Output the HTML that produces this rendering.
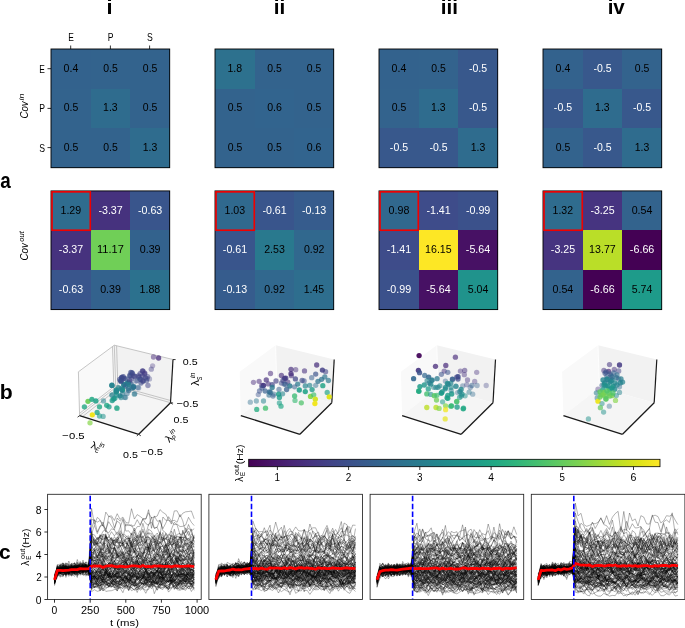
<!DOCTYPE html>
<html><head><meta charset="utf-8"><style>
html,body{margin:0;padding:0;background:#fff;}
body{width:685px;height:628px;overflow:hidden;}
svg{display:block;font-family:"Liberation Sans", sans-serif;will-change:transform;}
</style></head><body>
<svg width="685" height="628" viewBox="0 0 685 628">
<text x="106.47" y="14.40" font-size="20.00" font-weight="bold" textLength="6.06" lengthAdjust="spacingAndGlyphs">i</text>
<text x="273.75" y="14.40" font-size="20.00" font-weight="bold" textLength="11.52" lengthAdjust="spacingAndGlyphs">ii</text>
<text x="440.85" y="14.40" font-size="20.00" font-weight="bold" textLength="17.21" lengthAdjust="spacingAndGlyphs">iii</text>
<text x="607.66" y="14.40" font-size="20.00" font-weight="bold" textLength="17.12" lengthAdjust="spacingAndGlyphs">iv</text>
<text x="0.13" y="188.29" font-size="21.19" font-weight="bold" textLength="10.50" lengthAdjust="spacingAndGlyphs">a</text>
<text x="-0.18" y="398.90" font-size="20.41" font-weight="bold" textLength="12.94" lengthAdjust="spacingAndGlyphs">b</text>
<text x="-1.04" y="559.40" font-size="20.09" font-weight="bold" textLength="11.64" lengthAdjust="spacingAndGlyphs">c</text>
<rect x="51.00" y="49.00" width="40.17" height="40.17" fill="#33628d" shape-rendering="crispEdges"/>
<rect x="90.57" y="49.00" width="40.17" height="40.17" fill="#33638d" shape-rendering="crispEdges"/>
<rect x="130.13" y="49.00" width="40.17" height="40.17" fill="#33638d" shape-rendering="crispEdges"/>
<rect x="51.00" y="88.57" width="40.17" height="40.17" fill="#33638d" shape-rendering="crispEdges"/>
<rect x="90.57" y="88.57" width="40.17" height="40.17" fill="#2f6c8e" shape-rendering="crispEdges"/>
<rect x="130.13" y="88.57" width="40.17" height="40.17" fill="#33638d" shape-rendering="crispEdges"/>
<rect x="51.00" y="128.13" width="40.17" height="40.17" fill="#33638d" shape-rendering="crispEdges"/>
<rect x="90.57" y="128.13" width="40.17" height="40.17" fill="#33638d" shape-rendering="crispEdges"/>
<rect x="130.13" y="128.13" width="40.17" height="40.17" fill="#2f6c8e" shape-rendering="crispEdges"/>
<text x="63.58" y="71.78" font-size="10.17" textLength="14.68" lengthAdjust="spacingAndGlyphs">0.4</text>
<text x="103.29" y="71.78" font-size="10.17" textLength="14.52" lengthAdjust="spacingAndGlyphs">0.5</text>
<text x="142.86" y="71.78" font-size="10.17" textLength="14.52" lengthAdjust="spacingAndGlyphs">0.5</text>
<text x="63.73" y="111.35" font-size="10.17" textLength="14.52" lengthAdjust="spacingAndGlyphs">0.5</text>
<text x="103.12" y="111.35" font-size="10.17" textLength="14.53" lengthAdjust="spacingAndGlyphs">1.3</text>
<text x="142.86" y="111.35" font-size="10.17" textLength="14.52" lengthAdjust="spacingAndGlyphs">0.5</text>
<text x="63.73" y="150.91" font-size="10.17" textLength="14.52" lengthAdjust="spacingAndGlyphs">0.5</text>
<text x="103.29" y="150.91" font-size="10.17" textLength="14.52" lengthAdjust="spacingAndGlyphs">0.5</text>
<text x="142.68" y="150.91" font-size="10.17" textLength="14.53" lengthAdjust="spacingAndGlyphs">1.3</text>
<rect x="51.00" y="49.00" width="118.70" height="118.70" fill="none" stroke="#000" stroke-width="0.9"/>
<rect x="51.00" y="190.90" width="40.17" height="40.17" fill="#2f6c8e" shape-rendering="crispEdges"/>
<rect x="90.57" y="190.90" width="40.17" height="40.17" fill="#46327e" shape-rendering="crispEdges"/>
<rect x="130.13" y="190.90" width="40.17" height="40.17" fill="#39558c" shape-rendering="crispEdges"/>
<rect x="51.00" y="230.47" width="40.17" height="40.17" fill="#46327e" shape-rendering="crispEdges"/>
<rect x="90.57" y="230.47" width="40.17" height="40.17" fill="#70cf57" shape-rendering="crispEdges"/>
<rect x="130.13" y="230.47" width="40.17" height="40.17" fill="#33628d" shape-rendering="crispEdges"/>
<rect x="51.00" y="270.03" width="40.17" height="40.17" fill="#39558c" shape-rendering="crispEdges"/>
<rect x="90.57" y="270.03" width="40.17" height="40.17" fill="#33628d" shape-rendering="crispEdges"/>
<rect x="130.13" y="270.03" width="40.17" height="40.17" fill="#2c718e" shape-rendering="crispEdges"/>
<text x="60.47" y="213.68" font-size="10.17" textLength="20.72" lengthAdjust="spacingAndGlyphs">1.29</text>
<text x="98.42" y="213.68" font-size="10.17" fill="#fff" textLength="24.33" lengthAdjust="spacingAndGlyphs">-3.37</text>
<text x="137.96" y="213.68" font-size="10.17" fill="#fff" textLength="24.30" lengthAdjust="spacingAndGlyphs">-0.63</text>
<text x="58.85" y="253.25" font-size="10.17" fill="#fff" textLength="24.33" lengthAdjust="spacingAndGlyphs">-3.37</text>
<text x="97.05" y="253.22" font-size="10.09" textLength="26.73" lengthAdjust="spacingAndGlyphs">11.17</text>
<text x="139.76" y="253.25" font-size="10.17" textLength="20.78" lengthAdjust="spacingAndGlyphs">0.39</text>
<text x="58.83" y="292.81" font-size="10.17" fill="#fff" textLength="24.30" lengthAdjust="spacingAndGlyphs">-0.63</text>
<text x="100.20" y="292.81" font-size="10.17" textLength="20.78" lengthAdjust="spacingAndGlyphs">0.39</text>
<text x="139.59" y="292.81" font-size="10.17" textLength="20.72" lengthAdjust="spacingAndGlyphs">1.88</text>
<rect x="51.00" y="190.90" width="118.70" height="118.70" fill="none" stroke="#000" stroke-width="0.9"/>
<rect x="52.00" y="191.85" width="38.27" height="38.37" fill="none" stroke="#f00000" stroke-width="1.65"/>
<rect x="215.00" y="49.00" width="40.17" height="40.17" fill="#2d718e" shape-rendering="crispEdges"/>
<rect x="254.57" y="49.00" width="40.17" height="40.17" fill="#33638d" shape-rendering="crispEdges"/>
<rect x="294.13" y="49.00" width="40.17" height="40.17" fill="#33638d" shape-rendering="crispEdges"/>
<rect x="215.00" y="88.57" width="40.17" height="40.17" fill="#33638d" shape-rendering="crispEdges"/>
<rect x="254.57" y="88.57" width="40.17" height="40.17" fill="#32648e" shape-rendering="crispEdges"/>
<rect x="294.13" y="88.57" width="40.17" height="40.17" fill="#33638d" shape-rendering="crispEdges"/>
<rect x="215.00" y="128.13" width="40.17" height="40.17" fill="#33638d" shape-rendering="crispEdges"/>
<rect x="254.57" y="128.13" width="40.17" height="40.17" fill="#33638d" shape-rendering="crispEdges"/>
<rect x="294.13" y="128.13" width="40.17" height="40.17" fill="#32648e" shape-rendering="crispEdges"/>
<text x="227.48" y="71.78" font-size="10.17" textLength="14.66" lengthAdjust="spacingAndGlyphs">1.8</text>
<text x="267.29" y="71.78" font-size="10.17" textLength="14.52" lengthAdjust="spacingAndGlyphs">0.5</text>
<text x="306.86" y="71.78" font-size="10.17" textLength="14.52" lengthAdjust="spacingAndGlyphs">0.5</text>
<text x="227.73" y="111.35" font-size="10.17" textLength="14.52" lengthAdjust="spacingAndGlyphs">0.5</text>
<text x="267.18" y="111.35" font-size="10.17" textLength="14.77" lengthAdjust="spacingAndGlyphs">0.6</text>
<text x="306.86" y="111.35" font-size="10.17" textLength="14.52" lengthAdjust="spacingAndGlyphs">0.5</text>
<text x="227.73" y="150.91" font-size="10.17" textLength="14.52" lengthAdjust="spacingAndGlyphs">0.5</text>
<text x="267.29" y="150.91" font-size="10.17" textLength="14.52" lengthAdjust="spacingAndGlyphs">0.5</text>
<text x="306.74" y="150.91" font-size="10.17" textLength="14.77" lengthAdjust="spacingAndGlyphs">0.6</text>
<rect x="215.00" y="49.00" width="118.70" height="118.70" fill="none" stroke="#000" stroke-width="0.9"/>
<rect x="215.00" y="190.90" width="40.17" height="40.17" fill="#30698e" shape-rendering="crispEdges"/>
<rect x="254.57" y="190.90" width="40.17" height="40.17" fill="#39558c" shape-rendering="crispEdges"/>
<rect x="294.13" y="190.90" width="40.17" height="40.17" fill="#365c8d" shape-rendering="crispEdges"/>
<rect x="215.00" y="230.47" width="40.17" height="40.17" fill="#39558c" shape-rendering="crispEdges"/>
<rect x="254.57" y="230.47" width="40.17" height="40.17" fill="#29798e" shape-rendering="crispEdges"/>
<rect x="294.13" y="230.47" width="40.17" height="40.17" fill="#31688e" shape-rendering="crispEdges"/>
<rect x="215.00" y="270.03" width="40.17" height="40.17" fill="#365c8d" shape-rendering="crispEdges"/>
<rect x="254.57" y="270.03" width="40.17" height="40.17" fill="#31688e" shape-rendering="crispEdges"/>
<rect x="294.13" y="270.03" width="40.17" height="40.17" fill="#2e6e8e" shape-rendering="crispEdges"/>
<text x="224.52" y="213.68" font-size="10.17" textLength="20.59" lengthAdjust="spacingAndGlyphs">1.03</text>
<text x="262.45" y="213.68" font-size="10.17" fill="#fff" textLength="24.26" lengthAdjust="spacingAndGlyphs">-0.61</text>
<text x="301.96" y="213.68" font-size="10.17" fill="#fff" textLength="24.30" lengthAdjust="spacingAndGlyphs">-0.13</text>
<text x="222.88" y="253.25" font-size="10.17" fill="#fff" textLength="24.26" lengthAdjust="spacingAndGlyphs">-0.61</text>
<text x="264.17" y="253.25" font-size="10.17" textLength="20.69" lengthAdjust="spacingAndGlyphs">2.53</text>
<text x="303.91" y="253.25" font-size="10.17" textLength="20.53" lengthAdjust="spacingAndGlyphs">0.92</text>
<text x="222.83" y="292.81" font-size="10.17" fill="#fff" textLength="24.30" lengthAdjust="spacingAndGlyphs">-0.13</text>
<text x="264.34" y="292.81" font-size="10.17" textLength="20.53" lengthAdjust="spacingAndGlyphs">0.92</text>
<text x="303.68" y="292.75" font-size="10.15" textLength="20.51" lengthAdjust="spacingAndGlyphs">1.45</text>
<rect x="215.00" y="190.90" width="118.70" height="118.70" fill="none" stroke="#000" stroke-width="0.9"/>
<rect x="216.00" y="191.85" width="38.27" height="38.37" fill="none" stroke="#f00000" stroke-width="1.65"/>
<rect x="379.00" y="49.00" width="40.17" height="40.17" fill="#33628d" shape-rendering="crispEdges"/>
<rect x="418.57" y="49.00" width="40.17" height="40.17" fill="#33638d" shape-rendering="crispEdges"/>
<rect x="458.13" y="49.00" width="40.17" height="40.17" fill="#38588c" shape-rendering="crispEdges"/>
<rect x="379.00" y="88.57" width="40.17" height="40.17" fill="#33638d" shape-rendering="crispEdges"/>
<rect x="418.57" y="88.57" width="40.17" height="40.17" fill="#2f6c8e" shape-rendering="crispEdges"/>
<rect x="458.13" y="88.57" width="40.17" height="40.17" fill="#38588c" shape-rendering="crispEdges"/>
<rect x="379.00" y="128.13" width="40.17" height="40.17" fill="#38588c" shape-rendering="crispEdges"/>
<rect x="418.57" y="128.13" width="40.17" height="40.17" fill="#38588c" shape-rendering="crispEdges"/>
<rect x="458.13" y="128.13" width="40.17" height="40.17" fill="#2f6c8e" shape-rendering="crispEdges"/>
<text x="391.58" y="71.78" font-size="10.17" textLength="14.68" lengthAdjust="spacingAndGlyphs">0.4</text>
<text x="431.29" y="71.78" font-size="10.17" textLength="14.52" lengthAdjust="spacingAndGlyphs">0.5</text>
<text x="469.02" y="71.78" font-size="10.17" fill="#fff" textLength="18.14" lengthAdjust="spacingAndGlyphs">-0.5</text>
<text x="391.73" y="111.35" font-size="10.17" textLength="14.52" lengthAdjust="spacingAndGlyphs">0.5</text>
<text x="431.12" y="111.35" font-size="10.17" textLength="14.53" lengthAdjust="spacingAndGlyphs">1.3</text>
<text x="469.02" y="111.35" font-size="10.17" fill="#fff" textLength="18.14" lengthAdjust="spacingAndGlyphs">-0.5</text>
<text x="389.89" y="150.91" font-size="10.17" fill="#fff" textLength="18.14" lengthAdjust="spacingAndGlyphs">-0.5</text>
<text x="429.45" y="150.91" font-size="10.17" fill="#fff" textLength="18.14" lengthAdjust="spacingAndGlyphs">-0.5</text>
<text x="470.68" y="150.91" font-size="10.17" textLength="14.53" lengthAdjust="spacingAndGlyphs">1.3</text>
<rect x="379.00" y="49.00" width="118.70" height="118.70" fill="none" stroke="#000" stroke-width="0.9"/>
<rect x="379.00" y="190.90" width="40.17" height="40.17" fill="#31688e" shape-rendering="crispEdges"/>
<rect x="418.57" y="190.90" width="40.17" height="40.17" fill="#3e4c8a" shape-rendering="crispEdges"/>
<rect x="458.13" y="190.90" width="40.17" height="40.17" fill="#3b518b" shape-rendering="crispEdges"/>
<rect x="379.00" y="230.47" width="40.17" height="40.17" fill="#3e4c8a" shape-rendering="crispEdges"/>
<rect x="418.57" y="230.47" width="40.17" height="40.17" fill="#fde725" shape-rendering="crispEdges"/>
<rect x="458.13" y="230.47" width="40.17" height="40.17" fill="#471164" shape-rendering="crispEdges"/>
<rect x="379.00" y="270.03" width="40.17" height="40.17" fill="#3b518b" shape-rendering="crispEdges"/>
<rect x="418.57" y="270.03" width="40.17" height="40.17" fill="#471164" shape-rendering="crispEdges"/>
<rect x="458.13" y="270.03" width="40.17" height="40.17" fill="#20938c" shape-rendering="crispEdges"/>
<text x="388.62" y="213.68" font-size="10.17" textLength="20.77" lengthAdjust="spacingAndGlyphs">0.98</text>
<text x="426.45" y="213.65" font-size="10.09" fill="#fff" textLength="24.26" lengthAdjust="spacingAndGlyphs">-1.41</text>
<text x="465.91" y="213.68" font-size="10.17" fill="#fff" textLength="24.43" lengthAdjust="spacingAndGlyphs">-0.99</text>
<text x="386.88" y="253.22" font-size="10.09" fill="#fff" textLength="24.26" lengthAdjust="spacingAndGlyphs">-1.41</text>
<text x="425.08" y="253.25" font-size="10.17" textLength="26.56" lengthAdjust="spacingAndGlyphs">16.15</text>
<text x="465.84" y="253.25" font-size="10.17" fill="#fff" textLength="24.38" lengthAdjust="spacingAndGlyphs">-5.64</text>
<text x="386.78" y="292.81" font-size="10.17" fill="#fff" textLength="24.43" lengthAdjust="spacingAndGlyphs">-0.99</text>
<text x="426.28" y="292.81" font-size="10.17" fill="#fff" textLength="24.38" lengthAdjust="spacingAndGlyphs">-5.64</text>
<text x="467.75" y="292.81" font-size="10.17" textLength="20.61" lengthAdjust="spacingAndGlyphs">5.04</text>
<rect x="379.00" y="190.90" width="118.70" height="118.70" fill="none" stroke="#000" stroke-width="0.9"/>
<rect x="380.00" y="191.85" width="38.27" height="38.37" fill="none" stroke="#f00000" stroke-width="1.65"/>
<rect x="543.00" y="49.00" width="40.17" height="40.17" fill="#33628d" shape-rendering="crispEdges"/>
<rect x="582.57" y="49.00" width="40.17" height="40.17" fill="#38588c" shape-rendering="crispEdges"/>
<rect x="622.13" y="49.00" width="40.17" height="40.17" fill="#33638d" shape-rendering="crispEdges"/>
<rect x="543.00" y="88.57" width="40.17" height="40.17" fill="#38588c" shape-rendering="crispEdges"/>
<rect x="582.57" y="88.57" width="40.17" height="40.17" fill="#2f6c8e" shape-rendering="crispEdges"/>
<rect x="622.13" y="88.57" width="40.17" height="40.17" fill="#38588c" shape-rendering="crispEdges"/>
<rect x="543.00" y="128.13" width="40.17" height="40.17" fill="#33638d" shape-rendering="crispEdges"/>
<rect x="582.57" y="128.13" width="40.17" height="40.17" fill="#38588c" shape-rendering="crispEdges"/>
<rect x="622.13" y="128.13" width="40.17" height="40.17" fill="#2f6c8e" shape-rendering="crispEdges"/>
<text x="555.58" y="71.78" font-size="10.17" textLength="14.68" lengthAdjust="spacingAndGlyphs">0.4</text>
<text x="593.45" y="71.78" font-size="10.17" fill="#fff" textLength="18.14" lengthAdjust="spacingAndGlyphs">-0.5</text>
<text x="634.86" y="71.78" font-size="10.17" textLength="14.52" lengthAdjust="spacingAndGlyphs">0.5</text>
<text x="553.89" y="111.35" font-size="10.17" fill="#fff" textLength="18.14" lengthAdjust="spacingAndGlyphs">-0.5</text>
<text x="595.12" y="111.35" font-size="10.17" textLength="14.53" lengthAdjust="spacingAndGlyphs">1.3</text>
<text x="633.02" y="111.35" font-size="10.17" fill="#fff" textLength="18.14" lengthAdjust="spacingAndGlyphs">-0.5</text>
<text x="555.73" y="150.91" font-size="10.17" textLength="14.52" lengthAdjust="spacingAndGlyphs">0.5</text>
<text x="593.45" y="150.91" font-size="10.17" fill="#fff" textLength="18.14" lengthAdjust="spacingAndGlyphs">-0.5</text>
<text x="634.68" y="150.91" font-size="10.17" textLength="14.53" lengthAdjust="spacingAndGlyphs">1.3</text>
<rect x="543.00" y="49.00" width="118.70" height="118.70" fill="none" stroke="#000" stroke-width="0.9"/>
<rect x="543.00" y="190.90" width="40.17" height="40.17" fill="#2f6c8e" shape-rendering="crispEdges"/>
<rect x="582.57" y="190.90" width="40.17" height="40.17" fill="#463480" shape-rendering="crispEdges"/>
<rect x="622.13" y="190.90" width="40.17" height="40.17" fill="#33638d" shape-rendering="crispEdges"/>
<rect x="543.00" y="230.47" width="40.17" height="40.17" fill="#463480" shape-rendering="crispEdges"/>
<rect x="582.57" y="230.47" width="40.17" height="40.17" fill="#bade28" shape-rendering="crispEdges"/>
<rect x="622.13" y="230.47" width="40.17" height="40.17" fill="#440154" shape-rendering="crispEdges"/>
<rect x="543.00" y="270.03" width="40.17" height="40.17" fill="#33638d" shape-rendering="crispEdges"/>
<rect x="582.57" y="270.03" width="40.17" height="40.17" fill="#440154" shape-rendering="crispEdges"/>
<rect x="622.13" y="270.03" width="40.17" height="40.17" fill="#1e9b8a" shape-rendering="crispEdges"/>
<text x="552.62" y="213.68" font-size="10.17" textLength="20.47" lengthAdjust="spacingAndGlyphs">1.32</text>
<text x="590.42" y="213.68" font-size="10.17" fill="#fff" textLength="24.22" lengthAdjust="spacingAndGlyphs">-3.25</text>
<text x="631.69" y="213.68" font-size="10.17" textLength="20.73" lengthAdjust="spacingAndGlyphs">0.54</text>
<text x="550.86" y="253.25" font-size="10.17" fill="#fff" textLength="24.22" lengthAdjust="spacingAndGlyphs">-3.25</text>
<text x="589.08" y="253.25" font-size="10.17" textLength="26.67" lengthAdjust="spacingAndGlyphs">13.77</text>
<text x="629.88" y="253.25" font-size="10.17" fill="#fff" textLength="24.47" lengthAdjust="spacingAndGlyphs">-6.66</text>
<text x="552.56" y="292.81" font-size="10.17" textLength="20.73" lengthAdjust="spacingAndGlyphs">0.54</text>
<text x="590.31" y="292.81" font-size="10.17" fill="#fff" textLength="24.47" lengthAdjust="spacingAndGlyphs">-6.66</text>
<text x="631.75" y="292.75" font-size="10.15" textLength="20.61" lengthAdjust="spacingAndGlyphs">5.74</text>
<rect x="543.00" y="190.90" width="118.70" height="118.70" fill="none" stroke="#000" stroke-width="0.9"/>
<rect x="544.00" y="191.85" width="38.27" height="38.37" fill="none" stroke="#f00000" stroke-width="1.65"/>
<line x1="70.70" y1="49" x2="70.70" y2="45.5" stroke="#000" stroke-width="0.8"/>
<text x="68.23" y="41.10" font-size="10.30" textLength="5.61" lengthAdjust="spacingAndGlyphs">E</text>
<line x1="51" y1="68.70" x2="47.5" y2="68.70" stroke="#000" stroke-width="0.8"/>
<text x="39.35" y="73.04" font-size="10.30" textLength="5.61" lengthAdjust="spacingAndGlyphs">E</text>
<line x1="110.40" y1="49" x2="110.40" y2="45.5" stroke="#000" stroke-width="0.8"/>
<text x="107.75" y="41.10" font-size="10.30" textLength="5.74" lengthAdjust="spacingAndGlyphs">P</text>
<line x1="51" y1="108.40" x2="47.5" y2="108.40" stroke="#000" stroke-width="0.8"/>
<text x="39.31" y="112.44" font-size="10.30" textLength="5.74" lengthAdjust="spacingAndGlyphs">P</text>
<line x1="149.60" y1="49" x2="149.60" y2="45.5" stroke="#000" stroke-width="0.8"/>
<text x="146.91" y="41.00" font-size="10.39" textLength="5.79" lengthAdjust="spacingAndGlyphs">S</text>
<line x1="51" y1="147.60" x2="47.5" y2="147.60" stroke="#000" stroke-width="0.8"/>
<text x="39.21" y="152.02" font-size="10.39" textLength="5.79" lengthAdjust="spacingAndGlyphs">S</text>
<g transform="translate(27.70 118.10) rotate(-90)">
<text x="-0.53" y="0.00" font-size="10.70" font-style="italic" textLength="17.28" lengthAdjust="spacingAndGlyphs">Cov</text>
<text x="17.54" y="-3.70" font-size="7.40" font-style="italic" textLength="6.97" lengthAdjust="spacingAndGlyphs">in</text>
</g>
<g transform="translate(27.50 259.90) rotate(-90)">
<text x="-0.54" y="0.00" font-size="10.70" font-style="italic" textLength="17.38" lengthAdjust="spacingAndGlyphs">Cov</text>
<text x="18.26" y="-3.70" font-size="7.20" font-style="italic" textLength="10.38" lengthAdjust="spacingAndGlyphs">out</text>
</g>
<polygon points="79.6,415.6 78.4,371.8 114.3,345.2 115.7,387.5" fill="#f9f9f9" stroke="none" stroke-width="0.8"/>
<polygon points="115.7,387.5 114.3,345.2 173.0,359.5 170.5,402.7" fill="#f2f2f2" stroke="none" stroke-width="0.8"/>
<polygon points="79.6,415.6 115.7,387.5 170.5,402.7 138.7,434.3" fill="#f5f5f5" stroke="none" stroke-width="0.8"/>
<line x1="78.4" y1="371.8" x2="114.3" y2="345.2" stroke="#b8b8b8" stroke-width="0.8"/>
<line x1="114.3" y1="345.2" x2="173.0" y2="359.5" stroke="#b8b8b8" stroke-width="0.8"/>
<line x1="78.4" y1="371.8" x2="79.6" y2="415.6" stroke="#b8b8b8" stroke-width="0.8"/>
<line x1="114.3" y1="345.2" x2="115.7" y2="387.5" stroke="#b8b8b8" stroke-width="0.8"/>
<line x1="112.5" y1="346.5" x2="113.9" y2="388.9" stroke="#b8b8b8" stroke-width="0.8"/>
<line x1="116.6" y1="345.8" x2="117.9" y2="388.1" stroke="#b8b8b8" stroke-width="0.8"/>
<line x1="79.6" y1="415.6" x2="115.7" y2="387.5" stroke="#b8b8b8" stroke-width="0.8"/>
<line x1="82.6" y1="416.5" x2="118.4" y2="388.3" stroke="#b8b8b8" stroke-width="0.8"/>
<line x1="115.7" y1="387.5" x2="170.5" y2="402.7" stroke="#b8b8b8" stroke-width="0.8"/>
<line x1="115.6" y1="385.4" x2="170.6" y2="400.5" stroke="#b8b8b8" stroke-width="0.8"/>
<line x1="79.5" y1="413.4" x2="115.6" y2="385.4" stroke="#b8b8b8" stroke-width="0.8"/>
<line x1="79.6" y1="415.6" x2="138.7" y2="434.3" stroke="#1a1a1a" stroke-width="1.3"/>
<line x1="138.7" y1="434.3" x2="170.5" y2="402.7" stroke="#1a1a1a" stroke-width="1.3"/>
<line x1="170.5" y1="402.7" x2="173.0" y2="359.5" stroke="#1a1a1a" stroke-width="1.2"/>
<polygon points="240.8,415.6 239.7,371.8 275.6,345.2 276.9,387.5" fill="#f9f9f9" stroke="none" stroke-width="0.8"/>
<polygon points="276.9,387.5 275.6,345.2 334.2,359.5 331.8,402.7" fill="#f2f2f2" stroke="none" stroke-width="0.8"/>
<polygon points="240.8,415.6 276.9,387.5 331.8,402.7 299.9,434.3" fill="#f5f5f5" stroke="none" stroke-width="0.8"/>
<line x1="275.6" y1="345.2" x2="276.9" y2="387.5" stroke="#ffffff" stroke-width="0.8"/>
<line x1="240.8" y1="415.6" x2="299.9" y2="434.3" stroke="#1a1a1a" stroke-width="1.3"/>
<line x1="299.9" y1="434.3" x2="331.8" y2="402.7" stroke="#1a1a1a" stroke-width="1.3"/>
<line x1="331.8" y1="402.7" x2="334.2" y2="359.5" stroke="#1a1a1a" stroke-width="1.2"/>
<polygon points="402.1,415.6 400.9,371.8 436.8,345.2 438.2,387.5" fill="#f9f9f9" stroke="none" stroke-width="0.8"/>
<polygon points="438.2,387.5 436.8,345.2 495.5,359.5 493.0,402.7" fill="#f2f2f2" stroke="none" stroke-width="0.8"/>
<polygon points="402.1,415.6 438.2,387.5 493.0,402.7 461.2,434.3" fill="#f5f5f5" stroke="none" stroke-width="0.8"/>
<line x1="436.8" y1="345.2" x2="438.2" y2="387.5" stroke="#ffffff" stroke-width="0.8"/>
<line x1="402.1" y1="415.6" x2="461.2" y2="434.3" stroke="#1a1a1a" stroke-width="1.3"/>
<line x1="461.2" y1="434.3" x2="493.0" y2="402.7" stroke="#1a1a1a" stroke-width="1.3"/>
<line x1="493.0" y1="402.7" x2="495.5" y2="359.5" stroke="#1a1a1a" stroke-width="1.2"/>
<polygon points="563.4,415.6 562.1,371.8 598.0,345.2 599.5,387.5" fill="#f9f9f9" stroke="none" stroke-width="0.8"/>
<polygon points="599.5,387.5 598.0,345.2 656.8,359.5 654.2,402.7" fill="#f2f2f2" stroke="none" stroke-width="0.8"/>
<polygon points="563.4,415.6 599.5,387.5 654.2,402.7 622.5,434.3" fill="#f5f5f5" stroke="none" stroke-width="0.8"/>
<line x1="598.0" y1="345.2" x2="599.5" y2="387.5" stroke="#ffffff" stroke-width="0.8"/>
<line x1="563.4" y1="415.6" x2="622.5" y2="434.3" stroke="#1a1a1a" stroke-width="1.3"/>
<line x1="622.5" y1="434.3" x2="654.2" y2="402.7" stroke="#1a1a1a" stroke-width="1.3"/>
<line x1="654.2" y1="402.7" x2="656.8" y2="359.5" stroke="#1a1a1a" stroke-width="1.2"/>
<line x1="173.0" y1="359.5" x2="175.6" y2="359.6" stroke="#222" stroke-width="0.9"/>
<line x1="170.5" y1="402.7" x2="173.1" y2="403.0" stroke="#222" stroke-width="0.9"/>
<line x1="79.6" y1="415.6" x2="77.6" y2="417.2" stroke="#222" stroke-width="0.9"/>
<line x1="138.7" y1="434.3" x2="136.8" y2="436.0" stroke="#222" stroke-width="0.9"/>
<line x1="138.7" y1="434.3" x2="140.8" y2="435.8" stroke="#222" stroke-width="0.9"/>
<line x1="170.5" y1="402.7" x2="172.6" y2="404.2" stroke="#222" stroke-width="0.9"/>
<text x="182.77" y="365.40" font-size="9.89" textLength="14.86" lengthAdjust="spacingAndGlyphs">0.5</text>
<text x="176.65" y="407.20" font-size="9.89" textLength="21.81" lengthAdjust="spacingAndGlyphs">−0.5</text>
<text x="173.57" y="422.70" font-size="9.89" textLength="14.86" lengthAdjust="spacingAndGlyphs">0.5</text>
<text x="140.84" y="455.00" font-size="9.89" textLength="22.23" lengthAdjust="spacingAndGlyphs">−0.5</text>
<text x="123.07" y="458.20" font-size="9.89" textLength="14.86" lengthAdjust="spacingAndGlyphs">0.5</text>
<text x="62.33" y="438.60" font-size="9.89" textLength="22.34" lengthAdjust="spacingAndGlyphs">−0.5</text>
<g transform="translate(199.00 385.60) rotate(-90)">
<text x="-0.09" y="0.00" font-size="10.30" textLength="5.80" lengthAdjust="spacingAndGlyphs">λ</text>
<text x="5.45" y="2.60" font-size="7.60" font-style="italic" textLength="3.61" lengthAdjust="spacingAndGlyphs">S</text>
<text x="7.68" y="-3.90" font-size="7.20" font-style="italic" textLength="5.23" lengthAdjust="spacingAndGlyphs">in</text>
</g>
<g transform="translate(169.40 442.90) rotate(-45)">
<text x="-0.09" y="0.00" font-size="10.30" textLength="5.80" lengthAdjust="spacingAndGlyphs">λ</text>
<text x="5.44" y="2.60" font-size="7.60" font-style="italic" textLength="3.60" lengthAdjust="spacingAndGlyphs">P</text>
<text x="7.68" y="-3.90" font-size="7.20" font-style="italic" textLength="5.23" lengthAdjust="spacingAndGlyphs">in</text>
</g>
<g transform="translate(90.40 447.90) rotate(17.6)">
<text x="-0.09" y="0.00" font-size="10.30" textLength="5.80" lengthAdjust="spacingAndGlyphs">λ</text>
<text x="5.44" y="2.60" font-size="7.60" font-style="italic" textLength="3.52" lengthAdjust="spacingAndGlyphs">E</text>
<text x="7.68" y="-3.90" font-size="7.20" font-style="italic" textLength="5.23" lengthAdjust="spacingAndGlyphs">in</text>
</g>
<circle cx="153.5" cy="357.0" r="2.65" fill="#472a7a" fill-opacity="0.50"/>
<circle cx="158.6" cy="358.0" r="2.65" fill="#472a7a" fill-opacity="0.75"/>
<circle cx="152.6" cy="365.8" r="2.65" fill="#463480" fill-opacity="0.35"/>
<circle cx="151.3" cy="369.2" r="2.65" fill="#433e85" fill-opacity="0.42"/>
<circle cx="148.1" cy="385.3" r="2.65" fill="#414487" fill-opacity="0.30"/>
<circle cx="143.0" cy="371.1" r="2.65" fill="#443a83" fill-opacity="0.64"/>
<circle cx="144.6" cy="373.9" r="2.65" fill="#433e85" fill-opacity="0.59"/>
<circle cx="131.9" cy="372.7" r="2.65" fill="#3e4c8a" fill-opacity="0.68"/>
<circle cx="130.3" cy="375.9" r="2.65" fill="#3e4c8a" fill-opacity="0.68"/>
<circle cx="138.3" cy="375.9" r="2.65" fill="#414487" fill-opacity="0.59"/>
<circle cx="139.9" cy="379.1" r="2.65" fill="#3e4989" fill-opacity="0.59"/>
<circle cx="147.0" cy="378.7" r="2.65" fill="#414487" fill-opacity="0.50"/>
<circle cx="135.9" cy="381.1" r="2.65" fill="#3b528b" fill-opacity="0.45"/>
<circle cx="143.0" cy="380.7" r="2.65" fill="#414487" fill-opacity="0.60"/>
<circle cx="147.8" cy="385.5" r="2.65" fill="#414487" fill-opacity="0.30"/>
<circle cx="138.7" cy="387.9" r="2.65" fill="#3b528b" fill-opacity="0.35"/>
<circle cx="121.6" cy="377.5" r="2.65" fill="#3e4989" fill-opacity="0.80"/>
<circle cx="120.8" cy="380.7" r="2.65" fill="#3e4989" fill-opacity="0.80"/>
<circle cx="127.9" cy="383.1" r="2.65" fill="#2c738e" fill-opacity="0.80"/>
<circle cx="123.9" cy="384.7" r="2.65" fill="#287d8e" fill-opacity="0.85"/>
<circle cx="133.5" cy="387.1" r="2.65" fill="#2e6f8e" fill-opacity="0.80"/>
<circle cx="131.1" cy="383.9" r="2.65" fill="#355f8d" fill-opacity="0.70"/>
<circle cx="122.4" cy="390.3" r="2.65" fill="#1f958b" fill-opacity="0.90"/>
<circle cx="116.4" cy="391.8" r="2.65" fill="#1f958b" fill-opacity="0.85"/>
<circle cx="120.0" cy="395.8" r="2.65" fill="#25848e" fill-opacity="0.85"/>
<circle cx="127.1" cy="393.4" r="2.65" fill="#2f6c8e" fill-opacity="0.50"/>
<circle cx="134.3" cy="394.2" r="2.65" fill="#25848e" fill-opacity="0.50"/>
<circle cx="113.6" cy="399.0" r="2.65" fill="#1e9c89" fill-opacity="0.85"/>
<circle cx="124.7" cy="397.4" r="2.65" fill="#2c738e" fill-opacity="0.50"/>
<circle cx="116.8" cy="407.8" r="2.65" fill="#1e9c89" fill-opacity="0.60"/>
<circle cx="112.0" cy="385.4" r="2.65" fill="#287d8e" fill-opacity="0.90"/>
<circle cx="88.0" cy="401.3" r="2.65" fill="#6ece58" fill-opacity="0.95"/>
<circle cx="91.9" cy="399.3" r="2.65" fill="#22a884" fill-opacity="0.85"/>
<circle cx="95.9" cy="400.9" r="2.65" fill="#1fa188" fill-opacity="0.85"/>
<circle cx="84.4" cy="406.8" r="2.65" fill="#22a884" fill-opacity="0.80"/>
<circle cx="99.5" cy="406.8" r="2.65" fill="#22a884" fill-opacity="0.80"/>
<circle cx="103.5" cy="400.9" r="2.65" fill="#25848e" fill-opacity="0.55"/>
<circle cx="106.7" cy="405.3" r="2.65" fill="#22a884" fill-opacity="0.80"/>
<circle cx="109.0" cy="406.8" r="2.65" fill="#1e9c89" fill-opacity="0.75"/>
<circle cx="117.0" cy="408.4" r="2.65" fill="#22a884" fill-opacity="0.60"/>
<circle cx="97.1" cy="412.4" r="2.65" fill="#22a884" fill-opacity="0.80"/>
<circle cx="92.3" cy="414.8" r="2.65" fill="#f1e51d" fill-opacity="1.00"/>
<circle cx="99.5" cy="416.0" r="2.65" fill="#1e9c89" fill-opacity="0.60"/>
<circle cx="103.1" cy="416.4" r="2.65" fill="#21918c" fill-opacity="0.55"/>
<circle cx="90.0" cy="422.8" r="2.65" fill="#86d549" fill-opacity="0.70"/>
<circle cx="112.2" cy="394.9" r="2.65" fill="#287d8e" fill-opacity="0.50"/>
<circle cx="112.2" cy="400.5" r="2.65" fill="#1e9c89" fill-opacity="0.80"/>
<circle cx="116.2" cy="391.7" r="2.65" fill="#1f958b" fill-opacity="0.85"/>
<circle cx="135.0" cy="376.5" r="2.65" fill="#404688" fill-opacity="0.64"/>
<circle cx="141.0" cy="383.0" r="2.65" fill="#3e4989" fill-opacity="0.60"/>
<circle cx="126.0" cy="379.0" r="2.65" fill="#3b528b" fill-opacity="0.70"/>
<circle cx="128.5" cy="388.5" r="2.65" fill="#2a788e" fill-opacity="0.75"/>
<circle cx="122.0" cy="377.8" r="2.65" fill="#3e4989" fill-opacity="0.75"/>
<circle cx="121.4" cy="380.7" r="2.65" fill="#3c4f8a" fill-opacity="0.70"/>
<circle cx="119.7" cy="379.5" r="2.65" fill="#3e4989" fill-opacity="0.60"/>
<circle cx="123.2" cy="376.6" r="2.65" fill="#3e4989" fill-opacity="0.70"/>
<circle cx="126.7" cy="383.6" r="2.65" fill="#287d8e" fill-opacity="0.80"/>
<circle cx="123.8" cy="384.8" r="2.65" fill="#287d8e" fill-opacity="0.80"/>
<circle cx="128.4" cy="382.4" r="2.65" fill="#2a788e" fill-opacity="0.75"/>
<circle cx="133.7" cy="386.5" r="2.65" fill="#2c738e" fill-opacity="0.70"/>
<circle cx="131.9" cy="388.3" r="2.65" fill="#2e6f8e" fill-opacity="0.60"/>
<circle cx="122.6" cy="389.4" r="2.65" fill="#1f958b" fill-opacity="0.85"/>
<circle cx="118.5" cy="387.7" r="2.65" fill="#25848e" fill-opacity="0.70"/>
<circle cx="116.2" cy="390.0" r="2.65" fill="#21918c" fill-opacity="0.80"/>
<circle cx="130.8" cy="372.5" r="2.65" fill="#3e4989" fill-opacity="0.64"/>
<circle cx="132.5" cy="373.7" r="2.65" fill="#3e4989" fill-opacity="0.64"/>
<circle cx="129.6" cy="375.4" r="2.65" fill="#3e4c8a" fill-opacity="0.59"/>
<circle cx="133.7" cy="376.0" r="2.65" fill="#414487" fill-opacity="0.59"/>
<circle cx="131.4" cy="379.0" r="2.65" fill="#404688" fill-opacity="0.59"/>
<circle cx="129.6" cy="380.7" r="2.65" fill="#414487" fill-opacity="0.60"/>
<circle cx="142.4" cy="370.8" r="2.65" fill="#433e85" fill-opacity="0.64"/>
<circle cx="144.8" cy="373.1" r="2.65" fill="#443a83" fill-opacity="0.59"/>
<circle cx="140.1" cy="373.7" r="2.65" fill="#424086" fill-opacity="0.59"/>
<circle cx="142.4" cy="376.0" r="2.65" fill="#424086" fill-opacity="0.64"/>
<circle cx="139.0" cy="377.2" r="2.65" fill="#404688" fill-opacity="0.59"/>
<circle cx="140.7" cy="379.5" r="2.65" fill="#3e4c8a" fill-opacity="0.55"/>
<circle cx="145.4" cy="377.8" r="2.65" fill="#414487" fill-opacity="0.60"/>
<circle cx="147.7" cy="376.6" r="2.65" fill="#414487" fill-opacity="0.50"/>
<circle cx="149.5" cy="378.9" r="2.65" fill="#414487" fill-opacity="0.35"/>
<circle cx="137.2" cy="380.7" r="2.65" fill="#3b528b" fill-opacity="0.40"/>
<circle cx="143.0" cy="381.3" r="2.65" fill="#414487" fill-opacity="0.60"/>
<circle cx="146.5" cy="380.7" r="2.65" fill="#3e4989" fill-opacity="0.50"/>
<circle cx="111.8" cy="385.2" r="2.65" fill="#25848e" fill-opacity="0.80"/>
<circle cx="116.4" cy="390.6" r="2.65" fill="#25848e" fill-opacity="0.80"/>
<circle cx="121.0" cy="389.0" r="2.65" fill="#25848e" fill-opacity="0.80"/>
<circle cx="122.5" cy="393.7" r="2.65" fill="#2a788e" fill-opacity="0.60"/>
<circle cx="116.4" cy="395.2" r="2.65" fill="#228b8d" fill-opacity="0.75"/>
<circle cx="111.8" cy="395.2" r="2.65" fill="#25848e" fill-opacity="0.50"/>
<circle cx="114.9" cy="398.3" r="2.65" fill="#1f958b" fill-opacity="0.75"/>
<circle cx="125.6" cy="386.0" r="2.65" fill="#31678e" fill-opacity="0.70"/>
<circle cx="128.7" cy="390.6" r="2.65" fill="#2f6c8e" fill-opacity="0.65"/>
<circle cx="133.3" cy="387.5" r="2.65" fill="#2c738e" fill-opacity="0.70"/>
<circle cx="134.8" cy="393.7" r="2.65" fill="#2f6c8e" fill-opacity="0.45"/>
<circle cx="121.0" cy="397.5" r="2.65" fill="#25848e" fill-opacity="0.60"/>
<circle cx="125.6" cy="397.5" r="2.65" fill="#2c738e" fill-opacity="0.45"/>
<circle cx="128.7" cy="384.5" r="2.65" fill="#287d8e" fill-opacity="0.75"/>
<circle cx="137.9" cy="387.5" r="2.65" fill="#31678e" fill-opacity="0.45"/>
<circle cx="121.0" cy="381.4" r="2.65" fill="#3b528b" fill-opacity="0.70"/>
<circle cx="124.0" cy="378.3" r="2.65" fill="#3e4989" fill-opacity="0.70"/>
<circle cx="270.5" cy="373.5" r="2.65" fill="#472a7a" fill-opacity="0.53"/>
<circle cx="253.5" cy="382.3" r="2.65" fill="#472a7a" fill-opacity="0.48"/>
<circle cx="259.1" cy="381.3" r="2.65" fill="#472a7a" fill-opacity="0.53"/>
<circle cx="266.3" cy="379.9" r="2.65" fill="#472e7c" fill-opacity="0.68"/>
<circle cx="261.9" cy="385.5" r="2.65" fill="#46307e" fill-opacity="0.68"/>
<circle cx="263.5" cy="385.5" r="2.65" fill="#453781" fill-opacity="0.88"/>
<circle cx="268.3" cy="383.9" r="2.65" fill="#46307e" fill-opacity="0.58"/>
<circle cx="272.2" cy="384.7" r="2.65" fill="#414487" fill-opacity="0.68"/>
<circle cx="272.2" cy="387.5" r="2.65" fill="#2a788e" fill-opacity="0.78"/>
<circle cx="259.5" cy="391.0" r="2.65" fill="#3b528b" fill-opacity="0.53"/>
<circle cx="258.3" cy="394.6" r="2.65" fill="#3b528b" fill-opacity="0.43"/>
<circle cx="265.1" cy="391.0" r="2.65" fill="#355f8d" fill-opacity="0.68"/>
<circle cx="269.4" cy="391.8" r="2.65" fill="#31678e" fill-opacity="0.78"/>
<circle cx="269.0" cy="395.0" r="2.65" fill="#2f6c8e" fill-opacity="0.58"/>
<circle cx="273.8" cy="394.2" r="2.65" fill="#2f6c8e" fill-opacity="0.48"/>
<circle cx="250.3" cy="402.2" r="2.65" fill="#2f6c8e" fill-opacity="0.43"/>
<circle cx="256.3" cy="401.0" r="2.65" fill="#2a788e" fill-opacity="0.48"/>
<circle cx="263.5" cy="401.0" r="2.65" fill="#25848e" fill-opacity="0.53"/>
<circle cx="265.5" cy="408.2" r="2.65" fill="#44bf70" fill-opacity="0.78"/>
<circle cx="256.7" cy="409.4" r="2.65" fill="#26ad81" fill-opacity="0.78"/>
<circle cx="281.4" cy="375.5" r="2.65" fill="#472e7c" fill-opacity="0.63"/>
<circle cx="284.6" cy="378.3" r="2.65" fill="#453781" fill-opacity="0.83"/>
<circle cx="281.4" cy="383.1" r="2.65" fill="#3e4989" fill-opacity="0.53"/>
<circle cx="284.2" cy="383.9" r="2.65" fill="#3b528b" fill-opacity="0.58"/>
<circle cx="279.0" cy="389.5" r="2.65" fill="#355f8d" fill-opacity="0.53"/>
<circle cx="278.6" cy="394.2" r="2.65" fill="#1e9c89" fill-opacity="0.83"/>
<circle cx="279.4" cy="397.4" r="2.65" fill="#1e9c89" fill-opacity="0.78"/>
<circle cx="282.6" cy="393.8" r="2.65" fill="#25848e" fill-opacity="0.58"/>
<circle cx="279.4" cy="403.0" r="2.65" fill="#1e9c89" fill-opacity="0.58"/>
<circle cx="281.0" cy="406.2" r="2.65" fill="#22a884" fill-opacity="0.68"/>
<circle cx="286.6" cy="389.5" r="2.65" fill="#355f8d" fill-opacity="0.48"/>
<circle cx="316.7" cy="365.0" r="2.65" fill="#472e7c" fill-opacity="0.73"/>
<circle cx="291.0" cy="369.3" r="2.65" fill="#472e7c" fill-opacity="0.68"/>
<circle cx="295.7" cy="369.7" r="2.65" fill="#472e7c" fill-opacity="0.48"/>
<circle cx="304.5" cy="370.9" r="2.65" fill="#46307e" fill-opacity="0.58"/>
<circle cx="322.4" cy="370.1" r="2.65" fill="#433e85" fill-opacity="0.83"/>
<circle cx="325.6" cy="371.7" r="2.65" fill="#414487" fill-opacity="0.58"/>
<circle cx="291.0" cy="373.7" r="2.65" fill="#472e7c" fill-opacity="0.78"/>
<circle cx="291.4" cy="375.7" r="2.65" fill="#46307e" fill-opacity="0.58"/>
<circle cx="315.7" cy="374.1" r="2.65" fill="#3b528b" fill-opacity="0.68"/>
<circle cx="311.7" cy="377.7" r="2.65" fill="#355f8d" fill-opacity="0.53"/>
<circle cx="285.8" cy="378.1" r="2.65" fill="#443a83" fill-opacity="0.78"/>
<circle cx="295.4" cy="378.9" r="2.65" fill="#414487" fill-opacity="0.73"/>
<circle cx="302.1" cy="380.5" r="2.65" fill="#3e4989" fill-opacity="0.63"/>
<circle cx="304.1" cy="380.9" r="2.65" fill="#3b528b" fill-opacity="0.53"/>
<circle cx="287.8" cy="382.1" r="2.65" fill="#463480" fill-opacity="0.58"/>
<circle cx="318.0" cy="381.3" r="2.65" fill="#2c738e" fill-opacity="0.73"/>
<circle cx="321.6" cy="379.3" r="2.65" fill="#2c738e" fill-opacity="0.73"/>
<circle cx="324.8" cy="376.9" r="2.65" fill="#2c738e" fill-opacity="0.68"/>
<circle cx="328.4" cy="380.5" r="2.65" fill="#2a788e" fill-opacity="0.68"/>
<circle cx="289.8" cy="386.0" r="2.65" fill="#2a788e" fill-opacity="0.83"/>
<circle cx="297.7" cy="384.1" r="2.65" fill="#2a788e" fill-opacity="0.73"/>
<circle cx="294.6" cy="386.8" r="2.65" fill="#355f8d" fill-opacity="0.53"/>
<circle cx="305.3" cy="386.0" r="2.65" fill="#25848e" fill-opacity="0.68"/>
<circle cx="309.7" cy="385.3" r="2.65" fill="#25848e" fill-opacity="0.63"/>
<circle cx="315.7" cy="385.3" r="2.65" fill="#2f6c8e" fill-opacity="0.48"/>
<circle cx="322.8" cy="385.7" r="2.65" fill="#20a386" fill-opacity="0.83"/>
<circle cx="299.3" cy="390.0" r="2.65" fill="#1e9c89" fill-opacity="0.88"/>
<circle cx="305.3" cy="391.6" r="2.65" fill="#20a386" fill-opacity="0.88"/>
<circle cx="312.1" cy="389.6" r="2.65" fill="#1e9c89" fill-opacity="0.78"/>
<circle cx="286.6" cy="389.6" r="2.65" fill="#355f8d" fill-opacity="0.48"/>
<circle cx="327.2" cy="392.4" r="2.65" fill="#20a386" fill-opacity="0.68"/>
<circle cx="294.6" cy="396.0" r="2.65" fill="#3bbb75" fill-opacity="0.78"/>
<circle cx="295.0" cy="400.4" r="2.65" fill="#3bbb75" fill-opacity="0.63"/>
<circle cx="301.3" cy="402.8" r="2.65" fill="#4ec36b" fill-opacity="0.73"/>
<circle cx="310.5" cy="396.4" r="2.65" fill="#86d549" fill-opacity="0.93"/>
<circle cx="313.7" cy="394.8" r="2.65" fill="#44bf70" fill-opacity="0.68"/>
<circle cx="315.3" cy="399.2" r="2.65" fill="#d2e21b" fill-opacity="0.93"/>
<circle cx="314.9" cy="403.6" r="2.65" fill="#f1e51d" fill-opacity="0.98"/>
<circle cx="329.2" cy="396.8" r="2.65" fill="#dfe318" fill-opacity="0.98"/>
<circle cx="283.0" cy="380.5" r="2.65" fill="#414487" fill-opacity="0.63"/>
<circle cx="285.5" cy="384.5" r="2.65" fill="#355f8d" fill-opacity="0.58"/>
<circle cx="270.5" cy="392.5" r="2.65" fill="#2f6c8e" fill-opacity="0.63"/>
<circle cx="273.0" cy="396.0" r="2.65" fill="#355f8d" fill-opacity="0.53"/>
<circle cx="262.0" cy="388.0" r="2.65" fill="#3b528b" fill-opacity="0.58"/>
<circle cx="276.0" cy="381.0" r="2.65" fill="#433e85" fill-opacity="0.63"/>
<circle cx="419.1" cy="355.6" r="2.65" fill="#46085c" fill-opacity="0.95"/>
<circle cx="455.4" cy="357.2" r="2.65" fill="#472a7a" fill-opacity="0.65"/>
<circle cx="435.5" cy="366.3" r="2.65" fill="#472a7a" fill-opacity="0.75"/>
<circle cx="445.8" cy="365.5" r="2.65" fill="#472a7a" fill-opacity="0.70"/>
<circle cx="418.4" cy="370.3" r="2.65" fill="#463480" fill-opacity="0.90"/>
<circle cx="419.5" cy="372.7" r="2.65" fill="#3b528b" fill-opacity="0.85"/>
<circle cx="444.2" cy="371.1" r="2.65" fill="#46307e" fill-opacity="0.50"/>
<circle cx="447.8" cy="372.3" r="2.65" fill="#3b528b" fill-opacity="0.55"/>
<circle cx="441.4" cy="374.3" r="2.65" fill="#3b528b" fill-opacity="0.55"/>
<circle cx="413.6" cy="378.7" r="2.65" fill="#31678e" fill-opacity="0.90"/>
<circle cx="424.7" cy="375.5" r="2.65" fill="#31678e" fill-opacity="0.70"/>
<circle cx="428.7" cy="377.1" r="2.65" fill="#31678e" fill-opacity="0.85"/>
<circle cx="437.1" cy="378.7" r="2.65" fill="#2a788e" fill-opacity="0.75"/>
<circle cx="431.9" cy="380.3" r="2.65" fill="#25848e" fill-opacity="0.80"/>
<circle cx="427.1" cy="380.7" r="2.65" fill="#25848e" fill-opacity="0.60"/>
<circle cx="445.4" cy="381.1" r="2.65" fill="#355f8d" fill-opacity="0.40"/>
<circle cx="452.6" cy="379.5" r="2.65" fill="#375a8c" fill-opacity="0.60"/>
<circle cx="456.6" cy="377.1" r="2.65" fill="#414487" fill-opacity="0.60"/>
<circle cx="424.3" cy="385.0" r="2.65" fill="#1f958b" fill-opacity="0.80"/>
<circle cx="419.9" cy="386.6" r="2.65" fill="#1e9c89" fill-opacity="0.85"/>
<circle cx="430.7" cy="384.2" r="2.65" fill="#228b8d" fill-opacity="0.80"/>
<circle cx="435.9" cy="387.4" r="2.65" fill="#228b8d" fill-opacity="0.60"/>
<circle cx="439.8" cy="385.8" r="2.65" fill="#228b8d" fill-opacity="0.60"/>
<circle cx="447.4" cy="383.4" r="2.65" fill="#21918c" fill-opacity="0.80"/>
<circle cx="428.3" cy="389.0" r="2.65" fill="#1e9c89" fill-opacity="0.75"/>
<circle cx="418.7" cy="391.0" r="2.65" fill="#2fb47c" fill-opacity="0.85"/>
<circle cx="441.4" cy="393.0" r="2.65" fill="#20a386" fill-opacity="0.80"/>
<circle cx="447.0" cy="397.8" r="2.65" fill="#20a386" fill-opacity="0.80"/>
<circle cx="451.8" cy="393.4" r="2.65" fill="#21918c" fill-opacity="0.50"/>
<circle cx="445.4" cy="387.4" r="2.65" fill="#228b8d" fill-opacity="0.70"/>
<circle cx="451.0" cy="387.4" r="2.65" fill="#228b8d" fill-opacity="0.60"/>
<circle cx="455.8" cy="386.2" r="2.65" fill="#25848e" fill-opacity="0.50"/>
<circle cx="460.4" cy="371.1" r="2.65" fill="#46307e" fill-opacity="0.45"/>
<circle cx="464.7" cy="370.4" r="2.65" fill="#46307e" fill-opacity="0.50"/>
<circle cx="464.3" cy="374.7" r="2.65" fill="#46307e" fill-opacity="0.45"/>
<circle cx="476.7" cy="372.3" r="2.65" fill="#46307e" fill-opacity="0.40"/>
<circle cx="458.0" cy="376.7" r="2.65" fill="#3e4989" fill-opacity="0.85"/>
<circle cx="458.0" cy="379.1" r="2.65" fill="#3e4989" fill-opacity="0.70"/>
<circle cx="452.4" cy="379.1" r="2.65" fill="#355f8d" fill-opacity="0.75"/>
<circle cx="467.5" cy="379.9" r="2.65" fill="#463480" fill-opacity="0.45"/>
<circle cx="474.7" cy="381.5" r="2.65" fill="#463480" fill-opacity="0.40"/>
<circle cx="486.2" cy="385.5" r="2.65" fill="#414487" fill-opacity="0.35"/>
<circle cx="462.7" cy="385.9" r="2.65" fill="#355f8d" fill-opacity="0.40"/>
<circle cx="466.7" cy="384.7" r="2.65" fill="#414487" fill-opacity="0.40"/>
<circle cx="471.9" cy="385.5" r="2.65" fill="#355f8d" fill-opacity="0.50"/>
<circle cx="477.1" cy="385.5" r="2.65" fill="#355f8d" fill-opacity="0.40"/>
<circle cx="470.3" cy="387.5" r="2.65" fill="#355f8d" fill-opacity="0.40"/>
<circle cx="456.0" cy="386.3" r="2.65" fill="#25848e" fill-opacity="0.60"/>
<circle cx="450.8" cy="383.1" r="2.65" fill="#25848e" fill-opacity="0.70"/>
<circle cx="461.1" cy="389.5" r="2.65" fill="#228b8d" fill-opacity="0.80"/>
<circle cx="469.1" cy="392.2" r="2.65" fill="#2a788e" fill-opacity="0.45"/>
<circle cx="472.7" cy="394.2" r="2.65" fill="#2f6c8e" fill-opacity="0.40"/>
<circle cx="457.6" cy="392.6" r="2.65" fill="#2f6c8e" fill-opacity="0.40"/>
<circle cx="462.0" cy="394.2" r="2.65" fill="#21918c" fill-opacity="0.75"/>
<circle cx="465.1" cy="395.8" r="2.65" fill="#21918c" fill-opacity="0.50"/>
<circle cx="451.6" cy="394.2" r="2.65" fill="#1e9c89" fill-opacity="0.70"/>
<circle cx="459.6" cy="397.4" r="2.65" fill="#1e9c89" fill-opacity="0.60"/>
<circle cx="456.8" cy="401.4" r="2.65" fill="#4ec36b" fill-opacity="0.80"/>
<circle cx="451.6" cy="405.8" r="2.65" fill="#2fb47c" fill-opacity="0.80"/>
<circle cx="457.2" cy="407.0" r="2.65" fill="#1e9c89" fill-opacity="0.50"/>
<circle cx="463.5" cy="408.2" r="2.65" fill="#22a884" fill-opacity="0.75"/>
<circle cx="418.9" cy="391.3" r="2.65" fill="#22a884" fill-opacity="0.85"/>
<circle cx="426.8" cy="393.9" r="2.65" fill="#44bf70" fill-opacity="0.80"/>
<circle cx="430.8" cy="394.4" r="2.65" fill="#21918c" fill-opacity="0.60"/>
<circle cx="434.3" cy="395.7" r="2.65" fill="#5ec962" fill-opacity="0.85"/>
<circle cx="436.9" cy="395.3" r="2.65" fill="#44bf70" fill-opacity="0.70"/>
<circle cx="436.5" cy="400.1" r="2.65" fill="#6ece58" fill-opacity="0.75"/>
<circle cx="441.3" cy="393.1" r="2.65" fill="#1e9c89" fill-opacity="0.80"/>
<circle cx="447.8" cy="398.3" r="2.65" fill="#20a386" fill-opacity="0.85"/>
<circle cx="447.8" cy="395.3" r="2.65" fill="#1e9c89" fill-opacity="0.80"/>
<circle cx="442.6" cy="401.8" r="2.65" fill="#1e9c89" fill-opacity="0.55"/>
<circle cx="445.6" cy="405.8" r="2.65" fill="#86d549" fill-opacity="0.70"/>
<circle cx="450.9" cy="406.2" r="2.65" fill="#3bbb75" fill-opacity="0.85"/>
<circle cx="456.6" cy="401.8" r="2.65" fill="#44bf70" fill-opacity="0.60"/>
<circle cx="457.0" cy="407.1" r="2.65" fill="#1e9c89" fill-opacity="0.55"/>
<circle cx="463.2" cy="408.8" r="2.65" fill="#22a884" fill-opacity="0.80"/>
<circle cx="426.8" cy="407.5" r="2.65" fill="#bddf26" fill-opacity="0.80"/>
<circle cx="436.0" cy="407.5" r="2.65" fill="#bddf26" fill-opacity="0.80"/>
<circle cx="439.1" cy="408.4" r="2.65" fill="#86d549" fill-opacity="0.70"/>
<circle cx="445.6" cy="409.7" r="2.65" fill="#f1e51d" fill-opacity="0.75"/>
<circle cx="445.2" cy="418.9" r="2.65" fill="#e5e419" fill-opacity="0.70"/>
<circle cx="448.2" cy="384.4" r="2.65" fill="#25848e" fill-opacity="0.75"/>
<circle cx="445.3" cy="388.8" r="2.65" fill="#228b8d" fill-opacity="0.75"/>
<circle cx="451.1" cy="390.3" r="2.65" fill="#25848e" fill-opacity="0.50"/>
<circle cx="442.3" cy="391.7" r="2.65" fill="#1f958b" fill-opacity="0.70"/>
<circle cx="438.0" cy="387.3" r="2.65" fill="#25848e" fill-opacity="0.65"/>
<circle cx="433.6" cy="387.3" r="2.65" fill="#25848e" fill-opacity="0.50"/>
<circle cx="459.9" cy="391.7" r="2.65" fill="#25848e" fill-opacity="0.70"/>
<circle cx="461.3" cy="396.1" r="2.65" fill="#228b8d" fill-opacity="0.60"/>
<circle cx="429.2" cy="383.0" r="2.65" fill="#287d8e" fill-opacity="0.65"/>
<circle cx="432.1" cy="380.0" r="2.65" fill="#2a788e" fill-opacity="0.60"/>
<circle cx="609.5" cy="364.6" r="2.65" fill="#463480" fill-opacity="0.55"/>
<circle cx="619.5" cy="365.0" r="2.65" fill="#443a83" fill-opacity="0.85"/>
<circle cx="603.9" cy="370.5" r="2.65" fill="#46307e" fill-opacity="0.50"/>
<circle cx="608.7" cy="371.3" r="2.65" fill="#482475" fill-opacity="0.65"/>
<circle cx="614.3" cy="369.3" r="2.65" fill="#46307e" fill-opacity="0.50"/>
<circle cx="618.7" cy="370.9" r="2.65" fill="#414487" fill-opacity="0.50"/>
<circle cx="605.1" cy="373.3" r="2.65" fill="#3b528b" fill-opacity="0.60"/>
<circle cx="606.7" cy="376.9" r="2.65" fill="#375a8c" fill-opacity="0.50"/>
<circle cx="611.1" cy="375.7" r="2.65" fill="#3b528b" fill-opacity="0.60"/>
<circle cx="616.3" cy="377.7" r="2.65" fill="#2c738e" fill-opacity="0.70"/>
<circle cx="618.7" cy="378.9" r="2.65" fill="#355f8d" fill-opacity="0.50"/>
<circle cx="622.6" cy="382.1" r="2.65" fill="#25848e" fill-opacity="0.70"/>
<circle cx="620.3" cy="382.9" r="2.65" fill="#25848e" fill-opacity="0.80"/>
<circle cx="604.7" cy="382.9" r="2.65" fill="#25848e" fill-opacity="0.85"/>
<circle cx="609.9" cy="382.1" r="2.65" fill="#25848e" fill-opacity="0.85"/>
<circle cx="602.0" cy="385.3" r="2.65" fill="#355f8d" fill-opacity="0.50"/>
<circle cx="605.9" cy="386.1" r="2.65" fill="#228b8d" fill-opacity="0.80"/>
<circle cx="613.1" cy="386.1" r="2.65" fill="#1f958b" fill-opacity="0.85"/>
<circle cx="614.7" cy="389.2" r="2.65" fill="#228b8d" fill-opacity="0.80"/>
<circle cx="619.5" cy="386.8" r="2.65" fill="#2f6c8e" fill-opacity="0.45"/>
<circle cx="598.0" cy="389.2" r="2.65" fill="#463480" fill-opacity="0.40"/>
<circle cx="602.7" cy="390.0" r="2.65" fill="#20a386" fill-opacity="0.80"/>
<circle cx="609.9" cy="389.2" r="2.65" fill="#20a386" fill-opacity="0.85"/>
<circle cx="596.4" cy="392.8" r="2.65" fill="#287d8e" fill-opacity="0.55"/>
<circle cx="604.3" cy="392.4" r="2.65" fill="#75d054" fill-opacity="0.90"/>
<circle cx="609.1" cy="393.2" r="2.65" fill="#5ec962" fill-opacity="0.85"/>
<circle cx="601.1" cy="394.8" r="2.65" fill="#75d054" fill-opacity="0.85"/>
<circle cx="605.9" cy="396.4" r="2.65" fill="#69cd5b" fill-opacity="0.85"/>
<circle cx="612.3" cy="395.6" r="2.65" fill="#86d549" fill-opacity="0.80"/>
<circle cx="619.5" cy="392.4" r="2.65" fill="#25848e" fill-opacity="0.50"/>
<circle cx="616.3" cy="395.6" r="2.65" fill="#228b8d" fill-opacity="0.50"/>
<circle cx="597.2" cy="398.0" r="2.65" fill="#2c738e" fill-opacity="0.50"/>
<circle cx="598.0" cy="401.2" r="2.65" fill="#ece51b" fill-opacity="0.95"/>
<circle cx="605.9" cy="398.8" r="2.65" fill="#4ec36b" fill-opacity="0.75"/>
<circle cx="615.5" cy="400.4" r="2.65" fill="#86d549" fill-opacity="0.65"/>
<circle cx="602.0" cy="403.6" r="2.65" fill="#21918c" fill-opacity="0.50"/>
<circle cx="600.4" cy="407.7" r="2.65" fill="#5ec962" fill-opacity="0.70"/>
<circle cx="603.6" cy="412.1" r="2.65" fill="#21918c" fill-opacity="0.50"/>
<circle cx="609.3" cy="406.2" r="2.65" fill="#2f6c8e" fill-opacity="0.40"/>
<circle cx="588.4" cy="418.9" r="2.65" fill="#21918c" fill-opacity="0.50"/>
<circle cx="607.5" cy="379.5" r="2.65" fill="#2a788e" fill-opacity="0.70"/>
<circle cx="612.0" cy="380.0" r="2.65" fill="#287d8e" fill-opacity="0.75"/>
<circle cx="603.0" cy="380.0" r="2.65" fill="#25848e" fill-opacity="0.80"/>
<circle cx="607.0" cy="379.0" r="2.65" fill="#25848e" fill-opacity="0.80"/>
<circle cx="611.0" cy="381.0" r="2.65" fill="#23898e" fill-opacity="0.80"/>
<circle cx="615.0" cy="383.0" r="2.65" fill="#23898e" fill-opacity="0.75"/>
<circle cx="604.0" cy="385.0" r="2.65" fill="#21918c" fill-opacity="0.80"/>
<circle cx="608.0" cy="386.0" r="2.65" fill="#21918c" fill-opacity="0.85"/>
<circle cx="612.0" cy="388.0" r="2.65" fill="#1f958b" fill-opacity="0.80"/>
<circle cx="617.0" cy="385.0" r="2.65" fill="#25848e" fill-opacity="0.70"/>
<circle cx="621.0" cy="379.0" r="2.65" fill="#287d8e" fill-opacity="0.70"/>
<circle cx="600.0" cy="392.0" r="2.65" fill="#5ec962" fill-opacity="0.85"/>
<circle cx="603.0" cy="395.0" r="2.65" fill="#75d054" fill-opacity="0.90"/>
<circle cx="607.0" cy="391.0" r="2.65" fill="#52c569" fill-opacity="0.85"/>
<circle cx="610.0" cy="396.0" r="2.65" fill="#69cd5b" fill-opacity="0.85"/>
<circle cx="613.0" cy="393.0" r="2.65" fill="#4ec36b" fill-opacity="0.80"/>
<circle cx="606.0" cy="399.0" r="2.65" fill="#5ec962" fill-opacity="0.80"/>
<circle cx="600.0" cy="397.0" r="2.65" fill="#69cd5b" fill-opacity="0.80"/>
<circle cx="606.0" cy="372.0" r="2.65" fill="#3b528b" fill-opacity="0.65"/>
<circle cx="610.0" cy="374.0" r="2.65" fill="#375a8c" fill-opacity="0.60"/>
<circle cx="614.0" cy="373.0" r="2.65" fill="#355f8d" fill-opacity="0.60"/>
<circle cx="617.0" cy="375.0" r="2.65" fill="#2f6c8e" fill-opacity="0.60"/>
<circle cx="612.0" cy="377.0" r="2.65" fill="#2f6c8e" fill-opacity="0.70"/>
<defs><linearGradient id="vir" x1="0" x2="1" y1="0" y2="0"><stop offset="0.00" stop-color="#440154"/><stop offset="0.05" stop-color="#471365"/><stop offset="0.10" stop-color="#482475"/><stop offset="0.15" stop-color="#463480"/><stop offset="0.20" stop-color="#414487"/><stop offset="0.25" stop-color="#3b528b"/><stop offset="0.30" stop-color="#355f8d"/><stop offset="0.35" stop-color="#2f6c8e"/><stop offset="0.40" stop-color="#2a788e"/><stop offset="0.45" stop-color="#25848e"/><stop offset="0.50" stop-color="#21918c"/><stop offset="0.55" stop-color="#1e9c89"/><stop offset="0.60" stop-color="#22a884"/><stop offset="0.65" stop-color="#2fb47c"/><stop offset="0.70" stop-color="#44bf70"/><stop offset="0.75" stop-color="#5ec962"/><stop offset="0.80" stop-color="#7ad151"/><stop offset="0.85" stop-color="#9bd93c"/><stop offset="0.90" stop-color="#bddf26"/><stop offset="0.95" stop-color="#dfe318"/><stop offset="1.00" stop-color="#fde725"/></linearGradient></defs>
<rect x="248.7" y="459.3" width="411.3" height="7.4" fill="url(#vir)" stroke="#000" stroke-width="0.8"/>
<line x1="277.4" y1="466.7" x2="277.4" y2="470.0" stroke="#000" stroke-width="0.8"/>
<text x="274.53" y="480.95" font-size="10.41" textLength="5.48" lengthAdjust="spacingAndGlyphs">1</text>
<line x1="348.6" y1="466.7" x2="348.6" y2="470.0" stroke="#000" stroke-width="0.8"/>
<text x="345.86" y="481.08" font-size="10.43" textLength="5.54" lengthAdjust="spacingAndGlyphs">2</text>
<line x1="419.8" y1="466.7" x2="419.8" y2="470.0" stroke="#000" stroke-width="0.8"/>
<text x="417.12" y="481.12" font-size="10.49" textLength="5.51" lengthAdjust="spacingAndGlyphs">3</text>
<line x1="491.1" y1="466.7" x2="491.1" y2="470.0" stroke="#000" stroke-width="0.8"/>
<text x="488.24" y="480.95" font-size="10.41" textLength="5.72" lengthAdjust="spacingAndGlyphs">4</text>
<line x1="562.3" y1="466.7" x2="562.3" y2="470.0" stroke="#000" stroke-width="0.8"/>
<text x="559.58" y="481.00" font-size="10.47" textLength="5.42" lengthAdjust="spacingAndGlyphs">5</text>
<line x1="633.5" y1="466.7" x2="633.5" y2="470.0" stroke="#000" stroke-width="0.8"/>
<text x="630.51" y="481.12" font-size="10.49" textLength="5.92" lengthAdjust="spacingAndGlyphs">6</text>
<g transform="translate(242.50 481.70) rotate(-90)">
<text x="-0.08" y="0.00" font-size="10.30" textLength="5.08" lengthAdjust="spacingAndGlyphs">λ</text>
<text x="5.80" y="2.50" font-size="7.40" textLength="4.06" lengthAdjust="spacingAndGlyphs">E</text>
<text x="6.69" y="-3.50" font-size="6.60" textLength="10.17" lengthAdjust="spacingAndGlyphs">out</text>
<text x="17.55" y="0.00" font-size="9.90" textLength="19.50" lengthAdjust="spacingAndGlyphs">(Hz)</text>
</g>
<clipPath id="cp0"><rect x="47.6" y="494.3" width="153.6" height="105.2"/></clipPath>
<g clip-path="url(#cp0)" fill="none" stroke="#000" stroke-opacity="0.3" stroke-width="1.0" stroke-linejoin="round">
<polyline points="54.5,578.5 57.4,571.6 60.2,570.0 63.1,570.3 65.9,568.7 68.8,569.5 71.6,569.1 74.5,571.6 77.3,570.0 80.2,563.7 83.0,569.3 85.9,570.1 88.7,566.4 91.6,508.3 94.4,524.5 97.3,517.4 100.1,519.8 103.0,526.2 105.8,512.1 108.7,516.4 111.5,515.8 114.4,520.5 117.2,513.7 120.1,519.3 122.9,517.1 125.8,522.5 128.7,523.1 131.5,508.7 134.4,519.1 137.2,514.6 140.1,516.4 142.9,518.7 145.8,519.1 148.6,512.7 151.5,518.0 154.3,517.1 157.2,516.1 160.0,509.6 162.9,512.4 165.7,514.1 168.6,519.4 171.4,524.1 174.3,510.9 177.1,510.8 180.0,517.0 182.8,513.2 185.7,511.8 188.5,511.5 191.4,511.0 194.2,518.8"/>
<polyline points="54.5,579.4 57.4,571.6 60.2,570.0 63.1,567.3 65.9,568.1 68.8,574.4 71.6,575.5 74.5,569.2 77.3,573.5 80.2,570.8 83.0,568.5 85.9,574.5 88.7,575.5 91.6,519.3 94.4,520.5 97.3,522.1 100.1,520.5 103.0,525.4 105.8,529.0 108.7,521.7 111.5,526.1 114.4,529.7 117.2,518.0 120.1,521.1 122.9,518.5 125.8,526.1 128.7,524.3 131.5,526.2 134.4,525.6 137.2,519.7 140.1,525.0 142.9,518.8 145.8,518.9 148.6,509.7 151.5,528.3 154.3,515.9 157.2,521.2 160.0,520.8 162.9,528.7 165.7,523.3 168.6,516.7 171.4,521.2 174.3,520.3 177.1,522.3 180.0,514.5 182.8,520.9 185.7,532.8 188.5,524.5 191.4,531.5 194.2,538.5"/>
<polyline points="54.5,577.9 57.4,572.2 60.2,571.0 63.1,565.7 65.9,567.9 68.8,568.0 71.6,568.0 74.5,567.6 77.3,565.5 80.2,566.0 83.0,566.6 85.9,569.5 88.7,565.5 91.6,528.8 94.4,519.5 97.3,531.9 100.1,526.0 103.0,525.3 105.8,532.2 108.7,516.2 111.5,517.6 114.4,527.7 117.2,521.2 120.1,523.3 122.9,539.0 125.8,523.9 128.7,525.6 131.5,524.8 134.4,530.9 137.2,526.7 140.1,526.2 142.9,519.0 145.8,523.5 148.6,525.3 151.5,517.2 154.3,528.2 157.2,527.3 160.0,534.8 162.9,517.0 165.7,520.2 168.6,520.4 171.4,521.7 174.3,524.7 177.1,524.1 180.0,526.6 182.8,526.3 185.7,525.0 188.5,517.3 191.4,522.3 194.2,525.6"/>
<polyline points="54.5,576.7 57.4,570.7 60.2,571.2 63.1,572.0 65.9,573.7 68.8,570.9 71.6,568.4 74.5,571.3 77.3,570.7 80.2,570.5 83.0,569.5 85.9,573.5 88.7,570.0 91.6,534.1 94.4,525.3 97.3,533.6 100.1,526.8 103.0,522.0 105.8,531.3 108.7,532.8 111.5,528.8 114.4,529.8 117.2,534.8 120.1,527.4 122.9,519.6 125.8,531.1 128.7,530.8 131.5,535.0 134.4,528.1 137.2,536.0 140.1,535.3 142.9,523.3 145.8,534.3 148.6,524.3 151.5,522.1 154.3,528.4 157.2,527.0 160.0,519.9 162.9,530.7 165.7,532.7 168.6,536.6 171.4,529.5 174.3,522.3 177.1,524.9 180.0,534.5 182.8,534.1 185.7,532.3 188.5,528.3 191.4,530.8 194.2,528.7"/>
<polyline points="54.5,580.3 57.4,571.0 60.2,571.1 63.1,569.4 65.9,565.8 68.8,568.8 71.6,570.0 74.5,574.1 77.3,568.8 80.2,574.3 83.0,572.8 85.9,567.0 88.7,567.2 91.6,578.8 94.4,583.3 97.3,579.5 100.1,580.3 103.0,576.6 105.8,571.9 108.7,577.8 111.5,580.6 114.4,581.7 117.2,578.6 120.1,578.9 122.9,581.7 125.8,578.1 128.7,581.7 131.5,575.2 134.4,575.3 137.2,575.3 140.1,579.7 142.9,576.9 145.8,578.8 148.6,579.5 151.5,579.4 154.3,582.1 157.2,582.5 160.0,576.1 162.9,578.9 165.7,577.8 168.6,575.5 171.4,583.4 174.3,580.6 177.1,577.9 180.0,577.3 182.8,579.5 185.7,575.4 188.5,577.8 191.4,581.9 194.2,581.1"/>
<polyline points="54.5,583.9 57.4,567.2 60.2,568.4 63.1,566.3 65.9,570.4 68.8,570.0 71.6,571.8 74.5,562.6 77.3,569.1 80.2,564.6 83.0,569.9 85.9,567.7 88.7,572.1 91.6,583.0 94.4,579.4 97.3,585.4 100.1,579.1 103.0,581.1 105.8,584.8 108.7,583.4 111.5,583.2 114.4,582.1 117.2,583.5 120.1,584.2 122.9,582.8 125.8,584.8 128.7,585.5 131.5,582.1 134.4,579.6 137.2,586.1 140.1,582.0 142.9,583.8 145.8,584.6 148.6,579.7 151.5,583.4 154.3,578.0 157.2,584.1 160.0,581.0 162.9,582.6 165.7,584.0 168.6,580.4 171.4,582.4 174.3,580.4 177.1,582.1 180.0,584.9 182.8,582.3 185.7,581.9 188.5,579.4 191.4,584.5 194.2,582.1"/>
<polyline points="54.5,581.6 57.4,574.7 60.2,569.7 63.1,566.6 65.9,573.0 68.8,571.7 71.6,570.6 74.5,571.4 77.3,567.5 80.2,570.2 83.0,569.8 85.9,566.4 88.7,569.6 91.6,572.9 94.4,577.2 97.3,577.9 100.1,579.8 103.0,568.5 105.8,575.2 108.7,573.5 111.5,574.3 114.4,573.7 117.2,574.1 120.1,568.4 122.9,577.4 125.8,579.0 128.7,577.3 131.5,578.3 134.4,571.9 137.2,571.7 140.1,577.2 142.9,578.5 145.8,575.3 148.6,570.0 151.5,582.8 154.3,572.6 157.2,577.5 160.0,571.1 162.9,577.5 165.7,575.1 168.6,578.8 171.4,577.2 174.3,570.0 177.1,571.7 180.0,575.4 182.8,576.9 185.7,580.0 188.5,575.4 191.4,574.3 194.2,574.5"/>
<polyline points="54.5,581.5 57.4,572.8 60.2,568.8 63.1,567.1 65.9,571.9 68.8,573.3 71.6,571.4 74.5,572.5 77.3,572.7 80.2,570.8 83.0,573.0 85.9,568.8 88.7,570.3 91.6,559.0 94.4,560.6 97.3,562.6 100.1,563.4 103.0,560.8 105.8,562.0 108.7,559.1 111.5,560.0 114.4,565.0 117.2,559.7 120.1,564.9 122.9,562.2 125.8,561.0 128.7,567.6 131.5,559.6 134.4,559.4 137.2,560.5 140.1,561.5 142.9,561.3 145.8,563.5 148.6,560.9 151.5,562.0 154.3,559.6 157.2,564.4 160.0,559.1 162.9,559.4 165.7,560.5 168.6,561.6 171.4,557.9 174.3,566.1 177.1,558.2 180.0,559.0 182.8,558.9 185.7,558.5 188.5,562.4 191.4,560.9 194.2,557.6"/>
<polyline points="54.5,583.3 57.4,569.5 60.2,567.3 63.1,567.5 65.9,569.2 68.8,573.5 71.6,567.1 74.5,569.6 77.3,575.3 80.2,567.9 83.0,572.4 85.9,571.7 88.7,569.9 91.6,575.0 94.4,579.7 97.3,577.9 100.1,573.7 103.0,574.1 105.8,579.0 108.7,579.4 111.5,582.3 114.4,580.6 117.2,577.5 120.1,577.5 122.9,578.4 125.8,575.8 128.7,580.9 131.5,578.8 134.4,576.6 137.2,577.0 140.1,575.6 142.9,577.5 145.8,579.5 148.6,577.6 151.5,581.5 154.3,583.3 157.2,577.0 160.0,578.8 162.9,577.8 165.7,583.5 168.6,579.7 171.4,580.4 174.3,581.1 177.1,585.1 180.0,579.6 182.8,576.1 185.7,577.6 188.5,580.4 191.4,578.7 194.2,576.5"/>
<polyline points="54.5,578.6 57.4,569.6 60.2,566.4 63.1,567.6 65.9,569.5 68.8,569.3 71.6,567.9 74.5,571.0 77.3,569.6 80.2,567.1 83.0,564.3 85.9,569.3 88.7,568.9 91.6,579.0 94.4,575.8 97.3,579.7 100.1,575.5 103.0,582.3 105.8,580.1 108.7,580.1 111.5,577.4 114.4,576.6 117.2,583.8 120.1,582.2 122.9,578.6 125.8,581.4 128.7,583.9 131.5,576.7 134.4,578.2 137.2,578.2 140.1,580.9 142.9,576.7 145.8,580.3 148.6,576.5 151.5,582.1 154.3,582.0 157.2,579.0 160.0,581.6 162.9,577.7 165.7,578.9 168.6,582.2 171.4,579.4 174.3,580.6 177.1,577.0 180.0,581.4 182.8,580.8 185.7,576.2 188.5,573.3 191.4,574.0 194.2,579.4"/>
<polyline points="54.5,578.1 57.4,571.5 60.2,568.1 63.1,567.1 65.9,570.0 68.8,571.9 71.6,571.2 74.5,565.8 77.3,569.1 80.2,567.4 83.0,566.3 85.9,565.1 88.7,567.3 91.6,568.5 94.4,573.0 97.3,571.3 100.1,573.4 103.0,566.5 105.8,570.2 108.7,572.5 111.5,571.3 114.4,570.8 117.2,567.9 120.1,575.3 122.9,573.5 125.8,571.3 128.7,561.9 131.5,567.0 134.4,570.5 137.2,567.8 140.1,563.5 142.9,570.9 145.8,571.3 148.6,566.2 151.5,568.5 154.3,567.9 157.2,571.8 160.0,563.9 162.9,564.6 165.7,568.3 168.6,567.9 171.4,576.7 174.3,568.1 177.1,570.7 180.0,568.7 182.8,567.9 185.7,571.2 188.5,575.6 191.4,568.9 194.2,572.5"/>
<polyline points="54.5,581.5 57.4,577.7 60.2,568.3 63.1,570.4 65.9,568.1 68.8,565.8 71.6,570.4 74.5,574.8 77.3,572.3 80.2,572.9 83.0,571.0 85.9,569.4 88.7,574.3 91.6,570.4 94.4,576.3 97.3,570.5 100.1,571.8 103.0,572.5 105.8,571.7 108.7,573.2 111.5,573.4 114.4,576.8 117.2,571.6 120.1,565.6 122.9,565.2 125.8,567.3 128.7,569.2 131.5,573.6 134.4,566.9 137.2,571.6 140.1,571.7 142.9,572.4 145.8,571.2 148.6,572.8 151.5,571.7 154.3,574.9 157.2,572.6 160.0,564.2 162.9,571.7 165.7,572.2 168.6,569.8 171.4,569.2 174.3,575.0 177.1,572.1 180.0,568.5 182.8,570.6 185.7,571.1 188.5,566.5 191.4,573.6 194.2,571.2"/>
<polyline points="54.5,582.6 57.4,570.8 60.2,569.8 63.1,566.6 65.9,566.6 68.8,564.4 71.6,571.6 74.5,565.6 77.3,568.0 80.2,568.8 83.0,565.6 85.9,569.0 88.7,571.7 91.6,575.0 94.4,578.4 97.3,575.8 100.1,572.7 103.0,572.9 105.8,569.0 108.7,574.4 111.5,578.5 114.4,576.1 117.2,576.6 120.1,577.6 122.9,572.5 125.8,575.8 128.7,579.9 131.5,571.7 134.4,574.2 137.2,572.7 140.1,573.5 142.9,571.9 145.8,573.7 148.6,570.0 151.5,572.5 154.3,572.6 157.2,572.6 160.0,578.3 162.9,574.3 165.7,574.6 168.6,573.2 171.4,578.0 174.3,568.8 177.1,573.5 180.0,577.5 182.8,579.1 185.7,574.7 188.5,574.1 191.4,576.0 194.2,573.5"/>
<polyline points="54.5,580.9 57.4,570.5 60.2,567.3 63.1,563.1 65.9,571.8 68.8,570.3 71.6,571.0 74.5,566.8 77.3,571.4 80.2,569.6 83.0,568.3 85.9,570.4 88.7,570.2 91.6,582.9 94.4,587.3 97.3,585.6 100.1,582.8 103.0,581.2 105.8,582.1 108.7,586.4 111.5,582.9 114.4,579.5 117.2,580.1 120.1,581.8 122.9,584.0 125.8,579.9 128.7,583.2 131.5,584.8 134.4,583.8 137.2,577.7 140.1,581.0 142.9,578.5 145.8,582.9 148.6,579.1 151.5,583.3 154.3,582.1 157.2,574.9 160.0,579.5 162.9,583.0 165.7,581.9 168.6,580.7 171.4,578.3 174.3,583.0 177.1,586.4 180.0,582.4 182.8,581.6 185.7,581.3 188.5,578.1 191.4,580.8 194.2,579.4"/>
<polyline points="54.5,573.5 57.4,568.1 60.2,568.7 63.1,568.7 65.9,564.5 68.8,571.0 71.6,568.8 74.5,567.2 77.3,566.3 80.2,569.0 83.0,567.0 85.9,568.3 88.7,567.1 91.6,575.4 94.4,578.4 97.3,575.1 100.1,572.4 103.0,577.9 105.8,575.7 108.7,573.0 111.5,578.2 114.4,574.5 117.2,578.2 120.1,571.6 122.9,568.0 125.8,568.9 128.7,575.7 131.5,572.8 134.4,574.6 137.2,574.7 140.1,570.3 142.9,579.0 145.8,571.8 148.6,575.1 151.5,570.8 154.3,574.4 157.2,577.0 160.0,574.2 162.9,572.8 165.7,574.9 168.6,573.5 171.4,576.6 174.3,581.4 177.1,572.3 180.0,572.9 182.8,574.6 185.7,574.8 188.5,571.9 191.4,576.4 194.2,577.1"/>
<polyline points="54.5,579.9 57.4,567.8 60.2,573.5 63.1,566.9 65.9,571.2 68.8,572.2 71.6,566.2 74.5,569.3 77.3,572.1 80.2,569.6 83.0,566.2 85.9,565.4 88.7,569.2 91.6,566.6 94.4,565.6 97.3,570.1 100.1,566.7 103.0,568.0 105.8,569.7 108.7,569.6 111.5,567.7 114.4,567.8 117.2,569.8 120.1,569.4 122.9,564.2 125.8,567.2 128.7,565.0 131.5,563.9 134.4,566.0 137.2,560.4 140.1,570.7 142.9,565.2 145.8,569.0 148.6,561.7 151.5,562.3 154.3,574.4 157.2,571.2 160.0,565.7 162.9,565.3 165.7,565.5 168.6,568.2 171.4,566.4 174.3,565.8 177.1,568.2 180.0,564.5 182.8,575.5 185.7,565.8 188.5,571.4 191.4,564.7 194.2,568.7"/>
<polyline points="54.5,581.6 57.4,572.9 60.2,573.8 63.1,569.8 65.9,568.3 68.8,566.8 71.6,569.5 74.5,566.4 77.3,568.8 80.2,568.9 83.0,567.0 85.9,565.6 88.7,568.9 91.6,584.7 94.4,584.5 97.3,583.8 100.1,586.4 103.0,581.4 105.8,585.1 108.7,582.8 111.5,586.2 114.4,583.1 117.2,583.0 120.1,585.1 122.9,578.8 125.8,583.1 128.7,579.4 131.5,581.5 134.4,585.8 137.2,585.0 140.1,582.9 142.9,583.9 145.8,583.9 148.6,584.8 151.5,588.8 154.3,584.6 157.2,589.8 160.0,583.1 162.9,585.9 165.7,585.9 168.6,584.6 171.4,583.3 174.3,587.8 177.1,588.6 180.0,586.8 182.8,589.4 185.7,586.6 188.5,579.9 191.4,586.8 194.2,582.3"/>
<polyline points="54.5,580.2 57.4,570.9 60.2,568.7 63.1,565.5 65.9,569.2 68.8,569.2 71.6,571.7 74.5,567.7 77.3,569.5 80.2,566.7 83.0,568.6 85.9,564.0 88.7,573.1 91.6,579.3 94.4,575.9 97.3,579.4 100.1,580.7 103.0,579.2 105.8,582.4 108.7,578.1 111.5,571.4 114.4,575.1 117.2,581.6 120.1,580.9 122.9,579.6 125.8,575.5 128.7,580.8 131.5,580.4 134.4,575.9 137.2,575.9 140.1,579.5 142.9,581.6 145.8,582.8 148.6,580.4 151.5,584.8 154.3,576.3 157.2,580.2 160.0,577.0 162.9,573.1 165.7,575.1 168.6,581.7 171.4,575.9 174.3,575.1 177.1,580.5 180.0,581.1 182.8,578.7 185.7,583.0 188.5,574.2 191.4,585.3 194.2,581.6"/>
<polyline points="54.5,579.7 57.4,570.8 60.2,571.3 63.1,567.7 65.9,575.7 68.8,570.2 71.6,571.8 74.5,569.5 77.3,569.1 80.2,571.7 83.0,570.8 85.9,567.1 88.7,568.0 91.6,588.5 94.4,581.7 97.3,581.0 100.1,590.4 103.0,586.0 105.8,580.5 108.7,584.8 111.5,586.2 114.4,587.3 117.2,588.1 120.1,587.3 122.9,588.1 125.8,584.9 128.7,587.8 131.5,587.9 134.4,589.8 137.2,586.9 140.1,589.0 142.9,587.2 145.8,584.2 148.6,585.9 151.5,585.5 154.3,585.9 157.2,586.6 160.0,587.1 162.9,587.5 165.7,584.9 168.6,589.5 171.4,583.4 174.3,586.7 177.1,588.6 180.0,588.0 182.8,588.5 185.7,586.4 188.5,588.6 191.4,583.9 194.2,588.7"/>
<polyline points="54.5,585.8 57.4,572.2 60.2,568.8 63.1,569.6 65.9,574.4 68.8,572.7 71.6,566.3 74.5,569.7 77.3,570.3 80.2,567.5 83.0,563.9 85.9,566.5 88.7,569.2 91.6,582.8 94.4,582.1 97.3,585.3 100.1,586.5 103.0,583.6 105.8,586.2 108.7,583.9 111.5,583.5 114.4,577.6 117.2,586.0 120.1,584.1 122.9,584.2 125.8,582.6 128.7,581.0 131.5,585.0 134.4,585.9 137.2,588.0 140.1,586.2 142.9,582.3 145.8,583.6 148.6,586.4 151.5,584.7 154.3,583.7 157.2,582.4 160.0,585.3 162.9,584.4 165.7,588.5 168.6,586.8 171.4,579.5 174.3,589.5 177.1,584.6 180.0,583.2 182.8,584.7 185.7,585.9 188.5,583.9 191.4,583.8 194.2,584.0"/>
<polyline points="54.5,582.1 57.4,572.7 60.2,570.1 63.1,568.9 65.9,568.0 68.8,571.3 71.6,567.6 74.5,566.8 77.3,566.7 80.2,565.9 83.0,569.5 85.9,569.4 88.7,566.7 91.6,589.9 94.4,586.0 97.3,587.8 100.1,587.4 103.0,590.9 105.8,588.7 108.7,586.6 111.5,584.3 114.4,584.0 117.2,586.7 120.1,587.0 122.9,588.6 125.8,585.5 128.7,587.1 131.5,585.0 134.4,582.1 137.2,586.6 140.1,590.2 142.9,588.7 145.8,590.2 148.6,589.5 151.5,583.3 154.3,585.9 157.2,590.3 160.0,584.9 162.9,583.4 165.7,587.4 168.6,588.2 171.4,587.4 174.3,585.8 177.1,584.9 180.0,583.6 182.8,583.5 185.7,583.5 188.5,583.1 191.4,584.9 194.2,590.3"/>
<polyline points="54.5,580.3 57.4,568.5 60.2,570.9 63.1,572.1 65.9,566.1 68.8,567.8 71.6,568.7 74.5,566.8 77.3,566.3 80.2,567.9 83.0,574.6 85.9,570.0 88.7,569.3 91.6,579.6 94.4,576.1 97.3,573.2 100.1,578.1 103.0,580.0 105.8,570.7 108.7,578.0 111.5,580.3 114.4,576.0 117.2,575.5 120.1,578.8 122.9,574.4 125.8,578.1 128.7,579.4 131.5,576.2 134.4,574.4 137.2,578.6 140.1,575.7 142.9,577.0 145.8,568.4 148.6,578.8 151.5,572.6 154.3,576.9 157.2,577.1 160.0,574.6 162.9,574.1 165.7,573.0 168.6,575.7 171.4,578.5 174.3,578.3 177.1,575.2 180.0,575.0 182.8,572.6 185.7,575.5 188.5,573.6 191.4,572.2 194.2,576.2"/>
<polyline points="54.5,585.0 57.4,568.8 60.2,574.2 63.1,568.8 65.9,570.2 68.8,567.2 71.6,568.8 74.5,571.3 77.3,571.4 80.2,570.5 83.0,570.1 85.9,571.7 88.7,570.2 91.6,579.4 94.4,588.1 97.3,582.9 100.1,586.0 103.0,583.1 105.8,581.4 108.7,583.8 111.5,581.6 114.4,587.8 117.2,580.7 120.1,585.2 122.9,582.0 125.8,583.1 128.7,590.4 131.5,585.6 134.4,583.0 137.2,579.5 140.1,582.9 142.9,582.9 145.8,587.3 148.6,579.9 151.5,578.9 154.3,583.5 157.2,584.2 160.0,587.9 162.9,581.3 165.7,576.5 168.6,581.7 171.4,580.3 174.3,582.2 177.1,586.2 180.0,580.1 182.8,586.9 185.7,584.2 188.5,582.9 191.4,581.3 194.2,582.5"/>
<polyline points="54.5,584.0 57.4,572.0 60.2,573.3 63.1,574.5 65.9,574.2 68.8,572.1 71.6,575.3 74.5,573.9 77.3,574.4 80.2,569.7 83.0,569.0 85.9,564.8 88.7,573.3 91.6,574.4 94.4,569.4 97.3,573.0 100.1,573.3 103.0,566.9 105.8,573.3 108.7,575.9 111.5,576.4 114.4,571.2 117.2,571.3 120.1,576.6 122.9,575.4 125.8,570.6 128.7,570.5 131.5,574.3 134.4,570.3 137.2,570.5 140.1,577.9 142.9,573.3 145.8,571.0 148.6,574.1 151.5,579.0 154.3,573.2 157.2,569.9 160.0,567.3 162.9,579.2 165.7,564.1 168.6,575.8 171.4,569.3 174.3,568.4 177.1,569.2 180.0,571.8 182.8,575.9 185.7,570.3 188.5,574.5 191.4,580.2 194.2,563.4"/>
<polyline points="54.5,579.6 57.4,565.1 60.2,564.1 63.1,563.9 65.9,567.7 68.8,570.4 71.6,567.7 74.5,572.5 77.3,571.1 80.2,566.4 83.0,568.9 85.9,566.7 88.7,566.4 91.6,567.4 94.4,569.3 97.3,573.5 100.1,569.6 103.0,575.8 105.8,574.4 108.7,570.5 111.5,577.2 114.4,574.2 117.2,577.4 120.1,573.0 122.9,568.3 125.8,575.7 128.7,572.7 131.5,576.1 134.4,576.9 137.2,577.2 140.1,568.9 142.9,566.1 145.8,571.9 148.6,575.6 151.5,571.2 154.3,574.4 157.2,570.9 160.0,572.5 162.9,572.5 165.7,571.5 168.6,575.1 171.4,574.6 174.3,578.7 177.1,574.7 180.0,577.7 182.8,573.8 185.7,576.3 188.5,573.0 191.4,572.0 194.2,577.7"/>
<polyline points="54.5,579.2 57.4,568.2 60.2,569.6 63.1,572.4 65.9,567.7 68.8,574.9 71.6,567.3 74.5,572.4 77.3,577.5 80.2,563.8 83.0,566.3 85.9,572.6 88.7,569.4 91.6,577.0 94.4,576.0 97.3,580.7 100.1,578.3 103.0,574.9 105.8,575.7 108.7,572.8 111.5,576.1 114.4,569.4 117.2,578.4 120.1,575.6 122.9,582.0 125.8,580.0 128.7,572.4 131.5,579.1 134.4,574.7 137.2,576.5 140.1,579.4 142.9,577.3 145.8,577.8 148.6,577.8 151.5,574.1 154.3,574.4 157.2,578.0 160.0,579.0 162.9,575.5 165.7,576.6 168.6,573.3 171.4,568.5 174.3,573.8 177.1,576.4 180.0,576.8 182.8,578.8 185.7,579.0 188.5,579.3 191.4,577.5 194.2,577.6"/>
<polyline points="54.5,580.8 57.4,574.7 60.2,566.9 63.1,569.5 65.9,566.2 68.8,568.4 71.6,566.5 74.5,570.7 77.3,568.1 80.2,563.0 83.0,572.5 85.9,566.4 88.7,564.9 91.6,588.2 94.4,587.4 97.3,586.2 100.1,590.8 103.0,588.3 105.8,591.4 108.7,590.9 111.5,590.7 114.4,589.6 117.2,588.9 120.1,588.1 122.9,592.7 125.8,584.4 128.7,586.4 131.5,587.5 134.4,590.1 137.2,589.5 140.1,587.9 142.9,588.2 145.8,593.3 148.6,587.4 151.5,582.1 154.3,593.7 157.2,586.8 160.0,588.3 162.9,589.5 165.7,585.9 168.6,592.1 171.4,588.8 174.3,585.7 177.1,589.7 180.0,590.3 182.8,589.0 185.7,590.3 188.5,585.5 191.4,591.5 194.2,587.1"/>
<polyline points="54.5,579.2 57.4,576.8 60.2,569.6 63.1,572.0 65.9,570.3 68.8,565.0 71.6,571.6 74.5,571.3 77.3,564.7 80.2,567.9 83.0,564.1 85.9,567.0 88.7,569.9 91.6,579.2 94.4,575.4 97.3,576.3 100.1,579.0 103.0,578.9 105.8,579.3 108.7,580.7 111.5,573.4 114.4,579.0 117.2,582.3 120.1,580.4 122.9,576.9 125.8,577.1 128.7,579.4 131.5,581.0 134.4,578.9 137.2,583.9 140.1,582.8 142.9,576.7 145.8,580.4 148.6,577.9 151.5,575.5 154.3,577.1 157.2,578.9 160.0,572.8 162.9,577.1 165.7,580.0 168.6,576.9 171.4,577.8 174.3,581.5 177.1,578.8 180.0,579.5 182.8,584.7 185.7,579.5 188.5,579.8 191.4,580.3 194.2,583.8"/>
<polyline points="54.5,579.6 57.4,574.1 60.2,568.9 63.1,573.4 65.9,570.7 68.8,566.6 71.6,571.5 74.5,570.9 77.3,566.6 80.2,570.2 83.0,569.7 85.9,568.2 88.7,565.9 91.6,582.0 94.4,577.7 97.3,578.3 100.1,578.5 103.0,577.8 105.8,577.8 108.7,574.2 111.5,577.9 114.4,574.8 117.2,573.9 120.1,577.4 122.9,574.8 125.8,570.1 128.7,574.2 131.5,577.1 134.4,575.4 137.2,578.0 140.1,574.3 142.9,572.5 145.8,577.7 148.6,575.8 151.5,571.7 154.3,576.7 157.2,574.6 160.0,578.3 162.9,577.7 165.7,576.7 168.6,568.6 171.4,576.4 174.3,576.8 177.1,576.9 180.0,575.7 182.8,573.2 185.7,574.6 188.5,569.0 191.4,574.5 194.2,570.8"/>
<polyline points="54.5,582.6 57.4,570.6 60.2,569.8 63.1,570.0 65.9,574.6 68.8,566.9 71.6,569.8 74.5,569.8 77.3,569.1 80.2,568.9 83.0,567.1 85.9,571.1 88.7,570.0 91.6,572.9 94.4,573.3 97.3,574.9 100.1,575.5 103.0,576.3 105.8,573.9 108.7,570.1 111.5,577.0 114.4,569.1 117.2,571.2 120.1,575.1 122.9,571.3 125.8,578.3 128.7,579.1 131.5,577.7 134.4,575.0 137.2,574.7 140.1,575.3 142.9,573.4 145.8,580.3 148.6,572.2 151.5,578.1 154.3,575.8 157.2,575.0 160.0,577.3 162.9,578.0 165.7,576.8 168.6,573.8 171.4,571.9 174.3,572.0 177.1,576.8 180.0,576.2 182.8,576.6 185.7,572.4 188.5,580.0 191.4,569.9 194.2,575.2"/>
<polyline points="54.5,576.8 57.4,569.8 60.2,567.4 63.1,569.5 65.9,566.6 68.8,566.3 71.6,569.5 74.5,565.5 77.3,568.4 80.2,568.5 83.0,570.8 85.9,569.0 88.7,566.2 91.6,588.4 94.4,583.3 97.3,584.1 100.1,584.3 103.0,590.7 105.8,585.3 108.7,583.4 111.5,587.0 114.4,584.8 117.2,591.1 120.1,583.3 122.9,586.7 125.8,582.8 128.7,589.7 131.5,583.2 134.4,585.6 137.2,582.9 140.1,587.4 142.9,586.6 145.8,579.3 148.6,587.1 151.5,586.8 154.3,585.7 157.2,587.6 160.0,582.0 162.9,580.6 165.7,586.8 168.6,589.4 171.4,582.0 174.3,582.2 177.1,582.9 180.0,582.0 182.8,587.2 185.7,585.4 188.5,588.6 191.4,588.6 194.2,582.5"/>
<polyline points="54.5,576.6 57.4,569.6 60.2,565.4 63.1,562.7 65.9,565.8 68.8,569.8 71.6,565.7 74.5,563.0 77.3,567.5 80.2,568.0 83.0,563.3 85.9,565.3 88.7,568.2 91.6,579.6 94.4,580.7 97.3,577.7 100.1,578.2 103.0,575.3 105.8,576.5 108.7,583.0 111.5,577.4 114.4,576.0 117.2,577.3 120.1,575.6 122.9,580.1 125.8,581.3 128.7,575.9 131.5,581.6 134.4,584.7 137.2,575.6 140.1,580.6 142.9,579.4 145.8,582.6 148.6,582.3 151.5,581.9 154.3,579.6 157.2,577.5 160.0,585.1 162.9,576.4 165.7,581.9 168.6,581.6 171.4,576.6 174.3,578.8 177.1,582.9 180.0,573.3 182.8,581.0 185.7,577.9 188.5,578.0 191.4,574.5 194.2,579.9"/>
<polyline points="54.5,578.0 57.4,574.0 60.2,572.4 63.1,566.6 65.9,570.3 68.8,570.6 71.6,565.1 74.5,569.6 77.3,572.3 80.2,568.3 83.0,572.9 85.9,567.0 88.7,566.6 91.6,583.5 94.4,583.6 97.3,581.5 100.1,581.9 103.0,584.6 105.8,580.4 108.7,587.4 111.5,583.1 114.4,583.0 117.2,582.7 120.1,581.1 122.9,585.2 125.8,580.3 128.7,582.4 131.5,583.7 134.4,585.6 137.2,585.1 140.1,581.0 142.9,584.5 145.8,581.8 148.6,579.1 151.5,579.1 154.3,577.7 157.2,582.7 160.0,584.9 162.9,579.2 165.7,581.1 168.6,578.9 171.4,581.9 174.3,578.7 177.1,579.6 180.0,580.0 182.8,580.6 185.7,580.9 188.5,581.3 191.4,581.3 194.2,579.3"/>
<polyline points="54.5,577.7 57.4,566.4 60.2,568.3 63.1,568.5 65.9,562.7 68.8,568.3 71.6,570.5 74.5,568.9 77.3,567.8 80.2,561.4 83.0,566.1 85.9,564.1 88.7,568.7 91.6,579.9 94.4,579.0 97.3,575.9 100.1,582.8 103.0,579.2 105.8,580.0 108.7,583.7 111.5,580.9 114.4,581.6 117.2,587.3 120.1,579.2 122.9,579.4 125.8,582.1 128.7,584.5 131.5,576.8 134.4,580.1 137.2,578.1 140.1,577.0 142.9,582.3 145.8,578.6 148.6,581.5 151.5,581.0 154.3,581.1 157.2,580.9 160.0,577.8 162.9,580.5 165.7,581.3 168.6,581.6 171.4,579.9 174.3,583.3 177.1,582.2 180.0,581.0 182.8,582.4 185.7,581.2 188.5,582.5 191.4,575.3 194.2,577.2"/>
<polyline points="54.5,574.5 57.4,570.4 60.2,570.8 63.1,569.6 65.9,569.4 68.8,566.5 71.6,569.8 74.5,564.4 77.3,571.6 80.2,567.5 83.0,571.5 85.9,564.3 88.7,569.5 91.6,563.8 94.4,560.4 97.3,559.2 100.1,567.5 103.0,564.8 105.8,568.5 108.7,563.1 111.5,564.0 114.4,564.9 117.2,566.0 120.1,565.0 122.9,566.3 125.8,561.8 128.7,558.3 131.5,570.4 134.4,564.0 137.2,565.1 140.1,561.9 142.9,567.0 145.8,564.1 148.6,567.3 151.5,561.2 154.3,563.3 157.2,564.2 160.0,562.3 162.9,564.5 165.7,569.1 168.6,561.5 171.4,562.6 174.3,564.2 177.1,560.1 180.0,559.3 182.8,567.5 185.7,566.4 188.5,558.2 191.4,558.6 194.2,566.2"/>
<polyline points="54.5,581.9 57.4,575.9 60.2,571.3 63.1,574.3 65.9,573.9 68.8,568.5 71.6,572.2 74.5,570.5 77.3,568.6 80.2,568.0 83.0,570.6 85.9,569.5 88.7,571.5 91.6,576.0 94.4,579.1 97.3,583.9 100.1,580.8 103.0,578.9 105.8,579.5 108.7,575.8 111.5,577.1 114.4,582.3 117.2,581.1 120.1,584.4 122.9,580.2 125.8,580.4 128.7,573.4 131.5,580.6 134.4,586.6 137.2,582.7 140.1,580.5 142.9,584.3 145.8,583.2 148.6,581.8 151.5,579.9 154.3,581.3 157.2,583.3 160.0,578.7 162.9,582.3 165.7,582.2 168.6,584.6 171.4,583.0 174.3,579.0 177.1,585.3 180.0,581.0 182.8,578.9 185.7,581.9 188.5,580.2 191.4,583.9 194.2,577.2"/>
<polyline points="54.5,583.8 57.4,573.4 60.2,567.7 63.1,565.7 65.9,569.0 68.8,566.5 71.6,570.9 74.5,569.7 77.3,569.0 80.2,567.8 83.0,572.4 85.9,566.1 88.7,565.0 91.6,578.5 94.4,579.1 97.3,574.0 100.1,577.0 103.0,582.2 105.8,572.6 108.7,574.6 111.5,576.5 114.4,568.7 117.2,574.6 120.1,577.3 122.9,574.7 125.8,578.2 128.7,577.3 131.5,573.9 134.4,576.7 137.2,576.4 140.1,570.0 142.9,572.4 145.8,572.6 148.6,573.4 151.5,573.6 154.3,570.6 157.2,575.1 160.0,569.4 162.9,577.9 165.7,575.8 168.6,579.2 171.4,576.1 174.3,573.5 177.1,570.7 180.0,577.0 182.8,575.0 185.7,576.1 188.5,577.3 191.4,578.6 194.2,574.8"/>
<polyline points="54.5,579.6 57.4,572.6 60.2,572.8 63.1,573.5 65.9,565.3 68.8,573.0 71.6,565.7 74.5,567.9 77.3,570.1 80.2,571.8 83.0,566.2 85.9,564.3 88.7,570.7 91.6,566.8 94.4,562.2 97.3,564.6 100.1,558.9 103.0,567.7 105.8,563.9 108.7,570.1 111.5,558.6 114.4,568.3 117.2,573.3 120.1,566.2 122.9,566.2 125.8,559.2 128.7,566.9 131.5,565.8 134.4,563.7 137.2,560.3 140.1,566.0 142.9,562.2 145.8,564.0 148.6,566.8 151.5,565.5 154.3,565.7 157.2,568.9 160.0,561.6 162.9,570.5 165.7,561.8 168.6,562.5 171.4,566.1 174.3,568.4 177.1,566.5 180.0,564.1 182.8,563.2 185.7,564.8 188.5,562.4 191.4,567.7 194.2,565.0"/>
<polyline points="54.5,578.4 57.4,571.1 60.2,566.6 63.1,567.5 65.9,576.0 68.8,568.7 71.6,572.3 74.5,565.8 77.3,562.1 80.2,569.4 83.0,567.7 85.9,568.3 88.7,566.7 91.6,577.5 94.4,575.7 97.3,582.1 100.1,574.9 103.0,581.9 105.8,578.5 108.7,576.1 111.5,577.3 114.4,582.0 117.2,581.3 120.1,580.6 122.9,579.5 125.8,576.1 128.7,583.0 131.5,578.0 134.4,577.6 137.2,577.7 140.1,578.0 142.9,575.0 145.8,577.9 148.6,576.9 151.5,577.7 154.3,574.3 157.2,584.7 160.0,575.7 162.9,580.1 165.7,580.1 168.6,582.1 171.4,584.6 174.3,580.4 177.1,581.3 180.0,577.9 182.8,583.5 185.7,575.3 188.5,578.6 191.4,580.0 194.2,581.3"/>
<polyline points="54.5,582.7 57.4,572.7 60.2,572.4 63.1,575.3 65.9,572.2 68.8,573.6 71.6,570.8 74.5,566.4 77.3,569.3 80.2,571.4 83.0,574.5 85.9,573.8 88.7,574.3 91.6,573.5 94.4,578.0 97.3,575.5 100.1,577.6 103.0,575.4 105.8,571.5 108.7,577.7 111.5,576.7 114.4,578.1 117.2,573.1 120.1,578.8 122.9,579.1 125.8,579.8 128.7,579.9 131.5,574.3 134.4,568.0 137.2,578.7 140.1,572.9 142.9,574.9 145.8,579.0 148.6,576.5 151.5,576.4 154.3,577.8 157.2,569.9 160.0,581.4 162.9,574.6 165.7,574.7 168.6,577.4 171.4,575.3 174.3,573.1 177.1,575.2 180.0,574.5 182.8,573.6 185.7,581.8 188.5,571.3 191.4,568.9 194.2,572.8"/>
<polyline points="54.5,582.0 57.4,575.1 60.2,573.8 63.1,569.8 65.9,574.0 68.8,572.1 71.6,576.3 74.5,571.8 77.3,571.0 80.2,572.8 83.0,572.6 85.9,566.0 88.7,573.5 91.6,577.0 94.4,576.3 97.3,570.1 100.1,567.3 103.0,572.8 105.8,576.0 108.7,575.1 111.5,570.5 114.4,576.6 117.2,569.3 120.1,569.4 122.9,573.6 125.8,571.8 128.7,571.5 131.5,569.0 134.4,577.0 137.2,570.1 140.1,574.9 142.9,576.1 145.8,573.5 148.6,574.4 151.5,576.8 154.3,578.7 157.2,576.7 160.0,569.3 162.9,567.7 165.7,571.8 168.6,570.1 171.4,575.4 174.3,574.0 177.1,572.9 180.0,577.1 182.8,576.8 185.7,573.5 188.5,574.8 191.4,577.0 194.2,572.6"/>
<polyline points="54.5,578.4 57.4,570.5 60.2,568.8 63.1,569.3 65.9,570.3 68.8,569.5 71.6,566.5 74.5,566.5 77.3,564.8 80.2,571.9 83.0,568.5 85.9,568.4 88.7,566.8 91.6,575.6 94.4,575.8 97.3,571.8 100.1,573.6 103.0,577.8 105.8,570.1 108.7,571.1 111.5,575.9 114.4,571.7 117.2,576.4 120.1,570.8 122.9,574.9 125.8,576.6 128.7,575.3 131.5,576.5 134.4,573.6 137.2,573.7 140.1,574.1 142.9,575.9 145.8,585.4 148.6,573.9 151.5,580.0 154.3,573.4 157.2,570.7 160.0,573.4 162.9,575.4 165.7,574.7 168.6,574.6 171.4,575.9 174.3,576.0 177.1,577.0 180.0,570.6 182.8,574.2 185.7,571.3 188.5,575.0 191.4,574.0 194.2,574.7"/>
<polyline points="54.5,578.1 57.4,571.7 60.2,571.3 63.1,565.0 65.9,569.6 68.8,569.5 71.6,564.9 74.5,565.7 77.3,566.9 80.2,569.0 83.0,562.0 85.9,566.7 88.7,566.1 91.6,583.8 94.4,587.1 97.3,586.9 100.1,582.3 103.0,582.3 105.8,584.0 108.7,586.5 111.5,587.2 114.4,584.2 117.2,587.2 120.1,581.0 122.9,580.3 125.8,575.9 128.7,581.1 131.5,584.9 134.4,585.7 137.2,592.5 140.1,584.9 142.9,583.8 145.8,580.8 148.6,581.8 151.5,581.8 154.3,582.8 157.2,581.6 160.0,579.6 162.9,586.2 165.7,584.6 168.6,587.0 171.4,579.1 174.3,580.0 177.1,581.4 180.0,586.5 182.8,582.9 185.7,584.0 188.5,583.2 191.4,583.9 194.2,582.0"/>
<polyline points="54.5,578.1 57.4,570.7 60.2,569.6 63.1,570.2 65.9,566.9 68.8,569.4 71.6,567.8 74.5,569.3 77.3,571.8 80.2,565.7 83.0,570.4 85.9,565.9 88.7,566.4 91.6,579.1 94.4,577.0 97.3,575.7 100.1,576.6 103.0,577.7 105.8,571.8 108.7,574.8 111.5,572.9 114.4,575.4 117.2,573.1 120.1,576.4 122.9,574.2 125.8,572.3 128.7,573.9 131.5,575.5 134.4,577.4 137.2,573.6 140.1,573.0 142.9,574.9 145.8,576.4 148.6,572.4 151.5,566.5 154.3,575.0 157.2,573.1 160.0,572.9 162.9,581.9 165.7,573.7 168.6,576.2 171.4,569.8 174.3,574.9 177.1,576.5 180.0,574.7 182.8,573.6 185.7,575.8 188.5,574.2 191.4,578.2 194.2,574.8"/>
<polyline points="54.5,575.4 57.4,567.8 60.2,564.9 63.1,565.1 65.9,563.3 68.8,564.5 71.6,567.3 74.5,566.2 77.3,566.2 80.2,565.7 83.0,565.8 85.9,568.0 88.7,571.1 91.6,562.2 94.4,567.2 97.3,559.4 100.1,559.7 103.0,565.9 105.8,557.1 108.7,556.5 111.5,559.3 114.4,553.5 117.2,552.7 120.1,564.1 122.9,555.8 125.8,558.0 128.7,558.1 131.5,556.2 134.4,562.3 137.2,561.9 140.1,562.7 142.9,562.5 145.8,560.0 148.6,565.1 151.5,563.6 154.3,557.5 157.2,559.9 160.0,558.3 162.9,566.7 165.7,562.6 168.6,561.7 171.4,559.6 174.3,561.9 177.1,556.2 180.0,559.9 182.8,559.6 185.7,559.6 188.5,557.1 191.4,561.4 194.2,555.5"/>
<polyline points="54.5,579.5 57.4,569.6 60.2,567.7 63.1,567.7 65.9,568.9 68.8,567.5 71.6,569.2 74.5,566.2 77.3,569.2 80.2,574.1 83.0,565.4 85.9,568.3 88.7,571.3 91.6,585.6 94.4,587.4 97.3,579.7 100.1,583.8 103.0,589.1 105.8,583.7 108.7,586.1 111.5,580.2 114.4,587.8 117.2,590.9 120.1,584.9 122.9,586.0 125.8,586.2 128.7,590.6 131.5,584.0 134.4,580.8 137.2,590.0 140.1,582.1 142.9,586.6 145.8,579.1 148.6,584.0 151.5,585.6 154.3,582.3 157.2,583.8 160.0,586.6 162.9,583.3 165.7,586.4 168.6,589.7 171.4,579.9 174.3,586.0 177.1,586.7 180.0,584.2 182.8,589.1 185.7,588.6 188.5,586.4 191.4,586.4 194.2,584.9"/>
<polyline points="54.5,579.2 57.4,570.3 60.2,573.8 63.1,570.3 65.9,573.0 68.8,567.9 71.6,569.2 74.5,570.1 77.3,573.3 80.2,569.5 83.0,571.5 85.9,567.6 88.7,569.5 91.6,568.8 94.4,562.9 97.3,563.6 100.1,568.1 103.0,562.1 105.8,567.1 108.7,567.1 111.5,565.6 114.4,568.6 117.2,567.6 120.1,566.6 122.9,560.8 125.8,560.9 128.7,566.9 131.5,560.6 134.4,566.2 137.2,564.8 140.1,563.0 142.9,565.1 145.8,557.8 148.6,565.2 151.5,570.2 154.3,561.6 157.2,567.5 160.0,567.1 162.9,576.3 165.7,562.6 168.6,563.3 171.4,563.3 174.3,562.7 177.1,560.3 180.0,566.2 182.8,562.9 185.7,568.6 188.5,567.3 191.4,562.5 194.2,564.7"/>
<polyline points="54.5,579.8 57.4,572.7 60.2,568.9 63.1,570.8 65.9,573.5 68.8,572.1 71.6,564.8 74.5,572.8 77.3,568.3 80.2,567.1 83.0,566.9 85.9,571.3 88.7,568.9 91.6,573.3 94.4,571.2 97.3,575.7 100.1,577.3 103.0,570.6 105.8,570.3 108.7,572.6 111.5,575.6 114.4,572.4 117.2,573.4 120.1,571.1 122.9,577.5 125.8,573.3 128.7,574.2 131.5,577.1 134.4,573.0 137.2,573.6 140.1,575.0 142.9,572.5 145.8,578.1 148.6,573.9 151.5,572.4 154.3,572.8 157.2,570.4 160.0,577.4 162.9,578.3 165.7,573.0 168.6,572.3 171.4,567.2 174.3,571.8 177.1,576.4 180.0,571.2 182.8,576.3 185.7,578.3 188.5,565.7 191.4,572.7 194.2,571.5"/>
<polyline points="54.5,576.7 57.4,565.7 60.2,570.6 63.1,571.3 65.9,564.1 68.8,563.8 71.6,566.0 74.5,566.5 77.3,566.5 80.2,568.4 83.0,562.7 85.9,564.7 88.7,564.9 91.6,578.7 94.4,576.8 97.3,578.3 100.1,577.6 103.0,583.0 105.8,578.3 108.7,573.6 111.5,581.2 114.4,580.1 117.2,577.2 120.1,577.0 122.9,578.0 125.8,584.3 128.7,578.3 131.5,583.0 134.4,582.0 137.2,578.2 140.1,580.6 142.9,577.5 145.8,570.9 148.6,577.5 151.5,577.7 154.3,582.2 157.2,581.5 160.0,582.7 162.9,581.2 165.7,582.8 168.6,581.6 171.4,580.3 174.3,582.5 177.1,583.7 180.0,583.5 182.8,578.5 185.7,579.6 188.5,576.9 191.4,576.8 194.2,580.7"/>
<polyline points="54.5,576.1 57.4,570.1 60.2,572.9 63.1,575.1 65.9,571.1 68.8,576.4 71.6,573.6 74.5,569.6 77.3,571.1 80.2,572.3 83.0,568.5 85.9,573.3 88.7,569.8 91.6,551.7 94.4,553.2 97.3,547.7 100.1,553.8 103.0,541.7 105.8,552.1 108.7,541.4 111.5,554.2 114.4,547.1 117.2,554.6 120.1,555.2 122.9,549.0 125.8,546.8 128.7,554.9 131.5,544.7 134.4,553.0 137.2,549.1 140.1,548.1 142.9,547.2 145.8,557.1 148.6,542.9 151.5,547.3 154.3,551.4 157.2,553.9 160.0,556.7 162.9,555.3 165.7,547.4 168.6,551.1 171.4,554.4 174.3,551.8 177.1,543.2 180.0,551.0 182.8,552.1 185.7,544.0 188.5,547.7 191.4,549.5 194.2,552.2"/>
<polyline points="54.5,582.6 57.4,573.3 60.2,571.2 63.1,570.5 65.9,571.1 68.8,570.9 71.6,573.8 74.5,576.4 77.3,572.2 80.2,573.1 83.0,572.1 85.9,571.0 88.7,573.2 91.6,570.9 94.4,567.5 97.3,566.8 100.1,569.4 103.0,565.5 105.8,567.9 108.7,570.6 111.5,567.0 114.4,560.8 117.2,569.5 120.1,563.3 122.9,562.5 125.8,562.1 128.7,570.0 131.5,560.4 134.4,566.8 137.2,568.0 140.1,568.0 142.9,565.2 145.8,567.0 148.6,567.8 151.5,562.9 154.3,569.6 157.2,570.7 160.0,564.5 162.9,564.8 165.7,563.5 168.6,570.8 171.4,563.5 174.3,565.6 177.1,561.2 180.0,571.4 182.8,566.4 185.7,568.1 188.5,572.5 191.4,569.6 194.2,563.4"/>
<polyline points="54.5,578.6 57.4,569.7 60.2,569.0 63.1,573.2 65.9,571.2 68.8,568.3 71.6,572.3 74.5,572.3 77.3,568.2 80.2,566.2 83.0,572.8 85.9,576.2 88.7,573.1 91.6,585.9 94.4,583.6 97.3,581.6 100.1,583.6 103.0,585.1 105.8,582.8 108.7,585.8 111.5,583.4 114.4,584.9 117.2,576.1 120.1,581.1 122.9,585.4 125.8,585.9 128.7,584.4 131.5,587.6 134.4,585.2 137.2,585.2 140.1,580.9 142.9,584.4 145.8,585.3 148.6,586.8 151.5,586.3 154.3,583.4 157.2,583.8 160.0,580.2 162.9,584.9 165.7,580.4 168.6,582.6 171.4,583.2 174.3,588.5 177.1,586.6 180.0,581.3 182.8,579.5 185.7,582.7 188.5,581.2 191.4,584.3 194.2,584.2"/>
<polyline points="54.5,577.6 57.4,570.4 60.2,570.0 63.1,567.6 65.9,567.9 68.8,570.6 71.6,564.1 74.5,567.5 77.3,568.0 80.2,564.2 83.0,565.1 85.9,567.7 88.7,565.9 91.6,577.4 94.4,576.1 97.3,581.0 100.1,570.4 103.0,579.9 105.8,572.0 108.7,576.6 111.5,577.1 114.4,574.7 117.2,573.3 120.1,572.2 122.9,568.7 125.8,573.0 128.7,571.4 131.5,575.9 134.4,571.9 137.2,573.6 140.1,575.5 142.9,574.4 145.8,574.3 148.6,573.5 151.5,572.9 154.3,575.7 157.2,576.4 160.0,571.8 162.9,579.3 165.7,576.0 168.6,569.4 171.4,582.4 174.3,576.2 177.1,572.0 180.0,579.1 182.8,566.2 185.7,582.0 188.5,569.7 191.4,569.3 194.2,571.3"/>
<polyline points="54.5,576.4 57.4,566.3 60.2,568.7 63.1,564.3 65.9,568.9 68.8,566.6 71.6,563.2 74.5,568.3 77.3,566.2 80.2,564.7 83.0,568.3 85.9,561.9 88.7,563.7 91.6,574.2 94.4,569.4 97.3,571.8 100.1,571.4 103.0,569.0 105.8,571.5 108.7,566.1 111.5,571.5 114.4,566.0 117.2,569.4 120.1,566.4 122.9,571.0 125.8,570.9 128.7,573.0 131.5,567.3 134.4,566.1 137.2,562.3 140.1,565.0 142.9,568.4 145.8,569.9 148.6,567.9 151.5,569.3 154.3,564.4 157.2,566.1 160.0,572.0 162.9,571.5 165.7,564.7 168.6,568.2 171.4,570.0 174.3,565.3 177.1,570.5 180.0,570.1 182.8,570.7 185.7,575.6 188.5,566.4 191.4,573.2 194.2,571.1"/>
<polyline points="54.5,579.0 57.4,570.1 60.2,573.6 63.1,569.5 65.9,572.7 68.8,568.1 71.6,567.8 74.5,568.6 77.3,563.3 80.2,566.8 83.0,566.5 85.9,567.4 88.7,568.1 91.6,573.5 94.4,573.1 97.3,580.2 100.1,573.2 103.0,574.8 105.8,573.5 108.7,575.0 111.5,580.0 114.4,579.8 117.2,570.9 120.1,575.6 122.9,580.5 125.8,575.3 128.7,577.4 131.5,581.8 134.4,583.1 137.2,581.1 140.1,575.5 142.9,576.5 145.8,577.1 148.6,575.5 151.5,574.6 154.3,582.5 157.2,577.2 160.0,578.8 162.9,580.0 165.7,577.9 168.6,576.7 171.4,577.1 174.3,580.6 177.1,577.8 180.0,570.4 182.8,579.4 185.7,581.3 188.5,575.5 191.4,574.6 194.2,575.0"/>
<polyline points="54.5,580.4 57.4,572.6 60.2,570.6 63.1,569.2 65.9,566.9 68.8,567.0 71.6,568.4 74.5,565.8 77.3,567.8 80.2,565.6 83.0,571.1 85.9,571.3 88.7,565.3 91.6,572.7 94.4,569.1 97.3,568.4 100.1,569.7 103.0,569.6 105.8,563.4 108.7,576.5 111.5,565.1 114.4,560.4 117.2,568.0 120.1,568.1 122.9,565.7 125.8,562.0 128.7,572.0 131.5,567.8 134.4,568.7 137.2,566.2 140.1,567.5 142.9,565.9 145.8,569.5 148.6,567.9 151.5,570.3 154.3,570.3 157.2,568.5 160.0,568.5 162.9,572.0 165.7,562.8 168.6,568.5 171.4,572.7 174.3,564.4 177.1,570.6 180.0,566.4 182.8,568.1 185.7,567.2 188.5,567.5 191.4,570.0 194.2,567.9"/>
<polyline points="54.5,582.7 57.4,573.1 60.2,576.1 63.1,576.7 65.9,567.7 68.8,573.8 71.6,567.6 74.5,571.2 77.3,572.1 80.2,571.0 83.0,570.4 85.9,568.9 88.7,570.5 91.6,574.9 94.4,574.8 97.3,571.3 100.1,572.9 103.0,578.3 105.8,577.2 108.7,574.3 111.5,577.2 114.4,576.4 117.2,578.2 120.1,576.1 122.9,574.0 125.8,572.3 128.7,575.3 131.5,569.1 134.4,575.5 137.2,565.7 140.1,572.3 142.9,573.8 145.8,576.8 148.6,583.8 151.5,575.8 154.3,574.8 157.2,569.6 160.0,579.5 162.9,569.6 165.7,576.1 168.6,573.1 171.4,582.9 174.3,574.9 177.1,576.4 180.0,573.3 182.8,575.0 185.7,578.7 188.5,572.5 191.4,573.2 194.2,573.5"/>
<polyline points="54.5,578.4 57.4,573.0 60.2,572.4 63.1,565.4 65.9,566.8 68.8,568.1 71.6,569.3 74.5,567.9 77.3,567.8 80.2,568.5 83.0,569.2 85.9,561.9 88.7,566.5 91.6,570.3 94.4,572.6 97.3,570.6 100.1,565.9 103.0,565.7 105.8,569.0 108.7,568.1 111.5,569.3 114.4,571.9 117.2,563.9 120.1,567.0 122.9,560.0 125.8,570.7 128.7,568.7 131.5,565.3 134.4,569.1 137.2,572.8 140.1,571.4 142.9,567.9 145.8,567.1 148.6,568.6 151.5,564.9 154.3,564.9 157.2,567.2 160.0,568.2 162.9,569.1 165.7,566.4 168.6,565.2 171.4,568.0 174.3,566.7 177.1,569.3 180.0,572.9 182.8,571.6 185.7,565.7 188.5,566.8 191.4,563.0 194.2,568.1"/>
<polyline points="54.5,575.6 57.4,570.9 60.2,569.1 63.1,568.1 65.9,570.7 68.8,566.9 71.6,565.4 74.5,568.9 77.3,562.6 80.2,568.1 83.0,567.7 85.9,567.6 88.7,568.5 91.6,557.0 94.4,558.5 97.3,552.3 100.1,556.3 103.0,556.5 105.8,559.4 108.7,563.9 111.5,558.9 114.4,561.7 117.2,555.0 120.1,558.7 122.9,552.3 125.8,555.8 128.7,555.4 131.5,557.7 134.4,557.8 137.2,556.1 140.1,555.1 142.9,561.2 145.8,556.7 148.6,548.7 151.5,558.9 154.3,559.5 157.2,561.2 160.0,564.0 162.9,554.1 165.7,558.3 168.6,557.4 171.4,551.6 174.3,549.1 177.1,561.9 180.0,554.6 182.8,556.2 185.7,557.1 188.5,556.7 191.4,558.6 194.2,552.6"/>
<polyline points="54.5,576.3 57.4,568.4 60.2,568.9 63.1,569.0 65.9,565.2 68.8,568.1 71.6,569.4 74.5,571.1 77.3,569.7 80.2,571.2 83.0,568.2 85.9,567.6 88.7,573.2 91.6,579.9 94.4,578.1 97.3,579.5 100.1,582.6 103.0,576.4 105.8,581.9 108.7,583.4 111.5,583.0 114.4,580.0 117.2,577.2 120.1,576.7 122.9,579.4 125.8,583.3 128.7,581.8 131.5,582.5 134.4,580.5 137.2,584.9 140.1,579.6 142.9,578.2 145.8,580.4 148.6,578.7 151.5,582.6 154.3,584.0 157.2,581.7 160.0,576.7 162.9,577.1 165.7,581.2 168.6,576.6 171.4,580.9 174.3,575.7 177.1,578.6 180.0,581.2 182.8,577.7 185.7,582.1 188.5,582.6 191.4,584.0 194.2,579.2"/>
<polyline points="54.5,580.9 57.4,567.7 60.2,571.6 63.1,572.1 65.9,567.1 68.8,566.5 71.6,569.0 74.5,573.9 77.3,570.9 80.2,567.7 83.0,569.0 85.9,565.0 88.7,572.0 91.6,570.8 94.4,574.9 97.3,568.8 100.1,573.2 103.0,569.7 105.8,574.9 108.7,577.3 111.5,576.4 114.4,574.8 117.2,576.1 120.1,569.2 122.9,568.8 125.8,572.1 128.7,576.1 131.5,573.3 134.4,575.1 137.2,568.4 140.1,571.9 142.9,571.4 145.8,574.2 148.6,579.2 151.5,575.3 154.3,576.4 157.2,571.8 160.0,572.6 162.9,575.4 165.7,574.1 168.6,568.1 171.4,575.9 174.3,575.8 177.1,573.6 180.0,575.1 182.8,574.3 185.7,571.3 188.5,567.5 191.4,578.5 194.2,573.0"/>
<polyline points="54.5,580.4 57.4,572.1 60.2,568.1 63.1,571.5 65.9,570.5 68.8,570.0 71.6,569.5 74.5,570.0 77.3,567.0 80.2,569.3 83.0,568.6 85.9,569.0 88.7,571.2 91.6,580.8 94.4,581.5 97.3,577.9 100.1,580.5 103.0,581.5 105.8,577.8 108.7,577.0 111.5,583.5 114.4,573.6 117.2,578.4 120.1,578.8 122.9,575.4 125.8,578.3 128.7,580.2 131.5,572.2 134.4,581.5 137.2,578.7 140.1,576.0 142.9,581.5 145.8,578.7 148.6,577.3 151.5,571.6 154.3,581.0 157.2,578.6 160.0,576.6 162.9,578.2 165.7,581.9 168.6,577.3 171.4,578.1 174.3,577.2 177.1,575.2 180.0,575.6 182.8,577.3 185.7,577.6 188.5,581.6 191.4,578.8 194.2,577.8"/>
<polyline points="54.5,581.7 57.4,567.2 60.2,565.0 63.1,571.1 65.9,568.9 68.8,570.3 71.6,566.4 74.5,568.3 77.3,569.0 80.2,569.5 83.0,568.5 85.9,571.1 88.7,566.8 91.6,575.8 94.4,572.0 97.3,573.2 100.1,570.3 103.0,573.7 105.8,570.5 108.7,576.5 111.5,571.7 114.4,574.3 117.2,573.0 120.1,573.4 122.9,570.7 125.8,579.8 128.7,572.6 131.5,578.2 134.4,569.9 137.2,579.7 140.1,576.7 142.9,578.8 145.8,568.6 148.6,577.6 151.5,573.3 154.3,575.3 157.2,579.2 160.0,574.7 162.9,571.6 165.7,574.2 168.6,570.7 171.4,574.7 174.3,573.6 177.1,574.8 180.0,572.6 182.8,567.8 185.7,572.5 188.5,573.0 191.4,575.5 194.2,575.9"/>
<polyline points="54.5,583.6 57.4,572.9 60.2,573.0 63.1,566.9 65.9,577.4 68.8,570.5 71.6,569.4 74.5,573.8 77.3,572.4 80.2,569.6 83.0,566.4 85.9,572.5 88.7,574.0 91.6,580.6 94.4,579.1 97.3,584.1 100.1,589.0 103.0,579.3 105.8,583.7 108.7,580.2 111.5,583.3 114.4,584.2 117.2,584.4 120.1,579.3 122.9,579.4 125.8,588.8 128.7,585.6 131.5,578.5 134.4,584.1 137.2,586.8 140.1,583.2 142.9,583.5 145.8,583.4 148.6,584.4 151.5,584.0 154.3,584.4 157.2,582.3 160.0,585.3 162.9,583.9 165.7,583.5 168.6,579.7 171.4,582.2 174.3,583.5 177.1,581.7 180.0,582.1 182.8,580.3 185.7,581.8 188.5,578.4 191.4,579.6 194.2,583.3"/>
<polyline points="54.5,577.3 57.4,570.2 60.2,572.9 63.1,573.6 65.9,568.0 68.8,566.8 71.6,566.5 74.5,571.5 77.3,565.6 80.2,569.3 83.0,566.8 85.9,566.5 88.7,569.4 91.6,581.0 94.4,585.1 97.3,581.9 100.1,584.4 103.0,578.1 105.8,579.1 108.7,576.7 111.5,578.3 114.4,581.1 117.2,578.3 120.1,580.4 122.9,577.6 125.8,578.4 128.7,582.1 131.5,579.3 134.4,579.1 137.2,580.2 140.1,576.8 142.9,574.5 145.8,580.3 148.6,580.3 151.5,585.6 154.3,579.7 157.2,580.5 160.0,585.4 162.9,578.5 165.7,577.6 168.6,581.4 171.4,580.3 174.3,582.0 177.1,577.1 180.0,583.6 182.8,580.2 185.7,573.8 188.5,579.1 191.4,578.0 194.2,579.7"/>
<polyline points="54.5,578.9 57.4,573.7 60.2,569.7 63.1,567.2 65.9,567.5 68.8,573.8 71.6,572.1 74.5,573.5 77.3,566.7 80.2,567.7 83.0,567.2 85.9,571.0 88.7,571.5 91.6,576.2 94.4,576.1 97.3,578.9 100.1,576.0 103.0,574.5 105.8,575.7 108.7,579.5 111.5,582.6 114.4,577.2 117.2,575.9 120.1,577.2 122.9,577.7 125.8,578.4 128.7,574.3 131.5,576.5 134.4,576.0 137.2,579.3 140.1,578.2 142.9,575.9 145.8,579.4 148.6,580.1 151.5,577.4 154.3,572.8 157.2,575.8 160.0,572.1 162.9,576.8 165.7,577.3 168.6,580.5 171.4,578.1 174.3,572.2 177.1,575.4 180.0,574.2 182.8,574.3 185.7,576.4 188.5,577.0 191.4,576.0 194.2,574.4"/>
<polyline points="54.5,578.8 57.4,572.4 60.2,570.5 63.1,571.9 65.9,566.9 68.8,574.4 71.6,569.6 74.5,562.9 77.3,569.5 80.2,571.3 83.0,568.3 85.9,564.9 88.7,568.3 91.6,563.5 94.4,565.3 97.3,566.9 100.1,554.8 103.0,565.4 105.8,567.4 108.7,567.3 111.5,564.3 114.4,564.2 117.2,562.9 120.1,565.1 122.9,570.5 125.8,563.8 128.7,566.7 131.5,566.6 134.4,570.7 137.2,567.6 140.1,568.1 142.9,565.7 145.8,570.6 148.6,565.4 151.5,565.2 154.3,569.5 157.2,567.7 160.0,568.5 162.9,562.5 165.7,574.3 168.6,566.8 171.4,571.3 174.3,567.1 177.1,562.7 180.0,567.8 182.8,565.1 185.7,568.5 188.5,558.9 191.4,562.5 194.2,561.7"/>
<polyline points="54.5,578.6 57.4,573.1 60.2,572.6 63.1,570.9 65.9,574.7 68.8,569.4 71.6,571.1 74.5,569.8 77.3,572.5 80.2,569.3 83.0,572.2 85.9,567.9 88.7,567.3 91.6,559.3 94.4,560.7 97.3,560.3 100.1,572.2 103.0,559.6 105.8,563.5 108.7,562.2 111.5,563.6 114.4,567.5 117.2,564.5 120.1,560.2 122.9,557.5 125.8,564.8 128.7,565.8 131.5,557.4 134.4,565.7 137.2,555.1 140.1,562.4 142.9,565.7 145.8,559.0 148.6,556.5 151.5,567.7 154.3,557.0 157.2,563.6 160.0,557.2 162.9,563.9 165.7,568.2 168.6,560.8 171.4,559.2 174.3,555.1 177.1,556.4 180.0,560.1 182.8,563.4 185.7,564.4 188.5,563.6 191.4,565.5 194.2,563.5"/>
<polyline points="54.5,579.6 57.4,564.5 60.2,568.3 63.1,571.2 65.9,568.4 68.8,572.7 71.6,570.9 74.5,573.9 77.3,565.5 80.2,567.4 83.0,571.6 85.9,568.7 88.7,566.0 91.6,582.6 94.4,582.9 97.3,586.2 100.1,585.6 103.0,583.7 105.8,581.5 108.7,586.1 111.5,586.9 114.4,580.9 117.2,586.4 120.1,581.1 122.9,583.3 125.8,581.6 128.7,579.4 131.5,582.1 134.4,581.9 137.2,586.3 140.1,585.7 142.9,582.2 145.8,579.9 148.6,580.3 151.5,577.9 154.3,583.1 157.2,583.4 160.0,581.3 162.9,583.9 165.7,584.1 168.6,586.7 171.4,581.3 174.3,586.7 177.1,582.6 180.0,587.6 182.8,581.1 185.7,586.6 188.5,581.7 191.4,588.1 194.2,585.1"/>
<polyline points="54.5,580.7 57.4,573.4 60.2,577.3 63.1,570.6 65.9,570.1 68.8,573.7 71.6,569.4 74.5,572.6 77.3,572.9 80.2,570.2 83.0,571.7 85.9,564.2 88.7,573.5 91.6,578.7 94.4,578.0 97.3,586.2 100.1,585.5 103.0,579.2 105.8,582.1 108.7,579.7 111.5,577.6 114.4,581.8 117.2,583.7 120.1,588.3 122.9,580.2 125.8,583.3 128.7,579.9 131.5,580.1 134.4,584.6 137.2,576.0 140.1,577.8 142.9,578.4 145.8,584.0 148.6,581.9 151.5,582.3 154.3,581.9 157.2,583.9 160.0,579.6 162.9,580.1 165.7,579.8 168.6,582.2 171.4,577.2 174.3,580.2 177.1,588.3 180.0,582.5 182.8,580.9 185.7,578.1 188.5,581.6 191.4,581.4 194.2,582.6"/>
<polyline points="54.5,581.9 57.4,573.6 60.2,569.7 63.1,572.2 65.9,574.8 68.8,568.9 71.6,572.0 74.5,569.2 77.3,569.0 80.2,566.8 83.0,567.0 85.9,570.8 88.7,569.6 91.6,572.7 94.4,562.9 97.3,567.0 100.1,563.8 103.0,569.5 105.8,575.2 108.7,563.4 111.5,568.2 114.4,568.0 117.2,568.3 120.1,566.3 122.9,566.7 125.8,573.7 128.7,564.9 131.5,570.2 134.4,570.0 137.2,562.7 140.1,565.4 142.9,569.6 145.8,574.6 148.6,567.9 151.5,566.7 154.3,568.7 157.2,572.6 160.0,571.1 162.9,572.6 165.7,567.7 168.6,565.7 171.4,565.1 174.3,570.9 177.1,567.7 180.0,566.6 182.8,570.2 185.7,569.0 188.5,561.4 191.4,567.8 194.2,565.5"/>
<polyline points="54.5,584.0 57.4,571.1 60.2,567.5 63.1,565.0 65.9,567.0 68.8,568.1 71.6,569.5 74.5,570.9 77.3,569.7 80.2,567.6 83.0,570.8 85.9,566.4 88.7,570.9 91.6,591.6 94.4,589.7 97.3,591.3 100.1,590.6 103.0,584.4 105.8,587.7 108.7,586.6 111.5,584.3 114.4,584.1 117.2,588.4 120.1,583.9 122.9,586.2 125.8,587.2 128.7,586.1 131.5,590.7 134.4,589.1 137.2,587.4 140.1,585.7 142.9,588.1 145.8,587.5 148.6,584.8 151.5,583.7 154.3,585.3 157.2,584.0 160.0,588.2 162.9,587.9 165.7,586.4 168.6,587.9 171.4,588.4 174.3,583.1 177.1,587.7 180.0,589.6 182.8,586.0 185.7,582.6 188.5,587.0 191.4,584.1 194.2,588.3"/>
<polyline points="54.5,581.1 57.4,567.5 60.2,574.3 63.1,567.1 65.9,573.5 68.8,571.4 71.6,568.6 74.5,568.9 77.3,569.5 80.2,574.1 83.0,569.0 85.9,572.2 88.7,563.1 91.6,540.7 94.4,538.8 97.3,544.9 100.1,541.9 103.0,545.6 105.8,535.1 108.7,540.9 111.5,537.1 114.4,542.8 117.2,542.0 120.1,533.7 122.9,544.1 125.8,548.0 128.7,537.8 131.5,544.9 134.4,541.7 137.2,535.5 140.1,543.4 142.9,535.6 145.8,542.8 148.6,532.8 151.5,533.6 154.3,541.8 157.2,540.6 160.0,543.5 162.9,538.7 165.7,534.4 168.6,546.3 171.4,535.4 174.3,545.8 177.1,543.6 180.0,547.9 182.8,530.0 185.7,539.4 188.5,538.5 191.4,542.8 194.2,534.8"/>
<polyline points="54.5,574.3 57.4,572.1 60.2,570.4 63.1,568.6 65.9,572.0 68.8,569.8 71.6,567.3 74.5,569.0 77.3,568.4 80.2,570.0 83.0,568.1 85.9,568.6 88.7,564.9 91.6,563.6 94.4,566.9 97.3,574.5 100.1,563.7 103.0,563.5 105.8,569.2 108.7,572.9 111.5,570.0 114.4,562.9 117.2,569.7 120.1,567.7 122.9,565.4 125.8,561.9 128.7,566.2 131.5,566.4 134.4,568.0 137.2,560.5 140.1,562.5 142.9,566.4 145.8,570.9 148.6,568.8 151.5,564.1 154.3,568.6 157.2,563.1 160.0,564.9 162.9,565.1 165.7,563.9 168.6,564.4 171.4,569.0 174.3,567.2 177.1,558.1 180.0,570.2 182.8,567.7 185.7,562.5 188.5,566.7 191.4,568.9 194.2,570.6"/>
<polyline points="54.5,575.0 57.4,569.6 60.2,566.5 63.1,571.4 65.9,568.3 68.8,570.2 71.6,567.9 74.5,566.3 77.3,565.3 80.2,570.2 83.0,564.4 85.9,568.5 88.7,569.7 91.6,539.6 94.4,545.6 97.3,538.8 100.1,537.5 103.0,539.8 105.8,536.3 108.7,540.3 111.5,538.8 114.4,545.5 117.2,538.6 120.1,542.8 122.9,540.9 125.8,539.3 128.7,537.9 131.5,546.5 134.4,546.1 137.2,540.2 140.1,536.6 142.9,537.1 145.8,534.7 148.6,532.8 151.5,536.5 154.3,538.9 157.2,543.6 160.0,543.2 162.9,541.0 165.7,537.6 168.6,537.8 171.4,538.8 174.3,539.5 177.1,535.9 180.0,537.9 182.8,537.4 185.7,537.4 188.5,541.4 191.4,543.6 194.2,536.5"/>
<polyline points="54.5,581.1 57.4,565.8 60.2,572.6 63.1,571.1 65.9,569.7 68.8,573.0 71.6,569.7 74.5,565.3 77.3,567.3 80.2,567.9 83.0,567.8 85.9,568.8 88.7,566.5 91.6,571.7 94.4,572.5 97.3,570.9 100.1,568.3 103.0,570.1 105.8,569.0 108.7,577.6 111.5,567.4 114.4,563.7 117.2,566.9 120.1,572.2 122.9,573.9 125.8,570.3 128.7,574.3 131.5,568.9 134.4,572.9 137.2,568.1 140.1,566.9 142.9,577.7 145.8,570.3 148.6,573.4 151.5,575.7 154.3,573.2 157.2,571.9 160.0,567.9 162.9,576.0 165.7,567.8 168.6,564.8 171.4,569.3 174.3,569.5 177.1,571.2 180.0,574.9 182.8,569.5 185.7,570.0 188.5,568.9 191.4,563.0 194.2,568.9"/>
<polyline points="54.5,581.0 57.4,571.9 60.2,569.3 63.1,569.8 65.9,566.2 68.8,568.6 71.6,563.3 74.5,563.6 77.3,565.3 80.2,568.0 83.0,565.3 85.9,564.6 88.7,569.1 91.6,543.6 94.4,542.0 97.3,544.2 100.1,538.3 103.0,539.8 105.8,548.7 108.7,544.6 111.5,548.8 114.4,542.6 117.2,548.9 120.1,541.1 122.9,543.4 125.8,540.9 128.7,545.7 131.5,551.5 134.4,537.4 137.2,545.9 140.1,539.1 142.9,543.2 145.8,542.2 148.6,537.1 151.5,543.6 154.3,539.0 157.2,551.6 160.0,541.3 162.9,546.2 165.7,545.7 168.6,545.1 171.4,543.6 174.3,537.9 177.1,553.2 180.0,544.9 182.8,548.2 185.7,540.0 188.5,547.0 191.4,543.1 194.2,546.8"/>
<polyline points="54.5,579.4 57.4,569.7 60.2,572.6 63.1,568.1 65.9,566.6 68.8,569.9 71.6,565.5 74.5,573.3 77.3,572.5 80.2,571.2 83.0,568.8 85.9,567.3 88.7,567.4 91.6,543.4 94.4,539.9 97.3,545.2 100.1,548.7 103.0,548.6 105.8,533.7 108.7,553.6 111.5,543.9 114.4,536.6 117.2,541.0 120.1,546.8 122.9,543.1 125.8,539.3 128.7,537.7 131.5,547.1 134.4,539.7 137.2,542.0 140.1,538.2 142.9,536.9 145.8,544.6 148.6,549.6 151.5,541.3 154.3,535.2 157.2,540.1 160.0,542.1 162.9,532.4 165.7,547.7 168.6,539.1 171.4,545.6 174.3,542.9 177.1,542.7 180.0,536.4 182.8,547.3 185.7,545.5 188.5,550.2 191.4,540.9 194.2,545.1"/>
<polyline points="54.5,582.2 57.4,570.0 60.2,572.3 63.1,570.2 65.9,570.2 68.8,572.2 71.6,575.0 74.5,568.5 77.3,570.3 80.2,568.1 83.0,575.4 85.9,574.3 88.7,575.3 91.6,569.6 94.4,563.1 97.3,564.7 100.1,566.7 103.0,566.2 105.8,564.0 108.7,567.6 111.5,565.3 114.4,566.1 117.2,574.0 120.1,567.9 122.9,562.0 125.8,567.9 128.7,567.1 131.5,568.7 134.4,568.2 137.2,562.8 140.1,567.5 142.9,570.1 145.8,577.2 148.6,568.5 151.5,573.3 154.3,572.8 157.2,563.9 160.0,564.2 162.9,573.1 165.7,563.7 168.6,565.0 171.4,569.3 174.3,564.1 177.1,572.1 180.0,570.7 182.8,571.5 185.7,570.4 188.5,563.6 191.4,571.1 194.2,570.5"/>
<polyline points="54.5,580.4 57.4,568.7 60.2,572.0 63.1,573.2 65.9,571.0 68.8,569.5 71.6,571.7 74.5,568.6 77.3,564.6 80.2,570.3 83.0,568.6 85.9,565.2 88.7,569.9 91.6,560.1 94.4,561.0 97.3,555.3 100.1,554.8 103.0,557.4 105.8,556.7 108.7,551.9 111.5,553.5 114.4,562.2 117.2,556.9 120.1,556.4 122.9,554.1 125.8,557.7 128.7,559.3 131.5,558.6 134.4,563.7 137.2,557.0 140.1,559.2 142.9,555.1 145.8,560.8 148.6,558.6 151.5,560.6 154.3,561.0 157.2,554.2 160.0,558.7 162.9,555.2 165.7,561.2 168.6,556.5 171.4,563.4 174.3,558.7 177.1,558.8 180.0,554.7 182.8,556.2 185.7,557.6 188.5,553.7 191.4,556.2 194.2,554.9"/>
<polyline points="54.5,580.8 57.4,570.6 60.2,571.8 63.1,569.5 65.9,567.6 68.8,568.0 71.6,570.9 74.5,572.9 77.3,569.7 80.2,569.7 83.0,566.5 85.9,570.0 88.7,569.3 91.6,539.9 94.4,545.3 97.3,543.9 100.1,535.5 103.0,536.5 105.8,540.4 108.7,542.0 111.5,547.5 114.4,540.7 117.2,542.9 120.1,542.2 122.9,545.5 125.8,543.2 128.7,544.0 131.5,541.7 134.4,536.8 137.2,541.5 140.1,550.5 142.9,547.5 145.8,550.2 148.6,546.7 151.5,540.7 154.3,541.4 157.2,545.8 160.0,542.0 162.9,546.5 165.7,549.5 168.6,549.4 171.4,547.0 174.3,536.8 177.1,549.1 180.0,537.6 182.8,537.3 185.7,544.0 188.5,543.4 191.4,545.9 194.2,543.3"/>
<polyline points="54.5,577.5 57.4,568.4 60.2,569.8 63.1,569.6 65.9,570.4 68.8,569.2 71.6,572.6 74.5,568.7 77.3,569.0 80.2,571.4 83.0,563.8 85.9,571.3 88.7,570.9 91.6,570.2 94.4,577.2 97.3,573.6 100.1,575.9 103.0,574.1 105.8,571.5 108.7,570.0 111.5,567.5 114.4,568.5 117.2,567.3 120.1,569.2 122.9,572.5 125.8,567.5 128.7,572.6 131.5,573.0 134.4,566.2 137.2,568.5 140.1,570.3 142.9,568.6 145.8,568.2 148.6,575.4 151.5,571.4 154.3,574.8 157.2,570.7 160.0,573.2 162.9,566.7 165.7,569.4 168.6,573.6 171.4,571.1 174.3,574.9 177.1,570.9 180.0,569.3 182.8,570.2 185.7,577.2 188.5,572.1 191.4,569.4 194.2,570.1"/>
<polyline points="54.5,580.5 57.4,574.7 60.2,571.9 63.1,571.2 65.9,570.3 68.8,573.3 71.6,571.2 74.5,574.3 77.3,574.8 80.2,569.7 83.0,571.0 85.9,574.7 88.7,572.6 91.6,549.6 94.4,543.2 97.3,545.3 100.1,546.4 103.0,557.1 105.8,550.1 108.7,547.7 111.5,548.1 114.4,548.0 117.2,550.7 120.1,542.4 122.9,543.6 125.8,550.1 128.7,553.8 131.5,541.2 134.4,552.0 137.2,544.7 140.1,541.8 142.9,553.6 145.8,548.5 148.6,551.1 151.5,547.6 154.3,548.4 157.2,541.6 160.0,547.2 162.9,549.7 165.7,545.0 168.6,550.8 171.4,551.2 174.3,540.4 177.1,553.1 180.0,551.7 182.8,549.5 185.7,554.1 188.5,558.5 191.4,545.3 194.2,553.0"/>
<polyline points="54.5,583.0 57.4,574.5 60.2,570.8 63.1,565.0 65.9,569.0 68.8,568.8 71.6,574.1 74.5,570.3 77.3,573.0 80.2,567.9 83.0,570.2 85.9,569.4 88.7,569.5 91.6,546.6 94.4,550.7 97.3,541.4 100.1,550.1 103.0,549.2 105.8,545.3 108.7,547.1 111.5,542.8 114.4,539.5 117.2,542.9 120.1,543.1 122.9,543.9 125.8,540.2 128.7,552.1 131.5,542.4 134.4,548.1 137.2,549.4 140.1,544.0 142.9,545.7 145.8,541.4 148.6,539.1 151.5,554.3 154.3,544.3 157.2,535.3 160.0,540.1 162.9,537.6 165.7,543.5 168.6,550.3 171.4,549.0 174.3,540.8 177.1,539.7 180.0,547.2 182.8,545.2 185.7,542.8 188.5,551.7 191.4,545.5 194.2,536.8"/>
<polyline points="54.5,575.7 57.4,572.8 60.2,572.8 63.1,576.2 65.9,568.1 68.8,571.2 71.6,564.3 74.5,569.1 77.3,569.2 80.2,574.0 83.0,565.6 85.9,570.0 88.7,569.3 91.6,562.5 94.4,550.0 97.3,549.8 100.1,556.1 103.0,553.3 105.8,552.1 108.7,549.9 111.5,553.3 114.4,546.8 117.2,554.7 120.1,556.1 122.9,555.6 125.8,563.8 128.7,556.9 131.5,549.7 134.4,552.7 137.2,557.0 140.1,552.3 142.9,561.7 145.8,554.8 148.6,551.6 151.5,550.9 154.3,556.8 157.2,550.1 160.0,546.3 162.9,555.4 165.7,550.7 168.6,559.9 171.4,561.5 174.3,551.3 177.1,553.5 180.0,552.9 182.8,556.0 185.7,554.9 188.5,550.5 191.4,546.8 194.2,554.6"/>
<polyline points="54.5,576.8 57.4,567.9 60.2,568.5 63.1,563.0 65.9,568.4 68.8,567.1 71.6,572.8 74.5,569.4 77.3,569.5 80.2,567.7 83.0,566.6 85.9,569.1 88.7,562.8 91.6,550.9 94.4,548.2 97.3,545.3 100.1,551.7 103.0,543.8 105.8,543.5 108.7,547.5 111.5,538.0 114.4,545.9 117.2,545.1 120.1,550.4 122.9,553.5 125.8,549.0 128.7,547.7 131.5,548.2 134.4,543.0 137.2,556.6 140.1,551.2 142.9,554.2 145.8,540.5 148.6,548.7 151.5,548.5 154.3,551.0 157.2,542.4 160.0,548.1 162.9,545.3 165.7,555.1 168.6,541.2 171.4,544.6 174.3,543.9 177.1,540.9 180.0,547.1 182.8,547.0 185.7,543.2 188.5,544.4 191.4,547.3 194.2,546.1"/>
<polyline points="54.5,576.7 57.4,570.4 60.2,565.0 63.1,573.3 65.9,569.9 68.8,564.9 71.6,570.0 74.5,572.7 77.3,565.1 80.2,567.0 83.0,571.1 85.9,566.0 88.7,570.3 91.6,568.4 94.4,564.2 97.3,565.4 100.1,567.5 103.0,564.9 105.8,567.2 108.7,563.4 111.5,563.7 114.4,561.0 117.2,565.3 120.1,568.4 122.9,568.3 125.8,564.5 128.7,558.2 131.5,560.6 134.4,565.9 137.2,560.3 140.1,567.8 142.9,560.1 145.8,565.0 148.6,560.9 151.5,561.4 154.3,564.6 157.2,562.5 160.0,567.4 162.9,563.9 165.7,559.8 168.6,549.1 171.4,561.2 174.3,563.3 177.1,567.2 180.0,559.9 182.8,569.5 185.7,566.5 188.5,562.4 191.4,567.9 194.2,558.2"/>
<polyline points="54.5,582.1 57.4,575.4 60.2,574.9 63.1,570.1 65.9,569.5 68.8,569.9 71.6,570.0 74.5,571.8 77.3,569.4 80.2,573.7 83.0,569.9 85.9,566.0 88.7,566.2 91.6,566.2 94.4,565.8 97.3,559.8 100.1,558.4 103.0,569.9 105.8,566.1 108.7,563.8 111.5,560.3 114.4,567.5 117.2,562.4 120.1,565.7 122.9,556.3 125.8,563.1 128.7,565.1 131.5,565.8 134.4,560.9 137.2,562.2 140.1,568.4 142.9,563.8 145.8,569.3 148.6,567.3 151.5,569.1 154.3,569.3 157.2,567.0 160.0,568.0 162.9,562.8 165.7,561.8 168.6,565.4 171.4,568.5 174.3,561.8 177.1,571.7 180.0,571.4 182.8,562.1 185.7,562.3 188.5,561.2 191.4,565.4 194.2,569.0"/>
<polyline points="54.5,581.1 57.4,572.3 60.2,573.3 63.1,572.5 65.9,567.4 68.8,568.1 71.6,572.0 74.5,571.6 77.3,570.1 80.2,567.2 83.0,571.2 85.9,568.6 88.7,573.3 91.6,563.6 94.4,557.3 97.3,555.5 100.1,563.2 103.0,561.8 105.8,555.9 108.7,560.3 111.5,560.9 114.4,556.9 117.2,558.1 120.1,554.7 122.9,555.9 125.8,561.0 128.7,559.3 131.5,559.1 134.4,564.0 137.2,562.5 140.1,555.2 142.9,564.8 145.8,555.1 148.6,557.8 151.5,559.4 154.3,556.8 157.2,557.1 160.0,554.3 162.9,560.4 165.7,559.7 168.6,559.8 171.4,551.8 174.3,555.3 177.1,562.3 180.0,560.1 182.8,561.5 185.7,558.8 188.5,558.1 191.4,550.2 194.2,565.7"/>
<polyline points="54.5,581.1 57.4,571.1 60.2,571.3 63.1,569.7 65.9,567.1 68.8,573.2 71.6,566.0 74.5,570.0 77.3,565.1 80.2,567.7 83.0,565.4 85.9,566.9 88.7,565.4 91.6,565.1 94.4,568.1 97.3,562.9 100.1,562.8 103.0,558.0 105.8,572.2 108.7,565.9 111.5,561.6 114.4,569.6 117.2,566.0 120.1,557.9 122.9,560.3 125.8,568.3 128.7,560.3 131.5,561.1 134.4,562.5 137.2,563.9 140.1,564.4 142.9,568.2 145.8,567.0 148.6,562.7 151.5,564.7 154.3,558.8 157.2,566.4 160.0,573.5 162.9,566.4 165.7,564.3 168.6,563.9 171.4,565.0 174.3,568.1 177.1,560.0 180.0,567.5 182.8,562.8 185.7,566.2 188.5,569.4 191.4,560.3 194.2,573.9"/>
<polyline points="54.5,580.2 57.4,568.8 60.2,570.2 63.1,570.9 65.9,564.2 68.8,569.9 71.6,569.6 74.5,571.7 77.3,570.7 80.2,567.0 83.0,567.0 85.9,568.3 88.7,569.8 91.6,556.8 94.4,565.7 97.3,560.7 100.1,560.3 103.0,562.5 105.8,558.8 108.7,561.9 111.5,562.4 114.4,552.7 117.2,556.6 120.1,554.9 122.9,559.2 125.8,555.8 128.7,556.5 131.5,554.8 134.4,550.5 137.2,560.2 140.1,558.4 142.9,559.5 145.8,572.4 148.6,564.5 151.5,559.3 154.3,557.0 157.2,561.5 160.0,555.1 162.9,554.6 165.7,560.9 168.6,554.0 171.4,552.8 174.3,557.6 177.1,563.0 180.0,553.9 182.8,559.9 185.7,560.7 188.5,558.9 191.4,561.3 194.2,555.3"/>
<polyline points="54.5,576.7 57.4,571.5 60.2,569.2 63.1,566.4 65.9,569.4 68.8,561.0 71.6,568.6 74.5,569.3 77.3,564.8 80.2,565.6 83.0,567.4 85.9,567.7 88.7,565.9 91.6,534.4 94.4,534.8 97.3,539.7 100.1,536.3 103.0,534.4 105.8,534.7 108.7,552.7 111.5,542.5 114.4,541.9 117.2,539.4 120.1,537.5 122.9,534.0 125.8,535.4 128.7,538.9 131.5,538.2 134.4,530.1 137.2,541.2 140.1,536.9 142.9,531.0 145.8,536.7 148.6,547.8 151.5,536.6 154.3,540.1 157.2,538.8 160.0,533.4 162.9,536.1 165.7,539.5 168.6,534.1 171.4,536.3 174.3,537.8 177.1,536.9 180.0,537.1 182.8,539.9 185.7,540.5 188.5,538.2 191.4,542.8 194.2,544.2"/>
<polyline points="54.5,580.2 57.4,571.8 60.2,570.7 63.1,570.5 65.9,570.2 68.8,572.2 71.6,567.7 74.5,571.5 77.3,567.1 80.2,574.2 83.0,571.9 85.9,566.6 88.7,569.3 91.6,554.1 94.4,549.9 97.3,555.6 100.1,551.1 103.0,560.4 105.8,553.2 108.7,554.0 111.5,549.2 114.4,547.8 117.2,554.9 120.1,544.8 122.9,553.8 125.8,559.8 128.7,561.1 131.5,545.1 134.4,551.7 137.2,554.0 140.1,554.4 142.9,555.8 145.8,545.9 148.6,551.7 151.5,544.1 154.3,552.2 157.2,561.0 160.0,547.9 162.9,552.9 165.7,552.3 168.6,545.0 171.4,552.5 174.3,546.6 177.1,551.4 180.0,554.4 182.8,549.3 185.7,553.8 188.5,546.4 191.4,547.5 194.2,551.1"/>
<polyline points="54.5,579.7 57.4,568.2 60.2,570.3 63.1,568.0 65.9,571.7 68.8,568.9 71.6,567.9 74.5,570.7 77.3,569.6 80.2,569.7 83.0,566.4 85.9,569.8 88.7,566.7 91.6,553.8 94.4,558.2 97.3,565.5 100.1,559.0 103.0,555.6 105.8,560.6 108.7,555.4 111.5,557.2 114.4,557.9 117.2,560.5 120.1,561.4 122.9,560.4 125.8,559.2 128.7,557.5 131.5,557.9 134.4,560.6 137.2,559.2 140.1,558.0 142.9,565.5 145.8,562.3 148.6,562.4 151.5,560.2 154.3,560.5 157.2,560.4 160.0,562.7 162.9,557.0 165.7,558.4 168.6,565.6 171.4,559.4 174.3,563.6 177.1,553.1 180.0,561.2 182.8,560.9 185.7,559.1 188.5,560.2 191.4,559.7 194.2,553.7"/>
<polyline points="54.5,575.8 57.4,572.4 60.2,565.1 63.1,567.4 65.9,566.5 68.8,570.8 71.6,566.5 74.5,567.3 77.3,569.4 80.2,562.3 83.0,566.3 85.9,568.1 88.7,566.9 91.6,558.6 94.4,557.8 97.3,559.7 100.1,557.5 103.0,556.5 105.8,566.3 108.7,563.6 111.5,565.2 114.4,561.5 117.2,556.6 120.1,559.5 122.9,565.6 125.8,562.9 128.7,558.1 131.5,563.7 134.4,562.2 137.2,560.7 140.1,568.4 142.9,559.0 145.8,560.6 148.6,559.8 151.5,565.4 154.3,564.6 157.2,564.0 160.0,560.9 162.9,561.6 165.7,561.4 168.6,555.4 171.4,557.1 174.3,564.4 177.1,564.2 180.0,555.6 182.8,563.0 185.7,556.9 188.5,556.1 191.4,563.8 194.2,562.8"/>
<polyline points="54.5,583.3 57.4,573.2 60.2,569.4 63.1,572.4 65.9,571.7 68.8,572.1 71.6,574.2 74.5,566.9 77.3,576.2 80.2,571.8 83.0,568.6 85.9,573.3 88.7,568.2 91.6,532.2 94.4,542.1 97.3,537.1 100.1,543.3 103.0,535.7 105.8,537.7 108.7,537.1 111.5,531.7 114.4,535.9 117.2,531.8 120.1,535.1 122.9,543.7 125.8,536.9 128.7,535.8 131.5,544.8 134.4,531.9 137.2,537.8 140.1,536.4 142.9,542.3 145.8,537.7 148.6,536.7 151.5,539.6 154.3,537.7 157.2,548.0 160.0,531.7 162.9,543.3 165.7,548.3 168.6,542.6 171.4,542.0 174.3,535.5 177.1,542.4 180.0,536.8 182.8,542.6 185.7,527.8 188.5,535.5 191.4,528.9 194.2,542.8"/>
<polyline points="54.5,579.6 57.4,570.7 60.2,575.6 63.1,574.3 65.9,574.2 68.8,574.8 71.6,572.7 74.5,573.1 77.3,574.1 80.2,570.1 83.0,568.8 85.9,573.2 88.7,571.2 91.6,555.8 94.4,556.7 97.3,558.5 100.1,552.7 103.0,552.5 105.8,553.2 108.7,556.6 111.5,548.1 114.4,549.1 117.2,557.4 120.1,556.3 122.9,551.2 125.8,558.9 128.7,554.3 131.5,555.7 134.4,558.6 137.2,556.7 140.1,561.9 142.9,557.9 145.8,563.6 148.6,547.0 151.5,550.0 154.3,551.1 157.2,554.7 160.0,552.0 162.9,550.9 165.7,551.9 168.6,552.3 171.4,559.4 174.3,554.2 177.1,557.9 180.0,560.4 182.8,560.3 185.7,554.2 188.5,551.8 191.4,561.2 194.2,549.1"/>
<polyline points="54.5,581.5 57.4,571.8 60.2,568.5 63.1,571.7 65.9,573.3 68.8,569.5 71.6,575.3 74.5,569.7 77.3,566.9 80.2,568.9 83.0,567.5 85.9,568.0 88.7,567.3 91.6,536.5 94.4,541.1 97.3,538.2 100.1,537.5 103.0,531.2 105.8,529.5 108.7,535.2 111.5,540.7 114.4,540.6 117.2,538.1 120.1,530.6 122.9,535.6 125.8,537.4 128.7,540.8 131.5,533.0 134.4,535.8 137.2,537.4 140.1,536.7 142.9,529.2 145.8,537.9 148.6,529.2 151.5,531.3 154.3,536.9 157.2,533.0 160.0,537.8 162.9,541.1 165.7,538.4 168.6,541.5 171.4,534.8 174.3,537.1 177.1,534.5 180.0,533.3 182.8,551.9 185.7,535.7 188.5,545.7 191.4,536.4 194.2,541.3"/>
<polyline points="54.5,582.2 57.4,568.8 60.2,568.8 63.1,573.1 65.9,566.6 68.8,567.9 71.6,569.1 74.5,569.4 77.3,559.5 80.2,568.3 83.0,571.5 85.9,569.2 88.7,567.6 91.6,554.9 94.4,553.7 97.3,557.6 100.1,551.2 103.0,555.3 105.8,558.8 108.7,556.6 111.5,554.9 114.4,550.0 117.2,551.5 120.1,554.7 122.9,553.3 125.8,552.5 128.7,545.3 131.5,555.9 134.4,551.5 137.2,550.5 140.1,557.2 142.9,552.6 145.8,552.7 148.6,555.3 151.5,551.1 154.3,549.3 157.2,548.9 160.0,554.2 162.9,552.6 165.7,544.0 168.6,557.8 171.4,552.5 174.3,549.8 177.1,552.8 180.0,550.8 182.8,552.7 185.7,550.4 188.5,548.3 191.4,554.3 194.2,552.6"/>
<polyline points="54.5,580.4 57.4,574.5 60.2,569.2 63.1,566.6 65.9,566.4 68.8,567.3 71.6,572.6 74.5,566.3 77.3,571.6 80.2,569.8 83.0,564.9 85.9,571.9 88.7,567.0 91.6,552.1 94.4,553.8 97.3,556.7 100.1,551.5 103.0,555.1 105.8,549.0 108.7,548.3 111.5,558.7 114.4,555.2 117.2,554.5 120.1,557.9 122.9,557.7 125.8,552.8 128.7,554.0 131.5,559.8 134.4,555.3 137.2,551.1 140.1,558.0 142.9,556.9 145.8,546.9 148.6,547.9 151.5,559.7 154.3,558.6 157.2,551.7 160.0,558.0 162.9,554.2 165.7,555.0 168.6,551.0 171.4,563.3 174.3,562.0 177.1,558.1 180.0,549.1 182.8,553.8 185.7,560.0 188.5,551.2 191.4,550.4 194.2,554.2"/>
<polyline points="54.5,576.2 57.4,570.2 60.2,568.6 63.1,569.8 65.9,570.4 68.8,571.6 71.6,568.5 74.5,569.7 77.3,569.3 80.2,566.2 83.0,567.1 85.9,566.0 88.7,571.9 91.6,537.5 94.4,542.8 97.3,543.8 100.1,544.0 103.0,534.6 105.8,536.3 108.7,543.4 111.5,545.3 114.4,540.0 117.2,542.2 120.1,532.5 122.9,546.8 125.8,548.5 128.7,541.3 131.5,540.1 134.4,539.5 137.2,536.7 140.1,530.6 142.9,541.7 145.8,542.6 148.6,548.2 151.5,539.0 154.3,536.2 157.2,541.3 160.0,534.7 162.9,540.0 165.7,533.2 168.6,538.6 171.4,545.0 174.3,543.0 177.1,547.1 180.0,548.1 182.8,538.9 185.7,536.1 188.5,531.1 191.4,540.4 194.2,541.2"/>
<polyline points="54.5,577.5 57.4,571.3 60.2,567.4 63.1,567.5 65.9,573.4 68.8,566.7 71.6,568.0 74.5,569.1 77.3,569.0 80.2,563.5 83.0,563.8 85.9,562.9 88.7,570.1 91.6,548.3 94.4,541.5 97.3,550.7 100.1,548.6 103.0,553.3 105.8,537.4 108.7,540.9 111.5,543.5 114.4,544.5 117.2,547.3 120.1,547.2 122.9,542.8 125.8,548.6 128.7,540.1 131.5,547.6 134.4,549.3 137.2,539.8 140.1,546.1 142.9,543.1 145.8,547.3 148.6,555.2 151.5,543.1 154.3,551.3 157.2,540.8 160.0,552.2 162.9,553.6 165.7,544.1 168.6,543.6 171.4,545.0 174.3,550.7 177.1,541.6 180.0,551.8 182.8,547.5 185.7,548.9 188.5,547.1 191.4,541.8 194.2,548.2"/>
<polyline points="54.5,583.1 57.4,573.1 60.2,570.5 63.1,570.8 65.9,568.4 68.8,573.7 71.6,567.0 74.5,566.7 77.3,568.8 80.2,571.6 83.0,568.0 85.9,569.1 88.7,566.2 91.6,551.5 94.4,548.1 97.3,552.9 100.1,545.2 103.0,560.5 105.8,555.3 108.7,549.1 111.5,557.3 114.4,548.1 117.2,556.1 120.1,550.7 122.9,554.9 125.8,552.9 128.7,550.4 131.5,551.6 134.4,552.7 137.2,542.3 140.1,551.1 142.9,555.1 145.8,547.3 148.6,547.8 151.5,546.1 154.3,543.8 157.2,555.0 160.0,546.8 162.9,546.5 165.7,551.1 168.6,550.1 171.4,563.4 174.3,553.5 177.1,543.8 180.0,558.4 182.8,553.3 185.7,549.9 188.5,548.8 191.4,544.5 194.2,558.3"/>
<polyline points="54.5,581.9 57.4,570.1 60.2,564.6 63.1,565.8 65.9,567.6 68.8,575.2 71.6,568.8 74.5,567.4 77.3,568.9 80.2,568.1 83.0,560.1 85.9,568.1 88.7,569.8 91.6,555.6 94.4,557.7 97.3,557.7 100.1,556.8 103.0,553.5 105.8,555.6 108.7,561.1 111.5,557.0 114.4,554.7 117.2,558.3 120.1,552.1 122.9,553.5 125.8,560.3 128.7,555.3 131.5,548.9 134.4,550.5 137.2,556.7 140.1,553.0 142.9,559.1 145.8,562.1 148.6,554.4 151.5,555.5 154.3,554.5 157.2,556.6 160.0,555.2 162.9,558.5 165.7,554.7 168.6,553.3 171.4,556.7 174.3,553.4 177.1,563.3 180.0,559.5 182.8,550.9 185.7,549.7 188.5,555.5 191.4,556.9 194.2,561.4"/>
<polyline points="54.5,582.4 57.4,568.7 60.2,568.2 63.1,568.1 65.9,571.8 68.8,567.5 71.6,572.3 74.5,564.8 77.3,567.9 80.2,571.0 83.0,564.6 85.9,564.8 88.7,569.1 91.6,530.7 94.4,545.3 97.3,539.3 100.1,535.4 103.0,551.1 105.8,536.2 108.7,541.0 111.5,540.8 114.4,545.7 117.2,539.2 120.1,545.8 122.9,545.2 125.8,542.8 128.7,546.3 131.5,533.6 134.4,546.8 137.2,544.2 140.1,542.2 142.9,540.7 145.8,537.1 148.6,537.0 151.5,542.1 154.3,542.5 157.2,540.6 160.0,537.0 162.9,537.6 165.7,543.1 168.6,550.1 171.4,531.0 174.3,536.4 177.1,539.5 180.0,539.2 182.8,543.1 185.7,545.3 188.5,542.3 191.4,541.8 194.2,543.6"/>
<polyline points="54.5,578.8 57.4,572.8 60.2,570.8 63.1,575.8 65.9,571.0 68.8,570.6 71.6,573.1 74.5,574.2 77.3,568.7 80.2,571.6 83.0,568.2 85.9,570.2 88.7,567.4 91.6,558.3 94.4,562.8 97.3,557.3 100.1,558.3 103.0,554.5 105.8,558.7 108.7,558.5 111.5,553.7 114.4,552.6 117.2,554.1 120.1,553.1 122.9,555.3 125.8,554.1 128.7,553.7 131.5,555.5 134.4,556.8 137.2,556.5 140.1,547.8 142.9,557.0 145.8,557.9 148.6,558.4 151.5,557.1 154.3,556.1 157.2,561.3 160.0,564.6 162.9,555.9 165.7,563.2 168.6,556.0 171.4,556.5 174.3,552.6 177.1,550.6 180.0,555.6 182.8,559.1 185.7,561.5 188.5,560.0 191.4,556.9 194.2,564.9"/>
<polyline points="54.5,578.2 57.4,572.0 60.2,570.2 63.1,572.1 65.9,571.2 68.8,574.3 71.6,569.4 74.5,565.7 77.3,568.9 80.2,568.2 83.0,571.4 85.9,565.2 88.7,570.5 91.6,535.5 94.4,538.7 97.3,543.6 100.1,534.4 103.0,539.1 105.8,538.4 108.7,537.1 111.5,539.3 114.4,540.9 117.2,537.0 120.1,541.1 122.9,538.9 125.8,542.3 128.7,546.1 131.5,542.3 134.4,541.5 137.2,539.1 140.1,533.7 142.9,547.0 145.8,538.6 148.6,549.4 151.5,544.0 154.3,541.5 157.2,549.6 160.0,547.8 162.9,538.5 165.7,538.8 168.6,539.7 171.4,542.9 174.3,529.2 177.1,539.9 180.0,543.2 182.8,531.4 185.7,536.4 188.5,540.9 191.4,533.7 194.2,538.5"/>
<polyline points="54.5,582.0 57.4,568.4 60.2,569.8 63.1,572.4 65.9,571.6 68.8,567.2 71.6,570.3 74.5,569.1 77.3,567.4 80.2,568.5 83.0,572.4 85.9,566.9 88.7,565.9 91.6,566.1 94.4,563.7 97.3,567.8 100.1,566.4 103.0,563.8 105.8,569.9 108.7,563.3 111.5,563.3 114.4,566.4 117.2,562.9 120.1,566.2 122.9,571.9 125.8,565.2 128.7,567.9 131.5,567.6 134.4,568.5 137.2,564.5 140.1,567.2 142.9,571.3 145.8,567.4 148.6,566.6 151.5,571.4 154.3,570.4 157.2,570.2 160.0,571.0 162.9,567.8 165.7,565.6 168.6,562.8 171.4,565.1 174.3,565.6 177.1,565.2 180.0,564.6 182.8,570.2 185.7,566.7 188.5,567.9 191.4,569.4 194.2,570.5"/>
<polyline points="54.5,583.2 57.4,570.2 60.2,570.9 63.1,570.4 65.9,569.6 68.8,568.4 71.6,571.5 74.5,570.1 77.3,573.7 80.2,575.0 83.0,574.1 85.9,565.3 88.7,573.4 91.6,554.6 94.4,550.7 97.3,558.1 100.1,550.1 103.0,549.3 105.8,552.7 108.7,547.2 111.5,554.0 114.4,559.2 117.2,554.4 120.1,558.1 122.9,561.4 125.8,561.3 128.7,547.5 131.5,558.4 134.4,556.4 137.2,558.9 140.1,555.8 142.9,557.3 145.8,557.9 148.6,561.0 151.5,561.8 154.3,559.2 157.2,555.2 160.0,548.3 162.9,552.3 165.7,549.3 168.6,554.5 171.4,556.7 174.3,561.4 177.1,556.3 180.0,564.6 182.8,557.5 185.7,550.0 188.5,555.0 191.4,552.0 194.2,557.8"/>
<polyline points="54.5,581.4 57.4,568.7 60.2,566.1 63.1,572.7 65.9,571.5 68.8,570.8 71.6,571.1 74.5,573.1 77.3,569.6 80.2,568.8 83.0,568.5 85.9,572.3 88.7,569.4 91.6,560.1 94.4,549.5 97.3,557.2 100.1,554.2 103.0,554.9 105.8,555.5 108.7,557.4 111.5,560.2 114.4,546.2 117.2,552.1 120.1,552.1 122.9,544.8 125.8,553.5 128.7,550.9 131.5,553.1 134.4,548.4 137.2,551.1 140.1,551.9 142.9,554.2 145.8,552.0 148.6,548.5 151.5,561.4 154.3,553.6 157.2,554.8 160.0,554.3 162.9,561.0 165.7,550.2 168.6,556.5 171.4,554.0 174.3,555.1 177.1,559.8 180.0,554.9 182.8,560.5 185.7,556.9 188.5,554.4 191.4,553.1 194.2,552.9"/>
</g>
<polyline points="54.5,579.8 57.4,570.4 60.2,570.3 63.1,570.7 65.9,570.3 68.8,570.1 71.6,569.7 74.5,569.7 77.3,569.6 80.2,568.6 83.0,568.9 85.9,568.9 88.7,568.6 91.6,566.4 94.4,565.8 97.3,566.1 100.1,565.9 103.0,567.4 105.8,566.2 108.7,565.9 111.5,565.6 114.4,566.3 117.2,566.9 120.1,566.1 122.9,566.5 125.8,566.9 128.7,566.5 131.5,565.9 134.4,565.9 137.2,566.1 140.1,566.7 142.9,565.5 145.8,566.7 148.6,566.3 151.5,566.8 154.3,565.9 157.2,566.1 160.0,566.0 162.9,566.3 165.7,566.3 168.6,566.2 171.4,566.9 174.3,566.0 177.1,566.0 180.0,566.4 182.8,566.3 185.7,566.2 188.5,565.8 191.4,566.2 194.2,566.3" fill="none" stroke="#ff0000" stroke-width="2.8" stroke-linejoin="round"/>
<line x1="90.2" y1="495.8" x2="90.2" y2="599.5" stroke="#0000ff" stroke-width="1.6" stroke-dasharray="5.5 2.4"/>
<rect x="47.6" y="494.3" width="153.6" height="105.2" fill="none" stroke="#222" stroke-width="0.85"/>
<line x1="54.5" y1="599.5" x2="54.5" y2="602.7" stroke="#000" stroke-width="0.8"/>
<text x="51.61" y="613.82" font-size="10.49" textLength="5.76" lengthAdjust="spacingAndGlyphs">0</text>
<line x1="90.2" y1="599.5" x2="90.2" y2="602.7" stroke="#000" stroke-width="0.8"/>
<text x="80.93" y="613.82" font-size="10.49" textLength="18.32" lengthAdjust="spacingAndGlyphs">250</text>
<line x1="125.8" y1="599.5" x2="125.8" y2="602.7" stroke="#000" stroke-width="0.8"/>
<text x="116.72" y="613.82" font-size="10.49" textLength="18.15" lengthAdjust="spacingAndGlyphs">500</text>
<line x1="161.4" y1="599.5" x2="161.4" y2="602.7" stroke="#000" stroke-width="0.8"/>
<text x="152.25" y="613.82" font-size="10.49" textLength="18.24" lengthAdjust="spacingAndGlyphs">750</text>
<line x1="197.1" y1="599.5" x2="197.1" y2="602.7" stroke="#000" stroke-width="0.8"/>
<text x="184.66" y="613.82" font-size="10.49" textLength="24.49" lengthAdjust="spacingAndGlyphs">1000</text>
<line x1="47.6" y1="599.5" x2="44.4" y2="599.5" stroke="#000" stroke-width="0.8"/>
<text x="35.84" y="603.61" font-size="10.49" textLength="5.76" lengthAdjust="spacingAndGlyphs">0</text>
<line x1="47.6" y1="577.0" x2="44.4" y2="577.0" stroke="#000" stroke-width="0.8"/>
<text x="36.17" y="581.14" font-size="10.43" textLength="5.54" lengthAdjust="spacingAndGlyphs">2</text>
<line x1="47.6" y1="554.5" x2="44.4" y2="554.5" stroke="#000" stroke-width="0.8"/>
<text x="35.77" y="558.58" font-size="10.41" textLength="5.72" lengthAdjust="spacingAndGlyphs">4</text>
<line x1="47.6" y1="532.0" x2="44.4" y2="532.0" stroke="#000" stroke-width="0.8"/>
<text x="35.74" y="536.11" font-size="10.49" textLength="5.92" lengthAdjust="spacingAndGlyphs">6</text>
<line x1="47.6" y1="509.5" x2="44.4" y2="509.5" stroke="#000" stroke-width="0.8"/>
<text x="35.86" y="513.61" font-size="10.49" textLength="5.80" lengthAdjust="spacingAndGlyphs">8</text>
<text x="109.95" y="626.38" font-size="9.35" textLength="29.03" lengthAdjust="spacingAndGlyphs">t (ms)</text>
<g transform="translate(28.80 565.60) rotate(-90)">
<text x="-0.08" y="0.00" font-size="10.30" textLength="5.08" lengthAdjust="spacingAndGlyphs">λ</text>
<text x="5.80" y="2.50" font-size="7.40" textLength="4.06" lengthAdjust="spacingAndGlyphs">E</text>
<text x="6.69" y="-3.50" font-size="6.60" textLength="10.17" lengthAdjust="spacingAndGlyphs">out</text>
<text x="17.55" y="0.00" font-size="9.90" textLength="19.50" lengthAdjust="spacingAndGlyphs">(Hz)</text>
</g>
<clipPath id="cp1"><rect x="208.9" y="494.3" width="153.6" height="105.2"/></clipPath>
<g clip-path="url(#cp1)" fill="none" stroke="#000" stroke-opacity="0.3" stroke-width="1.0" stroke-linejoin="round">
<polyline points="215.8,575.2 218.7,569.5 221.5,566.5 224.4,568.1 227.2,573.0 230.1,569.7 232.9,569.3 235.8,566.8 238.6,570.1 241.5,568.8 244.3,569.9 247.2,567.5 250.0,567.0 252.9,521.1 255.7,528.6 258.6,531.9 261.4,531.6 264.3,532.2 267.1,532.2 270.0,525.2 272.8,544.9 275.7,533.6 278.5,531.2 281.4,527.2 284.2,538.1 287.1,531.0 290.0,528.5 292.8,534.9 295.7,542.1 298.5,534.5 301.4,538.6 304.2,529.6 307.1,536.9 309.9,524.0 312.8,532.1 315.6,536.7 318.5,535.2 321.3,538.1 324.2,530.8 327.0,525.4 329.9,533.8 332.7,528.2 335.6,537.4 338.4,531.2 341.3,521.5 344.1,539.6 347.0,526.7 349.8,527.0 352.7,542.0 355.5,539.8"/>
<polyline points="215.8,579.3 218.7,570.0 221.5,567.1 224.4,568.4 227.2,567.9 230.1,569.1 232.9,565.3 235.8,569.8 238.6,563.6 241.5,568.4 244.3,569.3 247.2,565.6 250.0,565.8 252.9,532.6 255.7,530.2 258.6,538.3 261.4,535.7 264.3,527.7 267.1,535.9 270.0,529.9 272.8,533.5 275.7,522.1 278.5,532.1 281.4,537.5 284.2,537.1 287.1,536.1 290.0,531.0 292.8,531.7 295.7,526.9 298.5,530.8 301.4,531.0 304.2,530.1 307.1,532.3 309.9,530.2 312.8,527.8 315.6,527.8 318.5,534.4 321.3,540.4 324.2,535.7 327.0,530.3 329.9,544.0 332.7,534.0 335.6,529.5 338.4,534.5 341.3,537.2 344.1,523.0 347.0,524.8 349.8,533.0 352.7,525.1 355.5,525.3"/>
<polyline points="215.8,578.3 218.7,567.9 221.5,569.3 224.4,566.2 227.2,569.5 230.1,566.1 232.9,563.2 235.8,565.1 238.6,566.1 241.5,561.5 244.3,567.3 247.2,562.5 250.0,565.5 252.9,527.6 255.7,535.8 258.6,535.6 261.4,536.5 264.3,540.0 267.1,539.0 270.0,534.2 272.8,536.8 275.7,541.8 278.5,539.6 281.4,539.6 284.2,536.5 287.1,535.4 290.0,535.9 292.8,539.4 295.7,536.2 298.5,542.8 301.4,550.0 304.2,536.6 307.1,544.2 309.9,540.8 312.8,542.0 315.6,533.3 318.5,542.1 321.3,535.0 324.2,538.7 327.0,542.2 329.9,543.8 332.7,534.2 335.6,534.5 338.4,532.7 341.3,527.7 344.1,535.1 347.0,535.0 349.8,537.0 352.7,535.9 355.5,538.1"/>
<polyline points="215.8,581.7 218.7,567.8 221.5,566.6 224.4,567.1 227.2,569.7 230.1,567.6 232.9,568.1 235.8,569.4 238.6,566.7 241.5,567.4 244.3,567.6 247.2,564.3 250.0,568.4 252.9,570.8 255.7,575.5 258.6,572.3 261.4,573.4 264.3,572.9 267.1,576.7 270.0,576.0 272.8,576.3 275.7,573.1 278.5,571.4 281.4,570.4 284.2,575.2 287.1,573.4 290.0,578.6 292.8,580.5 295.7,576.3 298.5,575.7 301.4,578.4 304.2,579.1 307.1,572.0 309.9,576.2 312.8,578.8 315.6,566.6 318.5,573.2 321.3,574.7 324.2,571.6 327.0,576.0 329.9,568.8 332.7,578.4 335.6,577.7 338.4,574.1 341.3,576.1 344.1,569.4 347.0,578.6 349.8,576.0 352.7,573.0 355.5,572.0"/>
<polyline points="215.8,574.0 218.7,572.0 221.5,569.7 224.4,567.8 227.2,570.5 230.1,570.3 232.9,570.5 235.8,570.7 238.6,571.8 241.5,570.2 244.3,572.4 247.2,567.5 250.0,572.2 252.9,568.8 255.7,571.7 258.6,573.5 261.4,577.4 264.3,578.5 267.1,573.2 270.0,576.2 272.8,575.1 275.7,578.9 278.5,573.6 281.4,579.1 284.2,576.5 287.1,581.8 290.0,578.7 292.8,575.3 295.7,578.1 298.5,578.1 301.4,574.5 304.2,577.0 307.1,573.1 309.9,583.9 312.8,575.1 315.6,575.3 318.5,581.3 321.3,580.6 324.2,574.2 327.0,579.9 329.9,578.7 332.7,575.0 335.6,577.8 338.4,575.4 341.3,579.3 344.1,575.9 347.0,573.6 349.8,575.8 352.7,583.2 355.5,574.9"/>
<polyline points="215.8,577.8 218.7,576.9 221.5,567.3 224.4,573.2 227.2,567.6 230.1,571.4 232.9,574.4 235.8,570.7 238.6,569.9 241.5,569.2 244.3,567.7 247.2,572.4 250.0,568.8 252.9,569.8 255.7,574.5 258.6,576.6 261.4,576.7 264.3,571.5 267.1,571.3 270.0,576.3 272.8,577.9 275.7,570.0 278.5,578.5 281.4,573.3 284.2,576.2 287.1,579.2 290.0,573.4 292.8,574.4 295.7,569.4 298.5,566.8 301.4,574.4 304.2,570.6 307.1,570.6 309.9,575.4 312.8,576.4 315.6,568.8 318.5,574.9 321.3,573.9 324.2,574.7 327.0,574.2 329.9,575.6 332.7,571.5 335.6,569.9 338.4,574.9 341.3,578.0 344.1,573.6 347.0,578.3 349.8,575.7 352.7,570.0 355.5,566.7"/>
<polyline points="215.8,579.5 218.7,578.3 221.5,573.8 224.4,568.1 227.2,569.9 230.1,574.9 232.9,575.4 235.8,569.0 238.6,571.1 241.5,572.2 244.3,569.6 247.2,571.8 250.0,574.9 252.9,559.2 255.7,568.3 258.6,569.7 261.4,570.8 264.3,565.4 267.1,569.0 270.0,564.2 272.8,567.2 275.7,562.6 278.5,567.6 281.4,568.5 284.2,573.0 287.1,570.0 290.0,563.8 292.8,555.9 295.7,570.5 298.5,569.8 301.4,565.1 304.2,564.7 307.1,568.6 309.9,566.0 312.8,571.8 315.6,567.3 318.5,563.2 321.3,560.7 324.2,566.9 327.0,567.2 329.9,564.7 332.7,562.5 335.6,564.6 338.4,568.8 341.3,565.1 344.1,563.0 347.0,568.7 349.8,570.8 352.7,564.6 355.5,565.0"/>
<polyline points="215.8,581.5 218.7,572.3 221.5,573.1 224.4,572.7 227.2,571.5 230.1,571.1 232.9,567.0 235.8,572.6 238.6,569.5 241.5,570.7 244.3,565.4 247.2,568.2 250.0,569.6 252.9,565.0 255.7,569.7 258.6,571.5 261.4,565.0 264.3,567.7 267.1,564.4 270.0,566.2 272.8,567.5 275.7,569.5 278.5,573.5 281.4,567.7 284.2,569.7 287.1,567.8 290.0,570.0 292.8,572.2 295.7,573.2 298.5,567.7 301.4,565.8 304.2,570.9 307.1,568.5 309.9,565.5 312.8,572.6 315.6,571.0 318.5,573.6 321.3,566.1 324.2,569.1 327.0,571.4 329.9,575.3 332.7,570.5 335.6,566.7 338.4,570.9 341.3,571.3 344.1,567.9 347.0,573.9 349.8,569.8 352.7,568.0 355.5,572.5"/>
<polyline points="215.8,579.9 218.7,571.5 221.5,569.8 224.4,569.5 227.2,572.2 230.1,571.3 232.9,568.4 235.8,566.6 238.6,565.8 241.5,571.0 244.3,566.1 247.2,566.7 250.0,568.4 252.9,567.6 255.7,569.0 258.6,566.0 261.4,575.0 264.3,569.8 267.1,572.1 270.0,572.3 272.8,568.1 275.7,569.1 278.5,574.9 281.4,572.6 284.2,570.9 287.1,576.1 290.0,568.9 292.8,571.9 295.7,571.1 298.5,570.6 301.4,566.0 304.2,571.5 307.1,572.8 309.9,566.2 312.8,573.2 315.6,573.3 318.5,576.0 321.3,568.3 324.2,570.8 327.0,570.2 329.9,571.1 332.7,572.1 335.6,574.1 338.4,574.1 341.3,570.3 344.1,571.3 347.0,566.5 349.8,574.0 352.7,573.2 355.5,574.8"/>
<polyline points="215.8,579.7 218.7,569.4 221.5,572.6 224.4,570.2 227.2,577.0 230.1,572.6 232.9,575.5 235.8,570.8 238.6,571.0 241.5,572.8 244.3,568.4 247.2,569.6 250.0,571.6 252.9,565.2 255.7,572.0 258.6,567.9 261.4,560.2 264.3,569.7 267.1,565.9 270.0,569.1 272.8,564.6 275.7,565.8 278.5,568.1 281.4,573.2 284.2,569.0 287.1,563.3 290.0,568.1 292.8,565.2 295.7,568.9 298.5,573.5 301.4,565.9 304.2,566.2 307.1,569.2 309.9,568.5 312.8,566.3 315.6,569.3 318.5,566.1 321.3,568.0 324.2,575.1 327.0,567.8 329.9,569.3 332.7,570.1 335.6,565.9 338.4,568.9 341.3,565.5 344.1,563.6 347.0,566.8 349.8,572.4 352.7,569.7 355.5,564.2"/>
<polyline points="215.8,581.2 218.7,571.1 221.5,571.0 224.4,569.8 227.2,573.2 230.1,571.7 232.9,571.5 235.8,570.7 238.6,575.6 241.5,570.9 244.3,573.4 247.2,566.5 250.0,565.9 252.9,564.7 255.7,569.9 258.6,574.0 261.4,569.6 264.3,573.2 267.1,570.6 270.0,575.3 272.8,574.4 275.7,571.1 278.5,567.1 281.4,572.6 284.2,565.6 287.1,564.0 290.0,576.5 292.8,572.6 295.7,575.5 298.5,573.0 301.4,574.2 304.2,572.7 307.1,569.5 309.9,569.6 312.8,571.7 315.6,572.5 318.5,572.2 321.3,572.1 324.2,570.8 327.0,572.5 329.9,571.0 332.7,576.6 335.6,570.1 338.4,567.1 341.3,572.0 344.1,576.9 347.0,568.3 349.8,573.5 352.7,581.8 355.5,573.2"/>
<polyline points="215.8,576.3 218.7,569.2 221.5,569.7 224.4,574.6 227.2,572.3 230.1,569.0 232.9,567.6 235.8,571.6 238.6,570.3 241.5,567.5 244.3,573.2 247.2,573.1 250.0,568.7 252.9,571.2 255.7,576.0 258.6,581.5 261.4,574.6 264.3,578.6 267.1,572.7 270.0,575.0 272.8,573.9 275.7,572.7 278.5,576.2 281.4,572.2 284.2,570.9 287.1,573.5 290.0,570.7 292.8,576.5 295.7,571.9 298.5,573.8 301.4,577.6 304.2,574.9 307.1,576.2 309.9,576.3 312.8,574.4 315.6,571.5 318.5,575.6 321.3,574.3 324.2,579.1 327.0,574.3 329.9,571.2 332.7,572.2 335.6,573.2 338.4,576.2 341.3,577.6 344.1,574.9 347.0,578.7 349.8,578.4 352.7,571.8 355.5,577.4"/>
<polyline points="215.8,580.7 218.7,576.0 221.5,572.0 224.4,574.8 227.2,571.9 230.1,572.2 232.9,572.7 235.8,570.2 238.6,567.6 241.5,572.5 244.3,568.7 247.2,570.5 250.0,570.6 252.9,559.9 255.7,576.4 258.6,571.6 261.4,575.3 264.3,570.5 267.1,570.2 270.0,557.1 272.8,568.3 275.7,563.6 278.5,565.2 281.4,570.9 284.2,567.9 287.1,564.0 290.0,568.9 292.8,568.8 295.7,567.8 298.5,574.3 301.4,572.1 304.2,568.3 307.1,567.7 309.9,572.4 312.8,570.5 315.6,569.8 318.5,569.9 321.3,567.2 324.2,569.1 327.0,568.9 329.9,574.0 332.7,572.9 335.6,568.4 338.4,574.6 341.3,568.6 344.1,571.6 347.0,572.1 349.8,567.3 352.7,571.6 355.5,572.2"/>
<polyline points="215.8,573.1 218.7,576.3 221.5,570.5 224.4,570.8 227.2,567.7 230.1,570.8 232.9,575.7 235.8,566.2 238.6,572.0 241.5,569.3 244.3,572.3 247.2,571.4 250.0,569.8 252.9,583.5 255.7,584.4 258.6,588.0 261.4,585.2 264.3,587.4 267.1,586.2 270.0,586.1 272.8,585.0 275.7,588.0 278.5,586.8 281.4,586.0 284.2,586.3 287.1,588.5 290.0,582.2 292.8,587.7 295.7,584.6 298.5,586.0 301.4,583.5 304.2,591.9 307.1,581.4 309.9,587.0 312.8,589.6 315.6,586.2 318.5,580.9 321.3,585.3 324.2,589.6 327.0,587.7 329.9,583.2 332.7,590.0 335.6,587.0 338.4,587.2 341.3,581.1 344.1,587.2 347.0,583.3 349.8,588.2 352.7,588.5 355.5,584.0"/>
<polyline points="215.8,580.7 218.7,572.0 221.5,574.4 224.4,572.1 227.2,571.8 230.1,573.5 232.9,573.6 235.8,573.6 238.6,572.4 241.5,574.8 244.3,571.5 247.2,574.9 250.0,570.8 252.9,555.7 255.7,562.8 258.6,555.9 261.4,551.9 264.3,554.2 267.1,564.2 270.0,554.4 272.8,558.3 275.7,559.3 278.5,561.3 281.4,559.1 284.2,553.9 287.1,557.1 290.0,560.6 292.8,561.6 295.7,560.6 298.5,556.9 301.4,552.2 304.2,563.0 307.1,559.1 309.9,560.5 312.8,561.9 315.6,557.6 318.5,557.0 321.3,564.3 324.2,562.9 327.0,554.7 329.9,557.9 332.7,557.2 335.6,560.9 338.4,560.5 341.3,557.4 344.1,560.9 347.0,563.2 349.8,559.1 352.7,555.7 355.5,562.9"/>
<polyline points="215.8,581.1 218.7,570.3 221.5,569.8 224.4,567.9 227.2,567.6 230.1,572.3 232.9,572.2 235.8,566.2 238.6,568.2 241.5,567.3 244.3,567.3 247.2,564.2 250.0,570.7 252.9,579.5 255.7,586.2 258.6,582.3 261.4,580.7 264.3,587.7 267.1,583.1 270.0,584.9 272.8,584.9 275.7,584.0 278.5,586.9 281.4,586.6 284.2,582.5 287.1,582.0 290.0,585.6 292.8,587.9 295.7,578.2 298.5,581.3 301.4,583.2 304.2,586.8 307.1,585.7 309.9,583.5 312.8,586.6 315.6,580.0 318.5,583.8 321.3,583.1 324.2,586.8 327.0,586.5 329.9,586.2 332.7,583.4 335.6,584.8 338.4,584.9 341.3,583.3 344.1,583.6 347.0,580.3 349.8,584.7 352.7,586.8 355.5,584.2"/>
<polyline points="215.8,580.6 218.7,572.9 221.5,570.3 224.4,570.5 227.2,572.9 230.1,571.3 232.9,568.3 235.8,567.7 238.6,567.9 241.5,567.9 244.3,570.6 247.2,570.5 250.0,567.2 252.9,565.7 255.7,565.1 258.6,571.3 261.4,566.3 264.3,567.4 267.1,569.1 270.0,563.0 272.8,567.5 275.7,566.2 278.5,565.9 281.4,567.5 284.2,560.1 287.1,566.7 290.0,564.3 292.8,569.4 295.7,566.6 298.5,566.1 301.4,566.0 304.2,567.0 307.1,564.5 309.9,559.7 312.8,565.4 315.6,565.5 318.5,566.3 321.3,556.3 324.2,559.5 327.0,563.1 329.9,562.6 332.7,567.4 335.6,565.5 338.4,564.3 341.3,564.6 344.1,567.9 347.0,567.6 349.8,563.2 352.7,563.9 355.5,572.2"/>
<polyline points="215.8,579.8 218.7,569.0 221.5,572.4 224.4,566.7 227.2,571.2 230.1,571.3 232.9,568.9 235.8,562.2 238.6,569.2 241.5,570.6 244.3,566.3 247.2,566.6 250.0,563.0 252.9,574.7 255.7,578.9 258.6,575.2 261.4,573.1 264.3,573.2 267.1,571.0 270.0,578.7 272.8,576.7 275.7,574.7 278.5,571.8 281.4,572.8 284.2,575.5 287.1,577.3 290.0,571.6 292.8,571.4 295.7,566.2 298.5,574.8 301.4,569.4 304.2,577.9 307.1,575.9 309.9,576.3 312.8,575.7 315.6,576.9 318.5,575.9 321.3,574.4 324.2,575.6 327.0,572.3 329.9,574.5 332.7,574.3 335.6,569.9 338.4,573.3 341.3,573.8 344.1,574.3 347.0,574.1 349.8,572.6 352.7,576.7 355.5,570.8"/>
<polyline points="215.8,579.6 218.7,573.6 221.5,570.1 224.4,568.5 227.2,566.6 230.1,568.9 232.9,569.0 235.8,564.4 238.6,569.5 241.5,565.1 244.3,565.3 247.2,570.6 250.0,566.5 252.9,558.8 255.7,564.4 258.6,567.8 261.4,566.8 264.3,559.7 267.1,562.6 270.0,560.2 272.8,565.0 275.7,562.4 278.5,562.2 281.4,566.7 284.2,567.1 287.1,559.6 290.0,560.7 292.8,564.5 295.7,561.6 298.5,558.9 301.4,554.7 304.2,564.4 307.1,559.0 309.9,553.7 312.8,561.0 315.6,556.0 318.5,570.4 321.3,556.0 324.2,561.3 327.0,567.9 329.9,558.4 332.7,557.5 335.6,556.9 338.4,556.9 341.3,561.3 344.1,563.9 347.0,562.9 349.8,561.3 352.7,559.8 355.5,562.9"/>
<polyline points="215.8,578.0 218.7,564.5 221.5,564.2 224.4,572.0 227.2,570.4 230.1,572.0 232.9,571.5 235.8,567.1 238.6,570.7 241.5,570.6 244.3,568.5 247.2,565.8 250.0,568.4 252.9,572.5 255.7,571.2 258.6,572.6 261.4,572.7 264.3,571.2 267.1,577.1 270.0,573.4 272.8,576.0 275.7,571.0 278.5,571.6 281.4,577.2 284.2,570.0 287.1,577.6 290.0,570.5 292.8,573.4 295.7,576.7 298.5,577.4 301.4,575.0 304.2,574.1 307.1,576.2 309.9,572.4 312.8,578.3 315.6,574.1 318.5,574.0 321.3,579.7 324.2,573.1 327.0,577.9 329.9,581.6 332.7,575.9 335.6,574.7 338.4,571.3 341.3,575.5 344.1,569.6 347.0,569.7 349.8,570.8 352.7,570.1 355.5,573.0"/>
<polyline points="215.8,576.7 218.7,569.8 221.5,570.3 224.4,573.3 227.2,567.7 230.1,568.3 232.9,572.1 235.8,568.5 238.6,566.8 241.5,568.6 244.3,566.3 247.2,566.2 250.0,571.4 252.9,580.5 255.7,580.6 258.6,579.5 261.4,578.2 264.3,587.1 267.1,582.2 270.0,580.1 272.8,578.7 275.7,577.5 278.5,584.5 281.4,583.0 284.2,584.8 287.1,579.8 290.0,585.5 292.8,578.8 295.7,579.5 298.5,580.7 301.4,587.8 304.2,583.8 307.1,580.0 309.9,585.8 312.8,582.6 315.6,582.3 318.5,579.6 321.3,581.2 324.2,581.2 327.0,583.2 329.9,582.0 332.7,582.3 335.6,580.0 338.4,582.5 341.3,579.2 344.1,586.5 347.0,578.8 349.8,582.4 352.7,579.0 355.5,581.8"/>
<polyline points="215.8,579.3 218.7,569.1 221.5,569.0 224.4,567.9 227.2,572.2 230.1,568.4 232.9,568.4 235.8,569.6 238.6,567.9 241.5,571.0 244.3,563.6 247.2,565.8 250.0,562.1 252.9,561.1 255.7,565.8 258.6,560.7 261.4,567.7 264.3,560.9 267.1,564.2 270.0,562.9 272.8,560.8 275.7,561.6 278.5,555.1 281.4,559.5 284.2,566.3 287.1,558.2 290.0,566.5 292.8,561.4 295.7,566.2 298.5,564.7 301.4,557.0 304.2,563.7 307.1,564.0 309.9,563.7 312.8,562.8 315.6,556.6 318.5,565.9 321.3,566.1 324.2,559.7 327.0,567.4 329.9,563.0 332.7,557.7 335.6,561.7 338.4,563.5 341.3,564.3 344.1,565.0 347.0,563.9 349.8,561.3 352.7,557.3 355.5,558.3"/>
<polyline points="215.8,579.3 218.7,576.7 221.5,572.7 224.4,572.2 227.2,573.9 230.1,573.5 232.9,570.0 235.8,574.7 238.6,572.7 241.5,571.9 244.3,569.9 247.2,573.3 250.0,567.1 252.9,571.5 255.7,573.4 258.6,573.7 261.4,574.7 264.3,575.7 267.1,569.1 270.0,572.0 272.8,573.0 275.7,569.6 278.5,574.8 281.4,570.7 284.2,572.6 287.1,575.4 290.0,570.3 292.8,577.3 295.7,570.7 298.5,575.4 301.4,571.4 304.2,568.4 307.1,570.9 309.9,574.5 312.8,572.8 315.6,573.8 318.5,576.3 321.3,576.1 324.2,572.6 327.0,571.0 329.9,578.1 332.7,572.9 335.6,571.1 338.4,572.4 341.3,575.8 344.1,569.5 347.0,576.5 349.8,570.7 352.7,567.8 355.5,579.0"/>
<polyline points="215.8,579.2 218.7,572.9 221.5,571.1 224.4,573.6 227.2,569.7 230.1,568.5 232.9,571.2 235.8,571.7 238.6,570.4 241.5,569.1 244.3,568.7 247.2,568.9 250.0,568.3 252.9,574.0 255.7,581.6 258.6,571.5 261.4,569.1 264.3,577.7 267.1,575.4 270.0,572.5 272.8,570.5 275.7,571.4 278.5,569.5 281.4,573.6 284.2,572.2 287.1,572.2 290.0,574.7 292.8,569.8 295.7,571.5 298.5,570.4 301.4,574.6 304.2,570.3 307.1,576.6 309.9,572.2 312.8,581.4 315.6,576.5 318.5,571.2 321.3,574.8 324.2,572.9 327.0,578.4 329.9,568.7 332.7,571.6 335.6,573.5 338.4,572.2 341.3,572.4 344.1,569.1 347.0,572.8 349.8,577.9 352.7,574.2 355.5,569.5"/>
<polyline points="215.8,579.3 218.7,571.8 221.5,569.9 224.4,575.0 227.2,573.2 230.1,569.2 232.9,571.2 235.8,569.6 238.6,565.5 241.5,570.8 244.3,569.3 247.2,571.0 250.0,571.0 252.9,572.4 255.7,578.1 258.6,580.1 261.4,569.7 264.3,574.1 267.1,570.4 270.0,573.4 272.8,573.4 275.7,571.8 278.5,571.6 281.4,577.4 284.2,570.2 287.1,576.7 290.0,573.2 292.8,566.1 295.7,573.6 298.5,568.8 301.4,574.8 304.2,571.9 307.1,573.6 309.9,572.5 312.8,576.4 315.6,576.6 318.5,572.8 321.3,578.5 324.2,576.3 327.0,571.9 329.9,575.6 332.7,576.5 335.6,577.1 338.4,573.4 341.3,574.9 344.1,573.3 347.0,574.4 349.8,568.2 352.7,575.1 355.5,579.7"/>
<polyline points="215.8,579.8 218.7,575.4 221.5,568.1 224.4,570.7 227.2,570.5 230.1,574.1 232.9,568.9 235.8,570.0 238.6,566.4 241.5,570.5 244.3,572.3 247.2,568.8 250.0,571.1 252.9,556.8 255.7,566.6 258.6,563.4 261.4,563.7 264.3,563.1 267.1,564.7 270.0,565.8 272.8,563.2 275.7,565.0 278.5,562.4 281.4,563.9 284.2,570.8 287.1,563.2 290.0,558.1 292.8,561.9 295.7,560.9 298.5,561.4 301.4,564.6 304.2,567.6 307.1,560.1 309.9,559.3 312.8,561.0 315.6,561.5 318.5,561.6 321.3,563.0 324.2,562.0 327.0,562.9 329.9,561.8 332.7,566.2 335.6,565.1 338.4,561.0 341.3,564.1 344.1,571.3 347.0,562.5 349.8,570.8 352.7,556.4 355.5,560.5"/>
<polyline points="215.8,583.7 218.7,572.9 221.5,571.7 224.4,573.3 227.2,570.9 230.1,569.5 232.9,569.5 235.8,573.2 238.6,575.7 241.5,570.3 244.3,571.7 247.2,568.9 250.0,565.9 252.9,557.8 255.7,564.4 258.6,561.7 261.4,559.9 264.3,565.2 267.1,564.5 270.0,562.6 272.8,565.5 275.7,567.0 278.5,567.9 281.4,565.4 284.2,567.4 287.1,562.7 290.0,566.5 292.8,560.5 295.7,561.4 298.5,569.5 301.4,561.8 304.2,566.7 307.1,560.8 309.9,563.7 312.8,565.5 315.6,563.1 318.5,567.2 321.3,564.3 324.2,564.1 327.0,565.8 329.9,564.1 332.7,568.6 335.6,563.5 338.4,569.3 341.3,563.3 344.1,563.8 347.0,563.0 349.8,567.2 352.7,555.3 355.5,566.1"/>
<polyline points="215.8,577.7 218.7,573.5 221.5,569.3 224.4,573.7 227.2,570.5 230.1,572.0 232.9,568.7 235.8,571.4 238.6,572.6 241.5,569.3 244.3,572.9 247.2,572.2 250.0,568.0 252.9,574.8 255.7,569.8 258.6,573.3 261.4,574.9 264.3,571.4 267.1,570.2 270.0,573.9 272.8,572.7 275.7,569.7 278.5,569.9 281.4,572.3 284.2,574.4 287.1,574.9 290.0,573.9 292.8,570.1 295.7,570.4 298.5,571.2 301.4,567.9 304.2,573.0 307.1,573.2 309.9,573.2 312.8,566.4 315.6,578.2 318.5,571.2 321.3,570.8 324.2,571.9 327.0,565.1 329.9,568.6 332.7,569.8 335.6,574.7 338.4,570.6 341.3,573.2 344.1,571.9 347.0,571.5 349.8,573.5 352.7,570.2 355.5,567.2"/>
<polyline points="215.8,584.1 218.7,568.4 221.5,567.8 224.4,570.5 227.2,571.0 230.1,568.1 232.9,571.4 235.8,567.4 238.6,571.6 241.5,571.1 244.3,568.7 247.2,571.9 250.0,568.4 252.9,583.5 255.7,588.7 258.6,583.3 261.4,586.9 264.3,584.2 267.1,585.0 270.0,586.6 272.8,586.8 275.7,589.6 278.5,587.2 281.4,587.4 284.2,581.6 287.1,583.1 290.0,588.8 292.8,583.6 295.7,585.0 298.5,586.4 301.4,584.4 304.2,583.6 307.1,586.9 309.9,586.2 312.8,585.1 315.6,587.9 318.5,585.1 321.3,585.7 324.2,587.1 327.0,587.5 329.9,584.8 332.7,583.4 335.6,584.7 338.4,587.6 341.3,583.7 344.1,585.1 347.0,584.1 349.8,582.7 352.7,587.7 355.5,585.8"/>
<polyline points="215.8,576.3 218.7,570.1 221.5,575.7 224.4,570.4 227.2,572.5 230.1,568.3 232.9,570.6 235.8,571.0 238.6,570.1 241.5,569.4 244.3,570.0 247.2,570.4 250.0,570.0 252.9,574.7 255.7,580.8 258.6,577.9 261.4,578.2 264.3,579.2 267.1,575.9 270.0,581.3 272.8,578.8 275.7,580.2 278.5,576.4 281.4,579.1 284.2,577.7 287.1,576.8 290.0,582.2 292.8,576.6 295.7,579.9 298.5,578.5 301.4,578.2 304.2,575.7 307.1,575.9 309.9,573.1 312.8,577.4 315.6,579.1 318.5,579.2 321.3,576.1 324.2,573.5 327.0,576.9 329.9,579.4 332.7,577.1 335.6,577.2 338.4,577.8 341.3,579.9 344.1,584.7 347.0,579.3 349.8,575.0 352.7,577.3 355.5,583.8"/>
<polyline points="215.8,577.5 218.7,573.0 221.5,575.6 224.4,570.7 227.2,574.2 230.1,570.9 232.9,572.0 235.8,574.6 238.6,570.1 241.5,574.5 244.3,568.2 247.2,570.9 250.0,573.3 252.9,575.7 255.7,568.5 258.6,569.0 261.4,576.9 264.3,568.5 267.1,572.7 270.0,573.9 272.8,573.5 275.7,574.0 278.5,569.1 281.4,572.8 284.2,578.6 287.1,567.2 290.0,570.7 292.8,576.4 295.7,574.3 298.5,575.8 301.4,573.1 304.2,572.1 307.1,572.5 309.9,575.0 312.8,575.5 315.6,570.8 318.5,573.5 321.3,566.7 324.2,575.6 327.0,571.0 329.9,573.1 332.7,575.4 335.6,569.3 338.4,572.9 341.3,575.8 344.1,574.2 347.0,570.3 349.8,576.8 352.7,569.2 355.5,571.2"/>
<polyline points="215.8,574.1 218.7,568.0 221.5,568.4 224.4,564.3 227.2,564.9 230.1,570.3 232.9,568.5 235.8,568.3 238.6,568.6 241.5,570.9 244.3,565.1 247.2,566.8 250.0,566.6 252.9,541.1 255.7,551.7 258.6,549.8 261.4,548.5 264.3,551.3 267.1,550.0 270.0,546.6 272.8,549.6 275.7,544.4 278.5,552.5 281.4,548.8 284.2,555.1 287.1,550.0 290.0,552.3 292.8,544.3 295.7,546.7 298.5,547.6 301.4,542.4 304.2,543.9 307.1,546.8 309.9,552.3 312.8,555.2 315.6,549.7 318.5,551.0 321.3,552.1 324.2,550.7 327.0,556.0 329.9,543.7 332.7,554.0 335.6,552.2 338.4,547.3 341.3,556.0 344.1,546.0 347.0,545.9 349.8,550.8 352.7,553.8 355.5,551.4"/>
<polyline points="215.8,577.9 218.7,571.1 221.5,570.8 224.4,567.1 227.2,564.8 230.1,571.1 232.9,569.3 235.8,571.8 238.6,566.0 241.5,567.0 244.3,561.9 247.2,567.3 250.0,567.8 252.9,569.5 255.7,567.6 258.6,575.3 261.4,568.0 264.3,569.5 267.1,571.8 270.0,573.0 272.8,567.1 275.7,564.6 278.5,571.6 281.4,568.7 284.2,565.0 287.1,572.2 290.0,571.1 292.8,574.0 295.7,570.7 298.5,570.5 301.4,571.6 304.2,572.5 307.1,575.1 309.9,574.4 312.8,573.3 315.6,568.3 318.5,571.8 321.3,572.9 324.2,568.3 327.0,568.6 329.9,572.6 332.7,572.2 335.6,568.3 338.4,569.2 341.3,572.8 344.1,569.5 347.0,570.4 349.8,566.9 352.7,572.9 355.5,567.6"/>
<polyline points="215.8,578.6 218.7,570.3 221.5,574.9 224.4,566.9 227.2,574.1 230.1,573.3 232.9,571.7 235.8,569.0 238.6,569.2 241.5,570.6 244.3,567.0 247.2,569.1 250.0,566.6 252.9,565.1 255.7,574.5 258.6,582.5 261.4,576.4 264.3,578.2 267.1,574.9 270.0,574.8 272.8,578.7 275.7,578.4 278.5,575.9 281.4,575.7 284.2,582.6 287.1,572.3 290.0,575.0 292.8,575.1 295.7,574.3 298.5,578.1 301.4,575.3 304.2,572.1 307.1,572.0 309.9,573.8 312.8,575.9 315.6,577.5 318.5,571.3 321.3,573.6 324.2,576.4 327.0,581.4 329.9,577.7 332.7,580.7 335.6,571.5 338.4,574.6 341.3,577.3 344.1,575.9 347.0,567.5 349.8,571.6 352.7,579.1 355.5,575.5"/>
<polyline points="215.8,581.7 218.7,567.6 221.5,569.0 224.4,572.4 227.2,573.2 230.1,571.7 232.9,569.5 235.8,575.3 238.6,576.1 241.5,566.8 244.3,570.5 247.2,567.1 250.0,570.3 252.9,550.9 255.7,561.8 258.6,557.9 261.4,554.1 264.3,556.0 267.1,561.4 270.0,556.5 272.8,562.1 275.7,564.9 278.5,557.8 281.4,554.6 284.2,556.6 287.1,564.3 290.0,556.5 292.8,557.2 295.7,561.4 298.5,568.8 301.4,556.0 304.2,556.5 307.1,557.9 309.9,566.1 312.8,565.2 315.6,556.0 318.5,556.8 321.3,557.9 324.2,560.6 327.0,558.3 329.9,561.7 332.7,560.9 335.6,562.9 338.4,558.8 341.3,561.3 344.1,556.2 347.0,557.1 349.8,562.7 352.7,553.0 355.5,563.9"/>
<polyline points="215.8,575.2 218.7,575.1 221.5,566.5 224.4,565.8 227.2,565.1 230.1,573.9 232.9,569.9 235.8,568.3 238.6,569.0 241.5,564.4 244.3,569.2 247.2,564.3 250.0,565.7 252.9,577.6 255.7,578.2 258.6,576.7 261.4,575.0 264.3,572.3 267.1,575.8 270.0,572.6 272.8,580.0 275.7,584.4 278.5,576.3 281.4,573.9 284.2,576.4 287.1,578.3 290.0,574.0 292.8,569.5 295.7,575.6 298.5,577.5 301.4,577.8 304.2,569.4 307.1,575.4 309.9,573.5 312.8,571.6 315.6,572.1 318.5,578.1 321.3,572.4 324.2,572.8 327.0,573.8 329.9,572.3 332.7,577.0 335.6,575.5 338.4,576.9 341.3,573.0 344.1,577.3 347.0,574.1 349.8,578.6 352.7,575.7 355.5,576.4"/>
<polyline points="215.8,580.1 218.7,571.5 221.5,575.4 224.4,567.3 227.2,571.4 230.1,570.3 232.9,571.6 235.8,566.8 238.6,571.4 241.5,567.7 244.3,565.8 247.2,564.5 250.0,565.4 252.9,569.4 255.7,578.0 258.6,570.6 261.4,570.9 264.3,572.0 267.1,572.1 270.0,574.3 272.8,576.1 275.7,571.2 278.5,570.6 281.4,577.6 284.2,571.7 287.1,573.7 290.0,571.8 292.8,573.7 295.7,571.1 298.5,571.4 301.4,571.8 304.2,578.7 307.1,572.0 309.9,574.3 312.8,577.9 315.6,572.3 318.5,578.6 321.3,571.8 324.2,569.3 327.0,576.0 329.9,571.7 332.7,573.1 335.6,572.5 338.4,578.5 341.3,572.6 344.1,574.1 347.0,572.2 349.8,574.4 352.7,571.1 355.5,573.6"/>
<polyline points="215.8,577.4 218.7,566.8 221.5,568.0 224.4,567.0 227.2,569.4 230.1,566.0 232.9,564.7 235.8,567.8 238.6,565.4 241.5,566.1 244.3,569.7 247.2,565.9 250.0,563.4 252.9,570.6 255.7,578.0 258.6,572.0 261.4,574.6 264.3,566.8 267.1,572.7 270.0,572.6 272.8,574.5 275.7,571.8 278.5,574.3 281.4,575.4 284.2,572.8 287.1,575.1 290.0,568.5 292.8,576.2 295.7,572.8 298.5,574.7 301.4,576.8 304.2,567.5 307.1,579.0 309.9,568.1 312.8,576.9 315.6,572.3 318.5,565.7 321.3,579.1 324.2,576.8 327.0,568.6 329.9,572.1 332.7,574.3 335.6,572.7 338.4,575.5 341.3,572.2 344.1,568.0 347.0,573.7 349.8,572.2 352.7,568.9 355.5,566.5"/>
<polyline points="215.8,580.6 218.7,572.2 221.5,570.9 224.4,571.3 227.2,573.7 230.1,574.2 232.9,570.9 235.8,568.6 238.6,565.8 241.5,569.9 244.3,568.8 247.2,566.6 250.0,566.2 252.9,583.9 255.7,585.2 258.6,580.4 261.4,586.0 264.3,586.3 267.1,589.2 270.0,584.0 272.8,585.8 275.7,580.3 278.5,586.0 281.4,583.1 284.2,582.8 287.1,581.0 290.0,588.4 292.8,581.2 295.7,585.1 298.5,585.4 301.4,585.9 304.2,586.1 307.1,586.0 309.9,591.0 312.8,583.8 315.6,585.0 318.5,587.5 321.3,585.3 324.2,579.4 327.0,584.2 329.9,586.1 332.7,580.8 335.6,587.1 338.4,585.5 341.3,586.5 344.1,585.7 347.0,583.3 349.8,583.7 352.7,586.9 355.5,585.4"/>
<polyline points="215.8,580.3 218.7,573.3 221.5,572.7 224.4,570.6 227.2,573.0 230.1,569.3 232.9,570.6 235.8,572.1 238.6,571.2 241.5,570.7 244.3,569.7 247.2,568.9 250.0,569.5 252.9,561.3 255.7,557.9 258.6,559.9 261.4,562.7 264.3,559.8 267.1,561.9 270.0,563.9 272.8,562.8 275.7,553.9 278.5,559.6 281.4,559.5 284.2,564.4 287.1,561.0 290.0,555.3 292.8,561.6 295.7,559.3 298.5,558.7 301.4,560.8 304.2,557.6 307.1,562.3 309.9,561.3 312.8,565.2 315.6,554.0 318.5,562.0 321.3,562.7 324.2,558.3 327.0,564.7 329.9,563.1 332.7,565.7 335.6,563.0 338.4,564.4 341.3,561.2 344.1,563.5 347.0,565.1 349.8,564.1 352.7,563.5 355.5,564.8"/>
<polyline points="215.8,578.5 218.7,573.0 221.5,568.2 224.4,572.3 227.2,568.6 230.1,568.8 232.9,570.1 235.8,570.5 238.6,570.0 241.5,563.2 244.3,568.6 247.2,568.3 250.0,565.3 252.9,564.9 255.7,566.3 258.6,573.6 261.4,573.1 264.3,559.3 267.1,569.8 270.0,570.6 272.8,569.2 275.7,566.6 278.5,573.4 281.4,568.8 284.2,569.8 287.1,567.6 290.0,569.2 292.8,571.4 295.7,572.4 298.5,577.3 301.4,566.6 304.2,574.3 307.1,571.0 309.9,564.5 312.8,571.0 315.6,567.8 318.5,570.4 321.3,567.5 324.2,569.6 327.0,571.3 329.9,565.5 332.7,570.5 335.6,573.9 338.4,570.7 341.3,568.0 344.1,573.2 347.0,567.3 349.8,567.3 352.7,563.1 355.5,571.7"/>
<polyline points="215.8,582.9 218.7,573.0 221.5,571.6 224.4,572.5 227.2,572.3 230.1,573.4 232.9,572.8 235.8,570.8 238.6,570.1 241.5,569.7 244.3,568.6 247.2,568.0 250.0,574.9 252.9,576.6 255.7,577.1 258.6,578.5 261.4,573.8 264.3,574.6 267.1,577.0 270.0,576.4 272.8,573.2 275.7,577.7 278.5,577.6 281.4,574.2 284.2,575.4 287.1,572.7 290.0,575.7 292.8,574.6 295.7,578.3 298.5,579.4 301.4,576.8 304.2,584.2 307.1,575.6 309.9,574.0 312.8,576.5 315.6,577.4 318.5,573.7 321.3,576.9 324.2,574.0 327.0,570.6 329.9,574.7 332.7,574.1 335.6,575.3 338.4,576.0 341.3,576.0 344.1,576.5 347.0,573.7 349.8,581.3 352.7,577.5 355.5,574.9"/>
<polyline points="215.8,581.5 218.7,570.1 221.5,568.5 224.4,566.8 227.2,568.9 230.1,571.6 232.9,569.1 235.8,568.2 238.6,566.0 241.5,574.2 244.3,568.1 247.2,573.1 250.0,566.9 252.9,580.6 255.7,581.7 258.6,580.8 261.4,582.1 264.3,584.7 267.1,582.2 270.0,580.0 272.8,583.4 275.7,583.0 278.5,586.1 281.4,580.1 284.2,584.3 287.1,584.9 290.0,584.2 292.8,585.2 295.7,583.7 298.5,579.8 301.4,581.1 304.2,579.5 307.1,579.3 309.9,585.3 312.8,581.8 315.6,579.3 318.5,577.3 321.3,586.6 324.2,586.7 327.0,581.9 329.9,583.9 332.7,585.6 335.6,582.1 338.4,585.1 341.3,588.8 344.1,583.1 347.0,582.7 349.8,581.5 352.7,580.7 355.5,582.6"/>
<polyline points="215.8,584.5 218.7,572.9 221.5,568.9 224.4,569.5 227.2,566.0 230.1,571.0 232.9,574.7 235.8,568.3 238.6,567.6 241.5,572.7 244.3,573.5 247.2,569.2 250.0,567.7 252.9,573.0 255.7,573.0 258.6,574.4 261.4,575.6 264.3,576.0 267.1,571.6 270.0,573.2 272.8,574.0 275.7,579.9 278.5,566.8 281.4,574.9 284.2,572.4 287.1,575.5 290.0,570.9 292.8,576.6 295.7,571.8 298.5,572.6 301.4,569.3 304.2,575.3 307.1,574.0 309.9,572.8 312.8,565.8 315.6,576.5 318.5,571.2 321.3,574.0 324.2,571.1 327.0,570.1 329.9,571.6 332.7,571.3 335.6,571.2 338.4,573.8 341.3,572.7 344.1,577.0 347.0,573.1 349.8,574.4 352.7,572.8 355.5,569.9"/>
<polyline points="215.8,576.6 218.7,576.1 221.5,568.8 224.4,569.7 227.2,569.7 230.1,572.3 232.9,567.7 235.8,566.1 238.6,566.2 241.5,568.7 244.3,566.8 247.2,565.9 250.0,563.6 252.9,548.3 255.7,555.8 258.6,556.1 261.4,555.8 264.3,555.6 267.1,558.3 270.0,553.6 272.8,559.0 275.7,559.4 278.5,555.2 281.4,558.6 284.2,557.4 287.1,564.1 290.0,553.5 292.8,556.5 295.7,556.9 298.5,554.8 301.4,555.7 304.2,559.0 307.1,549.1 309.9,558.1 312.8,552.9 315.6,549.7 318.5,558.7 321.3,556.1 324.2,559.5 327.0,552.6 329.9,557.7 332.7,560.5 335.6,551.6 338.4,553.1 341.3,559.7 344.1,552.1 347.0,555.8 349.8,546.5 352.7,550.2 355.5,558.5"/>
<polyline points="215.8,580.6 218.7,572.2 221.5,569.9 224.4,571.2 227.2,574.7 230.1,572.9 232.9,567.5 235.8,567.9 238.6,570.8 241.5,570.6 244.3,570.5 247.2,569.8 250.0,573.7 252.9,575.8 255.7,581.4 258.6,579.3 261.4,586.5 264.3,579.1 267.1,576.1 270.0,585.7 272.8,575.6 275.7,578.4 278.5,581.7 281.4,583.9 284.2,576.6 287.1,579.0 290.0,578.1 292.8,580.4 295.7,581.8 298.5,577.4 301.4,582.2 304.2,577.3 307.1,584.2 309.9,582.2 312.8,583.6 315.6,576.2 318.5,584.4 321.3,582.7 324.2,577.9 327.0,579.1 329.9,573.8 332.7,574.8 335.6,578.0 338.4,577.8 341.3,584.6 344.1,582.1 347.0,580.6 349.8,580.2 352.7,583.4 355.5,582.2"/>
<polyline points="215.8,577.4 218.7,570.6 221.5,569.7 224.4,568.2 227.2,570.3 230.1,569.1 232.9,572.4 235.8,566.5 238.6,565.7 241.5,566.9 244.3,566.4 247.2,566.5 250.0,562.4 252.9,580.5 255.7,585.9 258.6,585.3 261.4,580.8 264.3,579.9 267.1,580.6 270.0,580.5 272.8,582.1 275.7,586.4 278.5,584.4 281.4,587.3 284.2,583.6 287.1,586.1 290.0,582.4 292.8,583.1 295.7,587.6 298.5,580.7 301.4,580.7 304.2,586.2 307.1,582.3 309.9,580.8 312.8,583.4 315.6,580.4 318.5,582.1 321.3,579.9 324.2,582.2 327.0,583.1 329.9,581.3 332.7,580.6 335.6,582.0 338.4,583.8 341.3,584.7 344.1,583.6 347.0,584.1 349.8,582.1 352.7,582.2 355.5,582.9"/>
<polyline points="215.8,575.9 218.7,568.1 221.5,571.7 224.4,569.1 227.2,570.7 230.1,569.9 232.9,570.1 235.8,570.8 238.6,572.4 241.5,574.8 244.3,568.3 247.2,565.8 250.0,570.6 252.9,566.8 255.7,571.1 258.6,569.0 261.4,572.4 264.3,570.6 267.1,570.3 270.0,577.4 272.8,569.2 275.7,570.3 278.5,577.7 281.4,567.9 284.2,570.0 287.1,569.3 290.0,568.8 292.8,571.2 295.7,573.3 298.5,571.3 301.4,571.3 304.2,563.0 307.1,564.1 309.9,571.5 312.8,571.2 315.6,568.9 318.5,568.2 321.3,572.1 324.2,573.1 327.0,563.9 329.9,566.6 332.7,574.8 335.6,575.5 338.4,572.5 341.3,569.2 344.1,568.2 347.0,571.0 349.8,575.0 352.7,569.2 355.5,568.0"/>
<polyline points="215.8,579.2 218.7,572.0 221.5,573.9 224.4,570.8 227.2,573.9 230.1,568.3 232.9,569.3 235.8,572.7 238.6,569.6 241.5,566.9 244.3,574.9 247.2,569.8 250.0,565.4 252.9,588.9 255.7,586.2 258.6,589.3 261.4,586.0 264.3,591.7 267.1,589.8 270.0,587.1 272.8,585.5 275.7,584.9 278.5,584.7 281.4,583.0 284.2,584.1 287.1,584.0 290.0,588.2 292.8,586.2 295.7,577.9 298.5,580.2 301.4,583.7 304.2,584.0 307.1,583.3 309.9,586.8 312.8,580.9 315.6,586.7 318.5,586.0 321.3,580.4 324.2,591.0 327.0,584.9 329.9,590.1 332.7,587.4 335.6,586.0 338.4,586.7 341.3,585.4 344.1,587.7 347.0,586.1 349.8,588.7 352.7,586.8 355.5,589.3"/>
<polyline points="215.8,580.0 218.7,574.0 221.5,573.0 224.4,569.2 227.2,571.6 230.1,576.3 232.9,570.3 235.8,578.4 238.6,570.5 241.5,571.9 244.3,574.2 247.2,570.4 250.0,571.1 252.9,582.8 255.7,589.7 258.6,584.1 261.4,585.4 264.3,590.2 267.1,590.6 270.0,585.6 272.8,589.0 275.7,588.3 278.5,589.3 281.4,591.6 284.2,589.6 287.1,591.0 290.0,592.3 292.8,589.4 295.7,584.5 298.5,584.9 301.4,588.9 304.2,588.4 307.1,587.5 309.9,585.5 312.8,587.9 315.6,589.8 318.5,589.6 321.3,586.0 324.2,582.5 327.0,590.2 329.9,593.6 332.7,586.8 335.6,588.9 338.4,588.4 341.3,585.7 344.1,588.5 347.0,591.9 349.8,593.4 352.7,588.8 355.5,591.5"/>
<polyline points="215.8,582.5 218.7,576.6 221.5,573.2 224.4,573.2 227.2,570.4 230.1,568.4 232.9,572.0 235.8,573.4 238.6,566.3 241.5,570.1 244.3,569.3 247.2,569.1 250.0,566.8 252.9,573.4 255.7,576.2 258.6,576.0 261.4,580.7 264.3,580.0 267.1,578.5 270.0,578.0 272.8,578.2 275.7,577.3 278.5,578.1 281.4,579.5 284.2,582.9 287.1,575.8 290.0,576.5 292.8,580.7 295.7,576.8 298.5,577.1 301.4,578.0 304.2,583.5 307.1,581.7 309.9,579.9 312.8,573.6 315.6,580.7 318.5,579.2 321.3,581.4 324.2,579.6 327.0,577.2 329.9,584.2 332.7,586.4 335.6,576.3 338.4,578.1 341.3,580.0 344.1,575.4 347.0,575.4 349.8,584.2 352.7,578.7 355.5,575.0"/>
<polyline points="215.8,578.0 218.7,572.3 221.5,573.9 224.4,572.5 227.2,573.9 230.1,569.0 232.9,574.5 235.8,567.5 238.6,573.9 241.5,569.5 244.3,573.1 247.2,570.1 250.0,566.6 252.9,574.7 255.7,576.4 258.6,580.4 261.4,579.8 264.3,579.5 267.1,578.4 270.0,581.2 272.8,577.1 275.7,579.2 278.5,576.9 281.4,578.8 284.2,578.2 287.1,582.2 290.0,581.3 292.8,583.7 295.7,580.9 298.5,580.6 301.4,577.8 304.2,583.6 307.1,571.1 309.9,580.5 312.8,576.6 315.6,577.2 318.5,587.1 321.3,580.9 324.2,576.0 327.0,586.9 329.9,578.0 332.7,582.7 335.6,581.4 338.4,579.5 341.3,585.3 344.1,579.6 347.0,581.9 349.8,582.2 352.7,578.2 355.5,570.3"/>
<polyline points="215.8,579.3 218.7,572.3 221.5,569.2 224.4,565.9 227.2,569.0 230.1,567.0 232.9,569.6 235.8,562.6 238.6,572.8 241.5,567.0 244.3,567.0 247.2,567.5 250.0,570.7 252.9,577.6 255.7,577.4 258.6,576.5 261.4,580.4 264.3,580.0 267.1,575.2 270.0,573.8 272.8,578.5 275.7,578.9 278.5,579.0 281.4,569.6 284.2,575.4 287.1,577.0 290.0,573.9 292.8,570.1 295.7,573.4 298.5,581.0 301.4,577.1 304.2,578.0 307.1,577.9 309.9,580.4 312.8,578.0 315.6,580.0 318.5,575.9 321.3,576.7 324.2,581.0 327.0,581.9 329.9,578.3 332.7,574.9 335.6,575.4 338.4,577.1 341.3,586.6 344.1,578.3 347.0,579.0 349.8,577.8 352.7,580.4 355.5,578.1"/>
<polyline points="215.8,574.5 218.7,568.1 221.5,567.1 224.4,567.0 227.2,566.1 230.1,567.4 232.9,566.2 235.8,563.4 238.6,563.7 241.5,564.8 244.3,562.1 247.2,564.7 250.0,567.5 252.9,581.9 255.7,581.0 258.6,579.3 261.4,578.0 264.3,576.0 267.1,580.7 270.0,581.4 272.8,576.9 275.7,575.8 278.5,580.5 281.4,578.1 284.2,575.2 287.1,578.2 290.0,579.3 292.8,585.0 295.7,575.3 298.5,577.3 301.4,578.8 304.2,580.4 307.1,582.7 309.9,579.4 312.8,579.4 315.6,576.0 318.5,582.6 321.3,575.0 324.2,579.0 327.0,575.7 329.9,581.9 332.7,578.1 335.6,575.6 338.4,578.8 341.3,583.3 344.1,580.0 347.0,577.6 349.8,583.1 352.7,583.2 355.5,578.4"/>
<polyline points="215.8,582.0 218.7,574.9 221.5,571.6 224.4,565.8 227.2,571.4 230.1,569.1 232.9,568.3 235.8,571.1 238.6,565.8 241.5,567.9 244.3,567.1 247.2,572.2 250.0,572.1 252.9,576.6 255.7,571.4 258.6,571.7 261.4,568.6 264.3,566.2 267.1,571.7 270.0,571.8 272.8,569.5 275.7,566.0 278.5,573.6 281.4,568.9 284.2,571.7 287.1,572.0 290.0,568.3 292.8,573.5 295.7,574.4 298.5,568.8 301.4,571.0 304.2,571.8 307.1,571.4 309.9,569.3 312.8,572.1 315.6,568.5 318.5,569.6 321.3,566.2 324.2,566.9 327.0,568.2 329.9,571.6 332.7,570.5 335.6,572.8 338.4,561.8 341.3,571.6 344.1,569.1 347.0,566.6 349.8,575.3 352.7,573.6 355.5,572.2"/>
<polyline points="215.8,582.9 218.7,569.8 221.5,570.5 224.4,572.0 227.2,571.8 230.1,575.8 232.9,569.8 235.8,570.3 238.6,573.8 241.5,570.5 244.3,571.3 247.2,571.9 250.0,572.8 252.9,576.9 255.7,579.1 258.6,575.0 261.4,575.3 264.3,575.4 267.1,576.9 270.0,577.5 272.8,570.3 275.7,581.8 278.5,572.8 281.4,575.3 284.2,576.1 287.1,577.8 290.0,577.0 292.8,579.8 295.7,580.4 298.5,576.7 301.4,581.2 304.2,573.9 307.1,573.0 309.9,586.5 312.8,580.9 315.6,575.5 318.5,575.7 321.3,576.0 324.2,575.1 327.0,574.1 329.9,573.8 332.7,571.0 335.6,576.3 338.4,573.8 341.3,581.1 344.1,576.7 347.0,579.9 349.8,572.2 352.7,569.4 355.5,574.7"/>
<polyline points="215.8,580.0 218.7,570.9 221.5,568.0 224.4,568.1 227.2,576.9 230.1,566.7 232.9,571.2 235.8,571.1 238.6,566.1 241.5,570.0 244.3,572.6 247.2,572.3 250.0,568.7 252.9,575.0 255.7,575.1 258.6,579.9 261.4,580.7 264.3,574.8 267.1,580.7 270.0,575.3 272.8,578.8 275.7,578.8 278.5,580.1 281.4,578.6 284.2,580.7 287.1,581.3 290.0,579.8 292.8,581.3 295.7,578.6 298.5,579.2 301.4,580.2 304.2,580.0 307.1,580.1 309.9,574.5 312.8,579.4 315.6,581.1 318.5,580.3 321.3,577.6 324.2,580.0 327.0,579.8 329.9,580.1 332.7,579.0 335.6,578.3 338.4,578.2 341.3,584.0 344.1,582.4 347.0,586.8 349.8,577.2 352.7,576.3 355.5,575.8"/>
<polyline points="215.8,578.4 218.7,570.0 221.5,572.8 224.4,570.7 227.2,570.1 230.1,566.1 232.9,564.1 235.8,569.2 238.6,566.9 241.5,567.0 244.3,569.4 247.2,571.5 250.0,569.0 252.9,580.4 255.7,579.1 258.6,578.7 261.4,578.8 264.3,578.8 267.1,576.9 270.0,581.0 272.8,575.8 275.7,583.1 278.5,578.1 281.4,577.2 284.2,580.6 287.1,582.9 290.0,576.5 292.8,580.3 295.7,576.1 298.5,576.1 301.4,578.3 304.2,578.3 307.1,575.5 309.9,577.2 312.8,581.0 315.6,577.8 318.5,576.7 321.3,577.7 324.2,577.8 327.0,578.7 329.9,578.7 332.7,581.0 335.6,582.4 338.4,575.1 341.3,580.1 344.1,577.7 347.0,582.6 349.8,577.9 352.7,580.7 355.5,569.8"/>
<polyline points="215.8,578.9 218.7,569.7 221.5,577.1 224.4,571.0 227.2,569.3 230.1,574.3 232.9,569.4 235.8,572.2 238.6,573.2 241.5,571.4 244.3,571.5 247.2,573.6 250.0,564.5 252.9,566.0 255.7,569.8 258.6,564.6 261.4,567.7 264.3,563.0 267.1,568.3 270.0,566.3 272.8,567.1 275.7,566.9 278.5,568.1 281.4,567.8 284.2,561.8 287.1,569.7 290.0,569.3 292.8,568.6 295.7,565.5 298.5,566.1 301.4,564.3 304.2,571.9 307.1,566.6 309.9,568.0 312.8,568.4 315.6,566.9 318.5,574.0 321.3,566.5 324.2,567.0 327.0,572.2 329.9,567.8 332.7,562.3 335.6,568.7 338.4,565.5 341.3,568.2 344.1,570.1 347.0,570.5 349.8,568.8 352.7,563.1 355.5,564.7"/>
<polyline points="215.8,578.9 218.7,571.6 221.5,568.2 224.4,571.3 227.2,572.7 230.1,565.5 232.9,572.9 235.8,566.9 238.6,571.8 241.5,568.0 244.3,568.2 247.2,568.6 250.0,572.7 252.9,561.1 255.7,563.2 258.6,566.3 261.4,563.4 264.3,559.7 267.1,565.7 270.0,562.3 272.8,567.2 275.7,561.8 278.5,560.9 281.4,554.5 284.2,560.0 287.1,561.7 290.0,558.2 292.8,566.7 295.7,559.4 298.5,565.1 301.4,565.3 304.2,559.3 307.1,562.4 309.9,558.5 312.8,568.3 315.6,562.2 318.5,565.0 321.3,564.1 324.2,569.8 327.0,559.9 329.9,562.4 332.7,566.6 335.6,567.9 338.4,566.2 341.3,558.3 344.1,563.5 347.0,564.3 349.8,561.4 352.7,563.1 355.5,562.3"/>
<polyline points="215.8,577.3 218.7,573.7 221.5,569.9 224.4,570.7 227.2,569.4 230.1,569.6 232.9,570.9 235.8,570.0 238.6,566.6 241.5,570.1 244.3,571.6 247.2,566.9 250.0,565.8 252.9,562.7 255.7,563.3 258.6,566.8 261.4,564.6 264.3,560.0 267.1,561.1 270.0,563.3 272.8,564.8 275.7,569.5 278.5,562.8 281.4,562.3 284.2,560.2 287.1,556.9 290.0,562.5 292.8,560.5 295.7,567.7 298.5,559.7 301.4,560.8 304.2,559.1 307.1,561.5 309.9,562.3 312.8,558.7 315.6,566.1 318.5,561.6 321.3,560.1 324.2,566.5 327.0,567.8 329.9,562.3 332.7,563.4 335.6,561.7 338.4,561.6 341.3,566.4 344.1,562.6 347.0,559.9 349.8,565.0 352.7,564.8 355.5,567.7"/>
<polyline points="215.8,580.5 218.7,566.7 221.5,565.7 224.4,569.0 227.2,568.3 230.1,569.8 232.9,569.0 235.8,566.5 238.6,565.1 241.5,566.2 244.3,564.3 247.2,565.6 250.0,568.8 252.9,559.7 255.7,562.5 258.6,568.8 261.4,560.6 264.3,564.9 267.1,566.0 270.0,560.1 272.8,574.7 275.7,571.8 278.5,564.1 281.4,567.3 284.2,569.6 287.1,561.5 290.0,564.8 292.8,570.7 295.7,568.6 298.5,563.6 301.4,560.5 304.2,573.1 307.1,565.6 309.9,567.7 312.8,572.2 315.6,567.0 318.5,571.7 321.3,568.2 324.2,561.1 327.0,564.7 329.9,563.8 332.7,564.4 335.6,565.3 338.4,563.2 341.3,570.3 344.1,567.6 347.0,563.6 349.8,568.8 352.7,567.9 355.5,562.4"/>
<polyline points="215.8,582.5 218.7,570.4 221.5,570.5 224.4,572.5 227.2,569.3 230.1,569.2 232.9,570.2 235.8,563.1 238.6,566.7 241.5,567.8 244.3,567.1 247.2,562.3 250.0,566.6 252.9,590.1 255.7,588.5 258.6,589.1 261.4,590.6 264.3,588.7 267.1,588.7 270.0,589.4 272.8,590.4 275.7,587.4 278.5,593.0 281.4,587.4 284.2,589.3 287.1,588.6 290.0,594.8 292.8,585.4 295.7,593.3 298.5,591.3 301.4,587.8 304.2,590.7 307.1,590.2 309.9,594.4 312.8,590.3 315.6,588.8 318.5,587.7 321.3,589.9 324.2,588.8 327.0,588.3 329.9,590.8 332.7,591.0 335.6,584.7 338.4,591.2 341.3,586.4 344.1,589.1 347.0,585.9 349.8,590.8 352.7,588.1 355.5,588.5"/>
<polyline points="215.8,581.1 218.7,570.8 221.5,570.9 224.4,567.8 227.2,569.7 230.1,572.7 232.9,570.0 235.8,569.2 238.6,570.9 241.5,565.3 244.3,567.4 247.2,566.1 250.0,569.8 252.9,582.2 255.7,579.4 258.6,585.9 261.4,581.1 264.3,581.9 267.1,583.4 270.0,581.8 272.8,584.9 275.7,581.5 278.5,585.3 281.4,585.5 284.2,578.4 287.1,583.9 290.0,587.7 292.8,579.5 295.7,584.1 298.5,591.4 301.4,582.2 304.2,579.6 307.1,581.2 309.9,577.5 312.8,582.4 315.6,580.5 318.5,584.7 321.3,581.7 324.2,578.0 327.0,580.8 329.9,581.7 332.7,587.3 335.6,583.1 338.4,585.5 341.3,580.0 344.1,584.0 347.0,581.1 349.8,584.7 352.7,577.1 355.5,585.2"/>
<polyline points="215.8,575.6 218.7,569.6 221.5,565.3 224.4,564.2 227.2,564.3 230.1,571.0 232.9,565.5 235.8,571.0 238.6,561.0 241.5,565.3 244.3,566.4 247.2,563.4 250.0,563.7 252.9,577.9 255.7,572.1 258.6,577.6 261.4,582.0 264.3,572.9 267.1,572.5 270.0,573.3 272.8,575.3 275.7,579.5 278.5,574.2 281.4,571.5 284.2,574.6 287.1,572.3 290.0,579.1 292.8,574.0 295.7,574.2 298.5,581.2 301.4,581.6 304.2,579.0 307.1,576.7 309.9,575.6 312.8,577.6 315.6,577.1 318.5,577.2 321.3,576.6 324.2,575.2 327.0,575.5 329.9,577.1 332.7,576.1 335.6,578.2 338.4,574.6 341.3,578.4 344.1,572.1 347.0,577.0 349.8,576.1 352.7,579.1 355.5,577.9"/>
<polyline points="215.8,581.1 218.7,573.8 221.5,570.1 224.4,569.6 227.2,568.5 230.1,566.6 232.9,570.2 235.8,574.2 238.6,569.4 241.5,573.4 244.3,571.9 247.2,566.0 250.0,566.9 252.9,570.4 255.7,573.8 258.6,572.2 261.4,577.4 264.3,570.5 267.1,573.1 270.0,566.2 272.8,575.3 275.7,568.8 278.5,574.1 281.4,568.8 284.2,575.0 287.1,569.7 290.0,573.3 292.8,574.5 295.7,572.4 298.5,570.5 301.4,570.7 304.2,567.0 307.1,569.4 309.9,580.2 312.8,573.2 315.6,578.2 318.5,573.2 321.3,570.0 324.2,576.1 327.0,575.7 329.9,571.5 332.7,572.9 335.6,567.0 338.4,570.9 341.3,570.3 344.1,566.5 347.0,573.5 349.8,572.0 352.7,575.1 355.5,571.1"/>
<polyline points="215.8,577.8 218.7,570.8 221.5,570.3 224.4,571.6 227.2,567.7 230.1,564.5 232.9,573.5 235.8,572.8 238.6,563.8 241.5,571.0 244.3,566.1 247.2,569.8 250.0,564.6 252.9,582.3 255.7,585.2 258.6,583.6 261.4,585.5 264.3,584.2 267.1,581.1 270.0,582.9 272.8,587.3 275.7,587.7 278.5,586.3 281.4,586.2 284.2,585.5 287.1,587.2 290.0,584.0 292.8,585.6 295.7,584.7 298.5,585.6 301.4,584.1 304.2,588.7 307.1,581.7 309.9,584.8 312.8,584.5 315.6,584.1 318.5,582.9 321.3,583.8 324.2,585.0 327.0,586.1 329.9,589.8 332.7,585.1 335.6,586.4 338.4,586.4 341.3,579.6 344.1,590.3 347.0,585.5 349.8,582.6 352.7,583.2 355.5,582.5"/>
<polyline points="215.8,579.3 218.7,572.9 221.5,567.2 224.4,570.7 227.2,570.6 230.1,569.8 232.9,571.4 235.8,570.2 238.6,572.0 241.5,570.2 244.3,571.1 247.2,569.1 250.0,573.1 252.9,556.7 255.7,553.8 258.6,554.8 261.4,559.5 264.3,556.6 267.1,559.8 270.0,547.8 272.8,561.8 275.7,549.1 278.5,558.9 281.4,554.1 284.2,556.7 287.1,557.2 290.0,552.1 292.8,552.6 295.7,556.8 298.5,559.2 301.4,547.7 304.2,550.3 307.1,555.2 309.9,556.9 312.8,554.6 315.6,555.4 318.5,551.1 321.3,559.4 324.2,555.6 327.0,558.7 329.9,550.7 332.7,548.7 335.6,556.1 338.4,553.6 341.3,550.3 344.1,556.9 347.0,559.3 349.8,551.7 352.7,553.7 355.5,556.5"/>
<polyline points="215.8,583.6 218.7,569.6 221.5,569.9 224.4,564.9 227.2,569.4 230.1,569.7 232.9,567.9 235.8,568.2 238.6,572.1 241.5,568.2 244.3,569.1 247.2,564.6 250.0,562.0 252.9,572.7 255.7,573.8 258.6,573.5 261.4,572.9 264.3,573.0 267.1,570.6 270.0,567.3 272.8,575.0 275.7,575.7 278.5,576.7 281.4,567.3 284.2,566.6 287.1,575.7 290.0,576.0 292.8,570.4 295.7,567.3 298.5,567.6 301.4,570.2 304.2,568.6 307.1,569.8 309.9,572.6 312.8,564.7 315.6,570.8 318.5,574.3 321.3,572.3 324.2,575.7 327.0,570.7 329.9,567.3 332.7,574.8 335.6,567.2 338.4,564.1 341.3,569.6 344.1,574.5 347.0,573.5 349.8,571.9 352.7,574.9 355.5,574.8"/>
<polyline points="215.8,578.2 218.7,574.0 221.5,565.7 224.4,567.5 227.2,567.7 230.1,571.4 232.9,565.3 235.8,570.2 238.6,564.7 241.5,566.4 244.3,571.0 247.2,569.8 250.0,563.8 252.9,574.8 255.7,579.6 258.6,578.7 261.4,578.7 264.3,581.4 267.1,579.8 270.0,581.1 272.8,580.4 275.7,577.9 278.5,581.9 281.4,577.2 284.2,578.9 287.1,577.1 290.0,576.7 292.8,575.7 295.7,577.5 298.5,577.3 301.4,579.7 304.2,577.6 307.1,581.8 309.9,579.9 312.8,577.1 315.6,579.4 318.5,578.0 321.3,582.2 324.2,575.4 327.0,580.9 329.9,578.1 332.7,579.3 335.6,576.6 338.4,580.3 341.3,582.1 344.1,584.6 347.0,580.1 349.8,582.6 352.7,577.7 355.5,575.2"/>
<polyline points="215.8,580.4 218.7,569.5 221.5,571.1 224.4,570.8 227.2,570.2 230.1,569.8 232.9,567.0 235.8,569.4 238.6,573.8 241.5,571.7 244.3,569.8 247.2,572.1 250.0,570.6 252.9,570.6 255.7,574.3 258.6,570.1 261.4,573.5 264.3,575.7 267.1,574.5 270.0,572.1 272.8,565.6 275.7,571.5 278.5,567.6 281.4,570.7 284.2,579.0 287.1,571.1 290.0,574.9 292.8,576.5 295.7,575.7 298.5,566.7 301.4,577.2 304.2,574.2 307.1,568.6 309.9,570.2 312.8,577.6 315.6,572.6 318.5,573.9 321.3,572.9 324.2,569.9 327.0,574.1 329.9,573.3 332.7,567.7 335.6,578.1 338.4,573.4 341.3,570.8 344.1,576.2 347.0,574.3 349.8,576.4 352.7,571.8 355.5,574.2"/>
<polyline points="215.8,578.0 218.7,570.3 221.5,568.1 224.4,568.4 227.2,571.4 230.1,565.5 232.9,567.4 235.8,565.8 238.6,571.0 241.5,565.2 244.3,561.9 247.2,565.5 250.0,570.4 252.9,574.4 255.7,577.1 258.6,576.4 261.4,577.7 264.3,575.6 267.1,578.4 270.0,576.4 272.8,579.1 275.7,576.8 278.5,574.1 281.4,578.5 284.2,575.1 287.1,579.7 290.0,578.1 292.8,577.7 295.7,573.4 298.5,579.3 301.4,573.5 304.2,581.4 307.1,577.5 309.9,574.4 312.8,575.0 315.6,580.0 318.5,580.6 321.3,574.5 324.2,580.8 327.0,575.4 329.9,578.6 332.7,577.1 335.6,570.3 338.4,572.5 341.3,574.6 344.1,581.1 347.0,576.1 349.8,576.9 352.7,577.4 355.5,573.1"/>
<polyline points="215.8,578.7 218.7,572.3 221.5,565.4 224.4,572.7 227.2,569.2 230.1,568.9 232.9,574.4 235.8,572.3 238.6,571.0 241.5,566.4 244.3,565.8 247.2,566.5 250.0,567.2 252.9,584.4 255.7,579.6 258.6,581.7 261.4,577.0 264.3,576.5 267.1,574.0 270.0,578.3 272.8,578.0 275.7,583.2 278.5,580.1 281.4,583.8 284.2,577.8 287.1,583.7 290.0,580.9 292.8,582.6 295.7,581.6 298.5,579.0 301.4,581.9 304.2,579.7 307.1,583.1 309.9,576.4 312.8,582.1 315.6,577.5 318.5,574.3 321.3,587.2 324.2,583.1 327.0,580.9 329.9,577.0 332.7,581.7 335.6,579.3 338.4,582.4 341.3,578.7 344.1,583.7 347.0,578.0 349.8,588.7 352.7,585.6 355.5,575.2"/>
<polyline points="215.8,575.2 218.7,569.4 221.5,568.6 224.4,572.3 227.2,569.4 230.1,569.5 232.9,574.8 235.8,569.0 238.6,570.7 241.5,566.8 244.3,566.6 247.2,571.3 250.0,571.0 252.9,564.4 255.7,566.3 258.6,570.0 261.4,569.0 264.3,566.5 267.1,567.2 270.0,564.7 272.8,567.8 275.7,571.6 278.5,574.5 281.4,565.9 284.2,569.7 287.1,569.8 290.0,569.6 292.8,573.9 295.7,569.9 298.5,577.3 301.4,569.9 304.2,571.6 307.1,562.4 309.9,567.1 312.8,569.3 315.6,568.0 318.5,566.1 321.3,571.1 324.2,569.4 327.0,569.8 329.9,560.2 332.7,568.3 335.6,575.2 338.4,565.9 341.3,559.9 344.1,571.8 347.0,556.8 349.8,568.8 352.7,565.2 355.5,570.5"/>
<polyline points="215.8,584.0 218.7,578.0 221.5,569.0 224.4,574.6 227.2,570.6 230.1,570.5 232.9,572.8 235.8,570.8 238.6,571.0 241.5,571.8 244.3,570.3 247.2,570.1 250.0,572.6 252.9,579.4 255.7,580.4 258.6,577.7 261.4,573.9 264.3,573.7 267.1,577.1 270.0,575.2 272.8,577.7 275.7,574.7 278.5,577.6 281.4,576.9 284.2,578.9 287.1,578.0 290.0,572.4 292.8,581.6 295.7,578.0 298.5,579.8 301.4,575.2 304.2,572.6 307.1,578.9 309.9,586.2 312.8,576.2 315.6,576.2 318.5,583.0 321.3,578.7 324.2,578.2 327.0,584.9 329.9,576.0 332.7,576.7 335.6,577.3 338.4,581.2 341.3,580.1 344.1,579.9 347.0,576.6 349.8,581.0 352.7,573.7 355.5,576.9"/>
<polyline points="215.8,576.8 218.7,570.0 221.5,567.6 224.4,572.4 227.2,567.0 230.1,573.6 232.9,569.8 235.8,563.5 238.6,563.5 241.5,567.4 244.3,568.9 247.2,563.8 250.0,566.1 252.9,582.3 255.7,582.8 258.6,587.4 261.4,582.4 264.3,590.2 267.1,580.6 270.0,588.8 272.8,586.3 275.7,586.4 278.5,582.6 281.4,582.6 284.2,583.6 287.1,583.1 290.0,583.3 292.8,584.8 295.7,589.7 298.5,590.8 301.4,590.8 304.2,584.7 307.1,585.2 309.9,585.0 312.8,584.0 315.6,585.2 318.5,587.3 321.3,588.6 324.2,589.7 327.0,581.3 329.9,582.2 332.7,588.2 335.6,585.3 338.4,583.4 341.3,580.3 344.1,586.2 347.0,584.1 349.8,581.5 352.7,589.3 355.5,586.6"/>
<polyline points="215.8,575.2 218.7,569.8 221.5,570.8 224.4,573.6 227.2,568.7 230.1,569.1 232.9,571.9 235.8,571.5 238.6,574.0 241.5,570.2 244.3,567.6 247.2,567.1 250.0,568.0 252.9,574.7 255.7,581.2 258.6,580.9 261.4,576.0 264.3,578.2 267.1,581.9 270.0,578.1 272.8,577.1 275.7,577.5 278.5,579.2 281.4,581.0 284.2,578.4 287.1,574.6 290.0,579.1 292.8,581.5 295.7,578.5 298.5,583.1 301.4,578.9 304.2,580.4 307.1,576.7 309.9,579.2 312.8,576.5 315.6,572.8 318.5,580.2 321.3,582.0 324.2,578.2 327.0,579.8 329.9,579.1 332.7,581.3 335.6,577.9 338.4,579.3 341.3,585.9 344.1,580.2 347.0,578.6 349.8,576.1 352.7,581.2 355.5,581.9"/>
<polyline points="215.8,580.3 218.7,570.7 221.5,569.3 224.4,571.0 227.2,573.7 230.1,568.0 232.9,571.6 235.8,571.6 238.6,564.9 241.5,567.6 244.3,572.4 247.2,570.8 250.0,570.0 252.9,575.3 255.7,581.1 258.6,572.7 261.4,572.8 264.3,574.4 267.1,576.4 270.0,574.5 272.8,573.2 275.7,578.4 278.5,576.2 281.4,576.9 284.2,573.0 287.1,574.4 290.0,579.2 292.8,577.1 295.7,569.7 298.5,578.2 301.4,574.7 304.2,577.2 307.1,571.3 309.9,575.4 312.8,576.6 315.6,578.9 318.5,576.0 321.3,572.6 324.2,573.1 327.0,579.3 329.9,570.3 332.7,576.0 335.6,578.5 338.4,574.8 341.3,577.1 344.1,577.0 347.0,577.2 349.8,575.5 352.7,576.8 355.5,580.5"/>
<polyline points="215.8,577.4 218.7,570.4 221.5,569.6 224.4,570.5 227.2,567.4 230.1,571.4 232.9,572.9 235.8,569.3 238.6,577.0 241.5,570.8 244.3,569.1 247.2,570.5 250.0,566.0 252.9,578.8 255.7,582.3 258.6,583.8 261.4,579.6 264.3,584.5 267.1,583.8 270.0,580.6 272.8,581.0 275.7,577.1 278.5,583.3 281.4,587.9 284.2,580.9 287.1,579.2 290.0,583.1 292.8,578.4 295.7,577.8 298.5,584.5 301.4,584.0 304.2,586.1 307.1,581.2 309.9,580.7 312.8,581.0 315.6,586.1 318.5,584.8 321.3,586.6 324.2,587.1 327.0,586.4 329.9,587.0 332.7,583.2 335.6,581.5 338.4,581.0 341.3,582.7 344.1,584.5 347.0,582.7 349.8,581.1 352.7,583.5 355.5,582.5"/>
<polyline points="215.8,580.4 218.7,574.7 221.5,568.5 224.4,575.0 227.2,569.6 230.1,574.1 232.9,566.6 235.8,568.0 238.6,572.1 241.5,571.0 244.3,572.5 247.2,569.6 250.0,568.2 252.9,544.5 255.7,563.7 258.6,553.8 261.4,560.8 264.3,557.5 267.1,555.2 270.0,556.5 272.8,557.0 275.7,559.4 278.5,558.6 281.4,558.0 284.2,554.0 287.1,564.3 290.0,560.5 292.8,563.4 295.7,562.3 298.5,561.7 301.4,554.4 304.2,550.3 307.1,553.4 309.9,563.2 312.8,558.3 315.6,563.0 318.5,556.9 321.3,553.7 324.2,556.3 327.0,555.2 329.9,559.2 332.7,566.2 335.6,566.2 338.4,559.0 341.3,556.4 344.1,553.7 347.0,559.9 349.8,558.3 352.7,557.6 355.5,554.5"/>
<polyline points="215.8,578.6 218.7,571.6 221.5,571.0 224.4,575.0 227.2,571.6 230.1,575.8 232.9,576.3 235.8,571.6 238.6,571.9 241.5,569.2 244.3,566.8 247.2,570.4 250.0,565.5 252.9,582.1 255.7,580.6 258.6,586.2 261.4,582.4 264.3,583.6 267.1,583.3 270.0,581.1 272.8,587.9 275.7,582.4 278.5,585.0 281.4,582.4 284.2,581.7 287.1,583.8 290.0,583.8 292.8,585.9 295.7,581.3 298.5,584.6 301.4,581.5 304.2,586.7 307.1,579.0 309.9,585.6 312.8,579.6 315.6,584.0 318.5,581.3 321.3,583.1 324.2,580.9 327.0,582.7 329.9,579.3 332.7,580.9 335.6,580.9 338.4,578.2 341.3,584.7 344.1,579.2 347.0,582.6 349.8,586.8 352.7,581.4 355.5,583.3"/>
<polyline points="215.8,580.4 218.7,571.2 221.5,576.0 224.4,569.6 227.2,573.3 230.1,567.0 232.9,566.1 235.8,570.2 238.6,574.0 241.5,569.3 244.3,569.2 247.2,567.6 250.0,570.0 252.9,551.9 255.7,550.6 258.6,554.0 261.4,542.6 264.3,553.1 267.1,552.9 270.0,550.3 272.8,555.4 275.7,552.0 278.5,550.7 281.4,552.2 284.2,551.2 287.1,544.8 290.0,548.3 292.8,555.8 295.7,551.9 298.5,546.9 301.4,552.9 304.2,549.8 307.1,550.2 309.9,547.9 312.8,550.9 315.6,550.7 318.5,553.7 321.3,548.6 324.2,554.0 327.0,542.8 329.9,550.2 332.7,551.1 335.6,546.8 338.4,550.5 341.3,549.7 344.1,550.3 347.0,553.2 349.8,554.0 352.7,553.1 355.5,545.3"/>
<polyline points="215.8,581.5 218.7,569.9 221.5,566.0 224.4,573.2 227.2,569.2 230.1,570.1 232.9,571.0 235.8,568.8 238.6,573.1 241.5,567.6 244.3,568.9 247.2,571.8 250.0,565.1 252.9,556.3 255.7,559.6 258.6,569.1 261.4,564.9 264.3,565.8 267.1,561.7 270.0,559.0 272.8,570.8 275.7,563.8 278.5,564.4 281.4,560.3 284.2,564.1 287.1,568.5 290.0,564.6 292.8,567.6 295.7,566.7 298.5,563.8 301.4,565.6 304.2,562.9 307.1,569.4 309.9,555.6 312.8,559.4 315.6,561.3 318.5,568.6 321.3,571.7 324.2,567.0 327.0,564.7 329.9,555.9 332.7,559.2 335.6,565.8 338.4,559.6 341.3,559.5 344.1,563.9 347.0,559.5 349.8,562.7 352.7,566.3 355.5,568.1"/>
<polyline points="215.8,581.9 218.7,573.8 221.5,567.7 224.4,575.8 227.2,564.1 230.1,569.6 232.9,566.5 235.8,563.4 238.6,571.6 241.5,570.4 244.3,561.9 247.2,568.1 250.0,567.5 252.9,544.7 255.7,545.6 258.6,544.7 261.4,549.8 264.3,551.7 267.1,550.4 270.0,549.0 272.8,544.7 275.7,549.7 278.5,542.6 281.4,553.9 284.2,548.0 287.1,542.8 290.0,544.8 292.8,548.8 295.7,554.0 298.5,553.3 301.4,550.9 304.2,548.9 307.1,551.3 309.9,556.4 312.8,553.4 315.6,548.1 318.5,546.7 321.3,556.2 324.2,551.8 327.0,557.3 329.9,552.6 332.7,535.3 335.6,550.0 338.4,551.7 341.3,552.7 344.1,555.4 347.0,558.1 349.8,550.4 352.7,551.4 355.5,544.0"/>
<polyline points="215.8,575.8 218.7,575.5 221.5,568.2 224.4,573.7 227.2,568.1 230.1,565.5 232.9,569.1 235.8,568.2 238.6,570.5 241.5,567.8 244.3,565.5 247.2,568.6 250.0,568.3 252.9,554.0 255.7,556.2 258.6,565.6 261.4,559.2 264.3,562.0 267.1,557.5 270.0,555.5 272.8,558.2 275.7,554.5 278.5,563.2 281.4,561.0 284.2,563.2 287.1,559.2 290.0,559.1 292.8,560.2 295.7,564.0 298.5,559.7 301.4,561.1 304.2,557.1 307.1,560.4 309.9,555.0 312.8,558.5 315.6,566.5 318.5,560.1 321.3,564.9 324.2,555.7 327.0,554.0 329.9,559.5 332.7,557.7 335.6,564.9 338.4,568.0 341.3,561.5 344.1,560.4 347.0,565.2 349.8,559.1 352.7,558.2 355.5,557.0"/>
<polyline points="215.8,579.6 218.7,569.8 221.5,567.8 224.4,571.8 227.2,565.6 230.1,566.5 232.9,569.1 235.8,570.0 238.6,558.6 241.5,565.9 244.3,565.4 247.2,563.1 250.0,564.9 252.9,559.9 255.7,560.6 258.6,566.6 261.4,560.7 264.3,568.8 267.1,561.7 270.0,561.2 272.8,568.9 275.7,556.3 278.5,567.4 281.4,559.5 284.2,565.2 287.1,562.1 290.0,565.6 292.8,554.2 295.7,559.5 298.5,556.7 301.4,560.4 304.2,560.7 307.1,562.7 309.9,564.1 312.8,561.0 315.6,562.6 318.5,563.8 321.3,568.2 324.2,564.3 327.0,561.0 329.9,564.9 332.7,561.9 335.6,563.7 338.4,566.9 341.3,566.5 344.1,565.9 347.0,564.3 349.8,564.1 352.7,559.1 355.5,567.1"/>
<polyline points="215.8,579.9 218.7,570.4 221.5,563.0 224.4,565.5 227.2,567.5 230.1,566.4 232.9,568.3 235.8,566.0 238.6,569.8 241.5,569.9 244.3,569.1 247.2,563.7 250.0,563.6 252.9,558.5 255.7,556.3 258.6,561.4 261.4,556.8 264.3,562.0 267.1,557.2 270.0,561.2 272.8,561.8 275.7,560.9 278.5,560.2 281.4,562.9 284.2,565.9 287.1,554.4 290.0,562.2 292.8,567.6 295.7,569.3 298.5,571.3 301.4,563.1 304.2,555.7 307.1,566.9 309.9,562.0 312.8,567.6 315.6,556.6 318.5,559.4 321.3,559.5 324.2,555.7 327.0,554.6 329.9,556.9 332.7,562.9 335.6,565.7 338.4,564.7 341.3,567.3 344.1,554.0 347.0,561.5 349.8,560.3 352.7,560.0 355.5,553.2"/>
<polyline points="215.8,577.2 218.7,569.7 221.5,573.6 224.4,566.1 227.2,570.2 230.1,569.2 232.9,567.3 235.8,567.5 238.6,564.7 241.5,569.0 244.3,566.7 247.2,566.2 250.0,566.7 252.9,564.2 255.7,569.9 258.6,565.1 261.4,571.6 264.3,574.0 267.1,569.3 270.0,565.2 272.8,570.9 275.7,571.3 278.5,570.4 281.4,568.6 284.2,569.8 287.1,568.1 290.0,575.0 292.8,564.1 295.7,567.2 298.5,572.1 301.4,564.6 304.2,567.7 307.1,564.2 309.9,573.1 312.8,563.6 315.6,569.0 318.5,576.1 321.3,566.7 324.2,570.2 327.0,572.6 329.9,569.9 332.7,575.7 335.6,567.2 338.4,569.9 341.3,570.1 344.1,564.4 347.0,569.1 349.8,571.4 352.7,572.4 355.5,569.4"/>
<polyline points="215.8,583.1 218.7,569.4 221.5,571.0 224.4,571.0 227.2,565.4 230.1,573.6 232.9,569.8 235.8,574.7 238.6,570.7 241.5,568.3 244.3,566.7 247.2,572.6 250.0,567.1 252.9,534.6 255.7,545.2 258.6,533.8 261.4,544.9 264.3,548.8 267.1,543.0 270.0,553.2 272.8,537.9 275.7,540.4 278.5,546.7 281.4,542.1 284.2,542.5 287.1,536.2 290.0,547.6 292.8,550.7 295.7,554.0 298.5,546.2 301.4,551.9 304.2,545.6 307.1,543.0 309.9,546.9 312.8,549.1 315.6,539.5 318.5,545.8 321.3,543.8 324.2,540.6 327.0,550.7 329.9,549.0 332.7,533.6 335.6,545.6 338.4,549.6 341.3,546.0 344.1,547.4 347.0,550.4 349.8,546.7 352.7,545.0 355.5,544.9"/>
<polyline points="215.8,585.9 218.7,571.4 221.5,573.8 224.4,569.4 227.2,571.5 230.1,575.7 232.9,570.6 235.8,574.3 238.6,570.9 241.5,568.2 244.3,565.8 247.2,571.2 250.0,569.0 252.9,550.6 255.7,553.9 258.6,567.2 261.4,558.7 264.3,556.1 267.1,555.4 270.0,560.1 272.8,554.0 275.7,552.9 278.5,556.9 281.4,558.1 284.2,558.6 287.1,556.6 290.0,552.6 292.8,551.3 295.7,559.0 298.5,560.8 301.4,560.3 304.2,553.3 307.1,556.3 309.9,556.0 312.8,555.3 315.6,555.7 318.5,557.7 321.3,561.3 324.2,559.6 327.0,556.7 329.9,555.7 332.7,558.6 335.6,558.8 338.4,551.8 341.3,559.0 344.1,556.3 347.0,558.4 349.8,560.5 352.7,563.1 355.5,559.3"/>
<polyline points="215.8,581.4 218.7,570.9 221.5,567.5 224.4,569.2 227.2,567.5 230.1,566.4 232.9,572.6 235.8,569.2 238.6,570.4 241.5,564.4 244.3,567.9 247.2,566.2 250.0,562.9 252.9,542.6 255.7,544.0 258.6,542.6 261.4,545.6 264.3,538.8 267.1,540.8 270.0,539.9 272.8,544.2 275.7,546.0 278.5,546.0 281.4,546.1 284.2,551.8 287.1,542.8 290.0,540.8 292.8,544.5 295.7,546.6 298.5,544.3 301.4,543.4 304.2,543.0 307.1,536.4 309.9,548.3 312.8,542.8 315.6,541.4 318.5,544.1 321.3,545.5 324.2,549.0 327.0,547.1 329.9,541.3 332.7,538.0 335.6,547.4 338.4,542.3 341.3,542.1 344.1,539.9 347.0,543.3 349.8,542.5 352.7,540.5 355.5,549.6"/>
<polyline points="215.8,587.0 218.7,575.5 221.5,576.6 224.4,571.3 227.2,569.8 230.1,572.9 232.9,572.3 235.8,572.4 238.6,572.2 241.5,571.1 244.3,570.3 247.2,572.2 250.0,572.8 252.9,537.1 255.7,536.1 258.6,542.0 261.4,533.3 264.3,541.1 267.1,533.7 270.0,545.5 272.8,543.2 275.7,537.8 278.5,537.8 281.4,540.8 284.2,530.6 287.1,539.7 290.0,538.7 292.8,542.7 295.7,532.4 298.5,536.1 301.4,538.1 304.2,547.6 307.1,538.4 309.9,542.2 312.8,538.2 315.6,535.8 318.5,543.5 321.3,539.0 324.2,536.0 327.0,539.3 329.9,541.5 332.7,544.9 335.6,543.1 338.4,545.9 341.3,535.5 344.1,539.6 347.0,545.6 349.8,540.1 352.7,546.0 355.5,555.2"/>
<polyline points="215.8,581.8 218.7,571.2 221.5,568.2 224.4,569.5 227.2,570.5 230.1,569.4 232.9,568.6 235.8,569.2 238.6,567.1 241.5,568.0 244.3,569.1 247.2,567.0 250.0,571.0 252.9,539.9 255.7,556.5 258.6,549.7 261.4,547.9 264.3,547.6 267.1,548.3 270.0,544.1 272.8,554.0 275.7,549.6 278.5,548.7 281.4,551.4 284.2,551.8 287.1,544.0 290.0,552.3 292.8,551.3 295.7,550.5 298.5,550.2 301.4,548.7 304.2,550.2 307.1,547.8 309.9,548.8 312.8,547.4 315.6,543.7 318.5,552.9 321.3,542.5 324.2,551.2 327.0,546.6 329.9,548.7 332.7,550.6 335.6,557.5 338.4,542.7 341.3,552.5 344.1,552.6 347.0,545.0 349.8,549.1 352.7,541.5 355.5,542.4"/>
<polyline points="215.8,577.5 218.7,574.0 221.5,569.6 224.4,569.5 227.2,570.8 230.1,568.8 232.9,572.9 235.8,566.8 238.6,565.7 241.5,571.9 244.3,568.2 247.2,564.5 250.0,567.1 252.9,559.7 255.7,561.8 258.6,554.9 261.4,551.3 264.3,562.2 267.1,558.0 270.0,561.1 272.8,559.2 275.7,557.0 278.5,558.3 281.4,560.7 284.2,550.3 287.1,558.7 290.0,558.8 292.8,554.0 295.7,558.1 298.5,558.9 301.4,554.6 304.2,562.0 307.1,555.4 309.9,554.3 312.8,555.7 315.6,558.8 318.5,558.2 321.3,564.6 324.2,558.6 327.0,557.1 329.9,554.9 332.7,557.6 335.6,559.6 338.4,561.3 341.3,558.3 344.1,557.7 347.0,553.6 349.8,558.1 352.7,560.0 355.5,558.6"/>
<polyline points="215.8,585.5 218.7,575.3 221.5,573.6 224.4,569.4 227.2,570.5 230.1,569.8 232.9,567.1 235.8,572.3 238.6,566.8 241.5,568.4 244.3,570.9 247.2,565.3 250.0,572.3 252.9,567.5 255.7,566.6 258.6,564.6 261.4,566.6 264.3,573.2 267.1,567.0 270.0,566.2 272.8,557.4 275.7,561.3 278.5,565.5 281.4,569.6 284.2,564.8 287.1,569.9 290.0,565.3 292.8,564.7 295.7,567.3 298.5,565.1 301.4,567.1 304.2,567.9 307.1,560.8 309.9,564.0 312.8,567.0 315.6,568.6 318.5,565.4 321.3,564.1 324.2,563.1 327.0,561.0 329.9,564.4 332.7,569.7 335.6,559.1 338.4,562.0 341.3,563.2 344.1,561.5 347.0,571.0 349.8,567.2 352.7,567.7 355.5,562.0"/>
<polyline points="215.8,576.5 218.7,569.9 221.5,571.8 224.4,566.0 227.2,573.7 230.1,569.1 232.9,570.6 235.8,568.6 238.6,570.4 241.5,571.5 244.3,568.8 247.2,572.3 250.0,567.6 252.9,544.7 255.7,542.4 258.6,548.3 261.4,549.3 264.3,544.7 267.1,541.2 270.0,555.2 272.8,545.9 275.7,543.8 278.5,552.4 281.4,550.1 284.2,543.7 287.1,549.9 290.0,549.1 292.8,539.1 295.7,550.4 298.5,550.1 301.4,556.2 304.2,551.1 307.1,551.6 309.9,539.1 312.8,541.3 315.6,551.8 318.5,538.1 321.3,543.1 324.2,547.2 327.0,543.0 329.9,544.8 332.7,549.7 335.6,553.9 338.4,550.3 341.3,546.4 344.1,547.9 347.0,549.6 349.8,542.3 352.7,550.9 355.5,542.6"/>
<polyline points="215.8,582.4 218.7,571.0 221.5,572.2 224.4,574.3 227.2,569.9 230.1,569.8 232.9,567.5 235.8,568.6 238.6,571.6 241.5,570.4 244.3,574.8 247.2,571.3 250.0,565.2 252.9,533.4 255.7,542.1 258.6,544.2 261.4,543.0 264.3,543.5 267.1,553.0 270.0,549.3 272.8,540.5 275.7,540.5 278.5,544.5 281.4,546.9 284.2,547.2 287.1,547.9 290.0,549.5 292.8,553.8 295.7,544.9 298.5,547.5 301.4,546.5 304.2,538.2 307.1,543.0 309.9,548.6 312.8,543.1 315.6,552.0 318.5,541.0 321.3,544.4 324.2,546.4 327.0,543.1 329.9,539.3 332.7,547.5 335.6,549.8 338.4,536.5 341.3,545.5 344.1,539.1 347.0,548.4 349.8,543.9 352.7,548.3 355.5,542.8"/>
<polyline points="215.8,576.9 218.7,571.2 221.5,576.3 224.4,571.7 227.2,573.2 230.1,573.7 232.9,572.0 235.8,571.5 238.6,570.1 241.5,571.9 244.3,574.4 247.2,570.9 250.0,567.3 252.9,541.5 255.7,538.5 258.6,539.4 261.4,543.5 264.3,540.1 267.1,544.8 270.0,543.3 272.8,546.1 275.7,539.4 278.5,535.3 281.4,544.5 284.2,536.1 287.1,551.1 290.0,545.5 292.8,546.0 295.7,533.8 298.5,544.1 301.4,538.0 304.2,550.7 307.1,541.0 309.9,538.9 312.8,541.7 315.6,553.7 318.5,540.7 321.3,537.8 324.2,535.5 327.0,539.7 329.9,549.1 332.7,542.4 335.6,537.4 338.4,545.2 341.3,538.9 344.1,543.6 347.0,541.1 349.8,538.1 352.7,544.7 355.5,528.6"/>
<polyline points="215.8,581.2 218.7,570.5 221.5,570.7 224.4,573.4 227.2,573.4 230.1,568.7 232.9,569.4 235.8,575.5 238.6,574.1 241.5,569.4 244.3,568.6 247.2,566.8 250.0,571.2 252.9,560.7 255.7,567.0 258.6,567.8 261.4,566.6 264.3,562.7 267.1,564.2 270.0,563.1 272.8,568.5 275.7,567.1 278.5,570.1 281.4,568.0 284.2,567.5 287.1,567.7 290.0,563.7 292.8,564.7 295.7,563.5 298.5,565.7 301.4,562.4 304.2,565.7 307.1,562.8 309.9,564.4 312.8,563.6 315.6,566.3 318.5,570.3 321.3,571.0 324.2,559.4 327.0,564.8 329.9,564.6 332.7,566.7 335.6,567.7 338.4,556.3 341.3,569.9 344.1,566.3 347.0,566.3 349.8,570.0 352.7,570.5 355.5,568.5"/>
<polyline points="215.8,578.5 218.7,574.7 221.5,570.1 224.4,567.3 227.2,568.5 230.1,573.4 232.9,577.7 235.8,568.1 238.6,568.7 241.5,571.2 244.3,566.4 247.2,570.4 250.0,569.0 252.9,570.5 255.7,568.5 258.6,571.0 261.4,571.2 264.3,566.1 267.1,568.9 270.0,574.5 272.8,567.4 275.7,566.9 278.5,572.3 281.4,570.9 284.2,569.4 287.1,570.4 290.0,569.2 292.8,567.5 295.7,571.2 298.5,562.8 301.4,571.9 304.2,571.4 307.1,563.2 309.9,561.8 312.8,569.5 315.6,570.2 318.5,573.1 321.3,565.9 324.2,569.0 327.0,572.4 329.9,568.3 332.7,565.1 335.6,567.4 338.4,562.4 341.3,565.8 344.1,568.2 347.0,569.7 349.8,567.8 352.7,565.6 355.5,566.8"/>
<polyline points="215.8,577.6 218.7,567.8 221.5,570.6 224.4,573.2 227.2,565.5 230.1,568.1 232.9,570.5 235.8,568.6 238.6,569.6 241.5,573.0 244.3,569.1 247.2,572.0 250.0,567.8 252.9,530.9 255.7,532.2 258.6,538.3 261.4,536.0 264.3,539.2 267.1,539.5 270.0,544.3 272.8,533.1 275.7,536.9 278.5,540.5 281.4,536.8 284.2,539.7 287.1,541.1 290.0,536.6 292.8,532.0 295.7,539.0 298.5,544.4 301.4,540.6 304.2,529.3 307.1,541.6 309.9,532.2 312.8,538.9 315.6,534.3 318.5,538.2 321.3,545.1 324.2,539.7 327.0,527.8 329.9,538.4 332.7,535.1 335.6,539.3 338.4,538.4 341.3,536.2 344.1,535.5 347.0,527.3 349.8,537.8 352.7,538.6 355.5,540.9"/>
<polyline points="215.8,580.3 218.7,577.9 221.5,569.2 224.4,570.3 227.2,573.0 230.1,574.9 232.9,571.8 235.8,571.6 238.6,568.7 241.5,573.1 244.3,572.0 247.2,571.0 250.0,571.4 252.9,544.7 255.7,555.2 258.6,555.1 261.4,551.0 264.3,549.1 267.1,544.0 270.0,538.4 272.8,540.9 275.7,546.5 278.5,540.2 281.4,548.7 284.2,550.4 287.1,538.4 290.0,552.7 292.8,549.9 295.7,549.3 298.5,542.0 301.4,550.7 304.2,544.9 307.1,549.9 309.9,553.3 312.8,547.2 315.6,547.5 318.5,553.0 321.3,551.8 324.2,551.5 327.0,544.1 329.9,546.2 332.7,547.2 335.6,546.1 338.4,550.2 341.3,546.1 344.1,550.7 347.0,553.8 349.8,551.1 352.7,547.3 355.5,547.8"/>
<polyline points="215.8,582.6 218.7,572.4 221.5,575.1 224.4,571.9 227.2,573.3 230.1,574.9 232.9,569.2 235.8,575.2 238.6,569.1 241.5,572.4 244.3,573.5 247.2,573.2 250.0,572.6 252.9,568.4 255.7,566.8 258.6,574.0 261.4,563.6 264.3,565.0 267.1,563.1 270.0,571.0 272.8,575.5 275.7,569.8 278.5,568.3 281.4,566.7 284.2,569.5 287.1,568.0 290.0,567.2 292.8,572.9 295.7,561.7 298.5,571.5 301.4,566.9 304.2,564.1 307.1,570.4 309.9,567.7 312.8,562.3 315.6,568.7 318.5,564.2 321.3,566.8 324.2,567.0 327.0,565.3 329.9,568.5 332.7,568.4 335.6,564.5 338.4,566.9 341.3,566.1 344.1,571.7 347.0,567.7 349.8,563.7 352.7,564.7 355.5,566.6"/>
<polyline points="215.8,579.5 218.7,568.4 221.5,571.1 224.4,567.8 227.2,571.6 230.1,567.7 232.9,572.9 235.8,569.8 238.6,572.7 241.5,568.3 244.3,568.3 247.2,571.9 250.0,571.2 252.9,542.5 255.7,550.6 258.6,548.3 261.4,548.0 264.3,540.8 267.1,538.1 270.0,546.1 272.8,545.5 275.7,543.2 278.5,546.5 281.4,545.4 284.2,540.5 287.1,543.2 290.0,544.6 292.8,546.7 295.7,537.7 298.5,546.9 301.4,543.7 304.2,548.7 307.1,546.8 309.9,543.8 312.8,545.9 315.6,541.8 318.5,543.9 321.3,550.3 324.2,554.3 327.0,539.8 329.9,546.8 332.7,537.7 335.6,544.1 338.4,547.5 341.3,541.7 344.1,545.4 347.0,544.1 349.8,548.3 352.7,541.4 355.5,539.4"/>
<polyline points="215.8,578.8 218.7,568.1 221.5,572.1 224.4,572.5 227.2,562.4 230.1,563.9 232.9,564.4 235.8,571.2 238.6,566.3 241.5,565.6 244.3,566.3 247.2,565.6 250.0,568.4 252.9,566.2 255.7,572.8 258.6,570.3 261.4,568.0 264.3,571.7 267.1,570.1 270.0,570.6 272.8,569.1 275.7,566.2 278.5,568.4 281.4,567.9 284.2,573.9 287.1,570.4 290.0,566.5 292.8,572.0 295.7,570.6 298.5,572.4 301.4,564.8 304.2,570.7 307.1,571.6 309.9,567.2 312.8,565.6 315.6,567.6 318.5,566.0 321.3,568.5 324.2,569.6 327.0,570.6 329.9,570.9 332.7,571.1 335.6,568.0 338.4,569.6 341.3,568.9 344.1,567.2 347.0,569.4 349.8,573.7 352.7,571.8 355.5,572.9"/>
<polyline points="215.8,582.6 218.7,574.1 221.5,573.0 224.4,567.9 227.2,570.7 230.1,567.2 232.9,569.7 235.8,570.4 238.6,567.7 241.5,567.5 244.3,568.5 247.2,571.1 250.0,569.5 252.9,548.9 255.7,548.2 258.6,546.8 261.4,540.9 264.3,541.2 267.1,544.3 270.0,543.1 272.8,546.2 275.7,535.4 278.5,540.7 281.4,535.9 284.2,545.6 287.1,545.4 290.0,542.7 292.8,546.4 295.7,545.9 298.5,551.4 301.4,543.2 304.2,546.6 307.1,543.7 309.9,548.1 312.8,554.8 315.6,545.1 318.5,542.2 321.3,552.6 324.2,551.3 327.0,548.5 329.9,548.2 332.7,554.4 335.6,539.7 338.4,542.9 341.3,549.8 344.1,554.9 347.0,545.6 349.8,538.7 352.7,543.7 355.5,542.3"/>
<polyline points="215.8,582.7 218.7,571.2 221.5,574.8 224.4,566.0 227.2,569.3 230.1,575.7 232.9,574.9 235.8,568.9 238.6,569.6 241.5,570.5 244.3,568.0 247.2,564.4 250.0,568.3 252.9,554.5 255.7,550.7 258.6,555.6 261.4,553.5 264.3,548.8 267.1,550.9 270.0,554.6 272.8,550.3 275.7,553.5 278.5,548.0 281.4,551.2 284.2,548.6 287.1,551.3 290.0,547.1 292.8,550.7 295.7,550.2 298.5,552.5 301.4,549.6 304.2,557.5 307.1,539.2 309.9,553.0 312.8,549.8 315.6,552.2 318.5,552.2 321.3,548.5 324.2,552.3 327.0,552.0 329.9,555.9 332.7,554.0 335.6,555.0 338.4,542.8 341.3,555.7 344.1,554.6 347.0,549.4 349.8,544.3 352.7,557.2 355.5,556.6"/>
<polyline points="215.8,582.9 218.7,575.2 221.5,572.4 224.4,568.0 227.2,569.8 230.1,567.6 232.9,569.6 235.8,569.2 238.6,567.4 241.5,569.0 244.3,568.0 247.2,570.6 250.0,569.7 252.9,537.1 255.7,545.0 258.6,547.4 261.4,541.2 264.3,541.7 267.1,544.1 270.0,547.4 272.8,540.1 275.7,533.1 278.5,547.7 281.4,550.9 284.2,547.5 287.1,548.2 290.0,549.7 292.8,549.3 295.7,540.4 298.5,540.3 301.4,537.6 304.2,540.8 307.1,546.2 309.9,539.3 312.8,546.8 315.6,545.7 318.5,549.3 321.3,538.7 324.2,539.7 327.0,546.2 329.9,545.5 332.7,544.0 335.6,543.2 338.4,540.4 341.3,543.8 344.1,542.4 347.0,550.7 349.8,545.5 352.7,552.0 355.5,536.3"/>
<polyline points="215.8,576.2 218.7,565.3 221.5,567.3 224.4,573.3 227.2,569.7 230.1,574.8 232.9,570.8 235.8,571.7 238.6,568.5 241.5,567.3 244.3,570.4 247.2,568.6 250.0,567.0 252.9,564.8 255.7,568.4 258.6,575.9 261.4,569.4 264.3,565.2 267.1,567.0 270.0,572.8 272.8,568.8 275.7,567.0 278.5,571.1 281.4,565.6 284.2,570.6 287.1,569.0 290.0,568.3 292.8,560.5 295.7,569.0 298.5,569.8 301.4,565.5 304.2,569.5 307.1,567.3 309.9,575.4 312.8,566.9 315.6,568.0 318.5,572.2 321.3,563.4 324.2,568.7 327.0,568.6 329.9,572.3 332.7,573.3 335.6,569.8 338.4,573.0 341.3,566.3 344.1,565.0 347.0,570.0 349.8,573.3 352.7,569.2 355.5,571.4"/>
<polyline points="215.8,580.8 218.7,570.9 221.5,567.8 224.4,565.9 227.2,571.3 230.1,568.0 232.9,570.2 235.8,572.0 238.6,566.0 241.5,568.1 244.3,568.5 247.2,567.8 250.0,568.9 252.9,534.7 255.7,528.1 258.6,532.5 261.4,535.6 264.3,532.2 267.1,530.7 270.0,537.8 272.8,534.0 275.7,538.4 278.5,533.8 281.4,538.0 284.2,525.3 287.1,538.5 290.0,534.4 292.8,534.6 295.7,538.4 298.5,532.4 301.4,537.2 304.2,538.8 307.1,536.8 309.9,540.4 312.8,531.1 315.6,533.9 318.5,532.2 321.3,543.2 324.2,535.5 327.0,540.5 329.9,536.4 332.7,530.8 335.6,535.6 338.4,537.7 341.3,531.5 344.1,532.0 347.0,528.1 349.8,545.6 352.7,535.3 355.5,538.8"/>
</g>
<polyline points="215.8,579.8 218.7,571.1 221.5,570.9 224.4,571.0 227.2,570.4 230.1,570.0 232.9,569.1 235.8,569.8 238.6,569.7 241.5,569.8 244.3,569.1 247.2,568.8 250.0,568.5 252.9,568.3 255.7,568.5 258.6,569.0 261.4,568.2 264.3,568.8 267.1,569.2 270.0,567.8 272.8,568.1 275.7,568.1 278.5,568.1 281.4,568.6 284.2,567.9 287.1,568.6 290.0,567.6 292.8,568.2 295.7,568.9 298.5,567.9 301.4,567.6 304.2,568.3 307.1,567.9 309.9,568.3 312.8,568.5 315.6,569.1 318.5,567.8 321.3,568.4 324.2,568.1 327.0,568.6 329.9,568.5 332.7,567.9 335.6,568.4 338.4,568.4 341.3,568.7 344.1,568.2 347.0,568.0 349.8,568.4 352.7,568.3 355.5,568.7" fill="none" stroke="#ff0000" stroke-width="2.8" stroke-linejoin="round"/>
<line x1="251.5" y1="495.8" x2="251.5" y2="599.5" stroke="#0000ff" stroke-width="1.6" stroke-dasharray="5.5 2.4"/>
<rect x="208.9" y="494.3" width="153.6" height="105.2" fill="none" stroke="#222" stroke-width="0.85"/>
<clipPath id="cp2"><rect x="370.1" y="494.3" width="153.6" height="105.2"/></clipPath>
<g clip-path="url(#cp2)" fill="none" stroke="#000" stroke-opacity="0.3" stroke-width="1.0" stroke-linejoin="round">
<polyline points="377.0,579.1 379.9,572.9 382.7,567.8 385.6,570.8 388.4,568.2 391.3,566.1 394.1,575.5 397.0,564.6 399.8,569.1 402.7,570.5 405.5,574.4 408.4,570.1 411.2,575.0 414.1,536.4 416.9,538.4 419.8,528.9 422.6,539.3 425.5,532.5 428.3,532.1 431.2,527.8 434.0,538.9 436.9,534.0 439.7,545.0 442.6,543.0 445.4,539.0 448.3,537.8 451.2,543.5 454.0,539.7 456.9,534.3 459.7,539.9 462.6,538.4 465.4,542.0 468.3,531.0 471.1,529.1 474.0,536.7 476.8,538.2 479.7,529.7 482.5,535.4 485.4,540.9 488.2,544.2 491.1,540.5 493.9,527.1 496.8,540.5 499.6,523.7 502.5,537.7 505.3,538.7 508.2,531.3 511.0,538.8 513.9,535.8 516.7,542.7"/>
<polyline points="377.0,580.3 379.9,573.9 382.7,576.5 385.6,570.1 388.4,571.5 391.3,571.6 394.1,572.3 397.0,576.3 399.8,566.3 402.7,571.4 405.5,568.6 408.4,566.3 411.2,566.7 414.1,591.1 416.9,591.6 419.8,590.9 422.6,589.5 425.5,590.3 428.3,592.7 431.2,590.6 434.0,590.8 436.9,590.0 439.7,591.2 442.6,588.4 445.4,591.2 448.3,589.6 451.2,591.5 454.0,593.0 456.9,593.8 459.7,592.0 462.6,590.4 465.4,588.7 468.3,591.8 471.1,592.8 474.0,592.8 476.8,588.6 479.7,591.4 482.5,592.8 485.4,589.9 488.2,594.7 491.1,591.4 493.9,591.7 496.8,591.9 499.6,594.3 502.5,589.3 505.3,587.7 508.2,594.7 511.0,591.3 513.9,590.1 516.7,586.4"/>
<polyline points="377.0,581.1 379.9,567.3 382.7,571.6 385.6,570.9 388.4,566.9 391.3,576.6 394.1,576.5 397.0,568.5 399.8,568.7 402.7,574.0 405.5,568.9 408.4,570.0 411.2,569.3 414.1,578.8 416.9,578.0 419.8,579.3 422.6,576.5 425.5,577.4 428.3,571.6 431.2,574.8 434.0,581.4 436.9,575.4 439.7,572.4 442.6,575.8 445.4,573.4 448.3,576.8 451.2,574.6 454.0,579.5 456.9,574.3 459.7,580.8 462.6,572.8 465.4,581.2 468.3,583.1 471.1,575.1 474.0,577.2 476.8,576.3 479.7,575.4 482.5,576.8 485.4,579.4 488.2,576.0 491.1,575.6 493.9,575.2 496.8,570.7 499.6,578.9 502.5,576.5 505.3,575.0 508.2,578.0 511.0,580.3 513.9,578.4 516.7,573.5"/>
<polyline points="377.0,580.8 379.9,569.2 382.7,571.3 385.6,571.5 388.4,568.9 391.3,568.9 394.1,565.1 397.0,572.8 399.8,567.2 402.7,564.2 405.5,564.6 408.4,568.9 411.2,569.4 414.1,551.4 416.9,548.7 419.8,549.2 422.6,548.6 425.5,547.5 428.3,554.6 431.2,554.8 434.0,555.2 436.9,555.7 439.7,550.5 442.6,548.7 445.4,539.3 448.3,547.8 451.2,550.0 454.0,544.0 456.9,553.2 459.7,548.6 462.6,545.9 465.4,546.7 468.3,548.3 471.1,551.5 474.0,555.3 476.8,550.7 479.7,552.6 482.5,547.1 485.4,550.6 488.2,547.7 491.1,556.9 493.9,545.9 496.8,553.7 499.6,556.7 502.5,555.9 505.3,552.7 508.2,545.3 511.0,547.0 513.9,555.0 516.7,549.7"/>
<polyline points="377.0,584.5 379.9,578.5 382.7,574.8 385.6,579.1 388.4,574.3 391.3,574.4 394.1,573.9 397.0,573.8 399.8,568.5 402.7,572.2 405.5,570.5 408.4,569.0 411.2,568.4 414.1,574.8 416.9,578.9 419.8,580.6 422.6,579.7 425.5,578.8 428.3,577.3 431.2,577.6 434.0,574.1 436.9,577.7 439.7,572.0 442.6,574.3 445.4,578.8 448.3,574.8 451.2,585.9 454.0,573.2 456.9,576.1 459.7,576.2 462.6,582.4 465.4,569.8 468.3,578.1 471.1,577.8 474.0,574.0 476.8,577.9 479.7,579.9 482.5,575.4 485.4,580.4 488.2,575.1 491.1,576.9 493.9,574.0 496.8,581.0 499.6,573.6 502.5,576.5 505.3,571.5 508.2,579.3 511.0,571.8 513.9,575.3 516.7,575.0"/>
<polyline points="377.0,577.3 379.9,572.5 382.7,572.6 385.6,571.4 388.4,565.6 391.3,568.7 394.1,566.5 397.0,568.0 399.8,568.2 402.7,567.8 405.5,569.2 408.4,564.9 411.2,567.4 414.1,585.9 416.9,590.3 419.8,586.0 422.6,588.5 425.5,588.1 428.3,584.2 431.2,589.6 434.0,587.3 436.9,585.2 439.7,583.9 442.6,588.1 445.4,586.0 448.3,586.1 451.2,589.7 454.0,592.2 456.9,591.7 459.7,585.3 462.6,586.6 465.4,590.2 468.3,588.4 471.1,587.8 474.0,587.7 476.8,586.9 479.7,581.2 482.5,588.8 485.4,586.5 488.2,588.8 491.1,588.4 493.9,589.1 496.8,587.4 499.6,588.2 502.5,585.9 505.3,586.3 508.2,589.1 511.0,582.0 513.9,589.8 516.7,585.9"/>
<polyline points="377.0,577.4 379.9,568.5 382.7,570.6 385.6,575.9 388.4,567.5 391.3,570.6 394.1,572.1 397.0,567.3 399.8,572.1 402.7,567.4 405.5,571.3 408.4,568.4 411.2,572.3 414.1,583.7 416.9,585.4 419.8,584.9 422.6,582.5 425.5,583.5 428.3,582.5 431.2,579.5 434.0,583.3 436.9,588.0 439.7,583.8 442.6,582.8 445.4,580.2 448.3,580.2 451.2,580.4 454.0,583.6 456.9,581.2 459.7,586.9 462.6,579.5 465.4,581.8 468.3,581.6 471.1,584.0 474.0,582.8 476.8,584.8 479.7,581.5 482.5,586.6 485.4,580.4 488.2,581.5 491.1,577.5 493.9,583.1 496.8,583.2 499.6,582.5 502.5,582.9 505.3,583.3 508.2,586.0 511.0,586.0 513.9,584.5 516.7,583.8"/>
<polyline points="377.0,582.1 379.9,570.9 382.7,572.6 385.6,570.1 388.4,569.2 391.3,569.5 394.1,572.4 397.0,572.1 399.8,575.6 402.7,572.5 405.5,569.4 408.4,573.1 411.2,566.7 414.1,573.9 416.9,579.6 419.8,575.8 422.6,582.7 425.5,581.6 428.3,579.6 431.2,578.5 434.0,579.1 436.9,581.1 439.7,572.8 442.6,577.7 445.4,577.7 448.3,576.6 451.2,578.0 454.0,579.2 456.9,580.2 459.7,583.3 462.6,574.2 465.4,581.2 468.3,583.4 471.1,580.9 474.0,583.2 476.8,572.7 479.7,577.5 482.5,574.4 485.4,574.3 488.2,576.9 491.1,576.9 493.9,580.7 496.8,578.8 499.6,580.3 502.5,578.4 505.3,580.6 508.2,574.9 511.0,576.3 513.9,578.9 516.7,583.4"/>
<polyline points="377.0,578.8 379.9,573.1 382.7,568.2 385.6,566.4 388.4,573.7 391.3,567.2 394.1,573.1 397.0,568.1 399.8,563.7 402.7,567.7 405.5,566.5 408.4,568.3 411.2,567.4 414.1,536.8 416.9,542.0 419.8,549.2 422.6,549.5 425.5,547.8 428.3,538.4 431.2,547.0 434.0,543.1 436.9,549.5 439.7,553.4 442.6,542.2 445.4,548.2 448.3,551.3 451.2,550.9 454.0,550.8 456.9,550.5 459.7,554.5 462.6,542.7 465.4,546.2 468.3,543.7 471.1,549.4 474.0,546.4 476.8,547.2 479.7,542.8 482.5,544.4 485.4,546.3 488.2,550.7 491.1,553.1 493.9,551.3 496.8,550.6 499.6,550.2 502.5,553.2 505.3,540.7 508.2,546.7 511.0,556.6 513.9,552.6 516.7,553.7"/>
<polyline points="377.0,580.8 379.9,568.1 382.7,569.7 385.6,565.9 388.4,565.2 391.3,567.6 394.1,566.4 397.0,568.0 399.8,568.8 402.7,570.6 405.5,566.7 408.4,567.5 411.2,568.1 414.1,572.5 416.9,573.2 419.8,576.0 422.6,574.4 425.5,569.1 428.3,573.5 431.2,568.3 434.0,576.4 436.9,577.0 439.7,572.3 442.6,570.3 445.4,574.8 448.3,570.7 451.2,569.8 454.0,569.3 456.9,573.1 459.7,572.9 462.6,577.9 465.4,572.6 468.3,571.8 471.1,568.3 474.0,576.7 476.8,575.4 479.7,575.9 482.5,569.9 485.4,580.7 488.2,576.1 491.1,566.2 493.9,570.6 496.8,576.9 499.6,572.9 502.5,570.0 505.3,571.0 508.2,573.4 511.0,575.2 513.9,570.1 516.7,572.7"/>
<polyline points="377.0,580.4 379.9,567.0 382.7,571.2 385.6,568.6 388.4,571.1 391.3,569.9 394.1,569.8 397.0,570.6 399.8,568.2 402.7,565.3 405.5,563.7 408.4,564.6 411.2,568.5 414.1,572.6 416.9,576.0 419.8,572.0 422.6,581.0 425.5,573.0 428.3,579.1 431.2,573.9 434.0,578.7 436.9,574.6 439.7,578.1 442.6,582.8 445.4,580.2 448.3,578.0 451.2,577.2 454.0,583.9 456.9,580.8 459.7,579.5 462.6,577.9 465.4,576.7 468.3,579.7 471.1,581.8 474.0,576.4 476.8,578.3 479.7,574.7 482.5,578.9 485.4,575.4 488.2,579.9 491.1,576.5 493.9,577.1 496.8,576.0 499.6,580.1 502.5,577.7 505.3,579.8 508.2,577.8 511.0,575.5 513.9,568.6 516.7,577.2"/>
<polyline points="377.0,576.8 379.9,569.8 382.7,567.7 385.6,569.2 388.4,563.9 391.3,566.3 394.1,573.8 397.0,568.6 399.8,569.0 402.7,574.5 405.5,570.9 408.4,569.7 411.2,570.2 414.1,564.1 416.9,571.1 419.8,562.3 422.6,562.2 425.5,563.7 428.3,566.1 431.2,564.9 434.0,566.5 436.9,560.9 439.7,563.1 442.6,558.0 445.4,566.2 448.3,559.9 451.2,566.9 454.0,565.5 456.9,568.5 459.7,563.1 462.6,565.1 465.4,562.7 468.3,559.7 471.1,565.1 474.0,563.6 476.8,561.8 479.7,565.1 482.5,566.8 485.4,563.7 488.2,563.2 491.1,562.2 493.9,562.0 496.8,567.2 499.6,563.4 502.5,560.6 505.3,566.5 508.2,563.6 511.0,567.1 513.9,564.3 516.7,558.9"/>
<polyline points="377.0,580.2 379.9,571.9 382.7,569.0 385.6,574.9 388.4,573.6 391.3,571.3 394.1,574.8 397.0,568.0 399.8,575.6 402.7,572.5 405.5,573.9 408.4,571.7 411.2,567.9 414.1,554.2 416.9,553.6 419.8,554.9 422.6,565.0 425.5,556.1 428.3,564.3 431.2,559.1 434.0,558.7 436.9,559.3 439.7,555.3 442.6,560.3 445.4,550.6 448.3,554.9 451.2,552.7 454.0,554.3 456.9,553.8 459.7,557.4 462.6,549.7 465.4,561.2 468.3,555.5 471.1,557.2 474.0,558.1 476.8,556.0 479.7,560.1 482.5,553.9 485.4,554.2 488.2,556.8 491.1,554.4 493.9,561.2 496.8,564.1 499.6,559.4 502.5,558.1 505.3,547.7 508.2,558.1 511.0,553.3 513.9,554.0 516.7,549.2"/>
<polyline points="377.0,579.4 379.9,572.4 382.7,572.0 385.6,571.3 388.4,565.6 391.3,568.2 394.1,569.2 397.0,568.5 399.8,569.8 402.7,568.3 405.5,568.1 408.4,566.2 411.2,565.4 414.1,585.8 416.9,581.1 419.8,578.0 422.6,584.5 425.5,582.4 428.3,581.3 431.2,578.8 434.0,580.1 436.9,582.3 439.7,580.4 442.6,578.9 445.4,580.7 448.3,576.7 451.2,580.6 454.0,584.6 456.9,583.9 459.7,582.1 462.6,582.3 465.4,580.1 468.3,580.8 471.1,577.1 474.0,579.5 476.8,577.7 479.7,583.8 482.5,582.9 485.4,579.9 488.2,581.5 491.1,580.0 493.9,581.1 496.8,583.4 499.6,577.1 502.5,578.6 505.3,586.0 508.2,583.4 511.0,581.7 513.9,579.9 516.7,581.9"/>
<polyline points="377.0,579.1 379.9,567.0 382.7,568.5 385.6,566.6 388.4,566.8 391.3,566.5 394.1,569.8 397.0,565.8 399.8,567.6 402.7,571.0 405.5,568.7 408.4,568.4 411.2,566.2 414.1,551.1 416.9,559.0 419.8,551.9 422.6,555.0 425.5,558.9 428.3,551.5 431.2,557.8 434.0,559.4 436.9,551.8 439.7,551.2 442.6,557.4 445.4,550.6 448.3,550.8 451.2,556.8 454.0,546.9 456.9,555.0 459.7,553.9 462.6,564.1 465.4,552.3 468.3,557.2 471.1,553.0 474.0,561.5 476.8,550.2 479.7,549.1 482.5,547.4 485.4,566.3 488.2,552.5 491.1,553.4 493.9,566.6 496.8,557.6 499.6,555.1 502.5,549.2 505.3,558.0 508.2,553.9 511.0,555.0 513.9,553.3 516.7,556.3"/>
<polyline points="377.0,581.7 379.9,566.9 382.7,570.9 385.6,569.5 388.4,565.8 391.3,568.2 394.1,566.8 397.0,566.1 399.8,566.4 402.7,569.0 405.5,569.8 408.4,565.6 411.2,565.2 414.1,562.6 416.9,564.9 419.8,561.3 422.6,564.4 425.5,569.1 428.3,563.3 431.2,562.5 434.0,561.6 436.9,567.4 439.7,566.9 442.6,563.1 445.4,565.8 448.3,564.5 451.2,561.0 454.0,562.9 456.9,557.9 459.7,563.3 462.6,558.3 465.4,560.6 468.3,555.4 471.1,564.2 474.0,564.5 476.8,559.7 479.7,566.0 482.5,565.8 485.4,563.4 488.2,562.9 491.1,569.1 493.9,563.3 496.8,565.3 499.6,564.3 502.5,563.6 505.3,564.8 508.2,560.5 511.0,562.5 513.9,564.8 516.7,563.9"/>
<polyline points="377.0,575.3 379.9,570.1 382.7,568.7 385.6,563.9 388.4,568.8 391.3,564.3 394.1,566.2 397.0,569.1 399.8,571.3 402.7,566.1 405.5,569.3 408.4,569.1 411.2,571.4 414.1,565.4 416.9,569.3 419.8,569.6 422.6,568.4 425.5,568.9 428.3,569.4 431.2,568.0 434.0,570.6 436.9,578.0 439.7,567.3 442.6,568.3 445.4,569.6 448.3,564.6 451.2,574.2 454.0,579.0 456.9,564.9 459.7,568.3 462.6,575.0 465.4,571.0 468.3,567.7 471.1,573.6 474.0,567.9 476.8,562.9 479.7,565.2 482.5,569.8 485.4,568.6 488.2,572.7 491.1,569.2 493.9,570.7 496.8,572.9 499.6,574.0 502.5,563.5 505.3,569.4 508.2,573.0 511.0,571.0 513.9,564.9 516.7,564.5"/>
<polyline points="377.0,577.0 379.9,571.3 382.7,572.7 385.6,572.0 388.4,569.4 391.3,571.1 394.1,572.2 397.0,569.4 399.8,566.4 402.7,566.8 405.5,568.8 408.4,563.4 411.2,569.8 414.1,589.2 416.9,592.3 419.8,587.3 422.6,589.4 425.5,593.1 428.3,591.1 431.2,584.9 434.0,587.4 436.9,588.9 439.7,587.1 442.6,592.9 445.4,591.1 448.3,592.3 451.2,591.1 454.0,590.0 456.9,587.9 459.7,586.8 462.6,586.8 465.4,582.8 468.3,590.3 471.1,589.2 474.0,588.0 476.8,591.1 479.7,589.8 482.5,588.2 485.4,591.2 488.2,588.0 491.1,586.3 493.9,591.8 496.8,594.5 499.6,589.0 502.5,591.6 505.3,588.7 508.2,590.2 511.0,588.4 513.9,586.5 516.7,587.2"/>
<polyline points="377.0,587.1 379.9,577.7 382.7,573.7 385.6,571.2 388.4,573.0 391.3,572.6 394.1,574.9 397.0,574.8 399.8,574.8 402.7,568.9 405.5,575.1 408.4,568.4 411.2,572.1 414.1,570.6 416.9,572.0 419.8,570.5 422.6,569.2 425.5,575.3 428.3,575.9 431.2,574.2 434.0,575.3 436.9,570.9 439.7,573.2 442.6,572.9 445.4,571.6 448.3,574.4 451.2,569.5 454.0,578.6 456.9,572.2 459.7,571.4 462.6,575.3 465.4,575.1 468.3,570.2 471.1,573.9 474.0,578.9 476.8,577.1 479.7,569.9 482.5,575.7 485.4,568.9 488.2,568.7 491.1,573.6 493.9,571.3 496.8,575.5 499.6,574.2 502.5,575.1 505.3,571.2 508.2,576.9 511.0,573.4 513.9,572.8 516.7,571.4"/>
<polyline points="377.0,584.4 379.9,574.1 382.7,572.5 385.6,572.2 388.4,567.5 391.3,570.7 394.1,570.7 397.0,573.1 399.8,569.8 402.7,569.9 405.5,569.7 408.4,571.5 411.2,569.5 414.1,549.0 416.9,558.6 419.8,563.9 422.6,552.4 425.5,552.7 428.3,556.5 431.2,557.3 434.0,544.9 436.9,557.4 439.7,560.3 442.6,557.4 445.4,553.7 448.3,558.0 451.2,557.1 454.0,554.4 456.9,557.3 459.7,555.1 462.6,555.8 465.4,559.7 468.3,555.3 471.1,560.1 474.0,552.0 476.8,559.2 479.7,556.5 482.5,562.6 485.4,557.3 488.2,560.4 491.1,549.8 493.9,556.1 496.8,553.6 499.6,562.4 502.5,560.4 505.3,556.3 508.2,560.9 511.0,551.2 513.9,557.2 516.7,555.0"/>
<polyline points="377.0,578.2 379.9,573.1 382.7,569.9 385.6,567.6 388.4,569.8 391.3,569.9 394.1,570.8 397.0,569.6 399.8,567.9 402.7,570.0 405.5,573.3 408.4,568.6 411.2,569.2 414.1,576.2 416.9,577.7 419.8,573.3 422.6,581.2 425.5,580.6 428.3,576.0 431.2,580.7 434.0,576.9 436.9,577.9 439.7,583.4 442.6,575.9 445.4,573.9 448.3,577.2 451.2,581.8 454.0,575.6 456.9,580.8 459.7,578.2 462.6,576.6 465.4,580.0 468.3,582.6 471.1,578.2 474.0,577.9 476.8,580.3 479.7,580.0 482.5,575.7 485.4,578.1 488.2,579.2 491.1,579.5 493.9,577.3 496.8,577.6 499.6,578.3 502.5,581.8 505.3,578.9 508.2,579.6 511.0,577.6 513.9,574.6 516.7,575.1"/>
<polyline points="377.0,580.6 379.9,570.3 382.7,571.6 385.6,571.1 388.4,572.1 391.3,570.0 394.1,569.9 397.0,565.0 399.8,568.0 402.7,570.0 405.5,567.0 408.4,569.9 411.2,566.1 414.1,532.1 416.9,523.2 419.8,541.7 422.6,537.0 425.5,537.2 428.3,535.3 431.2,533.4 434.0,541.2 436.9,540.0 439.7,535.3 442.6,532.2 445.4,541.8 448.3,543.8 451.2,531.4 454.0,532.8 456.9,531.7 459.7,541.1 462.6,537.6 465.4,535.6 468.3,534.6 471.1,537.2 474.0,536.9 476.8,532.0 479.7,538.7 482.5,539.2 485.4,538.6 488.2,539.0 491.1,536.1 493.9,537.6 496.8,538.7 499.6,530.1 502.5,535.3 505.3,538.2 508.2,530.9 511.0,539.2 513.9,536.7 516.7,537.1"/>
<polyline points="377.0,580.2 379.9,575.2 382.7,572.0 385.6,570.3 388.4,570.0 391.3,569.8 394.1,564.8 397.0,568.6 399.8,570.3 402.7,570.0 405.5,569.6 408.4,568.3 411.2,569.9 414.1,569.7 416.9,577.6 419.8,572.6 422.6,572.9 425.5,577.7 428.3,572.6 431.2,572.8 434.0,576.3 436.9,567.7 439.7,572.3 442.6,575.4 445.4,575.8 448.3,576.6 451.2,573.7 454.0,574.2 456.9,578.5 459.7,577.4 462.6,576.5 465.4,575.6 468.3,575.5 471.1,576.3 474.0,572.6 476.8,571.7 479.7,574.2 482.5,580.8 485.4,574.9 488.2,572.8 491.1,574.6 493.9,573.6 496.8,574.1 499.6,578.7 502.5,581.7 505.3,572.6 508.2,575.9 511.0,573.2 513.9,575.3 516.7,574.9"/>
<polyline points="377.0,581.5 379.9,575.4 382.7,572.0 385.6,570.8 388.4,570.2 391.3,571.2 394.1,574.6 397.0,570.6 399.8,568.9 402.7,568.5 405.5,565.6 408.4,569.1 411.2,572.6 414.1,584.7 416.9,583.4 419.8,581.1 422.6,586.5 425.5,581.4 428.3,582.1 431.2,585.9 434.0,582.2 436.9,585.6 439.7,583.7 442.6,584.4 445.4,583.1 448.3,586.6 451.2,582.4 454.0,589.1 456.9,584.7 459.7,585.1 462.6,579.8 465.4,582.4 468.3,584.9 471.1,585.9 474.0,583.6 476.8,585.3 479.7,578.1 482.5,590.6 485.4,583.5 488.2,589.8 491.1,581.1 493.9,585.7 496.8,579.7 499.6,585.1 502.5,581.0 505.3,583.2 508.2,580.7 511.0,583.6 513.9,591.1 516.7,585.5"/>
<polyline points="377.0,577.5 379.9,570.1 382.7,568.3 385.6,568.7 388.4,570.3 391.3,564.2 394.1,568.1 397.0,568.9 399.8,571.7 402.7,569.5 405.5,567.8 408.4,568.1 411.2,568.6 414.1,568.1 416.9,571.7 419.8,568.2 422.6,573.1 425.5,570.9 428.3,570.6 431.2,565.5 434.0,566.7 436.9,568.0 439.7,571.9 442.6,569.5 445.4,565.7 448.3,564.3 451.2,572.9 454.0,569.6 456.9,567.9 459.7,567.1 462.6,568.2 465.4,566.1 468.3,572.8 471.1,563.3 474.0,571.8 476.8,568.0 479.7,566.6 482.5,564.5 485.4,565.4 488.2,565.5 491.1,564.2 493.9,568.7 496.8,565.8 499.6,563.3 502.5,570.6 505.3,572.6 508.2,571.4 511.0,563.7 513.9,564.3 516.7,569.3"/>
<polyline points="377.0,576.8 379.9,575.1 382.7,571.3 385.6,570.4 388.4,568.8 391.3,569.2 394.1,569.9 397.0,568.3 399.8,574.9 402.7,561.4 405.5,566.5 408.4,566.1 411.2,569.6 414.1,570.3 416.9,565.7 419.8,566.4 422.6,571.7 425.5,575.6 428.3,571.4 431.2,572.8 434.0,569.3 436.9,575.7 439.7,572.5 442.6,571.1 445.4,573.3 448.3,568.7 451.2,575.3 454.0,575.6 456.9,572.9 459.7,569.4 462.6,572.8 465.4,573.7 468.3,569.4 471.1,571.2 474.0,573.5 476.8,571.5 479.7,572.6 482.5,570.0 485.4,571.4 488.2,574.3 491.1,573.3 493.9,573.1 496.8,570.8 499.6,570.7 502.5,574.4 505.3,572.5 508.2,570.9 511.0,568.6 513.9,571.1 516.7,566.0"/>
<polyline points="377.0,579.7 379.9,572.6 382.7,569.3 385.6,568.2 388.4,568.4 391.3,568.6 394.1,569.6 397.0,570.6 399.8,569.1 402.7,567.1 405.5,565.8 408.4,575.7 411.2,566.2 414.1,560.5 416.9,560.5 419.8,563.5 422.6,562.6 425.5,566.3 428.3,565.1 431.2,563.1 434.0,568.5 436.9,567.4 439.7,564.2 442.6,569.3 445.4,564.6 448.3,569.8 451.2,564.2 454.0,564.7 456.9,566.7 459.7,567.9 462.6,566.5 465.4,572.3 468.3,566.1 471.1,564.4 474.0,560.8 476.8,566.5 479.7,565.4 482.5,560.2 485.4,559.0 488.2,566.4 491.1,561.3 493.9,560.9 496.8,563.1 499.6,568.1 502.5,567.9 505.3,562.9 508.2,557.0 511.0,565.4 513.9,559.6 516.7,558.5"/>
<polyline points="377.0,577.1 379.9,569.7 382.7,570.0 385.6,571.1 388.4,569.4 391.3,572.2 394.1,564.6 397.0,573.1 399.8,574.4 402.7,569.6 405.5,566.4 408.4,570.8 411.2,569.5 414.1,579.8 416.9,577.5 419.8,580.1 422.6,580.1 425.5,581.4 428.3,578.8 431.2,572.1 434.0,577.5 436.9,576.8 439.7,571.0 442.6,579.1 445.4,580.1 448.3,575.8 451.2,580.7 454.0,576.4 456.9,574.1 459.7,580.3 462.6,578.8 465.4,572.5 468.3,580.3 471.1,579.2 474.0,576.6 476.8,578.2 479.7,579.7 482.5,572.8 485.4,578.9 488.2,576.4 491.1,578.4 493.9,577.9 496.8,581.1 499.6,574.7 502.5,578.5 505.3,573.7 508.2,580.6 511.0,578.7 513.9,576.0 516.7,577.0"/>
<polyline points="377.0,583.2 379.9,571.3 382.7,577.0 385.6,570.1 388.4,567.1 391.3,568.0 394.1,567.9 397.0,570.8 399.8,568.4 402.7,570.3 405.5,569.4 408.4,569.2 411.2,576.8 414.1,553.3 416.9,555.4 419.8,554.1 422.6,560.7 425.5,554.6 428.3,555.4 431.2,565.4 434.0,563.7 436.9,557.0 439.7,559.6 442.6,557.2 445.4,559.5 448.3,551.7 451.2,564.2 454.0,562.2 456.9,560.8 459.7,562.2 462.6,559.3 465.4,557.3 468.3,562.1 471.1,555.8 474.0,552.3 476.8,553.1 479.7,549.8 482.5,553.0 485.4,557.3 488.2,550.6 491.1,554.6 493.9,550.3 496.8,557.9 499.6,564.9 502.5,561.5 505.3,556.5 508.2,555.1 511.0,557.9 513.9,553.5 516.7,561.4"/>
<polyline points="377.0,578.4 379.9,569.7 382.7,565.9 385.6,566.4 388.4,570.7 391.3,568.1 394.1,572.5 397.0,568.3 399.8,567.1 402.7,572.0 405.5,564.0 408.4,562.7 411.2,566.1 414.1,577.5 416.9,576.1 419.8,580.6 422.6,577.4 425.5,579.1 428.3,584.3 431.2,582.6 434.0,581.7 436.9,577.3 439.7,579.9 442.6,577.5 445.4,581.4 448.3,583.6 451.2,574.6 454.0,572.9 456.9,579.1 459.7,580.7 462.6,577.0 465.4,583.1 468.3,580.7 471.1,584.0 474.0,578.9 476.8,579.5 479.7,581.2 482.5,581.9 485.4,584.2 488.2,582.4 491.1,576.9 493.9,581.1 496.8,576.8 499.6,582.5 502.5,580.4 505.3,581.4 508.2,580.9 511.0,578.1 513.9,585.7 516.7,578.2"/>
<polyline points="377.0,579.6 379.9,571.7 382.7,568.8 385.6,570.1 388.4,572.1 391.3,569.5 394.1,567.4 397.0,568.6 399.8,569.2 402.7,568.6 405.5,570.1 408.4,569.8 411.2,573.0 414.1,573.7 416.9,570.7 419.8,574.8 422.6,576.3 425.5,571.0 428.3,573.1 431.2,573.2 434.0,572.2 436.9,571.6 439.7,573.8 442.6,576.1 445.4,568.5 448.3,573.5 451.2,575.9 454.0,573.1 456.9,570.1 459.7,577.8 462.6,569.8 465.4,574.0 468.3,567.7 471.1,571.7 474.0,573.9 476.8,569.9 479.7,569.9 482.5,574.7 485.4,572.9 488.2,575.1 491.1,570.9 493.9,577.8 496.8,574.1 499.6,579.9 502.5,571.9 505.3,580.2 508.2,576.7 511.0,572.8 513.9,574.7 516.7,574.9"/>
<polyline points="377.0,584.5 379.9,571.0 382.7,569.2 385.6,569.0 388.4,570.7 391.3,567.6 394.1,569.2 397.0,567.8 399.8,569.0 402.7,569.6 405.5,571.3 408.4,575.5 411.2,567.6 414.1,585.0 416.9,580.2 419.8,589.9 422.6,583.0 425.5,587.4 428.3,585.1 431.2,587.2 434.0,584.2 436.9,585.1 439.7,582.9 442.6,584.7 445.4,583.9 448.3,581.9 451.2,583.8 454.0,585.4 456.9,582.0 459.7,585.3 462.6,584.0 465.4,585.8 468.3,586.7 471.1,592.4 474.0,583.3 476.8,587.9 479.7,583.3 482.5,580.6 485.4,588.3 488.2,582.9 491.1,585.3 493.9,583.9 496.8,588.0 499.6,585.0 502.5,584.7 505.3,581.6 508.2,579.8 511.0,584.3 513.9,585.9 516.7,579.6"/>
<polyline points="377.0,579.6 379.9,570.1 382.7,568.8 385.6,571.6 388.4,570.4 391.3,565.5 394.1,565.9 397.0,568.5 399.8,568.7 402.7,569.7 405.5,566.6 408.4,570.0 411.2,568.3 414.1,582.9 416.9,583.6 419.8,581.9 422.6,582.0 425.5,583.5 428.3,582.2 431.2,581.8 434.0,583.2 436.9,583.7 439.7,582.4 442.6,580.2 445.4,579.2 448.3,581.5 451.2,582.7 454.0,582.1 456.9,577.1 459.7,579.7 462.6,584.4 465.4,582.1 468.3,583.4 471.1,582.9 474.0,586.3 476.8,581.9 479.7,585.5 482.5,583.5 485.4,578.1 488.2,579.4 491.1,584.2 493.9,584.7 496.8,584.3 499.6,586.8 502.5,584.5 505.3,582.7 508.2,584.7 511.0,580.1 513.9,582.1 516.7,583.4"/>
<polyline points="377.0,578.7 379.9,565.8 382.7,566.4 385.6,570.9 388.4,568.3 391.3,569.9 394.1,572.1 397.0,564.0 399.8,564.8 402.7,571.1 405.5,566.8 408.4,571.6 411.2,565.1 414.1,572.5 416.9,573.6 419.8,569.0 422.6,572.7 425.5,573.5 428.3,570.1 431.2,573.7 434.0,570.2 436.9,572.8 439.7,570.3 442.6,570.9 445.4,570.4 448.3,575.8 451.2,567.2 454.0,573.3 456.9,567.5 459.7,574.5 462.6,573.6 465.4,573.6 468.3,569.3 471.1,574.0 474.0,571.5 476.8,577.4 479.7,574.2 482.5,572.1 485.4,573.1 488.2,578.4 491.1,571.3 493.9,575.7 496.8,567.0 499.6,573.3 502.5,566.0 505.3,570.8 508.2,571.4 511.0,574.2 513.9,573.1 516.7,571.4"/>
<polyline points="377.0,581.2 379.9,570.4 382.7,575.6 385.6,567.8 388.4,566.9 391.3,567.8 394.1,567.6 397.0,569.0 399.8,567.6 402.7,564.9 405.5,568.6 408.4,566.2 411.2,565.5 414.1,581.3 416.9,580.2 419.8,580.3 422.6,582.2 425.5,574.5 428.3,582.1 431.2,576.4 434.0,578.1 436.9,586.3 439.7,580.2 442.6,578.2 445.4,578.7 448.3,583.3 451.2,580.2 454.0,584.1 456.9,583.7 459.7,581.5 462.6,580.4 465.4,576.6 468.3,580.0 471.1,578.1 474.0,584.1 476.8,584.0 479.7,582.2 482.5,576.3 485.4,584.5 488.2,585.1 491.1,581.1 493.9,577.7 496.8,585.3 499.6,581.6 502.5,584.5 505.3,577.1 508.2,579.1 511.0,580.2 513.9,581.0 516.7,581.5"/>
<polyline points="377.0,582.7 379.9,574.6 382.7,571.2 385.6,573.0 388.4,568.8 391.3,575.7 394.1,569.1 397.0,569.0 399.8,567.2 402.7,570.5 405.5,573.3 408.4,571.8 411.2,566.6 414.1,579.8 416.9,580.3 419.8,580.8 422.6,579.4 425.5,579.9 428.3,583.5 431.2,580.9 434.0,576.5 436.9,575.3 439.7,579.6 442.6,580.7 445.4,575.5 448.3,579.7 451.2,582.5 454.0,579.6 456.9,577.3 459.7,575.0 462.6,580.6 465.4,577.8 468.3,580.1 471.1,576.1 474.0,578.5 476.8,578.5 479.7,581.9 482.5,580.1 485.4,580.1 488.2,589.1 491.1,576.9 493.9,579.3 496.8,579.8 499.6,580.2 502.5,579.2 505.3,578.6 508.2,582.8 511.0,578.9 513.9,578.9 516.7,579.2"/>
<polyline points="377.0,583.1 379.9,570.5 382.7,567.4 385.6,568.3 388.4,571.0 391.3,571.3 394.1,571.2 397.0,568.8 399.8,571.1 402.7,570.6 405.5,575.1 408.4,570.9 411.2,570.6 414.1,578.1 416.9,573.5 419.8,580.9 422.6,580.8 425.5,575.3 428.3,579.8 431.2,577.5 434.0,576.6 436.9,577.0 439.7,579.3 442.6,574.4 445.4,572.8 448.3,579.9 451.2,577.8 454.0,574.4 456.9,577.6 459.7,579.9 462.6,578.3 465.4,574.7 468.3,579.9 471.1,576.3 474.0,576.0 476.8,578.9 479.7,575.4 482.5,575.2 485.4,574.2 488.2,574.4 491.1,581.3 493.9,574.5 496.8,575.4 499.6,574.3 502.5,579.5 505.3,574.5 508.2,576.0 511.0,580.3 513.9,573.4 516.7,579.3"/>
<polyline points="377.0,580.7 379.9,569.7 382.7,570.5 385.6,569.0 388.4,567.6 391.3,569.4 394.1,567.1 397.0,566.9 399.8,570.8 402.7,566.5 405.5,566.9 408.4,567.9 411.2,565.3 414.1,566.9 416.9,569.9 419.8,576.7 422.6,570.9 425.5,572.6 428.3,573.0 431.2,571.2 434.0,573.2 436.9,567.2 439.7,571.4 442.6,572.2 445.4,569.8 448.3,569.8 451.2,568.6 454.0,570.3 456.9,572.3 459.7,571.8 462.6,578.8 465.4,576.7 468.3,569.0 471.1,573.2 474.0,566.7 476.8,566.7 479.7,576.0 482.5,571.3 485.4,563.4 488.2,574.6 491.1,571.0 493.9,572.9 496.8,572.9 499.6,573.1 502.5,572.3 505.3,569.9 508.2,574.6 511.0,570.7 513.9,574.3 516.7,570.6"/>
<polyline points="377.0,580.4 379.9,573.9 382.7,573.4 385.6,568.4 388.4,575.4 391.3,569.5 394.1,568.9 397.0,571.9 399.8,567.7 402.7,567.9 405.5,573.0 408.4,568.4 411.2,568.4 414.1,567.3 416.9,563.6 419.8,563.1 422.6,568.0 425.5,572.2 428.3,564.2 431.2,568.0 434.0,571.3 436.9,566.9 439.7,573.5 442.6,566.7 445.4,560.6 448.3,575.1 451.2,564.0 454.0,568.7 456.9,567.0 459.7,568.6 462.6,563.5 465.4,565.6 468.3,568.2 471.1,569.9 474.0,567.0 476.8,561.7 479.7,569.6 482.5,564.2 485.4,564.4 488.2,572.3 491.1,561.9 493.9,565.7 496.8,558.1 499.6,559.8 502.5,566.4 505.3,566.1 508.2,568.9 511.0,570.2 513.9,562.9 516.7,566.4"/>
<polyline points="377.0,578.3 379.9,569.0 382.7,570.6 385.6,570.9 388.4,570.0 391.3,565.0 394.1,574.9 397.0,572.5 399.8,568.3 402.7,568.9 405.5,566.1 408.4,565.7 411.2,563.9 414.1,567.8 416.9,563.4 419.8,566.3 422.6,562.3 425.5,564.9 428.3,562.6 431.2,568.0 434.0,565.0 436.9,567.3 439.7,566.4 442.6,567.1 445.4,569.0 448.3,561.8 451.2,564.5 454.0,561.9 456.9,568.9 459.7,572.1 462.6,567.7 465.4,566.0 468.3,562.9 471.1,562.0 474.0,561.4 476.8,560.3 479.7,563.1 482.5,565.1 485.4,568.1 488.2,563.2 491.1,567.2 493.9,568.2 496.8,563.5 499.6,564.8 502.5,562.6 505.3,567.9 508.2,561.6 511.0,564.3 513.9,566.1 516.7,568.1"/>
<polyline points="377.0,578.1 379.9,576.3 382.7,570.6 385.6,572.6 388.4,573.2 391.3,572.7 394.1,571.6 397.0,569.0 399.8,569.7 402.7,570.8 405.5,574.0 408.4,574.8 411.2,565.7 414.1,564.4 416.9,567.1 419.8,557.6 422.6,566.9 425.5,559.0 428.3,558.3 431.2,560.8 434.0,558.2 436.9,566.6 439.7,566.0 442.6,562.3 445.4,561.6 448.3,561.9 451.2,560.0 454.0,564.3 456.9,569.2 459.7,560.2 462.6,562.4 465.4,558.8 468.3,554.3 471.1,561.4 474.0,559.6 476.8,564.8 479.7,558.4 482.5,560.4 485.4,560.8 488.2,558.4 491.1,565.7 493.9,559.6 496.8,560.0 499.6,556.0 502.5,568.0 505.3,562.0 508.2,553.9 511.0,563.1 513.9,563.2 516.7,555.3"/>
<polyline points="377.0,581.3 379.9,572.3 382.7,571.2 385.6,572.1 388.4,571.8 391.3,569.2 394.1,569.4 397.0,568.1 399.8,569.0 402.7,571.8 405.5,566.9 408.4,567.9 411.2,569.7 414.1,573.0 416.9,571.7 419.8,572.5 422.6,573.1 425.5,570.4 428.3,569.5 431.2,573.7 434.0,572.8 436.9,576.1 439.7,573.2 442.6,571.3 445.4,570.1 448.3,572.2 451.2,573.0 454.0,574.9 456.9,572.1 459.7,576.1 462.6,572.3 465.4,572.7 468.3,575.5 471.1,571.7 474.0,573.4 476.8,570.9 479.7,574.2 482.5,571.3 485.4,568.0 488.2,572.2 491.1,570.3 493.9,574.7 496.8,573.8 499.6,578.5 502.5,573.2 505.3,576.2 508.2,572.4 511.0,579.0 513.9,575.4 516.7,572.5"/>
<polyline points="377.0,582.9 379.9,567.1 382.7,570.7 385.6,572.0 388.4,578.9 391.3,574.2 394.1,570.6 397.0,571.1 399.8,570.3 402.7,568.9 405.5,570.8 408.4,568.8 411.2,575.0 414.1,572.9 416.9,580.8 419.8,581.8 422.6,575.9 425.5,578.4 428.3,577.4 431.2,581.7 434.0,579.2 436.9,578.1 439.7,583.1 442.6,580.6 445.4,580.7 448.3,580.8 451.2,581.9 454.0,583.5 456.9,578.8 459.7,579.4 462.6,576.9 465.4,580.2 468.3,581.9 471.1,584.0 474.0,579.8 476.8,580.9 479.7,574.5 482.5,573.8 485.4,575.7 488.2,582.5 491.1,583.8 493.9,580.7 496.8,582.5 499.6,576.1 502.5,579.7 505.3,581.1 508.2,580.1 511.0,576.6 513.9,582.6 516.7,578.7"/>
<polyline points="377.0,581.6 379.9,570.6 382.7,570.3 385.6,567.6 388.4,568.6 391.3,571.6 394.1,573.1 397.0,571.7 399.8,570.6 402.7,569.9 405.5,571.0 408.4,566.4 411.2,566.5 414.1,587.4 416.9,588.1 419.8,587.5 422.6,587.1 425.5,587.0 428.3,590.9 431.2,588.0 434.0,591.5 436.9,586.9 439.7,585.3 442.6,589.5 445.4,586.6 448.3,588.5 451.2,588.7 454.0,582.2 456.9,584.8 459.7,585.8 462.6,588.0 465.4,586.0 468.3,587.4 471.1,585.9 474.0,589.2 476.8,587.1 479.7,587.9 482.5,590.4 485.4,582.9 488.2,585.0 491.1,588.9 493.9,590.5 496.8,588.7 499.6,589.0 502.5,588.5 505.3,590.6 508.2,589.0 511.0,586.8 513.9,586.0 516.7,591.8"/>
<polyline points="377.0,583.6 379.9,573.2 382.7,573.4 385.6,569.9 388.4,569.7 391.3,571.9 394.1,572.5 397.0,566.4 399.8,566.1 402.7,569.5 405.5,570.6 408.4,567.6 411.2,566.3 414.1,579.4 416.9,573.2 419.8,578.8 422.6,575.3 425.5,579.8 428.3,578.2 431.2,579.6 434.0,578.3 436.9,575.5 439.7,580.9 442.6,579.2 445.4,576.8 448.3,579.7 451.2,572.6 454.0,582.5 456.9,571.2 459.7,580.2 462.6,575.6 465.4,573.8 468.3,576.8 471.1,582.3 474.0,579.3 476.8,578.2 479.7,576.7 482.5,575.6 485.4,575.2 488.2,574.2 491.1,581.0 493.9,575.5 496.8,583.3 499.6,577.9 502.5,581.4 505.3,583.4 508.2,575.7 511.0,578.4 513.9,575.5 516.7,582.8"/>
<polyline points="377.0,581.6 379.9,571.1 382.7,572.1 385.6,571.2 388.4,573.0 391.3,566.9 394.1,570.6 397.0,572.5 399.8,567.8 402.7,568.1 405.5,568.5 408.4,568.3 411.2,569.7 414.1,582.0 416.9,587.9 419.8,586.2 422.6,585.3 425.5,581.2 428.3,578.7 431.2,582.5 434.0,582.7 436.9,579.0 439.7,583.0 442.6,580.3 445.4,580.9 448.3,585.6 451.2,581.2 454.0,581.5 456.9,585.1 459.7,584.8 462.6,585.4 465.4,578.3 468.3,576.3 471.1,580.1 474.0,577.8 476.8,585.6 479.7,578.2 482.5,576.7 485.4,577.7 488.2,584.5 491.1,579.1 493.9,582.3 496.8,579.1 499.6,583.7 502.5,582.0 505.3,583.5 508.2,580.7 511.0,582.3 513.9,579.0 516.7,579.8"/>
<polyline points="377.0,580.6 379.9,571.2 382.7,568.7 385.6,570.0 388.4,569.4 391.3,570.0 394.1,569.9 397.0,571.2 399.8,574.0 402.7,567.8 405.5,567.6 408.4,571.2 411.2,563.9 414.1,590.8 416.9,585.7 419.8,587.5 422.6,587.4 425.5,585.4 428.3,585.9 431.2,588.1 434.0,590.7 436.9,591.1 439.7,587.7 442.6,584.3 445.4,586.0 448.3,588.2 451.2,587.3 454.0,586.5 456.9,584.0 459.7,590.0 462.6,586.4 465.4,587.5 468.3,590.0 471.1,590.6 474.0,585.1 476.8,587.3 479.7,588.6 482.5,587.9 485.4,585.8 488.2,587.9 491.1,584.3 493.9,588.8 496.8,590.0 499.6,588.4 502.5,590.4 505.3,589.0 508.2,585.2 511.0,584.0 513.9,586.6 516.7,587.7"/>
<polyline points="377.0,580.2 379.9,572.1 382.7,573.2 385.6,572.7 388.4,567.5 391.3,568.8 394.1,570.9 397.0,570.3 399.8,567.5 402.7,569.6 405.5,569.7 408.4,574.0 411.2,574.1 414.1,557.6 416.9,559.4 419.8,550.2 422.6,548.8 425.5,553.8 428.3,548.4 431.2,548.4 434.0,550.5 436.9,556.3 439.7,544.2 442.6,544.5 445.4,552.6 448.3,542.2 451.2,550.0 454.0,553.4 456.9,551.9 459.7,557.9 462.6,551.6 465.4,556.8 468.3,545.5 471.1,548.9 474.0,555.9 476.8,547.8 479.7,557.3 482.5,549.6 485.4,548.2 488.2,549.9 491.1,554.8 493.9,550.7 496.8,551.0 499.6,550.0 502.5,544.1 505.3,543.2 508.2,543.7 511.0,552.8 513.9,553.3 516.7,550.1"/>
<polyline points="377.0,584.1 379.9,569.5 382.7,576.3 385.6,574.8 388.4,574.6 391.3,571.4 394.1,572.6 397.0,573.1 399.8,575.8 402.7,570.4 405.5,571.7 408.4,573.2 411.2,571.3 414.1,586.1 416.9,591.8 419.8,592.0 422.6,590.7 425.5,590.4 428.3,595.6 431.2,589.7 434.0,585.6 436.9,589.1 439.7,585.8 442.6,595.2 445.4,588.5 448.3,584.9 451.2,584.5 454.0,589.5 456.9,590.3 459.7,587.3 462.6,591.2 465.4,589.1 468.3,592.3 471.1,588.1 474.0,588.3 476.8,584.3 479.7,587.4 482.5,589.9 485.4,588.5 488.2,591.4 491.1,588.2 493.9,588.8 496.8,587.2 499.6,586.0 502.5,593.1 505.3,587.5 508.2,586.5 511.0,591.2 513.9,583.7 516.7,590.0"/>
<polyline points="377.0,576.4 379.9,569.4 382.7,566.9 385.6,571.8 388.4,571.0 391.3,573.7 394.1,567.3 397.0,570.2 399.8,566.4 402.7,566.6 405.5,571.2 408.4,565.9 411.2,566.9 414.1,569.8 416.9,569.5 419.8,571.1 422.6,571.0 425.5,567.6 428.3,574.2 431.2,574.8 434.0,573.4 436.9,567.7 439.7,572.0 442.6,564.9 445.4,580.9 448.3,573.3 451.2,572.4 454.0,570.1 456.9,566.7 459.7,571.6 462.6,574.3 465.4,568.3 468.3,566.0 471.1,579.2 474.0,569.1 476.8,570.1 479.7,573.7 482.5,572.5 485.4,570.1 488.2,570.9 491.1,571.8 493.9,574.7 496.8,570.1 499.6,573.1 502.5,570.7 505.3,572.9 508.2,570.4 511.0,568.6 513.9,570.2 516.7,568.9"/>
<polyline points="377.0,578.5 379.9,572.1 382.7,570.3 385.6,576.6 388.4,569.2 391.3,570.3 394.1,574.7 397.0,567.6 399.8,570.3 402.7,567.8 405.5,568.9 408.4,566.9 411.2,567.7 414.1,568.9 416.9,566.8 419.8,565.7 422.6,576.0 425.5,568.4 428.3,570.5 431.2,572.2 434.0,564.2 436.9,565.3 439.7,571.9 442.6,572.2 445.4,565.8 448.3,570.6 451.2,569.6 454.0,575.0 456.9,568.9 459.7,564.7 462.6,570.0 465.4,568.9 468.3,562.7 471.1,565.6 474.0,563.8 476.8,566.4 479.7,564.5 482.5,574.0 485.4,571.2 488.2,574.0 491.1,561.1 493.9,567.9 496.8,568.9 499.6,571.0 502.5,571.9 505.3,577.8 508.2,561.1 511.0,568.8 513.9,568.3 516.7,573.2"/>
<polyline points="377.0,579.5 379.9,569.1 382.7,572.1 385.6,569.0 388.4,567.4 391.3,568.0 394.1,568.3 397.0,569.3 399.8,571.3 402.7,567.3 405.5,569.4 408.4,570.6 411.2,566.2 414.1,581.7 416.9,578.9 419.8,575.1 422.6,574.6 425.5,578.4 428.3,577.1 431.2,575.8 434.0,577.5 436.9,579.6 439.7,576.1 442.6,576.9 445.4,577.0 448.3,574.1 451.2,576.4 454.0,578.7 456.9,576.9 459.7,571.7 462.6,579.4 465.4,578.1 468.3,579.7 471.1,576.3 474.0,581.0 476.8,576.0 479.7,575.1 482.5,579.6 485.4,579.8 488.2,581.7 491.1,577.2 493.9,580.6 496.8,579.2 499.6,578.6 502.5,579.3 505.3,574.9 508.2,572.7 511.0,583.5 513.9,579.7 516.7,576.6"/>
<polyline points="377.0,580.0 379.9,568.4 382.7,568.3 385.6,571.7 388.4,570.5 391.3,571.5 394.1,570.9 397.0,573.2 399.8,574.4 402.7,570.8 405.5,567.3 408.4,567.6 411.2,573.9 414.1,536.0 416.9,539.3 419.8,535.1 422.6,541.7 425.5,532.2 428.3,537.5 431.2,533.8 434.0,532.4 436.9,545.7 439.7,537.6 442.6,529.3 445.4,536.4 448.3,531.6 451.2,534.5 454.0,538.9 456.9,535.2 459.7,531.5 462.6,530.4 465.4,529.6 468.3,541.8 471.1,532.6 474.0,543.1 476.8,537.1 479.7,537.5 482.5,533.5 485.4,535.0 488.2,530.6 491.1,539.4 493.9,532.5 496.8,534.7 499.6,536.5 502.5,542.2 505.3,533.8 508.2,535.0 511.0,532.8 513.9,536.7 516.7,537.7"/>
<polyline points="377.0,577.5 379.9,565.9 382.7,571.4 385.6,564.7 388.4,576.8 391.3,566.9 394.1,571.1 397.0,563.9 399.8,570.9 402.7,565.9 405.5,570.8 408.4,570.9 411.2,566.0 414.1,571.6 416.9,576.8 419.8,567.5 422.6,575.7 425.5,570.1 428.3,577.8 431.2,577.7 434.0,574.5 436.9,577.8 439.7,573.4 442.6,581.3 445.4,574.2 448.3,576.5 451.2,577.7 454.0,574.1 456.9,575.4 459.7,576.1 462.6,572.3 465.4,573.9 468.3,573.6 471.1,570.8 474.0,575.0 476.8,572.2 479.7,576.0 482.5,572.9 485.4,573.2 488.2,576.4 491.1,579.3 493.9,578.6 496.8,577.6 499.6,573.1 502.5,575.2 505.3,575.7 508.2,573.3 511.0,572.6 513.9,570.6 516.7,576.6"/>
<polyline points="377.0,581.2 379.9,569.9 382.7,571.8 385.6,569.9 388.4,568.1 391.3,573.1 394.1,570.9 397.0,570.5 399.8,568.1 402.7,570.0 405.5,567.1 408.4,569.9 411.2,568.9 414.1,579.8 416.9,580.9 419.8,581.4 422.6,581.9 425.5,579.1 428.3,578.1 431.2,582.8 434.0,583.8 436.9,584.6 439.7,577.1 442.6,584.2 445.4,585.4 448.3,581.1 451.2,579.0 454.0,585.1 456.9,582.1 459.7,585.7 462.6,583.7 465.4,577.4 468.3,581.3 471.1,582.5 474.0,581.6 476.8,581.0 479.7,582.1 482.5,585.0 485.4,585.0 488.2,576.4 491.1,583.9 493.9,578.6 496.8,583.7 499.6,578.3 502.5,579.9 505.3,582.4 508.2,576.4 511.0,584.3 513.9,582.4 516.7,584.1"/>
<polyline points="377.0,582.7 379.9,572.4 382.7,567.1 385.6,575.0 388.4,573.6 391.3,572.7 394.1,571.3 397.0,567.5 399.8,568.0 402.7,568.4 405.5,568.9 408.4,563.4 411.2,571.8 414.1,551.8 416.9,547.7 419.8,546.8 422.6,548.7 425.5,551.3 428.3,553.2 431.2,548.9 434.0,550.7 436.9,549.8 439.7,552.3 442.6,542.1 445.4,545.8 448.3,539.9 451.2,549.9 454.0,547.5 456.9,548.8 459.7,547.6 462.6,548.8 465.4,548.4 468.3,556.0 471.1,548.9 474.0,544.8 476.8,555.9 479.7,549.2 482.5,545.3 485.4,542.4 488.2,548.1 491.1,545.8 493.9,540.3 496.8,542.3 499.6,549.6 502.5,550.3 505.3,543.4 508.2,546.8 511.0,550.0 513.9,548.7 516.7,546.4"/>
<polyline points="377.0,580.7 379.9,575.2 382.7,566.5 385.6,567.6 388.4,566.7 391.3,570.5 394.1,569.7 397.0,568.4 399.8,567.6 402.7,574.0 405.5,568.4 408.4,571.5 411.2,569.1 414.1,583.5 416.9,577.4 419.8,580.6 422.6,582.1 425.5,578.3 428.3,582.2 431.2,584.0 434.0,582.5 436.9,583.0 439.7,581.9 442.6,579.8 445.4,582.4 448.3,582.2 451.2,579.3 454.0,581.3 456.9,579.5 459.7,581.7 462.6,585.5 465.4,585.1 468.3,586.5 471.1,579.0 474.0,580.9 476.8,583.3 479.7,584.7 482.5,581.1 485.4,582.4 488.2,581.2 491.1,584.3 493.9,585.0 496.8,577.8 499.6,584.6 502.5,582.1 505.3,578.5 508.2,587.0 511.0,580.2 513.9,581.9 516.7,582.4"/>
<polyline points="377.0,586.9 379.9,568.1 382.7,572.8 385.6,569.7 388.4,568.9 391.3,570.8 394.1,570.2 397.0,569.3 399.8,567.0 402.7,569.5 405.5,567.4 408.4,571.1 411.2,571.2 414.1,585.8 416.9,585.2 419.8,584.8 422.6,581.3 425.5,584.1 428.3,586.0 431.2,581.2 434.0,585.4 436.9,585.3 439.7,584.9 442.6,587.0 445.4,588.9 448.3,585.8 451.2,586.9 454.0,588.3 456.9,585.9 459.7,586.7 462.6,587.6 465.4,590.6 468.3,586.6 471.1,581.8 474.0,584.0 476.8,583.5 479.7,586.2 482.5,583.5 485.4,587.8 488.2,587.3 491.1,584.9 493.9,589.7 496.8,586.0 499.6,585.4 502.5,582.0 505.3,587.9 508.2,585.1 511.0,587.8 513.9,587.5 516.7,592.9"/>
<polyline points="377.0,577.0 379.9,569.2 382.7,562.9 385.6,567.4 388.4,571.5 391.3,568.8 394.1,568.3 397.0,564.0 399.8,570.0 402.7,566.5 405.5,565.0 408.4,569.2 411.2,566.8 414.1,588.4 416.9,583.2 419.8,589.2 422.6,584.5 425.5,579.0 428.3,582.4 431.2,583.4 434.0,583.1 436.9,577.9 439.7,582.1 442.6,580.8 445.4,584.6 448.3,584.6 451.2,586.2 454.0,583.9 456.9,585.3 459.7,580.9 462.6,581.8 465.4,583.8 468.3,584.9 471.1,591.0 474.0,585.0 476.8,582.7 479.7,581.8 482.5,591.5 485.4,589.7 488.2,583.1 491.1,586.2 493.9,584.1 496.8,584.7 499.6,582.0 502.5,588.3 505.3,585.0 508.2,581.0 511.0,583.0 513.9,585.6 516.7,582.3"/>
<polyline points="377.0,579.3 379.9,570.7 382.7,572.0 385.6,569.1 388.4,574.1 391.3,569.2 394.1,571.3 397.0,573.0 399.8,571.9 402.7,567.4 405.5,571.5 408.4,570.8 411.2,571.3 414.1,582.6 416.9,578.1 419.8,574.8 422.6,577.2 425.5,579.4 428.3,578.8 431.2,581.8 434.0,582.2 436.9,584.0 439.7,576.9 442.6,581.7 445.4,582.8 448.3,582.6 451.2,580.3 454.0,582.3 456.9,580.8 459.7,580.4 462.6,577.2 465.4,584.2 468.3,580.0 471.1,582.7 474.0,582.0 476.8,576.4 479.7,579.1 482.5,581.9 485.4,579.5 488.2,580.9 491.1,577.8 493.9,582.1 496.8,579.5 499.6,581.4 502.5,580.8 505.3,581.2 508.2,582.5 511.0,580.5 513.9,578.1 516.7,582.5"/>
<polyline points="377.0,580.4 379.9,569.8 382.7,571.9 385.6,567.7 388.4,567.9 391.3,575.1 394.1,570.9 397.0,571.7 399.8,566.9 402.7,566.4 405.5,571.5 408.4,570.0 411.2,568.4 414.1,575.3 416.9,572.3 419.8,571.5 422.6,572.7 425.5,571.2 428.3,571.7 431.2,574.7 434.0,575.8 436.9,576.7 439.7,572.0 442.6,571.8 445.4,571.4 448.3,575.5 451.2,575.6 454.0,573.7 456.9,570.7 459.7,573.4 462.6,573.8 465.4,576.9 468.3,573.1 471.1,572.9 474.0,577.3 476.8,569.2 479.7,577.2 482.5,571.7 485.4,575.1 488.2,574.0 491.1,576.8 493.9,576.2 496.8,572.4 499.6,575.0 502.5,575.5 505.3,571.8 508.2,572.3 511.0,574.0 513.9,573.8 516.7,569.3"/>
<polyline points="377.0,578.2 379.9,574.0 382.7,574.6 385.6,569.4 388.4,567.4 391.3,568.8 394.1,570.4 397.0,570.5 399.8,566.8 402.7,569.3 405.5,572.3 408.4,566.5 411.2,567.4 414.1,569.6 416.9,567.8 419.8,567.0 422.6,569.4 425.5,571.7 428.3,577.8 431.2,570.2 434.0,571.6 436.9,567.0 439.7,567.2 442.6,569.7 445.4,566.9 448.3,571.4 451.2,571.3 454.0,573.8 456.9,572.1 459.7,570.5 462.6,567.8 465.4,573.5 468.3,568.6 471.1,563.8 474.0,575.4 476.8,572.0 479.7,571.1 482.5,568.0 485.4,564.9 488.2,567.3 491.1,571.3 493.9,573.8 496.8,571.3 499.6,571.3 502.5,570.4 505.3,574.0 508.2,566.4 511.0,573.4 513.9,569.0 516.7,570.5"/>
<polyline points="377.0,579.6 379.9,571.5 382.7,568.4 385.6,571.3 388.4,563.7 391.3,567.0 394.1,571.8 397.0,575.4 399.8,566.1 402.7,568.4 405.5,568.6 408.4,571.0 411.2,571.9 414.1,590.9 416.9,580.3 419.8,582.7 422.6,588.0 425.5,582.0 428.3,591.2 431.2,584.9 434.0,584.9 436.9,588.8 439.7,587.8 442.6,589.2 445.4,586.5 448.3,583.4 451.2,584.2 454.0,585.6 456.9,583.9 459.7,591.0 462.6,581.7 465.4,586.8 468.3,589.9 471.1,587.6 474.0,588.2 476.8,586.4 479.7,585.9 482.5,592.4 485.4,583.5 488.2,582.4 491.1,589.2 493.9,583.0 496.8,583.5 499.6,584.1 502.5,582.6 505.3,590.1 508.2,584.9 511.0,589.1 513.9,580.8 516.7,589.1"/>
<polyline points="377.0,576.8 379.9,569.6 382.7,568.6 385.6,567.2 388.4,564.3 391.3,570.1 394.1,569.5 397.0,569.4 399.8,568.0 402.7,567.6 405.5,570.6 408.4,566.5 411.2,570.2 414.1,571.5 416.9,571.8 419.8,571.8 422.6,566.3 425.5,565.8 428.3,567.6 431.2,566.0 434.0,572.0 436.9,566.6 439.7,571.2 442.6,570.3 445.4,570.2 448.3,575.3 451.2,573.0 454.0,571.6 456.9,569.9 459.7,571.4 462.6,573.8 465.4,574.7 468.3,571.0 471.1,574.8 474.0,574.8 476.8,571.4 479.7,570.5 482.5,573.7 485.4,576.7 488.2,570.1 491.1,568.4 493.9,572.3 496.8,572.2 499.6,578.5 502.5,568.2 505.3,574.5 508.2,568.8 511.0,572.9 513.9,571.5 516.7,571.6"/>
<polyline points="377.0,580.0 379.9,567.2 382.7,568.8 385.6,567.1 388.4,562.9 391.3,570.8 394.1,566.3 397.0,564.6 399.8,565.3 402.7,564.4 405.5,567.1 408.4,569.1 411.2,568.1 414.1,537.7 416.9,532.9 419.8,536.1 422.6,528.9 425.5,536.0 428.3,535.6 431.2,535.5 434.0,544.7 436.9,533.8 439.7,541.8 442.6,538.3 445.4,525.4 448.3,542.4 451.2,535.9 454.0,535.1 456.9,535.9 459.7,536.5 462.6,539.1 465.4,527.0 468.3,546.0 471.1,541.4 474.0,529.5 476.8,533.9 479.7,540.1 482.5,540.8 485.4,537.7 488.2,524.0 491.1,534.2 493.9,541.4 496.8,535.4 499.6,539.5 502.5,529.4 505.3,535.1 508.2,530.5 511.0,535.7 513.9,526.8 516.7,534.5"/>
<polyline points="377.0,582.2 379.9,571.6 382.7,573.1 385.6,565.5 388.4,571.5 391.3,573.1 394.1,568.6 397.0,572.2 399.8,569.7 402.7,570.7 405.5,572.1 408.4,566.7 411.2,569.7 414.1,578.2 416.9,582.3 419.8,585.3 422.6,584.8 425.5,582.8 428.3,581.9 431.2,581.3 434.0,580.0 436.9,584.8 439.7,580.8 442.6,584.7 445.4,583.3 448.3,574.4 451.2,577.9 454.0,582.4 456.9,576.5 459.7,577.5 462.6,579.0 465.4,577.4 468.3,582.1 471.1,581.7 474.0,583.7 476.8,579.8 479.7,584.8 482.5,582.8 485.4,580.2 488.2,582.8 491.1,580.5 493.9,576.4 496.8,584.1 499.6,577.6 502.5,583.3 505.3,584.0 508.2,580.8 511.0,578.6 513.9,583.4 516.7,583.4"/>
<polyline points="377.0,580.3 379.9,573.9 382.7,572.1 385.6,570.3 388.4,572.1 391.3,568.0 394.1,572.3 397.0,572.4 399.8,565.2 402.7,566.4 405.5,569.7 408.4,567.7 411.2,568.7 414.1,577.4 416.9,574.3 419.8,575.4 422.6,572.5 425.5,581.8 428.3,573.9 431.2,575.8 434.0,578.3 436.9,577.6 439.7,577.5 442.6,580.2 445.4,578.0 448.3,574.0 451.2,580.8 454.0,577.4 456.9,583.3 459.7,578.0 462.6,575.2 465.4,576.5 468.3,576.2 471.1,579.6 474.0,574.6 476.8,579.0 479.7,573.6 482.5,575.7 485.4,577.5 488.2,571.9 491.1,577.5 493.9,573.3 496.8,576.0 499.6,576.3 502.5,573.4 505.3,575.0 508.2,576.3 511.0,576.7 513.9,575.7 516.7,576.1"/>
<polyline points="377.0,587.6 379.9,572.8 382.7,572.5 385.6,568.6 388.4,570.3 391.3,568.4 394.1,566.8 397.0,571.2 399.8,572.8 402.7,568.5 405.5,571.8 408.4,570.8 411.2,566.4 414.1,564.2 416.9,562.7 419.8,571.1 422.6,566.4 425.5,562.7 428.3,570.9 431.2,565.9 434.0,565.2 436.9,574.4 439.7,561.1 442.6,569.0 445.4,567.0 448.3,560.8 451.2,572.6 454.0,565.0 456.9,568.0 459.7,566.4 462.6,569.3 465.4,561.9 468.3,570.3 471.1,565.3 474.0,564.7 476.8,566.8 479.7,567.5 482.5,567.4 485.4,563.1 488.2,565.0 491.1,566.8 493.9,570.2 496.8,566.0 499.6,564.7 502.5,566.6 505.3,561.6 508.2,573.0 511.0,558.1 513.9,567.1 516.7,570.4"/>
<polyline points="377.0,577.2 379.9,570.5 382.7,569.4 385.6,568.6 388.4,569.9 391.3,565.8 394.1,567.0 397.0,568.6 399.8,572.2 402.7,564.5 405.5,568.9 408.4,570.1 411.2,564.2 414.1,556.1 416.9,566.0 419.8,564.8 422.6,560.0 425.5,563.3 428.3,559.1 431.2,548.7 434.0,547.3 436.9,558.7 439.7,555.5 442.6,555.2 445.4,559.0 448.3,564.1 451.2,554.5 454.0,559.2 456.9,556.8 459.7,555.9 462.6,561.6 465.4,552.2 468.3,558.2 471.1,557.7 474.0,560.2 476.8,555.9 479.7,554.7 482.5,560.6 485.4,556.3 488.2,560.2 491.1,563.2 493.9,559.8 496.8,556.2 499.6,556.4 502.5,554.5 505.3,561.1 508.2,559.7 511.0,558.2 513.9,556.2 516.7,559.0"/>
<polyline points="377.0,578.9 379.9,570.5 382.7,574.2 385.6,568.6 388.4,572.3 391.3,570.8 394.1,568.6 397.0,572.7 399.8,573.3 402.7,575.5 405.5,570.2 408.4,569.7 411.2,568.5 414.1,579.0 416.9,580.7 419.8,577.8 422.6,583.8 425.5,579.9 428.3,579.6 431.2,581.3 434.0,576.3 436.9,579.8 439.7,577.3 442.6,578.5 445.4,581.5 448.3,575.7 451.2,577.9 454.0,581.0 456.9,581.3 459.7,583.9 462.6,581.4 465.4,581.7 468.3,580.4 471.1,582.2 474.0,579.4 476.8,581.2 479.7,585.4 482.5,582.4 485.4,583.5 488.2,584.5 491.1,581.7 493.9,578.5 496.8,584.1 499.6,586.5 502.5,581.4 505.3,572.8 508.2,582.6 511.0,580.3 513.9,582.1 516.7,578.6"/>
<polyline points="377.0,577.0 379.9,574.0 382.7,570.1 385.6,573.5 388.4,569.7 391.3,571.5 394.1,569.2 397.0,572.4 399.8,568.9 402.7,569.0 405.5,570.5 408.4,570.9 411.2,571.6 414.1,583.9 416.9,582.1 419.8,583.5 422.6,582.7 425.5,579.8 428.3,584.0 431.2,582.4 434.0,581.0 436.9,581.8 439.7,582.1 442.6,582.9 445.4,578.0 448.3,583.4 451.2,584.2 454.0,581.6 456.9,578.8 459.7,579.4 462.6,583.1 465.4,580.9 468.3,581.8 471.1,583.0 474.0,581.4 476.8,581.5 479.7,582.8 482.5,578.6 485.4,584.2 488.2,579.5 491.1,577.6 493.9,577.5 496.8,582.4 499.6,583.6 502.5,587.4 505.3,583.3 508.2,576.7 511.0,587.3 513.9,587.3 516.7,580.9"/>
<polyline points="377.0,582.3 379.9,572.7 382.7,576.6 385.6,570.2 388.4,575.7 391.3,569.4 394.1,571.6 397.0,573.6 399.8,575.7 402.7,572.3 405.5,571.5 408.4,571.4 411.2,572.4 414.1,583.8 416.9,581.1 419.8,585.9 422.6,584.0 425.5,582.3 428.3,583.5 431.2,581.2 434.0,579.4 436.9,584.4 439.7,582.9 442.6,591.2 445.4,584.4 448.3,581.7 451.2,586.4 454.0,580.0 456.9,588.5 459.7,579.9 462.6,584.8 465.4,586.2 468.3,584.8 471.1,584.2 474.0,586.2 476.8,587.1 479.7,584.9 482.5,581.0 485.4,582.4 488.2,579.9 491.1,585.1 493.9,584.4 496.8,584.4 499.6,583.1 502.5,582.3 505.3,578.9 508.2,581.6 511.0,583.1 513.9,579.9 516.7,585.6"/>
<polyline points="377.0,578.4 379.9,569.9 382.7,567.2 385.6,570.1 388.4,569.4 391.3,568.0 394.1,567.1 397.0,566.1 399.8,568.1 402.7,567.5 405.5,574.0 408.4,564.8 411.2,571.5 414.1,559.8 416.9,550.9 419.8,561.5 422.6,566.2 425.5,554.4 428.3,562.4 431.2,561.0 434.0,561.0 436.9,557.6 439.7,557.5 442.6,560.8 445.4,556.3 448.3,563.7 451.2,557.9 454.0,562.7 456.9,557.8 459.7,562.8 462.6,562.0 465.4,554.9 468.3,564.5 471.1,564.7 474.0,558.3 476.8,561.4 479.7,561.9 482.5,560.9 485.4,552.6 488.2,564.2 491.1,561.4 493.9,559.8 496.8,563.8 499.6,560.5 502.5,558.6 505.3,563.7 508.2,556.3 511.0,564.6 513.9,560.9 516.7,559.1"/>
<polyline points="377.0,581.5 379.9,567.2 382.7,574.3 385.6,569.9 388.4,571.9 391.3,575.8 394.1,571.1 397.0,574.1 399.8,571.4 402.7,575.2 405.5,569.5 408.4,577.1 411.2,571.3 414.1,558.3 416.9,561.6 419.8,564.7 422.6,564.3 425.5,565.0 428.3,553.9 431.2,563.7 434.0,563.6 436.9,566.1 439.7,565.2 442.6,561.4 445.4,565.7 448.3,566.4 451.2,565.5 454.0,564.8 456.9,562.9 459.7,565.2 462.6,564.2 465.4,566.2 468.3,559.2 471.1,563.2 474.0,564.6 476.8,562.5 479.7,563.7 482.5,569.1 485.4,564.2 488.2,557.7 491.1,561.7 493.9,559.4 496.8,565.9 499.6,568.8 502.5,566.0 505.3,558.8 508.2,567.1 511.0,566.3 513.9,559.6 516.7,564.4"/>
<polyline points="377.0,579.1 379.9,571.4 382.7,569.3 385.6,571.5 388.4,569.7 391.3,567.7 394.1,571.8 397.0,569.5 399.8,571.6 402.7,566.8 405.5,566.9 408.4,565.9 411.2,565.5 414.1,586.7 416.9,587.6 419.8,591.2 422.6,587.2 425.5,591.5 428.3,583.9 431.2,588.7 434.0,588.0 436.9,592.3 439.7,586.8 442.6,586.6 445.4,593.1 448.3,590.7 451.2,590.5 454.0,590.9 456.9,586.1 459.7,584.2 462.6,591.9 465.4,586.9 468.3,590.0 471.1,586.1 474.0,595.2 476.8,590.4 479.7,586.5 482.5,591.2 485.4,586.6 488.2,590.6 491.1,586.7 493.9,588.0 496.8,590.4 499.6,591.2 502.5,589.8 505.3,586.6 508.2,589.4 511.0,591.0 513.9,581.5 516.7,593.1"/>
<polyline points="377.0,581.7 379.9,570.5 382.7,570.8 385.6,573.2 388.4,568.2 391.3,572.0 394.1,570.8 397.0,565.7 399.8,571.4 402.7,566.9 405.5,565.3 408.4,565.6 411.2,566.7 414.1,589.8 416.9,592.7 419.8,589.0 422.6,588.3 425.5,590.6 428.3,591.7 431.2,587.3 434.0,591.9 436.9,588.3 439.7,590.5 442.6,593.4 445.4,585.6 448.3,587.9 451.2,588.1 454.0,592.8 456.9,589.7 459.7,588.7 462.6,591.2 465.4,585.5 468.3,594.2 471.1,587.7 474.0,593.9 476.8,593.1 479.7,592.5 482.5,588.1 485.4,591.1 488.2,591.0 491.1,591.6 493.9,593.0 496.8,591.6 499.6,591.8 502.5,590.2 505.3,590.4 508.2,595.2 511.0,591.0 513.9,586.6 516.7,590.6"/>
<polyline points="377.0,582.7 379.9,572.5 382.7,575.0 385.6,571.9 388.4,575.4 391.3,570.3 394.1,574.8 397.0,569.1 399.8,568.0 402.7,574.4 405.5,568.5 408.4,571.0 411.2,566.9 414.1,586.3 416.9,585.9 419.8,586.0 422.6,582.0 425.5,590.2 428.3,583.3 431.2,585.0 434.0,586.5 436.9,585.9 439.7,582.9 442.6,583.2 445.4,580.9 448.3,586.9 451.2,590.1 454.0,586.7 456.9,585.8 459.7,586.4 462.6,582.2 465.4,579.4 468.3,584.3 471.1,589.9 474.0,582.6 476.8,586.9 479.7,585.2 482.5,583.1 485.4,584.3 488.2,585.5 491.1,584.6 493.9,583.3 496.8,583.7 499.6,580.0 502.5,593.0 505.3,587.3 508.2,586.8 511.0,583.2 513.9,584.7 516.7,583.1"/>
<polyline points="377.0,578.9 379.9,572.0 382.7,572.2 385.6,570.3 388.4,566.7 391.3,575.8 394.1,566.5 397.0,569.5 399.8,572.1 402.7,568.2 405.5,569.5 408.4,566.5 411.2,571.3 414.1,545.2 416.9,553.7 419.8,548.7 422.6,547.1 425.5,550.3 428.3,547.3 431.2,552.5 434.0,545.6 436.9,552.1 439.7,552.9 442.6,550.5 445.4,550.2 448.3,553.5 451.2,546.7 454.0,550.5 456.9,547.5 459.7,556.2 462.6,555.5 465.4,551.1 468.3,554.1 471.1,550.6 474.0,547.7 476.8,545.4 479.7,543.9 482.5,546.7 485.4,552.9 488.2,547.7 491.1,552.2 493.9,547.7 496.8,554.4 499.6,544.4 502.5,548.3 505.3,551.2 508.2,555.7 511.0,548.8 513.9,552.2 516.7,548.9"/>
<polyline points="377.0,579.4 379.9,568.6 382.7,574.7 385.6,571.9 388.4,570.2 391.3,571.4 394.1,571.9 397.0,565.3 399.8,572.5 402.7,569.4 405.5,571.3 408.4,570.1 411.2,575.3 414.1,532.3 416.9,538.3 419.8,542.0 422.6,529.6 425.5,538.8 428.3,540.4 431.2,541.5 434.0,532.4 436.9,537.3 439.7,538.9 442.6,543.7 445.4,541.7 448.3,535.8 451.2,537.6 454.0,547.0 456.9,541.6 459.7,536.4 462.6,524.8 465.4,541.0 468.3,548.0 471.1,533.8 474.0,539.7 476.8,543.7 479.7,534.8 482.5,538.6 485.4,542.0 488.2,543.7 491.1,538.0 493.9,537.1 496.8,545.9 499.6,532.8 502.5,543.5 505.3,530.8 508.2,535.9 511.0,538.3 513.9,535.9 516.7,540.3"/>
<polyline points="377.0,579.4 379.9,567.3 382.7,570.9 385.6,568.5 388.4,565.8 391.3,571.0 394.1,567.0 397.0,573.0 399.8,570.3 402.7,568.3 405.5,564.9 408.4,565.1 411.2,569.0 414.1,574.0 416.9,573.2 419.8,578.7 422.6,572.5 425.5,569.7 428.3,570.0 431.2,575.7 434.0,575.1 436.9,576.7 439.7,575.4 442.6,574.6 445.4,571.7 448.3,573.6 451.2,576.7 454.0,571.3 456.9,571.1 459.7,575.7 462.6,574.6 465.4,574.2 468.3,578.9 471.1,573.4 474.0,571.8 476.8,567.8 479.7,573.3 482.5,574.7 485.4,574.3 488.2,572.0 491.1,571.4 493.9,576.5 496.8,573.3 499.6,571.8 502.5,580.0 505.3,569.6 508.2,574.5 511.0,571.2 513.9,574.0 516.7,574.6"/>
<polyline points="377.0,577.6 379.9,571.8 382.7,573.2 385.6,572.0 388.4,572.5 391.3,568.0 394.1,572.0 397.0,565.7 399.8,569.0 402.7,569.3 405.5,565.7 408.4,569.6 411.2,569.3 414.1,543.0 416.9,543.9 419.8,551.4 422.6,536.6 425.5,544.7 428.3,552.5 431.2,547.9 434.0,543.2 436.9,546.2 439.7,543.5 442.6,537.0 445.4,543.2 448.3,538.5 451.2,544.2 454.0,550.0 456.9,540.7 459.7,550.1 462.6,543.0 465.4,544.3 468.3,550.7 471.1,550.1 474.0,547.9 476.8,545.4 479.7,541.4 482.5,546.7 485.4,538.9 488.2,543.3 491.1,549.8 493.9,549.7 496.8,546.7 499.6,549.2 502.5,547.4 505.3,543.7 508.2,545.9 511.0,542.8 513.9,549.9 516.7,550.7"/>
<polyline points="377.0,583.5 379.9,573.5 382.7,573.5 385.6,572.8 388.4,567.6 391.3,575.1 394.1,572.9 397.0,573.3 399.8,574.1 402.7,568.3 405.5,571.6 408.4,568.2 411.2,573.9 414.1,566.3 416.9,565.5 419.8,575.3 422.6,572.6 425.5,573.0 428.3,570.9 431.2,576.7 434.0,571.1 436.9,570.3 439.7,574.5 442.6,579.7 445.4,574.7 448.3,573.8 451.2,570.2 454.0,574.5 456.9,576.2 459.7,570.7 462.6,571.4 465.4,570.3 468.3,572.5 471.1,569.3 474.0,571.0 476.8,578.2 479.7,572.0 482.5,570.2 485.4,572.5 488.2,568.0 491.1,574.0 493.9,570.4 496.8,576.4 499.6,572.6 502.5,574.3 505.3,575.7 508.2,576.7 511.0,571.9 513.9,571.2 516.7,574.6"/>
<polyline points="377.0,579.2 379.9,575.4 382.7,568.9 385.6,575.6 388.4,570.6 391.3,569.5 394.1,567.9 397.0,571.8 399.8,572.5 402.7,573.9 405.5,567.9 408.4,570.3 411.2,570.9 414.1,554.5 416.9,552.3 419.8,553.3 422.6,548.7 425.5,562.0 428.3,550.0 431.2,555.5 434.0,553.7 436.9,554.7 439.7,553.7 442.6,550.4 445.4,552.5 448.3,559.2 451.2,553.7 454.0,553.8 456.9,551.9 459.7,553.2 462.6,553.7 465.4,549.3 468.3,557.7 471.1,544.7 474.0,555.6 476.8,557.5 479.7,550.3 482.5,549.1 485.4,548.4 488.2,547.6 491.1,551.5 493.9,553.1 496.8,551.9 499.6,553.4 502.5,555.5 505.3,547.0 508.2,546.1 511.0,553.3 513.9,554.3 516.7,555.3"/>
<polyline points="377.0,582.0 379.9,572.1 382.7,573.9 385.6,575.9 388.4,569.4 391.3,566.5 394.1,575.9 397.0,570.8 399.8,568.1 402.7,572.9 405.5,573.4 408.4,569.6 411.2,570.1 414.1,564.5 416.9,557.0 419.8,557.6 422.6,560.6 425.5,563.2 428.3,564.1 431.2,559.8 434.0,563.8 436.9,557.6 439.7,558.5 442.6,565.1 445.4,560.2 448.3,557.3 451.2,560.6 454.0,566.3 456.9,563.8 459.7,564.1 462.6,562.4 465.4,562.8 468.3,564.1 471.1,559.8 474.0,558.0 476.8,564.8 479.7,568.1 482.5,561.5 485.4,562.8 488.2,561.3 491.1,565.2 493.9,561.8 496.8,566.0 499.6,558.9 502.5,556.8 505.3,566.1 508.2,572.0 511.0,564.5 513.9,564.6 516.7,562.1"/>
<polyline points="377.0,572.2 379.9,571.6 382.7,570.5 385.6,568.3 388.4,573.7 391.3,567.0 394.1,570.3 397.0,572.1 399.8,570.5 402.7,567.0 405.5,565.9 408.4,564.7 411.2,566.5 414.1,556.1 416.9,551.8 419.8,554.4 422.6,544.9 425.5,562.2 428.3,547.7 431.2,551.0 434.0,552.5 436.9,554.4 439.7,556.3 442.6,557.9 445.4,560.2 448.3,546.0 451.2,550.3 454.0,551.4 456.9,552.6 459.7,561.6 462.6,555.1 465.4,553.5 468.3,549.4 471.1,558.0 474.0,552.9 476.8,554.9 479.7,553.9 482.5,557.1 485.4,552.6 488.2,553.7 491.1,561.4 493.9,549.2 496.8,545.3 499.6,557.4 502.5,549.4 505.3,557.8 508.2,556.1 511.0,547.0 513.9,553.2 516.7,548.0"/>
<polyline points="377.0,578.4 379.9,565.8 382.7,564.2 385.6,566.8 388.4,569.7 391.3,569.0 394.1,570.2 397.0,566.2 399.8,566.2 402.7,569.0 405.5,564.8 408.4,568.4 411.2,562.2 414.1,541.3 416.9,538.8 419.8,548.8 422.6,550.0 425.5,553.6 428.3,542.9 431.2,550.6 434.0,539.9 436.9,545.1 439.7,542.4 442.6,551.2 445.4,548.3 448.3,544.9 451.2,542.5 454.0,551.2 456.9,544.2 459.7,549.3 462.6,542.2 465.4,546.7 468.3,547.0 471.1,543.8 474.0,540.7 476.8,546.7 479.7,540.4 482.5,550.0 485.4,544.5 488.2,550.5 491.1,544.8 493.9,549.6 496.8,545.5 499.6,543.0 502.5,549.8 505.3,553.2 508.2,546.4 511.0,543.5 513.9,544.7 516.7,549.6"/>
<polyline points="377.0,577.8 379.9,573.2 382.7,569.2 385.6,567.2 388.4,571.6 391.3,570.5 394.1,568.0 397.0,568.1 399.8,568.3 402.7,569.3 405.5,572.7 408.4,568.6 411.2,571.6 414.1,568.2 416.9,576.3 419.8,564.1 422.6,562.5 425.5,567.3 428.3,571.5 431.2,569.7 434.0,565.9 436.9,566.6 439.7,571.0 442.6,564.8 445.4,566.4 448.3,567.0 451.2,569.9 454.0,568.8 456.9,571.1 459.7,568.2 462.6,570.9 465.4,565.0 468.3,568.6 471.1,568.1 474.0,567.7 476.8,567.7 479.7,573.4 482.5,564.6 485.4,568.5 488.2,570.6 491.1,571.9 493.9,571.0 496.8,570.8 499.6,568.7 502.5,571.6 505.3,568.4 508.2,568.3 511.0,571.0 513.9,561.6 516.7,569.2"/>
<polyline points="377.0,579.6 379.9,568.9 382.7,566.5 385.6,569.9 388.4,571.6 391.3,568.0 394.1,574.4 397.0,568.5 399.8,569.2 402.7,567.8 405.5,572.1 408.4,569.3 411.2,570.5 414.1,565.7 416.9,562.4 419.8,565.2 422.6,566.6 425.5,560.5 428.3,564.5 431.2,571.5 434.0,568.2 436.9,563.2 439.7,563.1 442.6,563.8 445.4,563.7 448.3,567.7 451.2,564.9 454.0,568.7 456.9,567.5 459.7,567.8 462.6,567.5 465.4,565.8 468.3,565.4 471.1,567.4 474.0,561.0 476.8,566.3 479.7,559.4 482.5,561.3 485.4,568.9 488.2,561.7 491.1,569.5 493.9,559.8 496.8,563.6 499.6,568.2 502.5,572.3 505.3,566.1 508.2,569.4 511.0,561.0 513.9,569.1 516.7,565.6"/>
<polyline points="377.0,579.1 379.9,571.7 382.7,568.6 385.6,572.5 388.4,568.6 391.3,572.8 394.1,569.2 397.0,572.2 399.8,569.8 402.7,567.7 405.5,565.9 408.4,573.1 411.2,570.4 414.1,575.1 416.9,568.5 419.8,575.0 422.6,570.2 425.5,573.9 428.3,576.8 431.2,572.0 434.0,575.9 436.9,570.1 439.7,569.8 442.6,568.2 445.4,575.5 448.3,567.5 451.2,569.4 454.0,577.9 456.9,565.5 459.7,567.1 462.6,575.6 465.4,571.3 468.3,576.5 471.1,572.8 474.0,571.8 476.8,570.4 479.7,574.9 482.5,572.4 485.4,575.2 488.2,571.2 491.1,570.3 493.9,572.1 496.8,568.8 499.6,570.0 502.5,571.2 505.3,568.8 508.2,576.2 511.0,572.5 513.9,577.8 516.7,572.4"/>
<polyline points="377.0,579.8 379.9,571.7 382.7,569.6 385.6,569.5 388.4,567.7 391.3,571.0 394.1,572.3 397.0,572.3 399.8,565.4 402.7,571.2 405.5,569.0 408.4,570.4 411.2,565.3 414.1,561.8 416.9,556.0 419.8,563.1 422.6,559.5 425.5,557.8 428.3,557.0 431.2,564.9 434.0,561.9 436.9,560.8 439.7,567.2 442.6,557.9 445.4,559.1 448.3,558.7 451.2,565.6 454.0,559.9 456.9,558.9 459.7,556.8 462.6,562.4 465.4,558.1 468.3,553.4 471.1,562.1 474.0,562.0 476.8,561.7 479.7,565.9 482.5,561.8 485.4,554.6 488.2,563.9 491.1,561.2 493.9,556.2 496.8,558.5 499.6,559.7 502.5,561.7 505.3,560.9 508.2,560.5 511.0,558.0 513.9,560.2 516.7,557.1"/>
<polyline points="377.0,580.0 379.9,570.0 382.7,570.4 385.6,567.6 388.4,569.3 391.3,567.3 394.1,570.6 397.0,567.9 399.8,565.2 402.7,565.3 405.5,568.7 408.4,567.3 411.2,568.4 414.1,573.7 416.9,573.6 419.8,570.0 422.6,571.9 425.5,569.3 428.3,569.1 431.2,577.6 434.0,572.8 436.9,575.1 439.7,578.6 442.6,577.0 445.4,575.2 448.3,568.6 451.2,573.4 454.0,574.3 456.9,573.8 459.7,576.0 462.6,573.2 465.4,574.0 468.3,578.6 471.1,575.3 474.0,563.5 476.8,571.8 479.7,574.0 482.5,571.7 485.4,576.6 488.2,573.4 491.1,571.1 493.9,578.6 496.8,575.9 499.6,574.9 502.5,574.6 505.3,575.2 508.2,572.9 511.0,570.6 513.9,572.7 516.7,570.6"/>
<polyline points="377.0,579.9 379.9,572.8 382.7,569.6 385.6,571.9 388.4,571.3 391.3,566.5 394.1,570.9 397.0,574.0 399.8,569.8 402.7,569.2 405.5,570.9 408.4,569.3 411.2,566.8 414.1,576.8 416.9,576.3 419.8,577.9 422.6,574.8 425.5,576.2 428.3,578.5 431.2,576.3 434.0,570.5 436.9,580.8 439.7,579.8 442.6,574.8 445.4,579.8 448.3,570.1 451.2,580.1 454.0,579.6 456.9,577.3 459.7,572.7 462.6,573.5 465.4,574.1 468.3,574.9 471.1,572.0 474.0,581.1 476.8,575.0 479.7,571.6 482.5,578.9 485.4,574.9 488.2,572.2 491.1,572.2 493.9,576.2 496.8,570.4 499.6,574.3 502.5,572.7 505.3,578.9 508.2,578.0 511.0,578.0 513.9,570.7 516.7,582.6"/>
<polyline points="377.0,578.4 379.9,577.2 382.7,570.3 385.6,569.9 388.4,566.0 391.3,573.4 394.1,569.9 397.0,565.8 399.8,566.4 402.7,570.2 405.5,568.5 408.4,571.2 411.2,564.2 414.1,547.9 416.9,541.8 419.8,543.9 422.6,550.9 425.5,547.8 428.3,544.6 431.2,545.4 434.0,540.9 436.9,542.6 439.7,545.9 442.6,544.4 445.4,550.2 448.3,549.7 451.2,544.7 454.0,545.8 456.9,551.8 459.7,547.5 462.6,550.5 465.4,549.5 468.3,541.9 471.1,551.1 474.0,549.9 476.8,544.9 479.7,546.9 482.5,546.5 485.4,553.2 488.2,547.3 491.1,548.7 493.9,550.5 496.8,549.5 499.6,548.4 502.5,543.7 505.3,539.4 508.2,546.7 511.0,541.1 513.9,546.7 516.7,553.3"/>
<polyline points="377.0,574.7 379.9,571.5 382.7,563.3 385.6,570.2 388.4,570.0 391.3,569.3 394.1,564.4 397.0,566.7 399.8,565.3 402.7,572.6 405.5,567.3 408.4,567.2 411.2,565.1 414.1,549.3 416.9,543.3 419.8,551.1 422.6,554.0 425.5,555.0 428.3,543.2 431.2,545.2 434.0,551.5 436.9,543.8 439.7,549.0 442.6,548.8 445.4,554.3 448.3,550.5 451.2,547.9 454.0,547.5 456.9,550.6 459.7,544.2 462.6,542.4 465.4,551.6 468.3,546.7 471.1,554.5 474.0,546.6 476.8,552.2 479.7,548.9 482.5,547.6 485.4,549.3 488.2,544.0 491.1,551.4 493.9,550.2 496.8,547.0 499.6,548.4 502.5,547.2 505.3,549.1 508.2,551.6 511.0,545.6 513.9,548.0 516.7,544.6"/>
<polyline points="377.0,581.8 379.9,572.5 382.7,572.3 385.6,575.3 388.4,566.4 391.3,569.2 394.1,564.4 397.0,571.1 399.8,568.2 402.7,568.7 405.5,569.4 408.4,566.7 411.2,568.8 414.1,575.4 416.9,575.1 419.8,582.1 422.6,577.7 425.5,577.8 428.3,570.9 431.2,574.0 434.0,573.4 436.9,573.9 439.7,576.2 442.6,570.9 445.4,576.3 448.3,579.7 451.2,573.9 454.0,572.3 456.9,575.4 459.7,574.6 462.6,572.9 465.4,571.3 468.3,574.0 471.1,570.8 474.0,574.8 476.8,569.6 479.7,579.6 482.5,572.9 485.4,574.8 488.2,575.3 491.1,579.3 493.9,572.6 496.8,576.2 499.6,578.5 502.5,577.5 505.3,576.3 508.2,575.4 511.0,578.2 513.9,578.3 516.7,574.5"/>
<polyline points="377.0,578.0 379.9,566.6 382.7,563.5 385.6,567.9 388.4,564.9 391.3,566.4 394.1,566.8 397.0,562.9 399.8,568.9 402.7,567.8 405.5,570.4 408.4,566.2 411.2,563.4 414.1,550.8 416.9,547.0 419.8,553.3 422.6,545.7 425.5,550.7 428.3,552.2 431.2,543.8 434.0,550.3 436.9,548.0 439.7,549.8 442.6,547.5 445.4,549.8 448.3,555.0 451.2,549.2 454.0,548.4 456.9,548.7 459.7,551.2 462.6,543.1 465.4,553.2 468.3,549.8 471.1,549.4 474.0,554.6 476.8,555.0 479.7,547.7 482.5,547.6 485.4,549.7 488.2,556.6 491.1,551.4 493.9,549.3 496.8,547.8 499.6,545.6 502.5,548.5 505.3,546.5 508.2,543.7 511.0,559.5 513.9,546.4 516.7,552.0"/>
<polyline points="377.0,581.7 379.9,572.8 382.7,568.9 385.6,570.2 388.4,567.8 391.3,570.3 394.1,564.1 397.0,569.6 399.8,563.9 402.7,570.4 405.5,567.1 408.4,565.6 411.2,571.2 414.1,552.3 416.9,547.7 419.8,544.8 422.6,544.0 425.5,547.2 428.3,545.3 431.2,554.1 434.0,551.1 436.9,543.7 439.7,551.6 442.6,550.4 445.4,556.4 448.3,550.2 451.2,555.8 454.0,548.0 456.9,543.6 459.7,548.2 462.6,548.8 465.4,551.0 468.3,547.3 471.1,553.9 474.0,551.3 476.8,540.9 479.7,554.7 482.5,551.7 485.4,555.0 488.2,544.6 491.1,550.4 493.9,554.5 496.8,554.5 499.6,545.1 502.5,546.8 505.3,546.3 508.2,549.7 511.0,545.9 513.9,544.3 516.7,546.8"/>
<polyline points="377.0,585.7 379.9,572.9 382.7,576.4 385.6,575.2 388.4,572.4 391.3,574.4 394.1,575.1 397.0,569.6 399.8,570.6 402.7,569.7 405.5,569.2 408.4,567.8 411.2,571.1 414.1,562.8 416.9,568.9 419.8,563.8 422.6,565.0 425.5,559.4 428.3,560.7 431.2,558.0 434.0,559.3 436.9,559.0 439.7,561.2 442.6,562.6 445.4,564.3 448.3,563.1 451.2,566.3 454.0,561.7 456.9,563.3 459.7,570.0 462.6,572.3 465.4,565.5 468.3,564.7 471.1,564.1 474.0,558.7 476.8,565.2 479.7,567.4 482.5,561.8 485.4,559.7 488.2,557.5 491.1,566.5 493.9,563.9 496.8,564.5 499.6,557.9 502.5,560.7 505.3,563.0 508.2,560.6 511.0,564.3 513.9,563.8 516.7,563.2"/>
<polyline points="377.0,579.3 379.9,570.9 382.7,567.3 385.6,568.6 388.4,570.6 391.3,575.4 394.1,573.6 397.0,571.1 399.8,570.6 402.7,572.6 405.5,570.2 408.4,568.8 411.2,570.4 414.1,565.1 416.9,565.4 419.8,567.5 422.6,568.0 425.5,565.6 428.3,564.3 431.2,568.6 434.0,571.9 436.9,568.3 439.7,563.5 442.6,570.5 445.4,562.1 448.3,567.1 451.2,564.7 454.0,567.7 456.9,563.2 459.7,565.0 462.6,564.0 465.4,571.6 468.3,562.8 471.1,570.7 474.0,566.3 476.8,563.5 479.7,565.8 482.5,563.5 485.4,564.6 488.2,564.9 491.1,567.9 493.9,561.9 496.8,561.5 499.6,567.0 502.5,568.1 505.3,564.5 508.2,567.7 511.0,564.7 513.9,562.5 516.7,563.0"/>
<polyline points="377.0,581.8 379.9,572.7 382.7,568.8 385.6,565.3 388.4,570.4 391.3,571.6 394.1,566.0 397.0,569.3 399.8,567.2 402.7,566.1 405.5,570.8 408.4,569.1 411.2,569.4 414.1,565.8 416.9,565.7 419.8,569.4 422.6,566.1 425.5,573.5 428.3,566.7 431.2,566.7 434.0,567.8 436.9,572.4 439.7,568.1 442.6,571.2 445.4,563.2 448.3,568.7 451.2,568.5 454.0,568.2 456.9,566.1 459.7,567.6 462.6,566.1 465.4,570.7 468.3,564.3 471.1,569.4 474.0,565.4 476.8,567.1 479.7,564.4 482.5,568.1 485.4,572.5 488.2,571.4 491.1,568.5 493.9,563.5 496.8,569.1 499.6,567.6 502.5,563.9 505.3,569.6 508.2,566.9 511.0,566.9 513.9,569.7 516.7,567.1"/>
<polyline points="377.0,579.4 379.9,563.2 382.7,568.5 385.6,569.7 388.4,570.6 391.3,571.0 394.1,566.6 397.0,575.0 399.8,568.5 402.7,571.1 405.5,568.1 408.4,567.6 411.2,570.4 414.1,555.8 416.9,547.9 419.8,554.8 422.6,552.8 425.5,553.9 428.3,549.6 431.2,548.1 434.0,549.3 436.9,550.7 439.7,550.6 442.6,557.2 445.4,547.8 448.3,554.9 451.2,556.1 454.0,554.2 456.9,555.7 459.7,551.2 462.6,550.0 465.4,547.9 468.3,553.1 471.1,555.0 474.0,553.8 476.8,557.2 479.7,555.5 482.5,545.2 485.4,555.7 488.2,554.5 491.1,550.4 493.9,551.8 496.8,549.8 499.6,556.0 502.5,556.8 505.3,547.8 508.2,555.3 511.0,553.1 513.9,551.9 516.7,559.7"/>
<polyline points="377.0,579.6 379.9,572.8 382.7,576.7 385.6,569.4 388.4,577.0 391.3,571.8 394.1,572.3 397.0,571.9 399.8,570.3 402.7,567.9 405.5,571.9 408.4,571.1 411.2,567.8 414.1,569.7 416.9,569.5 419.8,570.7 422.6,572.4 425.5,573.2 428.3,573.1 431.2,569.0 434.0,567.3 436.9,565.8 439.7,574.8 442.6,572.4 445.4,571.7 448.3,572.2 451.2,575.1 454.0,565.2 456.9,567.2 459.7,572.2 462.6,573.1 465.4,571.7 468.3,575.3 471.1,572.7 474.0,569.4 476.8,566.8 479.7,569.1 482.5,567.8 485.4,574.9 488.2,581.4 491.1,567.6 493.9,571.2 496.8,572.0 499.6,566.7 502.5,574.6 505.3,574.6 508.2,573.9 511.0,566.9 513.9,568.9 516.7,577.0"/>
<polyline points="377.0,578.9 379.9,573.1 382.7,566.2 385.6,569.3 388.4,567.1 391.3,572.3 394.1,568.2 397.0,569.4 399.8,570.0 402.7,571.2 405.5,570.7 408.4,571.6 411.2,570.2 414.1,554.0 416.9,552.6 419.8,560.7 422.6,558.8 425.5,557.2 428.3,561.0 431.2,556.0 434.0,555.9 436.9,555.7 439.7,553.4 442.6,551.4 445.4,552.0 448.3,553.9 451.2,552.7 454.0,557.9 456.9,558.4 459.7,552.5 462.6,552.8 465.4,546.8 468.3,555.8 471.1,558.6 474.0,553.9 476.8,556.6 479.7,558.3 482.5,549.8 485.4,547.7 488.2,553.6 491.1,557.4 493.9,554.0 496.8,555.1 499.6,560.1 502.5,551.8 505.3,553.6 508.2,550.2 511.0,557.0 513.9,555.0 516.7,555.4"/>
<polyline points="377.0,581.6 379.9,570.7 382.7,568.2 385.6,570.8 388.4,566.0 391.3,567.9 394.1,566.4 397.0,565.8 399.8,566.0 402.7,565.8 405.5,566.2 408.4,564.6 411.2,563.5 414.1,561.1 416.9,562.2 419.8,562.0 422.6,559.6 425.5,561.9 428.3,562.0 431.2,565.9 434.0,553.9 436.9,565.0 439.7,554.7 442.6,557.8 445.4,557.0 448.3,559.7 451.2,558.9 454.0,559.6 456.9,558.5 459.7,557.7 462.6,555.3 465.4,564.1 468.3,558.9 471.1,554.9 474.0,555.7 476.8,564.2 479.7,559.5 482.5,559.6 485.4,559.7 488.2,568.5 491.1,557.5 493.9,566.2 496.8,552.9 499.6,558.2 502.5,560.9 505.3,558.3 508.2,560.0 511.0,562.4 513.9,560.9 516.7,559.3"/>
<polyline points="377.0,576.2 379.9,567.6 382.7,566.7 385.6,566.2 388.4,567.4 391.3,565.8 394.1,568.6 397.0,567.6 399.8,565.0 402.7,563.5 405.5,568.8 408.4,571.2 411.2,562.5 414.1,551.2 416.9,549.3 419.8,552.8 422.6,555.3 425.5,558.6 428.3,559.8 431.2,550.7 434.0,552.5 436.9,555.0 439.7,560.3 442.6,558.1 445.4,558.5 448.3,557.3 451.2,567.0 454.0,555.3 456.9,550.3 459.7,558.2 462.6,556.1 465.4,555.1 468.3,559.9 471.1,554.6 474.0,559.2 476.8,557.8 479.7,555.2 482.5,556.4 485.4,555.8 488.2,559.6 491.1,553.4 493.9,560.2 496.8,553.0 499.6,558.0 502.5,560.6 505.3,556.5 508.2,560.1 511.0,558.2 513.9,556.7 516.7,553.2"/>
<polyline points="377.0,579.8 379.9,574.1 382.7,570.3 385.6,570.3 388.4,569.7 391.3,570.4 394.1,570.2 397.0,566.8 399.8,571.8 402.7,568.4 405.5,565.2 408.4,569.9 411.2,570.2 414.1,546.6 416.9,547.5 419.8,545.1 422.6,540.5 425.5,546.7 428.3,543.8 431.2,548.6 434.0,548.2 436.9,544.9 439.7,549.0 442.6,541.1 445.4,547.9 448.3,546.9 451.2,550.6 454.0,548.0 456.9,550.4 459.7,548.2 462.6,553.7 465.4,546.2 468.3,538.8 471.1,554.1 474.0,538.9 476.8,546.7 479.7,542.5 482.5,550.4 485.4,537.6 488.2,550.7 491.1,546.5 493.9,539.6 496.8,551.6 499.6,556.1 502.5,546.5 505.3,549.4 508.2,550.3 511.0,550.1 513.9,552.4 516.7,540.3"/>
<polyline points="377.0,581.8 379.9,574.0 382.7,569.5 385.6,574.0 388.4,567.9 391.3,571.6 394.1,573.4 397.0,571.5 399.8,572.5 402.7,565.4 405.5,570.3 408.4,571.7 411.2,570.1 414.1,562.3 416.9,570.9 419.8,573.4 422.6,563.5 425.5,565.8 428.3,569.3 431.2,568.1 434.0,564.2 436.9,576.8 439.7,563.6 442.6,568.4 445.4,565.6 448.3,568.0 451.2,557.6 454.0,569.9 456.9,564.2 459.7,576.5 462.6,567.7 465.4,565.2 468.3,573.0 471.1,574.6 474.0,567.5 476.8,564.5 479.7,563.9 482.5,570.1 485.4,566.7 488.2,572.5 491.1,562.1 493.9,569.8 496.8,563.6 499.6,568.8 502.5,569.0 505.3,562.5 508.2,570.8 511.0,563.6 513.9,569.0 516.7,570.8"/>
<polyline points="377.0,578.5 379.9,570.5 382.7,572.7 385.6,565.8 388.4,565.9 391.3,567.5 394.1,566.2 397.0,576.0 399.8,569.1 402.7,567.2 405.5,567.2 408.4,568.6 411.2,566.5 414.1,566.5 416.9,566.6 419.8,568.7 422.6,563.8 425.5,566.8 428.3,566.1 431.2,559.5 434.0,564.5 436.9,564.5 439.7,569.7 442.6,566.2 445.4,560.9 448.3,562.4 451.2,564.1 454.0,564.9 456.9,564.1 459.7,562.9 462.6,565.5 465.4,573.0 468.3,557.5 471.1,560.4 474.0,564.9 476.8,559.4 479.7,568.9 482.5,559.8 485.4,563.7 488.2,561.2 491.1,565.5 493.9,563.8 496.8,562.3 499.6,560.7 502.5,562.5 505.3,562.8 508.2,566.4 511.0,558.3 513.9,563.6 516.7,565.1"/>
<polyline points="377.0,583.3 379.9,576.5 382.7,571.6 385.6,572.1 388.4,571.1 391.3,574.6 394.1,572.4 397.0,572.7 399.8,568.5 402.7,574.4 405.5,574.3 408.4,567.2 411.2,569.3 414.1,562.5 416.9,552.2 419.8,551.8 422.6,553.2 425.5,565.3 428.3,557.0 431.2,560.8 434.0,558.5 436.9,563.5 439.7,550.9 442.6,560.1 445.4,556.4 448.3,554.4 451.2,555.2 454.0,555.9 456.9,559.0 459.7,556.7 462.6,558.3 465.4,566.1 468.3,553.7 471.1,559.9 474.0,559.5 476.8,559.1 479.7,562.8 482.5,562.1 485.4,564.4 488.2,555.7 491.1,553.0 493.9,557.2 496.8,561.9 499.6,552.5 502.5,558.7 505.3,563.6 508.2,564.7 511.0,556.8 513.9,552.0 516.7,559.0"/>
<polyline points="377.0,582.3 379.9,572.9 382.7,570.2 385.6,572.4 388.4,568.1 391.3,572.7 394.1,568.3 397.0,569.0 399.8,570.7 402.7,570.3 405.5,570.1 408.4,565.0 411.2,571.0 414.1,559.2 416.9,560.2 419.8,565.0 422.6,558.2 425.5,572.2 428.3,563.0 431.2,563.4 434.0,563.8 436.9,560.9 439.7,565.3 442.6,564.5 445.4,559.8 448.3,564.3 451.2,567.5 454.0,561.8 456.9,564.1 459.7,565.8 462.6,561.9 465.4,566.6 468.3,567.3 471.1,564.8 474.0,564.5 476.8,563.7 479.7,568.1 482.5,557.8 485.4,561.5 488.2,563.3 491.1,563.0 493.9,572.6 496.8,560.6 499.6,567.4 502.5,562.1 505.3,568.1 508.2,560.4 511.0,565.7 513.9,564.6 516.7,558.5"/>
</g>
<polyline points="377.0,579.8 379.9,571.6 382.7,570.7 385.6,570.2 388.4,570.1 391.3,569.6 394.1,569.9 397.0,570.1 399.8,569.6 402.7,569.2 405.5,568.8 408.4,568.5 411.2,568.1 414.1,568.5 416.9,568.6 419.8,568.3 422.6,568.6 425.5,568.7 428.3,568.7 431.2,568.3 434.0,568.1 436.9,568.1 439.7,569.1 442.6,568.2 445.4,568.9 448.3,568.7 451.2,568.4 454.0,569.0 456.9,569.0 459.7,568.8 462.6,568.0 465.4,568.2 468.3,568.9 471.1,568.5 474.0,568.5 476.8,568.5 479.7,568.8 482.5,568.1 485.4,568.7 488.2,568.3 491.1,569.1 493.9,568.4 496.8,568.5 499.6,568.1 502.5,569.4 505.3,568.4 508.2,568.3 511.0,568.7 513.9,568.1 516.7,567.9" fill="none" stroke="#ff0000" stroke-width="2.8" stroke-linejoin="round"/>
<line x1="412.6" y1="495.8" x2="412.6" y2="599.5" stroke="#0000ff" stroke-width="1.6" stroke-dasharray="5.5 2.4"/>
<rect x="370.1" y="494.3" width="153.6" height="105.2" fill="none" stroke="#222" stroke-width="0.85"/>
<clipPath id="cp3"><rect x="531.3" y="494.3" width="153.6" height="105.2"/></clipPath>
<g clip-path="url(#cp3)" fill="none" stroke="#000" stroke-opacity="0.3" stroke-width="1.0" stroke-linejoin="round">
<polyline points="538.2,585.1 541.1,573.8 543.9,569.7 546.8,575.3 549.6,573.8 552.5,567.3 555.3,572.8 558.2,569.4 561.0,568.4 563.9,571.6 566.7,573.0 569.6,564.8 572.4,569.8 575.3,503.0 578.1,515.9 581.0,513.3 583.8,524.6 586.7,526.3 589.5,525.3 592.4,523.5 595.2,523.8 598.1,522.3 600.9,518.3 603.8,523.6 606.6,515.6 609.5,524.4 612.4,517.2 615.2,513.6 618.1,511.3 620.9,531.7 623.8,511.4 626.6,530.4 629.5,513.0 632.3,520.9 635.2,518.9 638.0,526.0 640.9,515.7 643.7,517.0 646.6,523.8 649.4,524.2 652.3,516.1 655.1,515.2 658.0,516.6 660.8,522.9 663.7,520.8 666.5,515.7 669.4,516.2 672.2,514.6 675.1,520.0 677.9,524.6"/>
<polyline points="538.2,580.5 541.1,569.4 543.9,572.0 546.8,569.0 549.6,571.0 552.5,564.0 555.3,566.1 558.2,568.3 561.0,572.0 563.9,571.6 566.7,566.6 569.6,568.5 572.4,567.2 575.3,527.6 578.1,530.0 581.0,523.2 583.8,525.9 586.7,532.4 589.5,530.0 592.4,522.0 595.2,528.5 598.1,523.3 600.9,517.7 603.8,524.6 606.6,525.7 609.5,529.5 612.4,520.1 615.2,533.9 618.1,532.1 620.9,526.5 623.8,534.1 626.6,521.3 629.5,529.7 632.3,523.7 635.2,528.0 638.0,527.7 640.9,526.3 643.7,536.6 646.6,532.1 649.4,528.9 652.3,514.9 655.1,522.2 658.0,522.6 660.8,531.8 663.7,521.8 666.5,519.9 669.4,522.5 672.2,512.8 675.1,533.4 677.9,532.0"/>
<polyline points="538.2,581.0 541.1,571.2 543.9,571.8 546.8,571.3 549.6,570.4 552.5,569.3 555.3,572.7 558.2,572.5 561.0,567.7 563.9,571.3 566.7,572.3 569.6,569.4 572.4,570.8 575.3,592.2 578.1,592.9 581.0,591.6 583.8,591.1 586.7,595.0 589.5,595.9 592.4,589.8 595.2,594.8 598.1,596.1 600.9,596.1 603.8,593.4 606.6,594.7 609.5,596.1 612.4,595.4 615.2,595.7 618.1,591.2 620.9,592.8 623.8,593.4 626.6,596.1 629.5,593.7 632.3,591.9 635.2,593.0 638.0,591.0 640.9,593.2 643.7,591.8 646.6,592.3 649.4,594.6 652.3,590.4 655.1,592.6 658.0,591.5 660.8,595.7 663.7,595.7 666.5,593.7 669.4,595.1 672.2,592.0 675.1,592.5 677.9,590.7"/>
<polyline points="538.2,579.1 541.1,574.3 543.9,573.9 546.8,571.7 549.6,571.7 552.5,568.9 555.3,564.3 558.2,570.0 561.0,567.3 563.9,571.2 566.7,569.7 569.6,571.6 572.4,571.2 575.3,588.5 578.1,590.9 581.0,591.2 583.8,594.1 586.7,588.6 589.5,592.9 592.4,594.0 595.2,592.6 598.1,591.0 600.9,590.9 603.8,589.3 606.6,594.9 609.5,593.5 612.4,589.1 615.2,587.5 618.1,594.0 620.9,592.8 623.8,596.0 626.6,594.4 629.5,594.5 632.3,592.8 635.2,595.2 638.0,590.5 640.9,592.7 643.7,593.1 646.6,590.5 649.4,593.1 652.3,595.3 655.1,592.5 658.0,587.7 660.8,592.3 663.7,591.4 666.5,593.0 669.4,593.0 672.2,591.4 675.1,596.1 677.9,595.3"/>
<polyline points="538.2,576.6 541.1,565.5 543.9,569.3 546.8,569.7 549.6,568.8 552.5,566.6 555.3,572.5 558.2,571.1 561.0,569.3 563.9,568.8 566.7,574.0 569.6,568.1 572.4,572.9 575.3,549.9 578.1,550.9 581.0,563.7 583.8,553.6 586.7,555.1 589.5,558.4 592.4,552.5 595.2,548.5 598.1,554.3 600.9,560.5 603.8,561.8 606.6,560.8 609.5,560.2 612.4,552.0 615.2,555.2 618.1,556.4 620.9,552.9 623.8,556.2 626.6,556.2 629.5,559.5 632.3,558.7 635.2,556.2 638.0,560.8 640.9,549.9 643.7,555.8 646.6,558.4 649.4,552.6 652.3,560.4 655.1,552.2 658.0,556.0 660.8,549.1 663.7,558.4 666.5,557.8 669.4,559.6 672.2,561.1 675.1,555.3 677.9,560.4"/>
<polyline points="538.2,578.1 541.1,578.4 543.9,570.4 546.8,571.1 549.6,571.0 552.5,572.4 555.3,566.3 558.2,571.4 561.0,569.2 563.9,570.7 566.7,570.8 569.6,569.5 572.4,567.8 575.3,564.4 578.1,564.5 581.0,569.0 583.8,563.7 586.7,568.5 589.5,568.4 592.4,563.9 595.2,566.2 598.1,564.9 600.9,566.8 603.8,564.9 606.6,566.0 609.5,570.1 612.4,565.6 615.2,567.5 618.1,567.2 620.9,565.4 623.8,568.2 626.6,570.0 629.5,562.3 632.3,560.1 635.2,567.5 638.0,562.5 640.9,565.0 643.7,568.5 646.6,569.2 649.4,567.3 652.3,567.8 655.1,567.5 658.0,566.8 660.8,570.2 663.7,563.4 666.5,570.2 669.4,570.0 672.2,563.2 675.1,563.8 677.9,561.4"/>
<polyline points="538.2,577.9 541.1,572.3 543.9,571.7 546.8,573.3 549.6,570.0 552.5,576.7 555.3,569.3 558.2,575.4 561.0,568.1 563.9,573.9 566.7,568.2 569.6,563.6 572.4,570.2 575.3,580.2 578.1,572.8 581.0,580.2 583.8,582.6 586.7,576.3 589.5,587.8 592.4,584.2 595.2,583.8 598.1,582.1 600.9,585.8 603.8,577.9 606.6,577.3 609.5,580.3 612.4,581.3 615.2,584.5 618.1,578.9 620.9,582.1 623.8,578.5 626.6,577.4 629.5,580.1 632.3,586.1 635.2,582.8 638.0,576.4 640.9,579.4 643.7,576.2 646.6,586.4 649.4,580.5 652.3,580.7 655.1,584.7 658.0,582.0 660.8,577.5 663.7,578.7 666.5,581.7 669.4,579.3 672.2,576.9 675.1,583.2 677.9,579.4"/>
<polyline points="538.2,577.6 541.1,572.4 543.9,568.7 546.8,569.0 549.6,570.4 552.5,571.6 555.3,572.3 558.2,570.1 561.0,569.8 563.9,566.6 566.7,570.1 569.6,568.9 572.4,565.4 575.3,579.3 578.1,580.0 581.0,577.6 583.8,582.1 586.7,581.5 589.5,580.7 592.4,583.1 595.2,585.8 598.1,586.8 600.9,583.4 603.8,579.9 606.6,580.3 609.5,578.6 612.4,580.5 615.2,584.7 618.1,586.8 620.9,584.3 623.8,583.6 626.6,584.9 629.5,580.5 632.3,585.0 635.2,581.4 638.0,580.9 640.9,587.6 643.7,584.1 646.6,579.6 649.4,580.7 652.3,582.6 655.1,585.9 658.0,584.8 660.8,582.7 663.7,579.6 666.5,581.6 669.4,583.2 672.2,582.3 675.1,580.9 677.9,587.6"/>
<polyline points="538.2,576.8 541.1,568.5 543.9,572.4 546.8,570.2 549.6,571.9 552.5,570.9 555.3,569.4 558.2,570.4 561.0,570.7 563.9,572.0 566.7,572.9 569.6,569.3 572.4,568.1 575.3,548.0 578.1,556.2 581.0,557.5 583.8,550.9 586.7,554.7 589.5,553.3 592.4,559.1 595.2,559.8 598.1,561.5 600.9,553.4 603.8,561.5 606.6,563.8 609.5,560.1 612.4,552.4 615.2,557.2 618.1,556.4 620.9,556.8 623.8,557.4 626.6,557.9 629.5,562.6 632.3,550.9 635.2,557.8 638.0,552.6 640.9,563.2 643.7,555.2 646.6,561.8 649.4,562.2 652.3,556.3 655.1,553.3 658.0,552.1 660.8,552.2 663.7,558.3 666.5,554.3 669.4,559.5 672.2,559.3 675.1,556.3 677.9,557.7"/>
<polyline points="538.2,579.6 541.1,575.1 543.9,569.4 546.8,570.0 549.6,575.4 552.5,572.5 555.3,570.6 558.2,574.0 561.0,573.7 563.9,572.4 566.7,569.6 569.6,569.0 572.4,572.1 575.3,560.5 578.1,559.5 581.0,562.1 583.8,568.2 586.7,568.8 589.5,565.1 592.4,563.4 595.2,564.8 598.1,567.6 600.9,569.5 603.8,562.0 606.6,566.8 609.5,560.0 612.4,570.2 615.2,567.5 618.1,568.5 620.9,560.1 623.8,562.1 626.6,568.0 629.5,572.9 632.3,562.4 635.2,565.9 638.0,570.1 640.9,571.4 643.7,565.0 646.6,567.0 649.4,565.8 652.3,565.0 655.1,567.6 658.0,567.2 660.8,564.1 663.7,566.7 666.5,567.3 669.4,564.2 672.2,573.0 675.1,562.1 677.9,564.8"/>
<polyline points="538.2,577.1 541.1,570.0 543.9,575.1 546.8,573.0 549.6,569.9 552.5,565.7 555.3,568.1 558.2,570.2 561.0,568.1 563.9,569.3 566.7,569.9 569.6,568.1 572.4,574.1 575.3,575.7 578.1,577.6 581.0,580.7 583.8,582.0 586.7,583.1 589.5,579.1 592.4,579.5 595.2,579.5 598.1,575.2 600.9,586.1 603.8,582.0 606.6,582.1 609.5,577.4 612.4,580.7 615.2,582.6 618.1,579.4 620.9,578.9 623.8,575.6 626.6,579.3 629.5,581.2 632.3,581.4 635.2,582.3 638.0,578.7 640.9,577.7 643.7,580.6 646.6,580.4 649.4,576.2 652.3,579.7 655.1,578.6 658.0,583.0 660.8,581.7 663.7,585.9 666.5,583.8 669.4,579.0 672.2,576.6 675.1,580.7 677.9,583.3"/>
<polyline points="538.2,578.7 541.1,567.4 543.9,569.1 546.8,571.7 549.6,570.8 552.5,569.0 555.3,562.6 558.2,566.5 561.0,568.4 563.9,566.9 566.7,566.9 569.6,568.3 572.4,567.3 575.3,572.0 578.1,569.8 581.0,567.8 583.8,568.8 586.7,574.1 589.5,571.5 592.4,575.5 595.2,576.7 598.1,573.1 600.9,571.5 603.8,573.6 606.6,570.8 609.5,570.8 612.4,571.1 615.2,573.8 618.1,577.5 620.9,567.9 623.8,574.8 626.6,571.1 629.5,571.9 632.3,574.4 635.2,567.8 638.0,571.3 640.9,573.4 643.7,574.7 646.6,576.3 649.4,577.2 652.3,571.6 655.1,574.7 658.0,574.8 660.8,571.8 663.7,574.4 666.5,571.4 669.4,575.3 672.2,575.0 675.1,570.6 677.9,575.5"/>
<polyline points="538.2,579.1 541.1,574.5 543.9,573.0 546.8,572.2 549.6,572.5 552.5,567.1 555.3,571.1 558.2,571.9 561.0,569.9 563.9,568.7 566.7,572.3 569.6,566.6 572.4,566.1 575.3,549.6 578.1,545.8 581.0,556.3 583.8,552.9 586.7,551.8 589.5,551.1 592.4,546.9 595.2,552.9 598.1,555.7 600.9,550.8 603.8,551.1 606.6,549.9 609.5,553.0 612.4,551.0 615.2,554.0 618.1,549.5 620.9,554.4 623.8,554.2 626.6,547.0 629.5,554.8 632.3,551.7 635.2,549.4 638.0,553.0 640.9,548.1 643.7,554.0 646.6,547.6 649.4,557.9 652.3,557.1 655.1,551.4 658.0,546.0 660.8,545.3 663.7,555.2 666.5,551.8 669.4,553.7 672.2,560.3 675.1,548.8 677.9,553.2"/>
<polyline points="538.2,580.7 541.1,572.5 543.9,570.6 546.8,568.8 549.6,570.9 552.5,562.7 555.3,568.8 558.2,571.9 561.0,568.8 563.9,566.0 566.7,567.5 569.6,569.2 572.4,569.8 575.3,586.8 578.1,588.6 581.0,587.4 583.8,585.8 586.7,588.0 589.5,582.8 592.4,585.9 595.2,588.0 598.1,587.0 600.9,583.3 603.8,591.1 606.6,586.3 609.5,580.4 612.4,584.5 615.2,589.1 618.1,586.6 620.9,587.5 623.8,580.2 626.6,588.6 629.5,587.6 632.3,587.7 635.2,590.4 638.0,595.0 640.9,587.5 643.7,585.7 646.6,588.0 649.4,585.7 652.3,585.1 655.1,585.2 658.0,591.1 660.8,583.3 663.7,584.8 666.5,585.0 669.4,586.9 672.2,586.9 675.1,588.3 677.9,585.9"/>
<polyline points="538.2,578.6 541.1,573.0 543.9,569.8 546.8,571.4 549.6,568.7 552.5,565.9 555.3,569.9 558.2,571.5 561.0,571.1 563.9,568.4 566.7,570.9 569.6,567.1 572.4,568.6 575.3,577.2 578.1,581.9 581.0,583.5 583.8,583.3 586.7,580.5 589.5,583.7 592.4,579.9 595.2,587.2 598.1,583.6 600.9,582.2 603.8,586.7 606.6,583.4 609.5,585.8 612.4,582.0 615.2,582.5 618.1,579.8 620.9,584.1 623.8,586.2 626.6,583.3 629.5,581.5 632.3,581.6 635.2,581.4 638.0,578.6 640.9,582.8 643.7,582.4 646.6,584.1 649.4,583.4 652.3,579.0 655.1,580.8 658.0,588.8 660.8,578.6 663.7,587.1 666.5,582.9 669.4,579.2 672.2,581.5 675.1,580.3 677.9,579.5"/>
<polyline points="538.2,580.6 541.1,574.5 543.9,578.0 546.8,572.6 549.6,570.4 552.5,571.2 555.3,571.3 558.2,566.9 561.0,570.3 563.9,568.5 566.7,569.8 569.6,566.4 572.4,571.1 575.3,557.0 578.1,556.3 581.0,564.7 583.8,560.4 586.7,569.0 589.5,563.4 592.4,562.1 595.2,567.6 598.1,570.9 600.9,564.6 603.8,565.9 606.6,564.2 609.5,563.8 612.4,562.0 615.2,559.5 618.1,563.3 620.9,570.0 623.8,562.5 626.6,563.5 629.5,564.3 632.3,559.4 635.2,563.9 638.0,566.0 640.9,563.2 643.7,570.3 646.6,561.5 649.4,564.6 652.3,559.0 655.1,562.4 658.0,563.5 660.8,564.1 663.7,568.8 666.5,565.0 669.4,563.8 672.2,561.4 675.1,563.3 677.9,562.4"/>
<polyline points="538.2,579.7 541.1,572.3 543.9,574.1 546.8,574.5 549.6,568.6 552.5,567.0 555.3,566.8 558.2,572.1 561.0,566.2 563.9,565.9 566.7,571.4 569.6,568.1 572.4,565.0 575.3,558.1 578.1,556.0 581.0,563.4 583.8,563.1 586.7,559.2 589.5,563.1 592.4,562.2 595.2,562.4 598.1,566.3 600.9,557.6 603.8,563.3 606.6,564.0 609.5,564.4 612.4,562.6 615.2,566.1 618.1,559.8 620.9,564.0 623.8,560.1 626.6,565.9 629.5,566.4 632.3,566.1 635.2,562.0 638.0,567.5 640.9,559.9 643.7,564.0 646.6,559.7 649.4,564.2 652.3,560.0 655.1,566.5 658.0,566.7 660.8,560.8 663.7,564.8 666.5,559.2 669.4,565.3 672.2,561.1 675.1,565.7 677.9,569.0"/>
<polyline points="538.2,577.6 541.1,570.9 543.9,574.8 546.8,569.4 549.6,567.6 552.5,566.9 555.3,565.9 558.2,568.7 561.0,569.7 563.9,569.1 566.7,571.9 569.6,567.1 572.4,567.0 575.3,580.4 578.1,584.2 581.0,581.1 583.8,584.5 586.7,580.1 589.5,585.0 592.4,584.9 595.2,584.4 598.1,586.3 600.9,585.9 603.8,584.4 606.6,590.0 609.5,578.5 612.4,582.7 615.2,582.9 618.1,585.9 620.9,583.2 623.8,583.7 626.6,583.4 629.5,587.5 632.3,584.0 635.2,588.6 638.0,584.2 640.9,586.0 643.7,585.2 646.6,584.5 649.4,581.5 652.3,580.5 655.1,583.6 658.0,586.5 660.8,579.8 663.7,587.3 666.5,585.1 669.4,584.2 672.2,585.6 675.1,580.2 677.9,582.6"/>
<polyline points="538.2,578.0 541.1,571.9 543.9,571.2 546.8,569.9 549.6,569.5 552.5,568.8 555.3,570.6 558.2,573.5 561.0,570.5 563.9,576.1 566.7,570.0 569.6,571.1 572.4,566.9 575.3,587.6 578.1,575.9 581.0,582.7 583.8,586.3 586.7,581.1 589.5,581.0 592.4,581.3 595.2,576.7 598.1,584.7 600.9,581.7 603.8,582.1 606.6,584.3 609.5,581.7 612.4,579.2 615.2,584.8 618.1,581.3 620.9,579.8 623.8,580.8 626.6,586.7 629.5,581.7 632.3,583.5 635.2,579.2 638.0,582.8 640.9,577.3 643.7,585.8 646.6,581.2 649.4,584.8 652.3,577.8 655.1,578.3 658.0,584.9 660.8,580.5 663.7,582.6 666.5,586.8 669.4,585.3 672.2,582.2 675.1,581.1 677.9,583.5"/>
<polyline points="538.2,578.7 541.1,573.6 543.9,569.7 546.8,568.5 549.6,573.3 552.5,565.7 555.3,565.7 558.2,568.7 561.0,563.8 563.9,570.7 566.7,570.8 569.6,569.9 572.4,569.9 575.3,560.6 578.1,568.3 581.0,570.0 583.8,569.4 586.7,566.1 589.5,570.8 592.4,572.7 595.2,570.8 598.1,567.8 600.9,572.4 603.8,567.3 606.6,570.8 609.5,572.3 612.4,570.2 615.2,565.6 618.1,572.6 620.9,567.5 623.8,570.0 626.6,571.3 629.5,571.6 632.3,569.2 635.2,569.9 638.0,570.6 640.9,569.7 643.7,574.5 646.6,573.8 649.4,574.9 652.3,572.9 655.1,572.5 658.0,572.9 660.8,570.1 663.7,574.7 666.5,572.5 669.4,569.1 672.2,566.5 675.1,571.6 677.9,568.0"/>
<polyline points="538.2,580.6 541.1,575.0 543.9,572.8 546.8,570.6 549.6,574.5 552.5,569.9 555.3,571.4 558.2,571.4 561.0,569.3 563.9,572.5 566.7,574.4 569.6,570.0 572.4,571.7 575.3,547.7 578.1,553.6 581.0,554.4 583.8,555.6 586.7,557.1 589.5,555.6 592.4,555.7 595.2,552.6 598.1,540.3 600.9,555.3 603.8,559.1 606.6,550.6 609.5,557.7 612.4,556.4 615.2,554.2 618.1,552.7 620.9,552.6 623.8,551.9 626.6,553.4 629.5,548.5 632.3,549.6 635.2,555.0 638.0,553.8 640.9,558.2 643.7,550.3 646.6,553.7 649.4,545.4 652.3,555.6 655.1,546.9 658.0,556.5 660.8,559.5 663.7,556.3 666.5,551.6 669.4,548.9 672.2,556.4 675.1,549.1 677.9,555.0"/>
<polyline points="538.2,576.3 541.1,571.2 543.9,570.2 546.8,574.4 549.6,570.1 552.5,569.7 555.3,566.2 558.2,572.1 561.0,571.5 563.9,571.8 566.7,571.0 569.6,567.6 572.4,571.0 575.3,565.7 578.1,571.0 581.0,574.9 583.8,574.7 586.7,577.2 589.5,577.6 592.4,569.9 595.2,570.8 598.1,576.5 600.9,574.9 603.8,568.7 606.6,575.8 609.5,572.9 612.4,572.1 615.2,574.2 618.1,574.2 620.9,574.6 623.8,573.3 626.6,578.3 629.5,573.5 632.3,573.1 635.2,577.6 638.0,572.3 640.9,576.4 643.7,581.5 646.6,579.5 649.4,573.3 652.3,571.9 655.1,574.9 658.0,578.0 660.8,574.1 663.7,570.9 666.5,573.8 669.4,578.1 672.2,572.2 675.1,574.3 677.9,574.2"/>
<polyline points="538.2,579.5 541.1,572.9 543.9,570.1 546.8,569.3 549.6,566.6 552.5,572.3 555.3,569.4 558.2,571.0 561.0,568.1 563.9,569.9 566.7,575.8 569.6,565.9 572.4,569.6 575.3,590.0 578.1,591.8 581.0,591.2 583.8,592.0 586.7,589.5 589.5,589.0 592.4,589.6 595.2,588.6 598.1,591.4 600.9,588.1 603.8,589.7 606.6,588.4 609.5,588.0 612.4,590.3 615.2,586.6 618.1,587.6 620.9,590.4 623.8,585.4 626.6,585.6 629.5,593.0 632.3,594.7 635.2,590.9 638.0,588.4 640.9,587.3 643.7,587.9 646.6,589.5 649.4,587.2 652.3,587.8 655.1,590.5 658.0,589.0 660.8,587.0 663.7,590.9 666.5,590.9 669.4,591.4 672.2,586.1 675.1,587.9 677.9,587.5"/>
<polyline points="538.2,577.0 541.1,572.0 543.9,567.8 546.8,570.4 549.6,570.3 552.5,568.7 555.3,567.8 558.2,565.4 561.0,570.3 563.9,565.2 566.7,570.9 569.6,571.0 572.4,574.1 575.3,548.8 578.1,549.6 581.0,561.2 583.8,559.2 586.7,559.6 589.5,564.7 592.4,559.1 595.2,558.4 598.1,561.4 600.9,563.4 603.8,559.2 606.6,557.6 609.5,564.9 612.4,560.1 615.2,557.7 618.1,569.9 620.9,558.6 623.8,553.6 626.6,564.4 629.5,555.0 632.3,560.8 635.2,557.6 638.0,560.3 640.9,563.9 643.7,565.9 646.6,551.1 649.4,564.6 652.3,560.7 655.1,554.6 658.0,558.7 660.8,559.1 663.7,567.0 666.5,562.0 669.4,564.6 672.2,566.2 675.1,558.4 677.9,556.7"/>
<polyline points="538.2,579.7 541.1,569.9 543.9,573.9 546.8,568.3 549.6,568.7 552.5,570.8 555.3,573.3 558.2,569.0 561.0,568.6 563.9,565.8 566.7,571.3 569.6,565.8 572.4,570.3 575.3,567.2 578.1,571.2 581.0,571.8 583.8,568.4 586.7,575.3 589.5,571.0 592.4,574.5 595.2,573.9 598.1,576.0 600.9,573.3 603.8,579.9 606.6,574.7 609.5,570.9 612.4,571.4 615.2,578.8 618.1,577.3 620.9,575.2 623.8,568.3 626.6,575.2 629.5,574.0 632.3,574.7 635.2,573.0 638.0,576.7 640.9,573.2 643.7,572.5 646.6,570.8 649.4,576.6 652.3,571.2 655.1,568.1 658.0,571.6 660.8,571.9 663.7,581.3 666.5,569.9 669.4,568.2 672.2,570.2 675.1,572.4 677.9,571.4"/>
<polyline points="538.2,581.8 541.1,569.4 543.9,570.8 546.8,576.5 549.6,570.5 552.5,570.0 555.3,572.9 558.2,569.5 561.0,569.7 563.9,574.5 566.7,568.6 569.6,564.5 572.4,565.3 575.3,579.6 578.1,580.9 581.0,577.4 583.8,577.0 586.7,581.8 589.5,580.2 592.4,574.3 595.2,577.5 598.1,575.2 600.9,578.3 603.8,575.3 606.6,579.7 609.5,579.7 612.4,580.9 615.2,583.7 618.1,579.3 620.9,582.1 623.8,579.6 626.6,577.8 629.5,577.7 632.3,577.1 635.2,579.3 638.0,578.4 640.9,574.9 643.7,578.7 646.6,578.1 649.4,585.2 652.3,581.4 655.1,575.1 658.0,580.7 660.8,581.3 663.7,575.5 666.5,581.7 669.4,575.4 672.2,578.5 675.1,580.0 677.9,584.1"/>
<polyline points="538.2,585.3 541.1,571.7 543.9,576.0 546.8,571.5 549.6,572.7 552.5,573.1 555.3,574.8 558.2,573.6 561.0,571.1 563.9,574.1 566.7,569.9 569.6,570.7 572.4,569.7 575.3,580.5 578.1,580.7 581.0,581.8 583.8,581.0 586.7,582.4 589.5,582.6 592.4,586.0 595.2,588.1 598.1,583.5 600.9,581.2 603.8,586.1 606.6,587.8 609.5,585.1 612.4,582.8 615.2,581.5 618.1,584.5 620.9,586.8 623.8,583.9 626.6,581.9 629.5,583.8 632.3,581.1 635.2,585.0 638.0,581.4 640.9,579.4 643.7,586.3 646.6,586.0 649.4,582.0 652.3,575.5 655.1,582.4 658.0,583.8 660.8,580.3 663.7,584.0 666.5,587.9 669.4,586.2 672.2,580.2 675.1,588.1 677.9,587.4"/>
<polyline points="538.2,576.7 541.1,573.6 543.9,572.2 546.8,571.0 549.6,573.0 552.5,570.3 555.3,570.0 558.2,567.2 561.0,569.4 563.9,570.0 566.7,567.6 569.6,565.9 572.4,565.9 575.3,548.9 578.1,554.1 581.0,556.1 583.8,560.3 586.7,555.7 589.5,556.4 592.4,550.3 595.2,555.9 598.1,553.9 600.9,551.8 603.8,564.0 606.6,559.3 609.5,557.8 612.4,556.4 615.2,561.2 618.1,553.6 620.9,553.4 623.8,555.0 626.6,554.3 629.5,561.1 632.3,552.6 635.2,559.2 638.0,564.1 640.9,556.4 643.7,555.3 646.6,559.5 649.4,563.2 652.3,561.3 655.1,557.5 658.0,566.6 660.8,553.0 663.7,553.1 666.5,557.6 669.4,552.9 672.2,557.5 675.1,561.2 677.9,554.5"/>
<polyline points="538.2,584.6 541.1,574.9 543.9,568.9 546.8,572.3 549.6,564.5 552.5,572.8 555.3,569.5 558.2,570.0 561.0,571.2 563.9,568.4 566.7,572.4 569.6,570.2 572.4,572.8 575.3,574.1 578.1,568.3 581.0,573.0 583.8,574.0 586.7,568.3 589.5,570.9 592.4,569.3 595.2,565.0 598.1,570.0 600.9,569.2 603.8,574.5 606.6,568.0 609.5,567.9 612.4,574.0 615.2,568.6 618.1,569.6 620.9,571.3 623.8,570.4 626.6,562.9 629.5,572.7 632.3,571.7 635.2,570.3 638.0,571.2 640.9,576.5 643.7,568.6 646.6,567.7 649.4,565.1 652.3,572.5 655.1,574.7 658.0,568.6 660.8,574.0 663.7,570.7 666.5,572.0 669.4,570.0 672.2,572.1 675.1,568.4 677.9,573.6"/>
<polyline points="538.2,580.4 541.1,572.5 543.9,569.9 546.8,570.4 549.6,571.1 552.5,565.4 555.3,566.3 558.2,571.2 561.0,566.9 563.9,568.1 566.7,566.0 569.6,569.4 572.4,562.3 575.3,564.8 578.1,560.0 581.0,569.0 583.8,563.6 586.7,568.8 589.5,563.1 592.4,569.3 595.2,572.3 598.1,572.4 600.9,571.0 603.8,566.9 606.6,567.7 609.5,568.5 612.4,565.4 615.2,563.5 618.1,572.2 620.9,565.6 623.8,561.3 626.6,570.9 629.5,570.8 632.3,567.6 635.2,568.2 638.0,570.7 640.9,569.1 643.7,563.6 646.6,565.9 649.4,571.6 652.3,574.5 655.1,572.5 658.0,568.3 660.8,571.5 663.7,571.7 666.5,566.5 669.4,569.8 672.2,570.2 675.1,568.2 677.9,564.1"/>
<polyline points="538.2,578.7 541.1,566.4 543.9,572.6 546.8,572.1 549.6,570.4 552.5,563.9 555.3,565.0 558.2,571.3 561.0,569.5 563.9,566.9 566.7,567.9 569.6,565.6 572.4,568.9 575.3,571.6 578.1,565.5 581.0,564.2 583.8,573.8 586.7,575.2 589.5,570.8 592.4,575.5 595.2,568.1 598.1,573.3 600.9,567.1 603.8,570.7 606.6,569.1 609.5,567.4 612.4,570.2 615.2,572.9 618.1,566.6 620.9,574.4 623.8,565.0 626.6,571.6 629.5,571.3 632.3,568.3 635.2,568.2 638.0,567.9 640.9,574.4 643.7,572.4 646.6,568.5 649.4,568.4 652.3,569.9 655.1,565.4 658.0,570.1 660.8,566.5 663.7,566.0 666.5,568.4 669.4,570.2 672.2,567.2 675.1,568.1 677.9,567.5"/>
<polyline points="538.2,575.2 541.1,571.2 543.9,569.5 546.8,570.2 549.6,567.2 552.5,574.3 555.3,565.1 558.2,567.6 561.0,569.2 563.9,567.8 566.7,565.5 569.6,567.2 572.4,566.3 575.3,559.5 578.1,564.8 581.0,564.1 583.8,562.5 586.7,565.9 589.5,570.1 592.4,565.6 595.2,561.6 598.1,569.4 600.9,566.9 603.8,567.0 606.6,565.5 609.5,569.8 612.4,568.5 615.2,562.0 618.1,566.1 620.9,570.5 623.8,565.8 626.6,568.2 629.5,563.4 632.3,573.7 635.2,568.1 638.0,565.2 640.9,572.6 643.7,570.9 646.6,566.9 649.4,568.3 652.3,569.4 655.1,567.4 658.0,573.0 660.8,571.2 663.7,562.7 666.5,570.5 669.4,567.0 672.2,568.6 675.1,565.6 677.9,567.3"/>
<polyline points="538.2,577.4 541.1,573.7 543.9,570.5 546.8,565.1 549.6,565.8 552.5,568.8 555.3,572.0 558.2,569.6 561.0,562.6 563.9,564.6 566.7,564.3 569.6,571.1 572.4,570.3 575.3,561.0 578.1,565.2 581.0,560.9 583.8,565.7 586.7,560.5 589.5,563.2 592.4,564.5 595.2,560.3 598.1,561.1 600.9,562.2 603.8,564.0 606.6,562.9 609.5,569.5 612.4,569.6 615.2,565.1 618.1,562.2 620.9,556.5 623.8,561.3 626.6,566.2 629.5,564.4 632.3,567.2 635.2,562.9 638.0,563.0 640.9,562.9 643.7,561.8 646.6,559.1 649.4,560.3 652.3,566.8 655.1,559.8 658.0,566.3 660.8,561.4 663.7,562.4 666.5,556.8 669.4,563.1 672.2,563.1 675.1,563.7 677.9,559.7"/>
<polyline points="538.2,578.1 541.1,566.3 543.9,566.8 546.8,566.9 549.6,571.7 552.5,570.4 555.3,569.6 558.2,573.9 561.0,565.4 563.9,572.9 566.7,568.2 569.6,572.0 572.4,568.5 575.3,534.2 578.1,538.9 581.0,546.8 583.8,547.1 586.7,541.2 589.5,545.9 592.4,545.4 595.2,542.1 598.1,556.8 600.9,545.1 603.8,540.9 606.6,538.7 609.5,543.4 612.4,549.4 615.2,542.2 618.1,538.4 620.9,549.0 623.8,549.3 626.6,546.9 629.5,548.0 632.3,554.9 635.2,556.3 638.0,551.8 640.9,549.0 643.7,544.5 646.6,548.5 649.4,545.5 652.3,540.5 655.1,533.6 658.0,542.6 660.8,550.4 663.7,542.1 666.5,546.3 669.4,544.9 672.2,542.2 675.1,543.0 677.9,551.9"/>
<polyline points="538.2,577.7 541.1,565.6 543.9,568.6 546.8,570.7 549.6,570.8 552.5,571.2 555.3,572.4 558.2,572.2 561.0,570.2 563.9,568.5 566.7,570.4 569.6,568.3 572.4,568.8 575.3,580.9 578.1,582.5 581.0,581.2 583.8,582.3 586.7,589.5 589.5,582.0 592.4,582.5 595.2,584.4 598.1,582.4 600.9,584.7 603.8,582.6 606.6,585.2 609.5,581.2 612.4,582.0 615.2,586.7 618.1,584.8 620.9,581.1 623.8,581.9 626.6,582.6 629.5,585.9 632.3,584.7 635.2,582.5 638.0,582.2 640.9,583.0 643.7,585.1 646.6,583.5 649.4,584.2 652.3,586.0 655.1,585.8 658.0,585.1 660.8,586.9 663.7,581.7 666.5,580.9 669.4,580.6 672.2,585.0 675.1,584.9 677.9,582.3"/>
<polyline points="538.2,581.0 541.1,575.4 543.9,567.8 546.8,574.1 549.6,574.3 552.5,568.3 555.3,572.7 558.2,567.3 561.0,568.9 563.9,568.7 566.7,570.2 569.6,572.6 572.4,571.8 575.3,571.5 578.1,573.2 581.0,577.1 583.8,577.3 586.7,576.7 589.5,574.4 592.4,573.0 595.2,571.7 598.1,575.5 600.9,570.2 603.8,572.3 606.6,570.1 609.5,577.1 612.4,572.7 615.2,571.2 618.1,579.7 620.9,571.7 623.8,573.2 626.6,571.8 629.5,574.0 632.3,571.1 635.2,575.7 638.0,576.0 640.9,572.3 643.7,572.3 646.6,578.4 649.4,570.9 652.3,571.0 655.1,571.4 658.0,576.6 660.8,570.7 663.7,572.9 666.5,571.7 669.4,574.6 672.2,575.7 675.1,576.5 677.9,576.3"/>
<polyline points="538.2,582.3 541.1,571.4 543.9,572.1 546.8,576.2 549.6,572.6 552.5,571.7 555.3,566.8 558.2,568.9 561.0,572.7 563.9,572.8 566.7,571.0 569.6,569.2 572.4,571.4 575.3,574.5 578.1,580.6 581.0,576.4 583.8,574.3 586.7,585.2 589.5,578.0 592.4,577.3 595.2,576.8 598.1,577.8 600.9,578.3 603.8,577.3 606.6,577.8 609.5,577.9 612.4,573.8 615.2,575.3 618.1,575.6 620.9,579.9 623.8,579.5 626.6,575.2 629.5,581.1 632.3,575.3 635.2,581.9 638.0,572.2 640.9,574.7 643.7,579.7 646.6,579.4 649.4,583.8 652.3,578.3 655.1,574.8 658.0,576.5 660.8,578.9 663.7,572.5 666.5,576.6 669.4,577.0 672.2,579.0 675.1,576.5 677.9,570.9"/>
<polyline points="538.2,581.5 541.1,568.7 543.9,569.8 546.8,573.7 549.6,571.4 552.5,575.6 555.3,570.3 558.2,573.8 561.0,572.8 563.9,572.7 566.7,572.8 569.6,566.9 572.4,567.2 575.3,538.9 578.1,541.0 581.0,536.7 583.8,546.2 586.7,547.7 589.5,549.8 592.4,540.2 595.2,546.1 598.1,546.9 600.9,548.7 603.8,550.8 606.6,543.1 609.5,550.3 612.4,549.2 615.2,554.0 618.1,551.6 620.9,549.2 623.8,549.1 626.6,553.4 629.5,549.7 632.3,547.7 635.2,558.0 638.0,544.7 640.9,548.3 643.7,552.7 646.6,548.3 649.4,545.3 652.3,547.2 655.1,547.0 658.0,547.1 660.8,544.5 663.7,552.8 666.5,549.6 669.4,545.6 672.2,547.0 675.1,551.5 677.9,548.3"/>
<polyline points="538.2,583.8 541.1,575.1 543.9,574.0 546.8,570.6 549.6,564.2 552.5,567.6 555.3,566.8 558.2,569.5 561.0,565.5 563.9,568.3 566.7,568.8 569.6,566.2 572.4,571.5 575.3,579.9 578.1,578.2 581.0,571.6 583.8,573.4 586.7,575.7 589.5,577.1 592.4,577.0 595.2,575.5 598.1,579.1 600.9,574.4 603.8,579.4 606.6,572.8 609.5,577.6 612.4,579.3 615.2,577.5 618.1,579.3 620.9,577.1 623.8,581.8 626.6,578.1 629.5,576.5 632.3,575.6 635.2,577.8 638.0,573.2 640.9,581.5 643.7,577.3 646.6,578.1 649.4,576.7 652.3,577.4 655.1,572.7 658.0,576.7 660.8,579.3 663.7,569.6 666.5,576.6 669.4,577.1 672.2,574.2 675.1,578.4 677.9,577.3"/>
<polyline points="538.2,582.6 541.1,570.5 543.9,567.8 546.8,572.1 549.6,572.0 552.5,568.9 555.3,574.9 558.2,572.8 561.0,572.9 563.9,575.7 566.7,577.6 569.6,571.4 572.4,568.0 575.3,582.3 578.1,581.8 581.0,592.2 583.8,586.2 586.7,582.8 589.5,588.3 592.4,589.5 595.2,585.5 598.1,586.4 600.9,584.9 603.8,586.4 606.6,583.4 609.5,584.7 612.4,585.8 615.2,587.4 618.1,584.7 620.9,588.1 623.8,584.1 626.6,583.6 629.5,584.1 632.3,589.6 635.2,585.4 638.0,585.5 640.9,584.3 643.7,590.2 646.6,587.9 649.4,586.6 652.3,583.0 655.1,587.9 658.0,584.2 660.8,586.1 663.7,581.7 666.5,585.6 669.4,590.4 672.2,587.1 675.1,585.8 677.9,583.3"/>
<polyline points="538.2,583.3 541.1,571.5 543.9,571.2 546.8,567.5 549.6,568.3 552.5,573.7 555.3,575.7 558.2,570.9 561.0,569.1 563.9,571.9 566.7,570.6 569.6,566.3 572.4,567.2 575.3,577.0 578.1,571.7 581.0,572.7 583.8,574.1 586.7,572.0 589.5,572.1 592.4,566.4 595.2,573.3 598.1,576.2 600.9,575.5 603.8,571.8 606.6,568.2 609.5,572.2 612.4,572.4 615.2,573.2 618.1,575.3 620.9,573.8 623.8,577.6 626.6,571.8 629.5,572.6 632.3,573.4 635.2,576.6 638.0,574.8 640.9,575.7 643.7,573.1 646.6,574.9 649.4,572.9 652.3,571.2 655.1,570.2 658.0,577.1 660.8,575.0 663.7,577.3 666.5,570.2 669.4,576.5 672.2,569.9 675.1,575.5 677.9,570.9"/>
<polyline points="538.2,579.8 541.1,571.2 543.9,571.1 546.8,569.0 549.6,567.5 552.5,568.1 555.3,571.2 558.2,574.3 561.0,569.4 563.9,576.3 566.7,567.6 569.6,567.6 572.4,571.8 575.3,575.7 578.1,580.3 581.0,575.9 583.8,581.9 586.7,582.3 589.5,582.0 592.4,579.7 595.2,583.2 598.1,574.4 600.9,581.5 603.8,575.8 606.6,581.3 609.5,581.4 612.4,582.4 615.2,582.6 618.1,579.3 620.9,577.3 623.8,580.2 626.6,582.9 629.5,579.9 632.3,582.7 635.2,587.8 638.0,580.2 640.9,585.3 643.7,582.2 646.6,580.4 649.4,581.6 652.3,581.2 655.1,576.3 658.0,577.9 660.8,576.4 663.7,579.9 666.5,579.9 669.4,575.7 672.2,582.2 675.1,579.6 677.9,580.2"/>
<polyline points="538.2,578.7 541.1,568.4 543.9,571.7 546.8,568.3 549.6,571.8 552.5,566.5 555.3,566.5 558.2,569.2 561.0,569.8 563.9,568.4 566.7,566.8 569.6,571.6 572.4,570.2 575.3,575.9 578.1,579.9 581.0,583.3 583.8,586.1 586.7,581.5 589.5,585.2 592.4,580.2 595.2,580.8 598.1,575.6 600.9,584.0 603.8,578.9 606.6,583.8 609.5,583.4 612.4,581.2 615.2,582.9 618.1,575.7 620.9,580.8 623.8,582.7 626.6,574.4 629.5,582.8 632.3,581.7 635.2,581.2 638.0,582.8 640.9,579.0 643.7,577.5 646.6,584.1 649.4,582.0 652.3,581.7 655.1,584.4 658.0,584.2 660.8,581.7 663.7,583.1 666.5,579.9 669.4,578.5 672.2,580.2 675.1,579.9 677.9,583.2"/>
<polyline points="538.2,578.1 541.1,571.0 543.9,568.8 546.8,570.5 549.6,572.5 552.5,568.8 555.3,570.4 558.2,573.3 561.0,567.0 563.9,567.9 566.7,566.9 569.6,569.6 572.4,564.7 575.3,573.2 578.1,573.3 581.0,578.7 583.8,578.3 586.7,574.2 589.5,578.0 592.4,578.0 595.2,574.0 598.1,575.0 600.9,577.6 603.8,572.9 606.6,582.3 609.5,578.4 612.4,579.8 615.2,574.1 618.1,573.9 620.9,579.6 623.8,577.8 626.6,575.6 629.5,576.8 632.3,577.5 635.2,575.5 638.0,572.8 640.9,577.9 643.7,581.3 646.6,578.5 649.4,578.3 652.3,579.3 655.1,576.3 658.0,576.2 660.8,575.7 663.7,576.9 666.5,577.5 669.4,581.0 672.2,579.1 675.1,580.6 677.9,577.3"/>
<polyline points="538.2,578.8 541.1,572.0 543.9,568.1 546.8,568.0 549.6,572.5 552.5,567.0 555.3,570.7 558.2,571.4 561.0,570.2 563.9,572.3 566.7,568.3 569.6,566.1 572.4,572.3 575.3,581.6 578.1,582.0 581.0,582.3 583.8,582.7 586.7,583.3 589.5,585.7 592.4,582.4 595.2,583.8 598.1,582.7 600.9,583.9 603.8,585.3 606.6,584.8 609.5,583.2 612.4,582.1 615.2,589.4 618.1,587.8 620.9,588.7 623.8,586.0 626.6,586.3 629.5,584.2 632.3,585.4 635.2,581.4 638.0,586.2 640.9,586.4 643.7,586.7 646.6,585.4 649.4,584.3 652.3,585.9 655.1,587.0 658.0,588.1 660.8,584.3 663.7,586.1 666.5,587.1 669.4,585.4 672.2,583.9 675.1,579.7 677.9,580.7"/>
<polyline points="538.2,585.2 541.1,576.5 543.9,575.6 546.8,568.9 549.6,571.2 552.5,574.1 555.3,572.0 558.2,571.4 561.0,571.6 563.9,566.4 566.7,574.2 569.6,570.6 572.4,568.7 575.3,585.3 578.1,592.2 581.0,587.1 583.8,590.7 586.7,589.3 589.5,591.7 592.4,586.3 595.2,580.9 598.1,585.8 600.9,588.8 603.8,592.2 606.6,586.1 609.5,585.4 612.4,590.7 615.2,586.0 618.1,592.3 620.9,591.1 623.8,587.8 626.6,591.4 629.5,586.4 632.3,584.9 635.2,588.0 638.0,587.0 640.9,584.4 643.7,586.9 646.6,585.1 649.4,584.8 652.3,590.6 655.1,583.1 658.0,585.4 660.8,587.8 663.7,586.2 666.5,587.4 669.4,587.6 672.2,590.4 675.1,589.0 677.9,588.9"/>
<polyline points="538.2,578.3 541.1,570.8 543.9,566.9 546.8,575.5 549.6,571.6 552.5,567.1 555.3,570.1 558.2,567.4 561.0,565.0 563.9,566.7 566.7,571.8 569.6,568.7 572.4,570.7 575.3,528.3 578.1,530.0 581.0,538.1 583.8,536.3 586.7,540.3 589.5,531.7 592.4,539.8 595.2,539.6 598.1,538.3 600.9,536.2 603.8,537.8 606.6,541.0 609.5,540.6 612.4,538.7 615.2,538.3 618.1,542.5 620.9,543.4 623.8,541.9 626.6,538.9 629.5,542.8 632.3,545.5 635.2,542.3 638.0,543.0 640.9,538.2 643.7,543.1 646.6,542.6 649.4,532.8 652.3,538.9 655.1,544.9 658.0,535.7 660.8,542.4 663.7,544.4 666.5,538.1 669.4,547.0 672.2,541.1 675.1,538.4 677.9,537.6"/>
<polyline points="538.2,580.6 541.1,568.9 543.9,575.3 546.8,569.0 549.6,570.0 552.5,567.3 555.3,572.9 558.2,567.4 561.0,572.0 563.9,569.0 566.7,570.5 569.6,575.1 572.4,569.3 575.3,570.8 578.1,570.7 581.0,575.7 583.8,577.6 586.7,572.6 589.5,575.8 592.4,571.8 595.2,570.8 598.1,575.6 600.9,575.4 603.8,577.0 606.6,580.8 609.5,575.0 612.4,572.9 615.2,571.9 618.1,575.0 620.9,569.7 623.8,576.5 626.6,575.1 629.5,576.5 632.3,576.2 635.2,575.8 638.0,577.0 640.9,576.2 643.7,574.2 646.6,574.7 649.4,578.0 652.3,573.5 655.1,577.3 658.0,573.7 660.8,574.8 663.7,580.5 666.5,577.9 669.4,572.3 672.2,576.8 675.1,576.9 677.9,576.2"/>
<polyline points="538.2,579.7 541.1,566.4 543.9,571.0 546.8,570.6 549.6,569.7 552.5,568.7 555.3,565.4 558.2,563.2 561.0,569.3 563.9,568.7 566.7,566.6 569.6,568.2 572.4,565.7 575.3,583.2 578.1,578.9 581.0,587.1 583.8,580.3 586.7,580.1 589.5,575.5 592.4,584.3 595.2,580.2 598.1,580.3 600.9,584.4 603.8,581.4 606.6,584.2 609.5,585.0 612.4,585.9 615.2,582.6 618.1,584.8 620.9,587.4 623.8,581.3 626.6,586.5 629.5,580.3 632.3,581.4 635.2,584.2 638.0,586.1 640.9,584.4 643.7,585.5 646.6,583.0 649.4,583.0 652.3,575.7 655.1,587.5 658.0,583.6 660.8,580.6 663.7,579.4 666.5,578.6 669.4,584.6 672.2,580.0 675.1,589.6 677.9,582.7"/>
<polyline points="538.2,582.2 541.1,572.2 543.9,574.7 546.8,571.1 549.6,572.4 552.5,568.3 555.3,570.6 558.2,567.1 561.0,568.7 563.9,569.0 566.7,563.8 569.6,565.0 572.4,570.8 575.3,554.8 578.1,559.4 581.0,559.1 583.8,563.0 586.7,571.0 589.5,566.7 592.4,573.7 595.2,570.4 598.1,568.2 600.9,561.7 603.8,565.8 606.6,565.2 609.5,563.5 612.4,569.0 615.2,562.3 618.1,565.2 620.9,569.2 623.8,567.9 626.6,566.8 629.5,563.9 632.3,561.2 635.2,567.0 638.0,566.7 640.9,560.0 643.7,555.3 646.6,559.9 649.4,565.3 652.3,567.2 655.1,563.7 658.0,564.9 660.8,568.6 663.7,561.4 666.5,557.5 669.4,568.8 672.2,568.6 675.1,567.7 677.9,570.2"/>
<polyline points="538.2,580.1 541.1,572.1 543.9,570.6 546.8,575.8 549.6,571.6 552.5,571.1 555.3,569.5 558.2,570.5 561.0,572.6 563.9,568.3 566.7,567.5 569.6,567.4 572.4,572.3 575.3,546.9 578.1,554.6 581.0,553.0 583.8,550.2 586.7,559.1 589.5,543.1 592.4,549.3 595.2,557.1 598.1,556.4 600.9,554.5 603.8,554.8 606.6,558.9 609.5,554.8 612.4,560.3 615.2,556.7 618.1,547.3 620.9,554.5 623.8,555.8 626.6,548.2 629.5,553.0 632.3,551.8 635.2,556.5 638.0,550.0 640.9,555.6 643.7,550.9 646.6,551.8 649.4,547.5 652.3,550.4 655.1,554.3 658.0,558.4 660.8,555.4 663.7,557.0 666.5,548.3 669.4,556.0 672.2,563.2 675.1,552.8 677.9,551.1"/>
<polyline points="538.2,582.1 541.1,569.6 543.9,569.9 546.8,568.5 549.6,568.1 552.5,570.6 555.3,566.8 558.2,569.8 561.0,568.1 563.9,564.7 566.7,570.3 569.6,567.6 572.4,563.7 575.3,582.6 578.1,587.9 581.0,588.1 583.8,585.5 586.7,588.5 589.5,586.8 592.4,590.4 595.2,585.5 598.1,591.0 600.9,586.8 603.8,585.4 606.6,588.8 609.5,591.0 612.4,590.2 615.2,591.8 618.1,582.7 620.9,591.9 623.8,590.3 626.6,586.3 629.5,587.0 632.3,584.6 635.2,583.9 638.0,586.0 640.9,587.3 643.7,588.5 646.6,587.6 649.4,584.8 652.3,585.6 655.1,585.6 658.0,591.3 660.8,589.0 663.7,588.8 666.5,588.5 669.4,589.7 672.2,585.5 675.1,584.5 677.9,582.7"/>
<polyline points="538.2,579.7 541.1,571.3 543.9,572.7 546.8,568.4 549.6,575.2 552.5,571.2 555.3,574.5 558.2,568.1 561.0,572.9 563.9,572.1 566.7,569.1 569.6,571.5 572.4,568.1 575.3,576.5 578.1,570.8 581.0,580.6 583.8,579.9 586.7,576.1 589.5,577.5 592.4,576.7 595.2,578.9 598.1,575.3 600.9,577.1 603.8,574.3 606.6,582.0 609.5,577.4 612.4,578.7 615.2,577.0 618.1,580.8 620.9,575.8 623.8,581.9 626.6,575.6 629.5,576.5 632.3,583.3 635.2,577.0 638.0,583.7 640.9,576.5 643.7,582.7 646.6,578.3 649.4,578.9 652.3,582.8 655.1,583.4 658.0,576.7 660.8,579.5 663.7,575.0 666.5,578.2 669.4,570.2 672.2,577.6 675.1,573.0 677.9,577.1"/>
<polyline points="538.2,580.9 541.1,572.0 543.9,565.6 546.8,570.0 549.6,572.2 552.5,567.9 555.3,571.0 558.2,568.5 561.0,565.7 563.9,565.1 566.7,563.6 569.6,565.1 572.4,566.2 575.3,563.4 578.1,566.3 581.0,568.6 583.8,561.9 586.7,569.9 589.5,564.5 592.4,570.5 595.2,566.3 598.1,579.4 600.9,569.8 603.8,572.3 606.6,565.2 609.5,565.4 612.4,572.3 615.2,570.5 618.1,567.3 620.9,569.3 623.8,570.0 626.6,567.1 629.5,574.5 632.3,565.0 635.2,568.8 638.0,579.5 640.9,573.2 643.7,570.5 646.6,562.9 649.4,570.2 652.3,575.1 655.1,565.8 658.0,568.9 660.8,570.2 663.7,566.8 666.5,571.4 669.4,570.5 672.2,566.9 675.1,568.7 677.9,567.0"/>
<polyline points="538.2,580.7 541.1,571.9 543.9,566.5 546.8,568.3 549.6,566.9 552.5,567.1 555.3,567.4 558.2,569.4 561.0,565.8 563.9,563.2 566.7,568.3 569.6,561.3 572.4,562.0 575.3,581.6 578.1,577.8 581.0,583.4 583.8,581.0 586.7,583.8 589.5,582.4 592.4,586.0 595.2,581.4 598.1,583.9 600.9,583.5 603.8,586.4 606.6,580.9 609.5,575.8 612.4,582.0 615.2,581.5 618.1,584.2 620.9,582.3 623.8,583.4 626.6,585.3 629.5,583.5 632.3,582.5 635.2,580.2 638.0,582.0 640.9,580.3 643.7,577.5 646.6,578.6 649.4,582.2 652.3,585.9 655.1,581.6 658.0,580.9 660.8,578.4 663.7,580.7 666.5,573.5 669.4,582.0 672.2,579.3 675.1,583.6 677.9,583.9"/>
<polyline points="538.2,577.4 541.1,578.3 543.9,567.0 546.8,565.9 549.6,566.1 552.5,567.1 555.3,569.3 558.2,567.5 561.0,565.5 563.9,570.9 566.7,566.6 569.6,566.9 572.4,568.3 575.3,559.1 578.1,568.5 581.0,570.2 583.8,567.5 586.7,569.7 589.5,563.3 592.4,573.4 595.2,572.3 598.1,566.9 600.9,565.5 603.8,571.9 606.6,563.7 609.5,574.4 612.4,564.6 615.2,571.0 618.1,569.6 620.9,562.1 623.8,568.3 626.6,570.2 629.5,567.3 632.3,561.8 635.2,567.8 638.0,570.6 640.9,567.4 643.7,572.2 646.6,570.4 649.4,570.0 652.3,565.9 655.1,569.7 658.0,566.5 660.8,564.3 663.7,562.9 666.5,573.7 669.4,568.3 672.2,571.9 675.1,566.0 677.9,567.3"/>
<polyline points="538.2,582.7 541.1,575.8 543.9,568.6 546.8,571.3 549.6,570.5 552.5,569.6 555.3,568.2 558.2,565.4 561.0,570.3 563.9,568.0 566.7,573.5 569.6,570.2 572.4,570.8 575.3,583.9 578.1,580.0 581.0,583.1 583.8,583.5 586.7,583.6 589.5,584.5 592.4,584.5 595.2,585.6 598.1,585.4 600.9,585.1 603.8,584.5 606.6,588.9 609.5,583.8 612.4,584.1 615.2,582.9 618.1,586.9 620.9,586.4 623.8,582.0 626.6,585.9 629.5,582.8 632.3,585.8 635.2,587.1 638.0,587.8 640.9,585.6 643.7,585.2 646.6,587.2 649.4,580.4 652.3,584.0 655.1,586.3 658.0,580.2 660.8,581.9 663.7,586.0 666.5,586.7 669.4,584.5 672.2,582.1 675.1,587.6 677.9,581.1"/>
<polyline points="538.2,578.8 541.1,568.6 543.9,567.6 546.8,565.8 549.6,570.5 552.5,563.9 555.3,571.5 558.2,567.4 561.0,566.3 563.9,567.7 566.7,565.4 569.6,571.4 572.4,567.3 575.3,573.8 578.1,577.8 581.0,581.7 583.8,578.7 586.7,578.9 589.5,582.3 592.4,576.0 595.2,581.2 598.1,582.6 600.9,579.5 603.8,581.6 606.6,580.3 609.5,579.2 612.4,581.0 615.2,578.2 618.1,579.0 620.9,576.5 623.8,582.6 626.6,579.6 629.5,579.1 632.3,579.0 635.2,585.6 638.0,582.7 640.9,578.9 643.7,578.2 646.6,579.7 649.4,579.3 652.3,576.4 655.1,580.8 658.0,581.9 660.8,575.7 663.7,578.1 666.5,580.2 669.4,581.8 672.2,575.4 675.1,580.6 677.9,582.0"/>
<polyline points="538.2,581.9 541.1,571.3 543.9,572.9 546.8,573.2 549.6,570.7 552.5,574.5 555.3,571.9 558.2,569.4 561.0,573.7 563.9,567.4 566.7,571.1 569.6,570.6 572.4,571.4 575.3,569.8 578.1,574.2 581.0,572.9 583.8,570.3 586.7,570.6 589.5,579.0 592.4,570.6 595.2,576.1 598.1,573.8 600.9,574.4 603.8,573.9 606.6,576.5 609.5,573.0 612.4,571.7 615.2,576.5 618.1,574.8 620.9,572.3 623.8,571.6 626.6,573.8 629.5,574.0 632.3,573.3 635.2,575.8 638.0,573.8 640.9,575.6 643.7,575.8 646.6,581.7 649.4,580.1 652.3,573.7 655.1,572.6 658.0,573.4 660.8,574.5 663.7,575.7 666.5,573.1 669.4,576.0 672.2,574.8 675.1,570.3 677.9,578.9"/>
<polyline points="538.2,584.6 541.1,574.1 543.9,568.0 546.8,569.1 549.6,570.5 552.5,566.8 555.3,572.2 558.2,565.0 561.0,569.6 563.9,570.7 566.7,566.4 569.6,567.6 572.4,568.2 575.3,565.9 578.1,572.5 581.0,574.1 583.8,567.8 586.7,564.9 589.5,570.8 592.4,568.0 595.2,573.4 598.1,573.2 600.9,568.6 603.8,566.2 606.6,566.0 609.5,564.5 612.4,571.0 615.2,569.0 618.1,565.9 620.9,571.8 623.8,569.5 626.6,568.5 629.5,568.5 632.3,565.6 635.2,567.1 638.0,569.9 640.9,576.0 643.7,565.9 646.6,565.2 649.4,566.8 652.3,567.3 655.1,567.0 658.0,564.5 660.8,570.1 663.7,568.7 666.5,571.7 669.4,569.2 672.2,571.2 675.1,571.2 677.9,574.9"/>
<polyline points="538.2,585.7 541.1,566.6 543.9,569.1 546.8,570.5 549.6,567.9 552.5,569.1 555.3,568.5 558.2,564.6 561.0,567.5 563.9,566.8 566.7,568.2 569.6,567.8 572.4,569.4 575.3,569.8 578.1,573.3 581.0,568.3 583.8,573.1 586.7,570.5 589.5,569.0 592.4,569.9 595.2,575.2 598.1,568.1 600.9,579.0 603.8,568.9 606.6,580.9 609.5,576.0 612.4,573.5 615.2,575.4 618.1,579.7 620.9,577.8 623.8,572.5 626.6,578.5 629.5,571.3 632.3,569.7 635.2,569.1 638.0,572.5 640.9,573.4 643.7,574.5 646.6,564.9 649.4,569.6 652.3,571.3 655.1,572.2 658.0,569.9 660.8,579.1 663.7,570.6 666.5,575.0 669.4,580.3 672.2,569.9 675.1,575.6 677.9,571.9"/>
<polyline points="538.2,576.4 541.1,570.9 543.9,570.0 546.8,574.6 549.6,568.4 552.5,572.0 555.3,569.1 558.2,572.5 561.0,568.9 563.9,568.3 566.7,573.0 569.6,568.5 572.4,571.3 575.3,574.2 578.1,577.6 581.0,579.0 583.8,571.2 586.7,577.5 589.5,580.9 592.4,577.6 595.2,579.2 598.1,576.3 600.9,582.8 603.8,574.7 606.6,581.5 609.5,581.1 612.4,582.1 615.2,580.9 618.1,574.8 620.9,579.6 623.8,583.0 626.6,580.5 629.5,579.4 632.3,577.4 635.2,581.0 638.0,579.5 640.9,572.0 643.7,580.4 646.6,579.8 649.4,583.4 652.3,577.5 655.1,581.4 658.0,575.0 660.8,576.7 663.7,577.9 666.5,581.5 669.4,581.0 672.2,581.1 675.1,579.8 677.9,581.0"/>
<polyline points="538.2,579.7 541.1,571.9 543.9,568.1 546.8,567.5 549.6,571.2 552.5,564.4 555.3,568.6 558.2,566.3 561.0,564.5 563.9,572.4 566.7,567.5 569.6,566.3 572.4,565.4 575.3,571.1 578.1,572.0 581.0,580.2 583.8,579.2 586.7,575.2 589.5,582.9 592.4,578.7 595.2,577.8 598.1,576.2 600.9,574.7 603.8,576.6 606.6,579.7 609.5,580.1 612.4,576.2 615.2,575.7 618.1,576.3 620.9,576.9 623.8,577.0 626.6,581.3 629.5,577.4 632.3,575.2 635.2,580.6 638.0,576.1 640.9,575.3 643.7,570.6 646.6,577.5 649.4,578.1 652.3,580.8 655.1,580.5 658.0,582.0 660.8,582.5 663.7,575.3 666.5,577.4 669.4,576.5 672.2,581.9 675.1,583.2 677.9,582.4"/>
<polyline points="538.2,581.5 541.1,569.3 543.9,568.5 546.8,571.1 549.6,570.1 552.5,566.0 555.3,566.4 558.2,565.7 561.0,566.9 563.9,567.2 566.7,566.1 569.6,567.5 572.4,562.8 575.3,587.2 578.1,586.9 581.0,588.6 583.8,590.2 586.7,588.8 589.5,589.5 592.4,590.7 595.2,586.9 598.1,584.1 600.9,588.1 603.8,589.0 606.6,590.5 609.5,592.3 612.4,587.4 615.2,587.4 618.1,590.7 620.9,588.6 623.8,590.8 626.6,585.4 629.5,588.5 632.3,587.7 635.2,584.8 638.0,594.1 640.9,587.8 643.7,588.2 646.6,589.5 649.4,588.7 652.3,585.8 655.1,590.3 658.0,590.3 660.8,584.7 663.7,586.4 666.5,587.6 669.4,586.8 672.2,588.5 675.1,589.4 677.9,589.1"/>
<polyline points="538.2,584.1 541.1,571.9 543.9,570.1 546.8,570.9 549.6,568.8 552.5,569.5 555.3,567.7 558.2,569.6 561.0,570.1 563.9,568.1 566.7,567.1 569.6,570.2 572.4,571.0 575.3,520.8 578.1,533.0 581.0,530.8 583.8,536.1 586.7,533.6 589.5,528.6 592.4,527.5 595.2,541.7 598.1,542.4 600.9,551.4 603.8,533.0 606.6,528.5 609.5,534.6 612.4,537.2 615.2,532.0 618.1,540.2 620.9,532.7 623.8,529.5 626.6,530.0 629.5,532.5 632.3,538.2 635.2,537.4 638.0,540.1 640.9,527.1 643.7,530.0 646.6,536.1 649.4,536.2 652.3,534.7 655.1,538.9 658.0,533.4 660.8,533.5 663.7,533.8 666.5,535.6 669.4,547.6 672.2,536.8 675.1,542.4 677.9,543.7"/>
<polyline points="538.2,580.7 541.1,572.3 543.9,573.0 546.8,566.8 549.6,575.0 552.5,569.2 555.3,571.6 558.2,566.9 561.0,567.7 563.9,569.4 566.7,573.0 569.6,567.3 572.4,566.6 575.3,572.6 578.1,576.6 581.0,574.7 583.8,579.1 586.7,576.5 589.5,576.3 592.4,578.1 595.2,580.4 598.1,578.2 600.9,580.1 603.8,581.0 606.6,574.7 609.5,578.1 612.4,579.1 615.2,579.1 618.1,576.4 620.9,578.6 623.8,579.7 626.6,576.9 629.5,577.3 632.3,580.2 635.2,580.7 638.0,574.0 640.9,578.5 643.7,574.2 646.6,576.0 649.4,577.9 652.3,578.3 655.1,573.0 658.0,579.5 660.8,578.8 663.7,580.0 666.5,578.1 669.4,580.3 672.2,577.3 675.1,581.2 677.9,576.2"/>
<polyline points="538.2,580.9 541.1,567.6 543.9,565.2 546.8,570.2 549.6,571.5 552.5,567.9 555.3,569.8 558.2,568.8 561.0,567.3 563.9,572.0 566.7,566.8 569.6,570.9 572.4,571.2 575.3,574.9 578.1,570.6 581.0,577.4 583.8,574.6 586.7,578.9 589.5,574.6 592.4,575.5 595.2,573.2 598.1,576.0 600.9,576.6 603.8,582.0 606.6,575.7 609.5,574.3 612.4,576.0 615.2,576.1 618.1,575.0 620.9,574.1 623.8,579.2 626.6,576.8 629.5,575.4 632.3,575.9 635.2,579.4 638.0,582.4 640.9,575.7 643.7,574.5 646.6,571.8 649.4,575.4 652.3,579.1 655.1,575.3 658.0,577.0 660.8,578.6 663.7,580.8 666.5,581.9 669.4,578.7 672.2,577.8 675.1,576.5 677.9,576.6"/>
<polyline points="538.2,577.3 541.1,565.2 543.9,569.7 546.8,569.4 549.6,568.7 552.5,571.6 555.3,563.0 558.2,566.3 561.0,564.9 563.9,562.3 566.7,565.2 569.6,562.2 572.4,571.7 575.3,562.8 578.1,567.4 581.0,571.0 583.8,566.3 586.7,570.0 589.5,572.5 592.4,576.6 595.2,564.8 598.1,578.8 600.9,570.3 603.8,565.5 606.6,568.5 609.5,572.6 612.4,571.4 615.2,572.5 618.1,569.8 620.9,570.8 623.8,574.7 626.6,575.3 629.5,567.0 632.3,574.7 635.2,574.2 638.0,563.2 640.9,573.3 643.7,574.8 646.6,573.7 649.4,568.2 652.3,573.0 655.1,571.1 658.0,578.0 660.8,572.6 663.7,570.5 666.5,570.5 669.4,566.0 672.2,569.0 675.1,579.9 677.9,575.9"/>
<polyline points="538.2,580.1 541.1,570.0 543.9,575.1 546.8,576.2 549.6,568.6 552.5,572.8 555.3,576.0 558.2,572.3 561.0,570.9 563.9,572.6 566.7,572.3 569.6,566.7 572.4,571.8 575.3,562.1 578.1,563.9 581.0,566.7 583.8,558.0 586.7,570.9 589.5,557.7 592.4,569.8 595.2,567.6 598.1,565.7 600.9,563.0 603.8,564.4 606.6,567.9 609.5,567.9 612.4,562.8 615.2,561.6 618.1,568.6 620.9,562.6 623.8,564.8 626.6,565.9 629.5,570.5 632.3,571.0 635.2,565.3 638.0,576.2 640.9,568.4 643.7,565.3 646.6,572.4 649.4,561.2 652.3,561.1 655.1,570.3 658.0,567.1 660.8,567.2 663.7,568.6 666.5,568.4 669.4,565.1 672.2,561.1 675.1,566.4 677.9,566.4"/>
<polyline points="538.2,579.2 541.1,573.3 543.9,573.9 546.8,569.6 549.6,575.6 552.5,572.1 555.3,571.6 558.2,570.8 561.0,574.1 563.9,572.4 566.7,570.3 569.6,568.2 572.4,569.8 575.3,564.4 578.1,568.8 581.0,567.4 583.8,577.4 586.7,566.8 589.5,566.1 592.4,569.5 595.2,572.7 598.1,565.3 600.9,571.8 603.8,565.3 606.6,570.5 609.5,572.2 612.4,570.4 615.2,571.9 618.1,570.2 620.9,568.1 623.8,570.5 626.6,571.2 629.5,569.8 632.3,568.4 635.2,569.7 638.0,567.9 640.9,567.8 643.7,568.8 646.6,567.4 649.4,569.6 652.3,566.0 655.1,568.4 658.0,567.0 660.8,570.3 663.7,574.3 666.5,571.1 669.4,569.6 672.2,568.5 675.1,569.8 677.9,564.9"/>
<polyline points="538.2,582.6 541.1,575.2 543.9,572.8 546.8,571.0 549.6,565.8 552.5,575.4 555.3,574.7 558.2,572.0 561.0,575.3 563.9,573.3 566.7,568.2 569.6,571.3 572.4,571.0 575.3,573.3 578.1,582.5 581.0,578.4 583.8,579.4 586.7,578.8 589.5,582.5 592.4,581.1 595.2,580.3 598.1,578.0 600.9,582.0 603.8,578.4 606.6,585.9 609.5,578.9 612.4,578.0 615.2,582.6 618.1,580.9 620.9,580.1 623.8,579.3 626.6,576.8 629.5,579.6 632.3,580.7 635.2,580.6 638.0,579.3 640.9,578.0 643.7,579.4 646.6,581.6 649.4,581.0 652.3,582.2 655.1,582.5 658.0,581.4 660.8,581.7 663.7,578.0 666.5,583.3 669.4,579.9 672.2,583.3 675.1,577.9 677.9,579.3"/>
<polyline points="538.2,581.6 541.1,570.3 543.9,571.3 546.8,570.8 549.6,571.8 552.5,569.9 555.3,568.7 558.2,568.3 561.0,562.6 563.9,568.8 566.7,568.0 569.6,568.2 572.4,568.5 575.3,586.2 578.1,585.8 581.0,586.7 583.8,584.6 586.7,585.5 589.5,588.7 592.4,586.6 595.2,585.9 598.1,587.3 600.9,587.2 603.8,586.9 606.6,585.2 609.5,586.2 612.4,587.9 615.2,586.8 618.1,583.7 620.9,588.9 623.8,585.1 626.6,587.2 629.5,577.7 632.3,585.1 635.2,586.5 638.0,586.9 640.9,590.3 643.7,587.9 646.6,581.8 649.4,585.8 652.3,587.3 655.1,586.7 658.0,586.5 660.8,588.9 663.7,586.4 666.5,585.4 669.4,590.2 672.2,587.2 675.1,593.2 677.9,590.7"/>
<polyline points="538.2,573.8 541.1,572.6 543.9,569.1 546.8,569.4 549.6,565.9 552.5,567.5 555.3,567.9 558.2,566.5 561.0,568.8 563.9,565.2 566.7,568.1 569.6,564.5 572.4,566.5 575.3,572.0 578.1,577.0 581.0,578.8 583.8,579.3 586.7,573.7 589.5,581.4 592.4,571.5 595.2,576.3 598.1,579.3 600.9,574.5 603.8,579.0 606.6,575.4 609.5,576.3 612.4,572.1 615.2,572.9 618.1,572.8 620.9,576.8 623.8,571.9 626.6,575.7 629.5,575.2 632.3,574.2 635.2,574.7 638.0,579.3 640.9,573.7 643.7,580.0 646.6,574.2 649.4,575.7 652.3,575.3 655.1,578.6 658.0,572.7 660.8,575.9 663.7,573.1 666.5,577.6 669.4,577.5 672.2,575.3 675.1,572.6 677.9,579.3"/>
<polyline points="538.2,581.1 541.1,572.8 543.9,568.6 546.8,569.2 549.6,570.6 552.5,568.5 555.3,567.9 558.2,571.6 561.0,571.7 563.9,568.1 566.7,564.6 569.6,575.0 572.4,570.7 575.3,576.2 578.1,581.4 581.0,577.7 583.8,579.8 586.7,583.9 589.5,582.0 592.4,579.9 595.2,583.3 598.1,579.5 600.9,580.2 603.8,581.8 606.6,580.0 609.5,582.0 612.4,580.5 615.2,583.6 618.1,577.3 620.9,581.7 623.8,578.0 626.6,575.4 629.5,576.9 632.3,581.1 635.2,580.6 638.0,581.2 640.9,580.2 643.7,583.2 646.6,585.8 649.4,580.2 652.3,580.9 655.1,577.0 658.0,576.3 660.8,584.6 663.7,583.5 666.5,579.0 669.4,578.0 672.2,580.7 675.1,580.9 677.9,585.9"/>
<polyline points="538.2,579.4 541.1,571.2 543.9,573.5 546.8,569.1 549.6,567.5 552.5,570.9 555.3,570.2 558.2,568.8 561.0,567.9 563.9,568.0 566.7,571.9 569.6,571.8 572.4,570.7 575.3,583.1 578.1,580.7 581.0,578.4 583.8,580.1 586.7,580.9 589.5,576.4 592.4,578.0 595.2,576.7 598.1,579.4 600.9,580.1 603.8,581.4 606.6,578.4 609.5,583.9 612.4,581.4 615.2,577.4 618.1,576.7 620.9,579.2 623.8,582.2 626.6,577.5 629.5,581.0 632.3,579.4 635.2,581.7 638.0,574.1 640.9,575.0 643.7,581.3 646.6,582.2 649.4,579.2 652.3,577.3 655.1,575.7 658.0,579.2 660.8,582.4 663.7,578.2 666.5,578.3 669.4,583.3 672.2,579.7 675.1,579.8 677.9,581.7"/>
<polyline points="538.2,576.1 541.1,571.9 543.9,570.5 546.8,567.3 549.6,569.5 552.5,569.3 555.3,563.1 558.2,574.2 561.0,569.5 563.9,569.7 566.7,567.7 569.6,563.3 572.4,567.5 575.3,570.8 578.1,571.0 581.0,573.2 583.8,571.8 586.7,565.7 589.5,575.4 592.4,574.1 595.2,573.8 598.1,579.8 600.9,571.9 603.8,573.9 606.6,579.5 609.5,574.5 612.4,573.2 615.2,576.3 618.1,570.5 620.9,575.5 623.8,578.1 626.6,571.4 629.5,574.1 632.3,573.3 635.2,578.4 638.0,577.8 640.9,576.7 643.7,574.2 646.6,574.1 649.4,569.7 652.3,569.2 655.1,573.3 658.0,574.0 660.8,568.2 663.7,573.5 666.5,570.8 669.4,575.1 672.2,574.0 675.1,574.5 677.9,575.8"/>
<polyline points="538.2,581.1 541.1,571.2 543.9,566.5 546.8,575.8 549.6,571.0 552.5,569.4 555.3,571.6 558.2,568.5 561.0,569.1 563.9,569.0 566.7,571.0 569.6,570.3 572.4,570.2 575.3,568.5 578.1,567.1 581.0,572.2 583.8,572.6 586.7,574.4 589.5,567.1 592.4,572.4 595.2,573.5 598.1,568.4 600.9,572.2 603.8,569.9 606.6,571.5 609.5,569.8 612.4,570.4 615.2,577.5 618.1,566.5 620.9,567.9 623.8,575.4 626.6,568.2 629.5,571.6 632.3,570.6 635.2,567.0 638.0,567.9 640.9,568.0 643.7,564.8 646.6,567.6 649.4,572.8 652.3,574.9 655.1,568.4 658.0,576.2 660.8,572.0 663.7,572.0 666.5,573.1 669.4,566.8 672.2,570.0 675.1,571.6 677.9,568.2"/>
<polyline points="538.2,573.5 541.1,569.9 543.9,569.3 546.8,566.0 549.6,573.1 552.5,571.3 555.3,570.6 558.2,571.8 561.0,567.8 563.9,566.9 566.7,567.5 569.6,567.3 572.4,564.9 575.3,526.0 578.1,527.2 581.0,534.7 583.8,534.6 586.7,528.5 589.5,533.6 592.4,529.6 595.2,537.8 598.1,535.9 600.9,538.7 603.8,535.9 606.6,533.9 609.5,537.9 612.4,526.9 615.2,542.6 618.1,531.9 620.9,540.8 623.8,534.5 626.6,539.3 629.5,535.5 632.3,535.5 635.2,539.5 638.0,541.4 640.9,539.1 643.7,535.7 646.6,532.2 649.4,528.5 652.3,543.7 655.1,533.8 658.0,538.0 660.8,535.8 663.7,534.4 666.5,532.2 669.4,534.0 672.2,536.0 675.1,528.8 677.9,534.6"/>
<polyline points="538.2,581.1 541.1,571.9 543.9,565.6 546.8,569.3 549.6,572.8 552.5,566.6 555.3,565.4 558.2,569.9 561.0,570.9 563.9,567.8 566.7,566.7 569.6,568.7 572.4,569.3 575.3,529.2 578.1,533.5 581.0,545.1 583.8,544.7 586.7,542.3 589.5,544.1 592.4,540.9 595.2,539.9 598.1,534.3 600.9,540.7 603.8,538.4 606.6,548.9 609.5,545.3 612.4,537.9 615.2,548.5 618.1,536.7 620.9,540.0 623.8,541.8 626.6,542.9 629.5,547.3 632.3,547.0 635.2,544.6 638.0,544.2 640.9,537.2 643.7,546.7 646.6,545.0 649.4,549.8 652.3,541.7 655.1,542.4 658.0,537.7 660.8,534.2 663.7,540.1 666.5,546.0 669.4,541.4 672.2,541.2 675.1,542.6 677.9,547.0"/>
<polyline points="538.2,581.6 541.1,573.5 543.9,578.1 546.8,570.5 549.6,566.7 552.5,572.4 555.3,572.8 558.2,569.0 561.0,574.0 563.9,570.7 566.7,570.0 569.6,571.7 572.4,570.4 575.3,540.1 578.1,542.9 581.0,540.1 583.8,547.8 586.7,547.5 589.5,548.5 592.4,543.9 595.2,547.7 598.1,549.8 600.9,545.0 603.8,554.6 606.6,554.2 609.5,545.3 612.4,538.9 615.2,548.5 618.1,545.1 620.9,552.1 623.8,546.0 626.6,545.7 629.5,544.1 632.3,549.5 635.2,538.6 638.0,550.4 640.9,540.3 643.7,550.9 646.6,543.3 649.4,541.0 652.3,537.6 655.1,546.9 658.0,553.2 660.8,543.0 663.7,549.4 666.5,550.8 669.4,548.9 672.2,550.2 675.1,543.4 677.9,545.7"/>
<polyline points="538.2,579.7 541.1,568.4 543.9,566.6 546.8,564.9 549.6,568.6 552.5,569.4 555.3,570.8 558.2,569.4 561.0,568.2 563.9,567.5 566.7,571.0 569.6,568.6 572.4,568.0 575.3,551.3 578.1,553.7 581.0,551.5 583.8,557.3 586.7,552.4 589.5,558.5 592.4,553.9 595.2,558.9 598.1,550.5 600.9,552.1 603.8,549.9 606.6,558.0 609.5,559.8 612.4,559.8 615.2,555.8 618.1,551.0 620.9,552.3 623.8,552.5 626.6,559.5 629.5,550.9 632.3,552.2 635.2,557.0 638.0,564.4 640.9,557.9 643.7,555.4 646.6,549.1 649.4,554.1 652.3,555.2 655.1,549.0 658.0,549.2 660.8,553.5 663.7,552.6 666.5,550.3 669.4,557.6 672.2,553.4 675.1,556.5 677.9,558.5"/>
<polyline points="538.2,574.0 541.1,567.9 543.9,566.4 546.8,569.3 549.6,572.2 552.5,570.0 555.3,567.3 558.2,569.5 561.0,563.4 563.9,564.9 566.7,568.0 569.6,563.3 572.4,565.6 575.3,526.6 578.1,537.9 581.0,535.9 583.8,541.5 586.7,541.2 589.5,536.9 592.4,533.9 595.2,541.7 598.1,541.0 600.9,546.1 603.8,543.3 606.6,540.3 609.5,547.8 612.4,544.3 615.2,547.2 618.1,541.6 620.9,538.7 623.8,541.0 626.6,543.7 629.5,546.8 632.3,549.4 635.2,542.4 638.0,536.0 640.9,543.6 643.7,542.8 646.6,544.4 649.4,547.3 652.3,537.9 655.1,539.4 658.0,548.8 660.8,547.8 663.7,536.7 666.5,546.2 669.4,542.7 672.2,546.9 675.1,541.1 677.9,545.8"/>
<polyline points="538.2,582.7 541.1,575.2 543.9,567.4 546.8,565.5 549.6,571.0 552.5,569.7 555.3,569.8 558.2,570.9 561.0,570.9 563.9,571.4 566.7,568.5 569.6,573.1 572.4,572.0 575.3,532.2 578.1,544.8 581.0,534.6 583.8,543.9 586.7,542.8 589.5,538.6 592.4,544.6 595.2,544.1 598.1,547.2 600.9,542.7 603.8,541.9 606.6,548.6 609.5,542.1 612.4,540.8 615.2,542.9 618.1,548.0 620.9,541.0 623.8,539.2 626.6,547.0 629.5,552.6 632.3,547.9 635.2,544.8 638.0,539.5 640.9,539.9 643.7,542.0 646.6,547.6 649.4,541.7 652.3,544.9 655.1,549.2 658.0,552.4 660.8,540.7 663.7,551.7 666.5,539.7 669.4,535.5 672.2,544.8 675.1,548.4 677.9,547.6"/>
<polyline points="538.2,576.9 541.1,572.4 543.9,570.7 546.8,571.3 549.6,566.8 552.5,567.0 555.3,571.2 558.2,569.7 561.0,568.4 563.9,572.9 566.7,569.7 569.6,567.9 572.4,571.4 575.3,564.3 578.1,566.0 581.0,568.7 583.8,564.0 586.7,570.6 589.5,566.4 592.4,568.7 595.2,564.4 598.1,570.5 600.9,566.1 603.8,566.0 606.6,564.4 609.5,562.9 612.4,572.9 615.2,568.3 618.1,571.5 620.9,564.9 623.8,563.7 626.6,569.0 629.5,567.3 632.3,563.8 635.2,567.4 638.0,568.5 640.9,573.3 643.7,570.3 646.6,564.8 649.4,572.7 652.3,567.1 655.1,567.3 658.0,568.1 660.8,565.5 663.7,570.4 666.5,563.6 669.4,569.4 672.2,564.8 675.1,569.9 677.9,567.2"/>
<polyline points="538.2,580.1 541.1,570.4 543.9,564.8 546.8,566.1 549.6,567.9 552.5,568.3 555.3,570.5 558.2,567.9 561.0,566.2 563.9,564.0 566.7,564.5 569.6,563.1 572.4,565.4 575.3,541.0 578.1,542.2 581.0,535.9 583.8,542.9 586.7,538.0 589.5,551.0 592.4,546.6 595.2,548.0 598.1,543.6 600.9,548.1 603.8,550.4 606.6,545.2 609.5,554.5 612.4,547.3 615.2,543.1 618.1,549.7 620.9,545.1 623.8,548.6 626.6,546.3 629.5,543.8 632.3,542.9 635.2,543.0 638.0,548.0 640.9,538.4 643.7,543.5 646.6,547.6 649.4,539.2 652.3,546.5 655.1,536.6 658.0,541.3 660.8,545.3 663.7,546.9 666.5,548.4 669.4,548.2 672.2,546.0 675.1,539.1 677.9,544.1"/>
<polyline points="538.2,579.9 541.1,573.5 543.9,573.4 546.8,566.2 549.6,570.1 552.5,565.4 555.3,564.5 558.2,568.2 561.0,566.8 563.9,569.3 566.7,568.6 569.6,567.9 572.4,567.9 575.3,529.1 578.1,538.2 581.0,535.0 583.8,539.2 586.7,537.4 589.5,532.3 592.4,547.5 595.2,535.5 598.1,543.6 600.9,539.9 603.8,542.4 606.6,543.0 609.5,546.9 612.4,552.8 615.2,531.3 618.1,537.0 620.9,541.9 623.8,549.2 626.6,537.9 629.5,533.8 632.3,538.9 635.2,548.5 638.0,543.2 640.9,539.7 643.7,541.2 646.6,535.9 649.4,545.2 652.3,543.8 655.1,552.1 658.0,535.8 660.8,538.0 663.7,542.8 666.5,549.0 669.4,537.0 672.2,547.3 675.1,546.7 677.9,549.6"/>
<polyline points="538.2,583.7 541.1,569.6 543.9,569.9 546.8,571.3 549.6,572.7 552.5,571.2 555.3,574.2 558.2,569.7 561.0,572.9 563.9,571.6 566.7,569.3 569.6,572.1 572.4,573.2 575.3,537.7 578.1,551.3 581.0,550.5 583.8,550.6 586.7,549.1 589.5,546.9 592.4,560.3 595.2,548.7 598.1,540.5 600.9,541.5 603.8,542.8 606.6,547.0 609.5,545.7 612.4,549.0 615.2,553.9 618.1,545.1 620.9,542.0 623.8,545.4 626.6,546.8 629.5,542.9 632.3,545.3 635.2,541.8 638.0,548.5 640.9,554.4 643.7,544.5 646.6,542.8 649.4,550.0 652.3,545.6 655.1,543.5 658.0,558.5 660.8,536.0 663.7,543.3 666.5,547.5 669.4,551.7 672.2,553.5 675.1,532.2 677.9,548.1"/>
<polyline points="538.2,581.5 541.1,570.4 543.9,573.7 546.8,571.4 549.6,571.5 552.5,569.6 555.3,568.4 558.2,570.9 561.0,566.7 563.9,571.2 566.7,570.8 569.6,569.4 572.4,570.1 575.3,559.1 578.1,573.1 581.0,570.0 583.8,571.9 586.7,559.6 589.5,561.8 592.4,567.2 595.2,563.5 598.1,571.1 600.9,566.0 603.8,559.7 606.6,562.6 609.5,557.4 612.4,566.7 615.2,560.9 618.1,564.5 620.9,563.8 623.8,564.0 626.6,562.2 629.5,560.2 632.3,564.7 635.2,563.6 638.0,565.3 640.9,563.9 643.7,567.8 646.6,561.4 649.4,562.4 652.3,563.7 655.1,564.9 658.0,567.2 660.8,568.2 663.7,568.8 666.5,567.7 669.4,561.6 672.2,563.4 675.1,569.9 677.9,568.3"/>
<polyline points="538.2,575.3 541.1,563.4 543.9,569.8 546.8,566.8 549.6,569.3 552.5,561.9 555.3,566.2 558.2,566.0 561.0,566.0 563.9,568.4 566.7,566.7 569.6,572.1 572.4,567.2 575.3,556.8 578.1,552.0 581.0,551.2 583.8,556.0 586.7,561.5 589.5,562.0 592.4,555.1 595.2,559.1 598.1,559.1 600.9,562.3 603.8,557.3 606.6,557.4 609.5,555.1 612.4,561.8 615.2,558.3 618.1,563.6 620.9,557.3 623.8,558.2 626.6,559.6 629.5,554.8 632.3,563.1 635.2,552.2 638.0,556.6 640.9,556.0 643.7,557.1 646.6,560.9 649.4,560.3 652.3,554.5 655.1,558.2 658.0,557.0 660.8,559.5 663.7,554.9 666.5,555.7 669.4,563.1 672.2,550.7 675.1,554.2 677.9,555.0"/>
<polyline points="538.2,577.4 541.1,564.4 543.9,570.4 546.8,572.8 549.6,569.9 552.5,569.4 555.3,567.0 558.2,572.3 561.0,570.2 563.9,569.7 566.7,566.2 569.6,565.7 572.4,567.8 575.3,555.9 578.1,561.6 581.0,563.1 583.8,572.3 586.7,568.0 589.5,569.1 592.4,563.8 595.2,565.3 598.1,569.3 600.9,565.5 603.8,566.1 606.6,564.4 609.5,567.6 612.4,568.2 615.2,561.5 618.1,566.7 620.9,562.2 623.8,568.8 626.6,566.6 629.5,566.9 632.3,569.1 635.2,563.3 638.0,570.4 640.9,565.0 643.7,573.2 646.6,563.4 649.4,565.7 652.3,561.9 655.1,558.8 658.0,568.2 660.8,565.8 663.7,570.3 666.5,567.4 669.4,565.6 672.2,565.7 675.1,563.1 677.9,564.1"/>
<polyline points="538.2,580.3 541.1,574.5 543.9,571.7 546.8,577.9 549.6,571.1 552.5,570.6 555.3,571.7 558.2,571.3 561.0,574.4 563.9,571.6 566.7,571.3 569.6,569.0 572.4,568.3 575.3,555.1 578.1,556.2 581.0,555.7 583.8,561.2 586.7,554.6 589.5,551.1 592.4,557.4 595.2,560.8 598.1,558.2 600.9,554.7 603.8,554.4 606.6,564.1 609.5,557.9 612.4,561.9 615.2,560.8 618.1,558.1 620.9,557.2 623.8,560.2 626.6,562.3 629.5,559.9 632.3,563.0 635.2,552.7 638.0,565.0 640.9,556.9 643.7,558.7 646.6,559.1 649.4,563.1 652.3,561.0 655.1,560.4 658.0,561.2 660.8,560.1 663.7,558.8 666.5,560.8 669.4,557.5 672.2,556.5 675.1,561.2 677.9,556.5"/>
<polyline points="538.2,579.4 541.1,569.1 543.9,572.0 546.8,575.5 549.6,568.9 552.5,568.2 555.3,573.2 558.2,570.6 561.0,568.9 563.9,575.7 566.7,567.8 569.6,567.7 572.4,567.3 575.3,548.6 578.1,559.6 581.0,552.9 583.8,548.5 586.7,565.9 589.5,559.0 592.4,555.0 595.2,560.5 598.1,564.7 600.9,556.6 603.8,557.2 606.6,560.6 609.5,557.0 612.4,554.4 615.2,554.1 618.1,556.3 620.9,562.6 623.8,559.1 626.6,566.5 629.5,561.9 632.3,557.3 635.2,555.8 638.0,558.0 640.9,558.0 643.7,565.3 646.6,562.8 649.4,562.3 652.3,560.2 655.1,560.2 658.0,549.7 660.8,554.1 663.7,561.8 666.5,560.5 669.4,560.0 672.2,560.2 675.1,559.9 677.9,565.7"/>
<polyline points="538.2,577.5 541.1,570.1 543.9,568.6 546.8,570.4 549.6,574.2 552.5,568.8 555.3,568.9 558.2,572.0 561.0,574.1 563.9,565.6 566.7,570.7 569.6,568.5 572.4,569.6 575.3,527.8 578.1,544.6 581.0,534.5 583.8,551.7 586.7,536.5 589.5,543.3 592.4,551.5 595.2,541.1 598.1,541.7 600.9,548.8 603.8,539.9 606.6,541.6 609.5,539.3 612.4,547.9 615.2,544.9 618.1,545.9 620.9,541.0 623.8,543.9 626.6,546.1 629.5,535.3 632.3,544.0 635.2,536.6 638.0,537.7 640.9,544.8 643.7,549.9 646.6,540.6 649.4,538.4 652.3,536.2 655.1,539.8 658.0,539.6 660.8,544.4 663.7,544.8 666.5,526.9 669.4,536.3 672.2,547.6 675.1,540.1 677.9,539.4"/>
<polyline points="538.2,579.0 541.1,567.6 543.9,567.0 546.8,571.7 549.6,571.4 552.5,571.6 555.3,569.7 558.2,567.9 561.0,572.5 563.9,570.1 566.7,571.0 569.6,571.3 572.4,570.4 575.3,528.6 578.1,531.8 581.0,534.7 583.8,549.7 586.7,541.5 589.5,532.5 592.4,541.6 595.2,546.8 598.1,541.0 600.9,544.9 603.8,545.6 606.6,542.6 609.5,541.7 612.4,544.6 615.2,543.9 618.1,548.4 620.9,544.0 623.8,540.6 626.6,543.4 629.5,544.6 632.3,550.3 635.2,538.8 638.0,549.0 640.9,540.8 643.7,545.4 646.6,540.2 649.4,539.1 652.3,545.2 655.1,557.4 658.0,552.9 660.8,548.2 663.7,547.9 666.5,542.5 669.4,534.9 672.2,540.8 675.1,544.4 677.9,537.8"/>
<polyline points="538.2,577.9 541.1,574.9 543.9,567.0 546.8,564.8 549.6,569.9 552.5,566.9 555.3,567.4 558.2,569.1 561.0,569.2 563.9,565.6 566.7,569.5 569.6,569.1 572.4,565.4 575.3,559.6 578.1,559.3 581.0,567.7 583.8,571.0 586.7,563.2 589.5,572.3 592.4,568.7 595.2,568.1 598.1,561.6 600.9,567.4 603.8,571.6 606.6,567.6 609.5,563.0 612.4,573.6 615.2,572.0 618.1,564.0 620.9,567.1 623.8,570.9 626.6,568.2 629.5,567.3 632.3,571.4 635.2,569.4 638.0,562.6 640.9,566.4 643.7,563.7 646.6,567.6 649.4,569.4 652.3,566.5 655.1,570.6 658.0,566.3 660.8,568.5 663.7,568.5 666.5,568.4 669.4,570.7 672.2,562.9 675.1,572.6 677.9,566.8"/>
<polyline points="538.2,579.2 541.1,569.5 543.9,568.2 546.8,568.2 549.6,568.5 552.5,567.8 555.3,567.7 558.2,569.5 561.0,568.9 563.9,568.6 566.7,569.6 569.6,569.0 572.4,564.1 575.3,541.3 578.1,529.6 581.0,541.2 583.8,536.9 586.7,540.3 589.5,541.5 592.4,538.4 595.2,533.3 598.1,541.6 600.9,541.3 603.8,543.6 606.6,532.0 609.5,535.9 612.4,536.1 615.2,541.1 618.1,549.8 620.9,539.0 623.8,549.3 626.6,544.1 629.5,536.8 632.3,543.9 635.2,544.3 638.0,550.9 640.9,538.0 643.7,539.3 646.6,543.4 649.4,539.6 652.3,548.5 655.1,545.5 658.0,540.3 660.8,537.2 663.7,541.4 666.5,546.8 669.4,543.5 672.2,536.2 675.1,543.9 677.9,540.1"/>
<polyline points="538.2,580.6 541.1,576.4 543.9,572.7 546.8,571.0 549.6,569.3 552.5,567.5 555.3,571.7 558.2,569.2 561.0,570.5 563.9,571.9 566.7,571.7 569.6,569.7 572.4,569.4 575.3,542.8 578.1,530.1 581.0,543.6 583.8,541.5 586.7,546.0 589.5,533.1 592.4,555.1 595.2,547.1 598.1,544.8 600.9,540.5 603.8,545.9 606.6,550.0 609.5,538.9 612.4,542.8 615.2,546.8 618.1,546.8 620.9,546.8 623.8,545.0 626.6,553.1 629.5,545.1 632.3,548.4 635.2,543.6 638.0,544.3 640.9,550.3 643.7,539.9 646.6,542.5 649.4,549.6 652.3,550.3 655.1,548.7 658.0,544.3 660.8,540.3 663.7,549.6 666.5,549.1 669.4,543.5 672.2,546.0 675.1,546.0 677.9,546.3"/>
<polyline points="538.2,575.2 541.1,569.8 543.9,565.2 546.8,563.4 549.6,566.7 552.5,566.9 555.3,568.7 558.2,567.0 561.0,566.6 563.9,563.7 566.7,569.1 569.6,570.6 572.4,567.6 575.3,555.8 578.1,566.0 581.0,560.3 583.8,563.1 586.7,564.6 589.5,560.2 592.4,556.6 595.2,565.9 598.1,560.2 600.9,561.6 603.8,558.7 606.6,561.0 609.5,563.4 612.4,557.8 615.2,559.5 618.1,564.8 620.9,568.3 623.8,563.7 626.6,560.4 629.5,558.3 632.3,563.2 635.2,562.5 638.0,567.7 640.9,562.8 643.7,560.7 646.6,563.2 649.4,561.5 652.3,564.7 655.1,564.4 658.0,560.1 660.8,566.7 663.7,561.1 666.5,556.8 669.4,563.2 672.2,562.9 675.1,564.2 677.9,565.8"/>
<polyline points="538.2,582.3 541.1,574.5 543.9,575.2 546.8,572.2 549.6,569.6 552.5,569.9 555.3,572.4 558.2,571.6 561.0,573.9 563.9,571.7 566.7,569.3 569.6,568.9 572.4,567.3 575.3,549.4 578.1,539.9 581.0,546.5 583.8,542.8 586.7,549.8 589.5,545.2 592.4,550.6 595.2,554.9 598.1,549.4 600.9,552.8 603.8,551.0 606.6,548.7 609.5,547.7 612.4,548.2 615.2,546.9 618.1,557.2 620.9,546.1 623.8,554.3 626.6,550.5 629.5,552.5 632.3,555.6 635.2,547.3 638.0,555.0 640.9,553.1 643.7,544.9 646.6,560.1 649.4,557.7 652.3,547.0 655.1,552.6 658.0,547.7 660.8,550.9 663.7,552.8 666.5,548.0 669.4,553.7 672.2,553.1 675.1,549.9 677.9,555.3"/>
<polyline points="538.2,580.1 541.1,569.0 543.9,570.1 546.8,574.4 549.6,573.9 552.5,574.9 555.3,572.3 558.2,569.5 561.0,572.1 563.9,571.8 566.7,579.5 569.6,570.6 572.4,574.1 575.3,566.3 578.1,566.3 581.0,568.3 583.8,567.0 586.7,564.9 589.5,577.4 592.4,575.2 595.2,565.0 598.1,568.8 600.9,572.7 603.8,571.3 606.6,570.4 609.5,567.1 612.4,571.5 615.2,570.5 618.1,574.8 620.9,565.7 623.8,569.0 626.6,572.0 629.5,574.8 632.3,570.5 635.2,567.6 638.0,563.0 640.9,564.3 643.7,571.6 646.6,571.8 649.4,573.6 652.3,568.9 655.1,572.8 658.0,568.5 660.8,569.4 663.7,569.0 666.5,573.5 669.4,566.7 672.2,571.0 675.1,574.3 677.9,570.5"/>
<polyline points="538.2,577.6 541.1,568.2 543.9,564.9 546.8,570.6 549.6,567.1 552.5,576.4 555.3,565.1 558.2,569.6 561.0,566.2 563.9,569.8 566.7,567.7 569.6,567.3 572.4,570.1 575.3,566.7 578.1,575.7 581.0,564.9 583.8,567.8 586.7,568.3 589.5,563.6 592.4,566.6 595.2,567.1 598.1,574.2 600.9,567.4 603.8,568.9 606.6,564.6 609.5,569.6 612.4,572.0 615.2,568.7 618.1,561.8 620.9,570.9 623.8,563.6 626.6,568.5 629.5,574.7 632.3,565.9 635.2,560.0 638.0,566.4 640.9,571.5 643.7,568.7 646.6,570.9 649.4,558.3 652.3,566.1 655.1,575.9 658.0,565.2 660.8,566.4 663.7,571.4 666.5,570.0 669.4,568.2 672.2,562.2 675.1,569.7 677.9,570.5"/>
<polyline points="538.2,583.4 541.1,572.5 543.9,569.4 546.8,570.9 549.6,572.0 552.5,567.3 555.3,567.2 558.2,574.5 561.0,573.2 563.9,572.4 566.7,570.4 569.6,569.3 572.4,569.7 575.3,556.4 578.1,557.9 581.0,565.7 583.8,569.9 586.7,561.8 589.5,558.8 592.4,562.8 595.2,565.1 598.1,561.7 600.9,564.9 603.8,568.4 606.6,565.1 609.5,561.1 612.4,562.6 615.2,561.4 618.1,565.6 620.9,561.8 623.8,558.7 626.6,565.0 629.5,565.5 632.3,559.4 635.2,563.4 638.0,567.9 640.9,565.3 643.7,559.1 646.6,562.5 649.4,557.2 652.3,561.5 655.1,562.9 658.0,560.0 660.8,565.9 663.7,560.0 666.5,564.1 669.4,564.6 672.2,562.4 675.1,565.4 677.9,567.7"/>
<polyline points="538.2,578.4 541.1,570.3 543.9,568.0 546.8,571.8 549.6,570.4 552.5,565.2 555.3,571.4 558.2,565.6 561.0,569.3 563.9,567.1 566.7,567.7 569.6,568.7 572.4,567.6 575.3,528.9 578.1,540.0 581.0,543.3 583.8,536.6 586.7,543.0 589.5,542.5 592.4,542.9 595.2,544.1 598.1,550.4 600.9,542.8 603.8,544.5 606.6,548.5 609.5,545.0 612.4,541.4 615.2,534.8 618.1,544.9 620.9,536.5 623.8,544.5 626.6,540.4 629.5,543.6 632.3,539.1 635.2,541.9 638.0,544.2 640.9,549.4 643.7,538.1 646.6,549.2 649.4,545.2 652.3,534.6 655.1,541.4 658.0,542.1 660.8,541.9 663.7,541.4 666.5,544.0 669.4,540.9 672.2,543.2 675.1,543.9 677.9,540.4"/>
<polyline points="538.2,577.0 541.1,566.0 543.9,565.7 546.8,569.5 549.6,572.2 552.5,566.5 555.3,568.9 558.2,567.1 561.0,569.7 563.9,566.5 566.7,571.1 569.6,567.8 572.4,571.3 575.3,554.5 578.1,564.4 581.0,571.9 583.8,561.4 586.7,563.0 589.5,561.9 592.4,570.4 595.2,565.5 598.1,562.5 600.9,567.5 603.8,565.6 606.6,567.6 609.5,568.0 612.4,562.3 615.2,569.5 618.1,566.8 620.9,565.0 623.8,566.8 626.6,564.1 629.5,573.5 632.3,563.1 635.2,570.9 638.0,567.6 640.9,568.1 643.7,565.4 646.6,567.5 649.4,568.3 652.3,564.6 655.1,560.1 658.0,569.0 660.8,569.1 663.7,568.9 666.5,571.0 669.4,571.0 672.2,568.5 675.1,564.6 677.9,568.6"/>
<polyline points="538.2,581.8 541.1,564.6 543.9,566.7 546.8,570.2 549.6,574.2 552.5,571.3 555.3,571.9 558.2,571.7 561.0,574.6 563.9,570.4 566.7,570.4 569.6,570.4 572.4,571.7 575.3,555.2 578.1,562.1 581.0,568.6 583.8,565.3 586.7,559.5 589.5,558.5 592.4,566.8 595.2,563.6 598.1,561.2 600.9,560.0 603.8,564.8 606.6,562.2 609.5,564.7 612.4,569.5 615.2,560.0 618.1,563.5 620.9,561.8 623.8,564.0 626.6,566.3 629.5,564.9 632.3,562.1 635.2,567.7 638.0,557.9 640.9,555.3 643.7,571.2 646.6,560.1 649.4,564.8 652.3,561.1 655.1,562.6 658.0,563.9 660.8,560.1 663.7,562.9 666.5,558.1 669.4,562.1 672.2,568.2 675.1,563.8 677.9,563.2"/>
<polyline points="538.2,576.6 541.1,572.9 543.9,572.1 546.8,575.8 549.6,570.3 552.5,571.7 555.3,568.6 558.2,567.0 561.0,572.4 563.9,572.4 566.7,567.7 569.6,567.7 572.4,569.3 575.3,543.2 578.1,550.1 581.0,550.7 583.8,551.6 586.7,560.6 589.5,549.8 592.4,549.8 595.2,556.6 598.1,555.2 600.9,552.0 603.8,550.4 606.6,553.1 609.5,555.0 612.4,551.6 615.2,552.7 618.1,557.1 620.9,554.5 623.8,554.7 626.6,550.6 629.5,558.3 632.3,556.4 635.2,554.7 638.0,553.1 640.9,544.0 643.7,553.9 646.6,549.1 649.4,550.2 652.3,548.2 655.1,546.5 658.0,551.0 660.8,557.0 663.7,554.6 666.5,547.4 669.4,544.8 672.2,548.2 675.1,543.9 677.9,550.5"/>
<polyline points="538.2,578.9 541.1,568.7 543.9,568.2 546.8,572.1 549.6,567.0 552.5,571.0 555.3,568.8 558.2,567.7 561.0,567.4 563.9,567.6 566.7,570.0 569.6,568.8 572.4,566.1 575.3,553.6 578.1,558.4 581.0,564.8 583.8,556.1 586.7,560.0 589.5,556.9 592.4,561.1 595.2,558.9 598.1,558.7 600.9,553.8 603.8,560.6 606.6,561.8 609.5,557.0 612.4,554.3 615.2,560.8 618.1,555.5 620.9,557.4 623.8,555.5 626.6,564.4 629.5,557.1 632.3,558.4 635.2,556.6 638.0,560.0 640.9,557.9 643.7,565.6 646.6,557.5 649.4,552.3 652.3,556.7 655.1,557.2 658.0,556.1 660.8,552.2 663.7,560.0 666.5,562.9 669.4,561.6 672.2,560.0 675.1,557.1 677.9,554.4"/>
<polyline points="538.2,579.0 541.1,569.9 543.9,573.7 546.8,569.7 549.6,571.8 552.5,572.4 555.3,571.3 558.2,572.9 561.0,574.8 563.9,573.9 566.7,572.1 569.6,569.4 572.4,569.0 575.3,559.5 578.1,566.5 581.0,564.8 583.8,570.1 586.7,568.9 589.5,562.3 592.4,566.4 595.2,559.6 598.1,563.7 600.9,567.7 603.8,568.4 606.6,573.1 609.5,561.7 612.4,562.7 615.2,553.9 618.1,559.1 620.9,565.0 623.8,569.6 626.6,572.1 629.5,567.4 632.3,566.2 635.2,571.1 638.0,563.7 640.9,562.8 643.7,569.4 646.6,567.0 649.4,570.9 652.3,562.7 655.1,569.1 658.0,570.0 660.8,572.8 663.7,569.6 666.5,572.0 669.4,562.5 672.2,564.0 675.1,570.3 677.9,569.2"/>
<polyline points="538.2,582.3 541.1,567.7 543.9,568.8 546.8,565.2 549.6,576.8 552.5,573.7 555.3,567.8 558.2,568.9 561.0,569.9 563.9,571.9 566.7,567.6 569.6,569.9 572.4,565.1 575.3,541.7 578.1,545.1 581.0,557.9 583.8,550.2 586.7,545.0 589.5,545.0 592.4,547.6 595.2,548.2 598.1,555.9 600.9,547.0 603.8,545.4 606.6,551.2 609.5,550.9 612.4,553.6 615.2,552.2 618.1,554.2 620.9,551.1 623.8,553.7 626.6,559.1 629.5,555.5 632.3,551.3 635.2,552.1 638.0,547.1 640.9,549.1 643.7,547.8 646.6,553.2 649.4,548.7 652.3,555.8 655.1,555.7 658.0,549.4 660.8,552.0 663.7,556.2 666.5,549.1 669.4,547.1 672.2,549.9 675.1,547.7 677.9,549.2"/>
<polyline points="538.2,585.6 541.1,573.1 543.9,579.6 546.8,572.8 549.6,574.0 552.5,570.7 555.3,572.6 558.2,570.6 561.0,572.7 563.9,570.9 566.7,566.3 569.6,572.4 572.4,574.0 575.3,513.0 578.1,521.4 581.0,528.5 583.8,532.3 586.7,530.0 589.5,534.0 592.4,527.8 595.2,534.4 598.1,536.1 600.9,530.4 603.8,537.1 606.6,530.5 609.5,539.1 612.4,535.9 615.2,532.4 618.1,536.7 620.9,528.4 623.8,533.7 626.6,532.2 629.5,543.0 632.3,530.5 635.2,532.9 638.0,543.0 640.9,532.1 643.7,531.6 646.6,536.8 649.4,538.7 652.3,540.2 655.1,533.2 658.0,533.1 660.8,534.3 663.7,523.4 666.5,533.4 669.4,532.5 672.2,541.1 675.1,531.8 677.9,528.7"/>
</g>
<polyline points="538.2,579.8 541.1,570.4 543.9,570.7 546.8,570.2 549.6,570.2 552.5,570.0 555.3,570.7 558.2,569.2 561.0,570.1 563.9,568.7 566.7,569.3 569.6,568.9 572.4,567.7 575.3,563.5 578.1,564.2 581.0,565.2 583.8,565.2 586.7,565.3 589.5,565.0 592.4,566.5 595.2,565.7 598.1,565.5 600.9,565.4 603.8,566.0 606.6,565.7 609.5,565.1 612.4,565.6 615.2,565.0 618.1,566.2 620.9,566.0 623.8,565.7 626.6,566.1 629.5,565.5 632.3,566.1 635.2,565.6 638.0,566.3 640.9,566.0 643.7,565.7 646.6,565.6 649.4,566.1 652.3,566.3 655.1,565.6 658.0,566.1 660.8,565.6 663.7,565.3 666.5,565.5 669.4,566.3 672.2,565.3 675.1,565.4 677.9,566.0" fill="none" stroke="#ff0000" stroke-width="2.8" stroke-linejoin="round"/>
<line x1="573.8" y1="495.8" x2="573.8" y2="599.5" stroke="#0000ff" stroke-width="1.6" stroke-dasharray="5.5 2.4"/>
<rect x="531.3" y="494.3" width="153.6" height="105.2" fill="none" stroke="#222" stroke-width="0.85"/>
</svg>
</body></html>
